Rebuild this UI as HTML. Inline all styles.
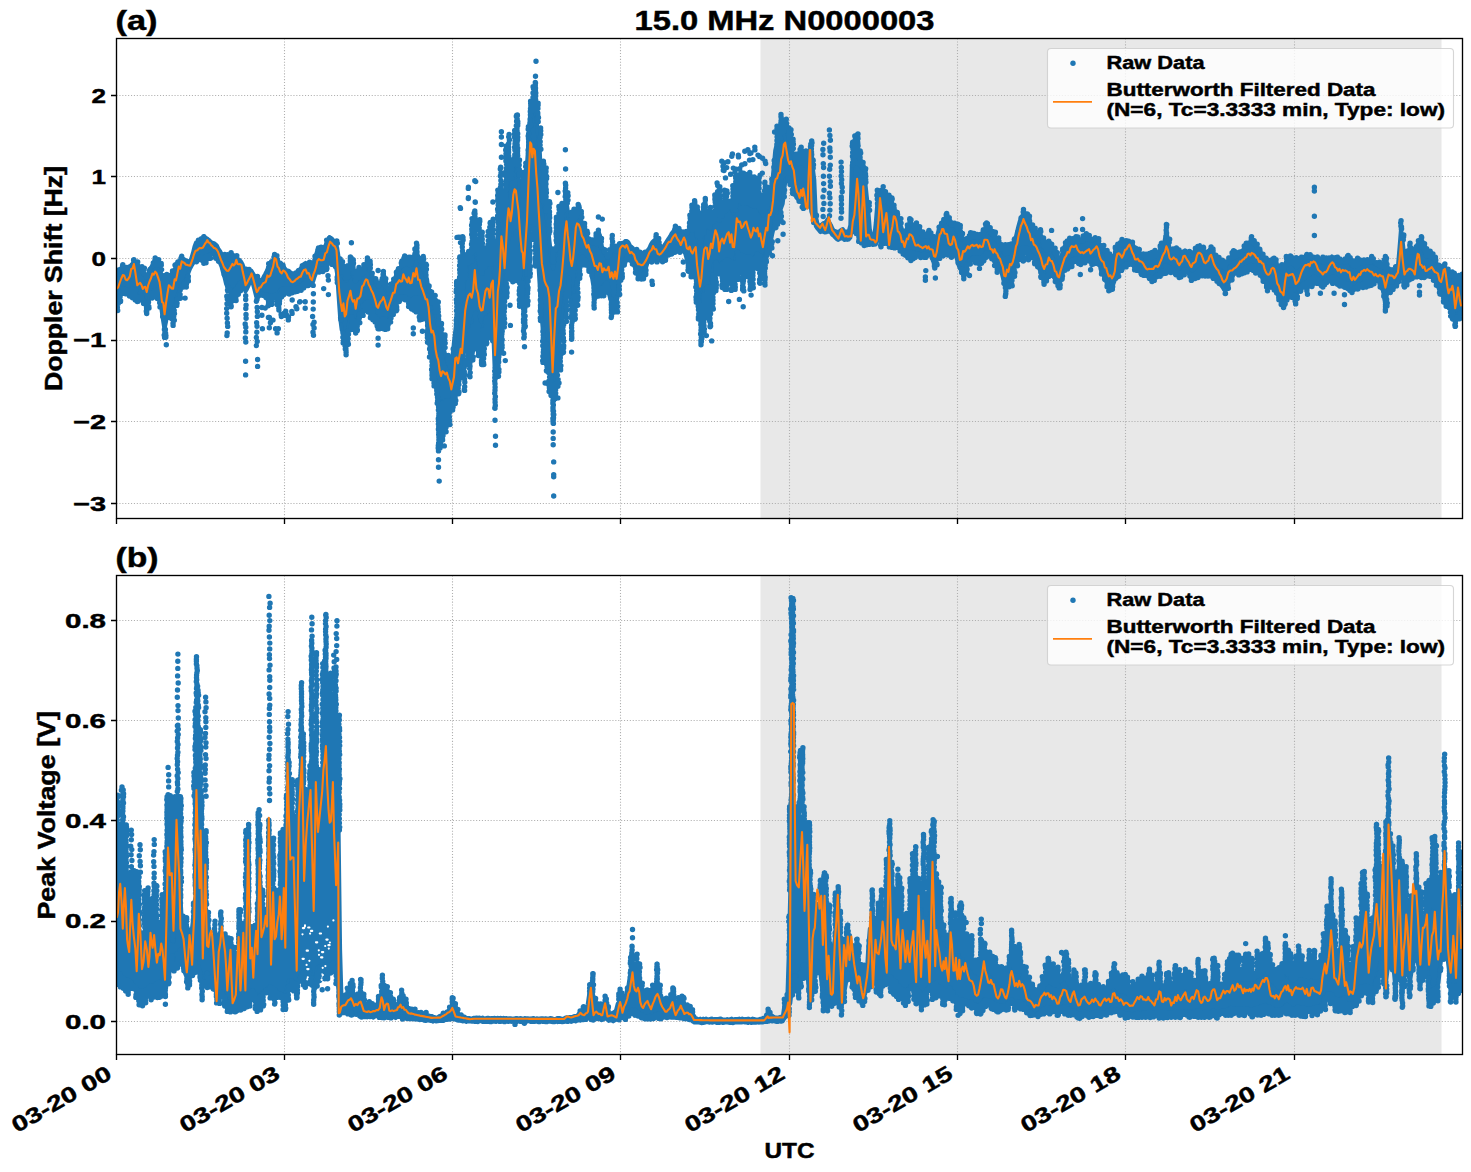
<!DOCTYPE html>
<html><head><meta charset="utf-8">
<style>
html,body{margin:0;padding:0;background:#fff;}
svg{display:block;}
text{font-family:"Liberation Sans",sans-serif;font-weight:bold;fill:#000;stroke:#000;stroke-width:0.45px;}
.g{stroke:#b0b0b0;stroke-width:1.1;stroke-dasharray:1.1 1.8;fill:none;}
.t{stroke:#000;stroke-width:1.35;}
</style></head><body>
<svg width="1471" height="1172" viewBox="0 0 1471 1172">
<rect width="1471" height="1172" fill="#fff"/>
<defs>
<clipPath id="c1"><rect x="116.5" y="38.5" width="1346" height="480"/></clipPath>
<clipPath id="c2"><rect x="116.5" y="575.5" width="1346" height="479"/></clipPath>
</defs>
<!-- TOP AXES -->
<g clip-path="url(#c1)">
<rect x="760.5" y="38.5" width="681" height="480" fill="#e8e8e8"/>
<g class="g">
<path d="M284.5 38.5V518.5M452.5 38.5V518.5M620.5 38.5V518.5M789.5 38.5V518.5M957.5 38.5V518.5M1125.5 38.5V518.5M1294.5 38.5V518.5"/>
<path d="M116.5 95.5H1462.5M116.5 176.5H1462.5M116.5 258.5H1462.5M116.5 340.5H1462.5M116.5 421.5H1462.5M116.5 503.5H1462.5"/>
</g>
<polygon points="116.5,274.4 118.0,273.5 119.5,271.2 121.0,269.0 122.5,267.7 124.0,267.9 125.5,269.6 127.0,271.9 128.5,269.8 130.0,266.9 131.5,264.6 133.0,263.3 134.5,262.4 136.0,265.2 137.5,269.4 139.0,270.1 140.5,270.6 142.0,271.5 143.5,274.0 145.0,275.7 146.5,276.9 148.0,273.8 149.5,270.7 151.0,267.2 152.5,265.5 154.0,262.5 155.5,262.5 157.0,264.5 158.5,265.3 160.0,269.6 161.5,274.9 163.0,282.0 164.5,287.1 166.0,284.1 167.5,281.4 169.0,278.4 170.5,276.0 172.0,274.5 173.5,272.5 175.0,269.1 176.5,266.5 178.0,262.8 179.5,260.8 181.0,259.7 182.5,258.3 184.0,259.0 185.5,260.2 187.0,260.4 188.5,261.2 190.0,262.6 191.5,257.7 193.0,252.6 194.5,246.4 196.0,242.6 197.5,242.8 199.0,241.3 200.5,240.9 202.0,239.4 203.5,239.3 205.0,238.1 206.5,238.1 208.0,239.2 209.5,240.4 211.0,242.0 212.5,242.6 214.0,243.1 215.5,244.3 217.0,245.7 218.5,249.1 220.0,251.0 221.5,254.0 223.0,255.2 224.5,257.3 226.0,258.7 227.5,259.8 229.0,258.3 230.5,256.7 232.0,256.7 233.5,257.9 235.0,257.5 236.5,258.5 238.0,259.2 239.5,259.9 241.0,261.6 242.5,264.2 244.0,268.5 245.5,272.2 247.0,272.7 248.5,271.6 250.0,271.7 251.6,270.9 253.1,273.6 254.6,275.8 256.1,279.8 257.6,280.9 259.1,281.0 260.6,280.9 262.1,280.1 263.6,276.8 265.1,274.1 266.6,271.1 268.1,267.7 269.6,264.2 271.1,262.5 272.6,260.7 274.1,259.9 275.6,259.5 277.1,260.8 278.6,262.0 280.1,265.7 281.6,266.8 283.1,267.5 284.6,268.0 286.1,269.9 287.6,270.5 289.1,271.0 290.6,272.4 292.1,273.3 293.6,273.9 295.1,272.4 296.6,272.1 298.1,269.9 299.6,269.6 301.1,267.8 302.6,265.8 304.1,263.8 305.6,262.8 307.1,264.4 308.6,264.9 310.1,266.7 311.6,267.8 313.1,264.9 314.6,259.7 316.1,254.4 317.6,249.6 319.1,250.1 320.6,249.1 322.1,249.2 323.6,248.7 325.1,245.8 326.6,243.6 328.1,240.8 329.6,237.1 331.1,238.0 332.6,239.3 334.1,241.5 335.6,243.2 337.1,247.4 338.6,257.0 340.1,266.3 341.6,271.8 343.1,275.7 344.6,278.1 346.1,280.9 347.6,277.1 349.1,271.6 350.6,268.9 352.1,272.6 353.6,276.8 355.1,280.6 356.6,280.2 358.1,277.6 359.6,275.8 361.1,273.9 362.6,271.8 364.1,269.8 365.6,266.9 367.1,265.0 368.6,268.0 370.1,272.0 371.6,275.2 373.1,279.3 374.6,280.8 376.1,284.1 377.6,286.0 379.1,285.6 380.6,284.2 382.1,283.1 383.6,281.7 385.1,286.4 386.6,291.1 388.1,293.2 389.6,290.3 391.1,286.2 392.6,282.7 394.1,280.2 395.6,276.5 397.1,272.9 398.6,270.4 400.1,267.8 401.6,265.6 403.1,264.6 404.6,262.7 406.1,262.9 407.6,263.7 409.1,264.6 410.6,264.2 412.1,260.7 413.6,257.5 415.1,253.8 416.6,251.7 418.1,256.0 419.6,260.6 421.1,264.6 422.6,268.8 424.1,271.6 425.6,275.0 427.1,279.2 428.6,291.0 430.1,302.8 431.6,306.1 433.1,308.8 434.6,311.5 436.1,315.8 437.6,323.5 439.1,331.3 440.6,335.8 442.1,341.9 443.6,347.6 445.1,354.2 446.6,359.0 448.1,363.3 449.6,367.1 451.1,361.5 452.6,356.5 454.1,340.5 455.6,327.7 457.1,316.7 458.6,310.4 460.1,303.2 461.6,298.7 463.1,290.6 464.6,277.8 466.1,268.4 467.6,262.9 469.1,260.5 470.6,260.7 472.1,258.0 473.6,250.2 475.1,246.5 476.6,253.3 478.1,261.4 479.6,267.3 481.1,273.3 482.6,270.7 484.1,267.2 485.6,263.5 487.1,263.9 488.6,264.4 490.1,264.3 491.6,258.7 493.1,259.2 494.6,285.7 496.1,274.6 497.6,251.0 499.1,236.1 500.6,217.5 502.1,207.0 503.6,212.8 505.1,211.0 506.6,195.4 508.1,179.1 509.6,178.6 511.1,178.1 512.6,169.5 514.1,160.7 515.6,160.9 517.1,164.6 518.6,175.1 520.1,192.1 521.7,209.6 523.2,193.5 524.7,188.5 526.2,176.5 527.7,153.1 529.2,125.5 530.7,107.4 532.2,110.5 533.7,109.0 535.2,108.8 536.7,121.7 538.2,136.0 539.7,149.2 541.2,180.6 542.7,201.0 544.2,205.6 545.7,210.8 547.2,221.1 548.7,233.5 550.2,247.5 551.7,262.2 553.2,268.5 554.7,258.9 556.2,249.5 557.7,240.5 559.2,231.6 560.7,223.8 562.2,218.2 563.7,209.5 565.2,202.3 566.7,202.9 568.2,213.8 569.7,225.0 571.2,229.0 572.7,226.8 574.2,222.1 575.7,216.8 577.2,214.7 578.7,212.8 580.2,217.3 581.7,221.5 583.2,226.7 584.7,230.1 586.2,233.2 587.7,237.2 589.2,239.7 590.7,242.4 592.2,242.8 593.7,242.7 595.2,243.6 596.7,243.6 598.2,242.5 599.7,244.9 601.2,247.1 602.7,249.3 604.2,251.8 605.7,254.9 607.2,257.0 608.7,254.8 610.2,251.8 611.7,249.4 613.2,250.1 614.7,251.0 616.2,252.5 617.7,249.6 619.2,246.6 620.7,245.1 622.2,244.3 623.7,242.9 625.2,241.1 626.7,240.9 628.2,242.0 629.7,245.0 631.2,246.7 632.7,247.8 634.2,250.3 635.7,252.2 637.2,253.2 638.7,255.6 640.2,255.4 641.7,256.4 643.2,255.5 644.7,253.9 646.2,252.2 647.7,250.3 649.2,248.3 650.7,244.8 652.2,242.1 653.7,240.7 655.2,239.4 656.7,239.9 658.2,242.4 659.7,245.4 661.2,246.1 662.7,247.4 664.2,245.4 665.7,243.0 667.2,240.7 668.7,238.3 670.2,236.1 671.7,233.3 673.2,231.4 674.7,228.7 676.2,229.0 677.7,230.4 679.2,232.1 680.7,234.1 682.2,232.6 683.7,231.3 685.2,233.2 686.7,233.9 688.2,232.2 689.7,226.6 691.2,230.0 692.7,229.2 694.2,227.0 695.7,226.0 697.2,235.2 698.7,244.6 700.2,251.3 701.7,241.5 703.2,233.2 704.7,226.3 706.2,226.1 707.7,226.3 709.2,227.8 710.7,225.4 712.2,221.9 713.7,218.7 715.2,215.9 716.7,214.4 718.2,218.9 719.7,219.9 721.2,215.7 722.7,212.8 724.2,211.2 725.7,209.4 727.2,207.9 728.7,206.4 730.2,209.2 731.7,210.3 733.2,213.2 734.7,210.3 736.2,202.1 737.7,199.3 739.2,200.8 740.7,202.6 742.2,203.4 743.7,203.0 745.2,202.6 746.7,202.8 748.2,202.8 749.7,204.6 751.2,205.9 752.7,206.2 754.2,205.8 755.7,205.4 757.2,203.8 758.7,207.4 760.2,210.7 761.7,213.5 763.2,215.9 764.7,211.2 766.2,206.9 767.7,205.0 769.2,203.3 770.7,190.3 772.2,182.1 773.7,167.1 775.2,150.5 776.7,144.1 778.2,140.4 779.7,138.1 781.2,133.1 782.7,131.4 784.2,128.0 785.7,127.7 787.2,132.4 788.7,138.0 790.3,141.5 791.8,148.4 793.3,155.7 794.8,160.3 796.3,163.3 797.8,163.6 799.3,162.7 800.8,161.4 802.3,162.7 803.8,163.5 805.3,165.4 806.8,165.9 808.3,160.9 809.8,149.7 811.3,159.8 812.8,168.0 814.3,179.7 815.8,215.7 817.3,222.8 818.8,226.4 820.3,227.6 821.8,224.6 823.3,223.0 824.8,223.5 826.3,221.1 827.8,219.0 829.3,222.2 830.8,224.9 832.3,228.4 833.8,230.9 835.3,231.1 836.8,231.8 838.3,231.8 839.8,231.1 841.3,229.8 842.8,229.0 844.3,231.3 845.8,231.4 847.3,231.4 848.8,231.0 850.3,225.2 851.8,165.3 853.3,163.0 854.8,162.8 856.3,154.7 857.8,154.2 859.3,164.5 860.8,167.0 862.3,168.2 863.8,166.6 865.3,182.3 866.8,196.4 868.3,210.2 869.8,228.9 871.3,235.2 872.8,236.0 874.3,236.5 875.8,222.3 877.3,203.4 878.8,197.2 880.3,193.3 881.8,197.7 883.3,201.7 884.8,199.0 886.3,196.8 887.8,203.5 889.3,207.3 890.8,209.9 892.3,209.0 893.8,208.3 895.3,211.3 896.8,214.6 898.3,218.1 899.8,223.1 901.3,227.1 902.8,231.8 904.3,234.6 905.8,230.9 907.3,227.8 908.8,225.3 910.3,223.7 911.8,225.5 913.3,226.4 914.8,228.1 916.3,230.0 917.8,230.8 919.3,232.3 920.8,234.2 922.3,235.4 923.8,236.1 925.3,236.2 926.8,235.2 928.3,235.2 929.8,236.0 931.3,238.7 932.8,241.4 934.3,243.7 935.8,241.0 937.3,235.1 938.8,229.2 940.3,225.7 941.8,222.8 943.3,221.2 944.8,220.2 946.3,220.2 947.8,220.9 949.3,224.3 950.8,225.1 952.3,224.0 953.8,224.5 955.3,227.7 956.8,231.0 958.3,233.8 959.8,236.6 961.3,238.9 962.8,239.7 964.3,240.8 965.8,241.8 967.3,239.6 968.8,238.1 970.3,236.9 971.8,236.8 973.3,236.6 974.8,237.4 976.3,237.5 977.8,237.3 979.3,236.5 980.8,235.3 982.3,233.3 983.8,231.0 985.3,229.4 986.8,228.2 988.3,230.2 989.8,232.5 991.3,234.6 992.8,236.3 994.3,237.5 995.8,239.1 997.3,241.3 998.8,243.5 1000.3,245.7 1001.8,248.9 1003.3,251.8 1004.8,253.6 1006.3,254.1 1007.8,253.0 1009.3,250.8 1010.8,248.8 1012.3,245.7 1013.8,241.9 1015.3,239.0 1016.8,232.7 1018.3,226.6 1019.8,221.1 1021.3,217.0 1022.8,215.0 1024.3,214.2 1025.8,215.2 1027.3,218.8 1028.8,221.0 1030.3,224.3 1031.8,227.0 1033.3,231.1 1034.8,232.5 1036.3,234.4 1037.8,235.9 1039.3,237.3 1040.8,242.4 1042.3,245.7 1043.8,250.8 1045.3,249.8 1046.8,248.7 1048.3,246.9 1049.8,247.3 1051.3,249.3 1052.8,251.1 1054.3,253.5 1055.8,256.3 1057.3,259.2 1058.9,262.1 1060.4,259.7 1061.9,255.0 1063.4,250.0 1064.9,246.1 1066.4,244.0 1067.9,242.3 1069.4,241.0 1070.9,240.2 1072.4,239.3 1073.9,239.6 1075.4,238.9 1076.9,239.5 1078.4,239.9 1079.9,240.7 1081.4,241.3 1082.9,240.7 1084.4,239.8 1085.9,238.5 1087.4,239.2 1088.9,239.3 1090.4,240.0 1091.9,240.6 1093.4,240.1 1094.9,238.9 1096.4,238.6 1097.9,241.0 1099.4,244.5 1100.9,246.7 1102.4,249.5 1103.9,251.7 1105.4,254.7 1106.9,257.5 1108.4,259.5 1109.9,259.2 1111.4,258.8 1112.9,258.2 1114.4,254.9 1115.9,250.0 1117.4,245.2 1118.9,245.2 1120.4,244.8 1121.9,244.7 1123.4,243.5 1124.9,242.6 1126.4,241.7 1127.9,240.5 1129.4,240.8 1130.9,242.3 1132.4,244.4 1133.9,246.5 1135.4,248.7 1136.9,250.8 1138.4,251.9 1139.9,253.0 1141.4,255.3 1142.9,255.6 1144.4,256.6 1145.9,258.2 1147.4,258.0 1148.9,258.4 1150.4,257.7 1151.9,257.1 1153.4,256.2 1154.9,256.1 1156.4,255.4 1157.9,253.3 1159.4,251.0 1160.9,249.3 1162.4,246.5 1163.9,244.6 1165.4,236.1 1166.9,233.6 1168.4,242.3 1169.9,249.4 1171.4,251.3 1172.9,251.7 1174.4,250.8 1175.9,250.6 1177.4,252.8 1178.9,255.8 1180.4,254.2 1181.9,253.0 1183.4,251.3 1184.9,250.3 1186.4,251.2 1187.9,252.8 1189.4,254.5 1190.9,255.5 1192.4,254.7 1193.9,252.8 1195.4,251.6 1196.9,248.8 1198.4,247.7 1199.9,245.1 1201.4,248.1 1202.9,250.3 1204.4,252.5 1205.9,253.3 1207.4,252.4 1208.9,250.6 1210.4,249.3 1211.9,250.4 1213.4,252.5 1214.9,256.1 1216.4,258.5 1217.9,261.3 1219.4,263.8 1220.9,265.5 1222.4,267.5 1223.9,268.0 1225.4,266.7 1226.9,264.1 1228.4,261.5 1229.9,259.7 1231.4,257.7 1232.9,256.7 1234.4,255.7 1235.9,255.8 1237.4,254.8 1238.9,254.8 1240.4,254.4 1241.9,251.8 1243.4,249.8 1244.9,246.9 1246.4,246.4 1247.9,244.5 1249.4,243.0 1250.9,241.9 1252.4,242.5 1253.9,243.9 1255.4,245.9 1256.9,247.5 1258.4,250.6 1259.9,251.8 1261.4,254.4 1262.9,256.1 1264.4,258.6 1265.9,261.0 1267.4,262.2 1268.9,262.6 1270.4,261.6 1271.9,261.9 1273.4,260.9 1274.9,262.5 1276.4,264.5 1277.9,267.4 1279.4,269.9 1280.9,271.4 1282.4,272.5 1283.9,272.7 1285.4,265.3 1286.9,261.7 1288.4,261.4 1289.9,262.0 1291.4,262.7 1292.9,264.2 1294.4,265.4 1295.9,266.7 1297.4,264.8 1298.9,263.1 1300.4,262.0 1301.9,260.4 1303.4,259.3 1304.9,258.9 1306.4,256.8 1307.9,257.1 1309.4,257.0 1310.9,256.9 1312.4,256.2 1313.9,256.6 1315.4,257.3 1316.9,259.2 1318.4,260.6 1319.9,260.8 1321.4,261.5 1322.9,261.8 1324.4,261.8 1325.9,261.2 1327.4,261.4 1329.0,259.5 1330.5,258.8 1332.0,256.4 1333.5,258.0 1335.0,258.7 1336.5,259.9 1338.0,261.0 1339.5,261.7 1341.0,261.8 1342.5,261.7 1344.0,262.0 1345.5,261.5 1347.0,260.7 1348.5,260.9 1350.0,263.1 1351.5,265.5 1353.0,265.8 1354.5,265.5 1356.0,264.3 1357.5,263.9 1359.0,263.6 1360.5,262.9 1362.0,262.2 1363.5,262.4 1365.0,262.5 1366.5,262.3 1368.0,261.8 1369.5,261.7 1371.0,261.2 1372.5,261.0 1374.0,262.4 1375.5,264.1 1377.0,264.6 1378.5,265.4 1380.0,266.7 1381.5,266.4 1383.0,267.5 1384.5,266.9 1386.0,267.4 1387.5,267.8 1389.0,268.2 1390.5,269.6 1392.0,269.1 1393.5,269.8 1395.0,269.3 1396.5,266.9 1398.0,265.0 1399.5,247.6 1401.0,228.7 1402.5,239.8 1404.0,254.0 1405.5,258.2 1407.0,256.0 1408.5,253.4 1410.0,251.9 1411.5,251.5 1413.0,252.8 1414.5,252.3 1416.0,250.7 1417.5,244.3 1419.0,244.1 1420.5,244.9 1422.0,246.9 1423.5,249.8 1425.0,252.8 1426.5,255.5 1428.0,256.4 1429.5,256.4 1431.0,256.3 1432.5,257.8 1434.0,260.3 1435.5,262.3 1437.0,264.1 1438.5,266.3 1440.0,268.6 1441.5,269.5 1443.0,267.5 1444.5,266.9 1446.0,268.7 1447.5,272.2 1449.0,276.1 1450.5,275.7 1452.0,274.9 1453.5,279.6 1455.0,286.4 1456.5,283.3 1458.0,279.3 1459.5,280.6 1461.0,283.9 1462.5,283.7 1462.5,313.7 1461.0,314.2 1459.5,313.4 1458.0,313.1 1456.5,316.7 1455.0,320.5 1453.5,313.0 1452.0,308.4 1450.5,308.2 1449.0,308.7 1447.5,304.0 1446.0,298.8 1444.5,296.2 1443.0,294.4 1441.5,295.0 1440.0,292.6 1438.5,288.0 1437.0,284.0 1435.5,281.9 1434.0,279.4 1432.5,277.3 1431.0,276.8 1429.5,276.9 1428.0,276.6 1426.5,276.6 1425.0,276.3 1423.5,275.2 1422.0,275.0 1420.5,273.2 1419.0,270.8 1417.5,269.3 1416.0,274.5 1414.5,275.6 1413.0,276.5 1411.5,276.4 1410.0,277.2 1408.5,278.6 1407.0,281.1 1405.5,282.4 1404.0,280.7 1402.5,272.2 1401.0,266.5 1399.5,273.7 1398.0,280.8 1396.5,284.0 1395.0,286.6 1393.5,287.9 1392.0,287.1 1390.5,287.8 1389.0,287.1 1387.5,292.1 1386.0,299.4 1384.5,298.6 1383.0,290.8 1381.5,287.8 1380.0,284.4 1378.5,281.5 1377.0,281.3 1375.5,280.9 1374.0,281.4 1372.5,281.9 1371.0,281.9 1369.5,281.2 1368.0,281.8 1366.5,282.3 1365.0,282.1 1363.5,282.1 1362.0,283.8 1360.5,284.5 1359.0,285.5 1357.5,285.5 1356.0,287.4 1354.5,287.4 1353.0,288.9 1351.5,288.8 1350.0,286.7 1348.5,285.8 1347.0,284.3 1345.5,283.6 1344.0,282.8 1342.5,282.4 1341.0,281.8 1339.5,281.6 1338.0,281.7 1336.5,279.7 1335.0,278.8 1333.5,277.3 1332.0,276.8 1330.5,277.3 1329.0,278.2 1327.4,278.3 1325.9,280.2 1324.4,282.6 1322.9,284.3 1321.4,282.8 1319.9,281.7 1318.4,280.5 1316.9,278.6 1315.4,277.8 1313.9,277.0 1312.4,277.4 1310.9,278.7 1309.4,280.3 1307.9,281.3 1306.4,282.5 1304.9,282.9 1303.4,283.3 1301.9,284.2 1300.4,286.7 1298.9,289.8 1297.4,293.3 1295.9,296.6 1294.4,295.4 1292.9,292.9 1291.4,289.9 1289.9,289.9 1288.4,289.8 1286.9,289.6 1285.4,294.3 1283.9,301.4 1282.4,302.5 1280.9,300.6 1279.4,298.7 1277.9,294.4 1276.4,290.3 1274.9,286.0 1273.4,284.6 1271.9,285.3 1270.4,285.7 1268.9,285.8 1267.4,286.0 1265.9,283.1 1264.4,280.5 1262.9,278.3 1261.4,276.1 1259.9,273.3 1258.4,271.6 1256.9,269.5 1255.4,268.2 1253.9,267.2 1252.4,265.6 1250.9,265.0 1249.4,265.5 1247.9,266.3 1246.4,267.1 1244.9,267.7 1243.4,268.5 1241.9,269.7 1240.4,270.3 1238.9,271.7 1237.4,272.2 1235.9,273.6 1234.4,274.0 1232.9,275.7 1231.4,277.3 1229.9,279.5 1228.4,283.5 1226.9,286.0 1225.4,290.1 1223.9,289.5 1222.4,287.0 1220.9,285.0 1219.4,282.6 1217.9,281.5 1216.4,278.2 1214.9,275.8 1213.4,273.3 1211.9,271.1 1210.4,269.9 1208.9,270.5 1207.4,271.8 1205.9,272.6 1204.4,271.6 1202.9,270.4 1201.4,269.6 1199.9,268.7 1198.4,269.5 1196.9,271.9 1195.4,272.9 1193.9,274.4 1192.4,276.1 1190.9,275.7 1189.4,273.9 1187.9,272.0 1186.4,270.2 1184.9,268.6 1183.4,269.8 1181.9,271.7 1180.4,273.3 1178.9,274.4 1177.4,272.5 1175.9,271.3 1174.4,271.2 1172.9,270.2 1171.4,270.5 1169.9,269.2 1168.4,267.1 1166.9,264.2 1165.4,265.6 1163.9,267.7 1162.4,269.6 1160.9,271.2 1159.4,273.1 1157.9,274.9 1156.4,275.2 1154.9,276.5 1153.4,277.8 1151.9,278.0 1150.4,277.6 1148.9,277.2 1147.4,276.4 1145.9,275.9 1144.4,274.0 1142.9,272.8 1141.4,271.3 1139.9,270.2 1138.4,269.6 1136.9,269.3 1135.4,268.9 1133.9,266.7 1132.4,264.2 1130.9,261.3 1129.4,260.5 1127.9,261.3 1126.4,262.5 1124.9,263.6 1123.4,265.7 1121.9,266.9 1120.4,267.2 1118.9,268.3 1117.4,268.8 1115.9,275.0 1114.4,281.2 1112.9,285.2 1111.4,286.6 1109.9,286.7 1108.4,286.4 1106.9,282.4 1105.4,279.9 1103.9,276.5 1102.4,272.6 1100.9,269.1 1099.4,264.9 1097.9,261.1 1096.4,258.4 1094.9,258.9 1093.4,260.5 1091.9,261.0 1090.4,260.4 1088.9,260.4 1087.4,259.5 1085.9,259.5 1084.4,260.1 1082.9,260.4 1081.4,261.7 1079.9,261.4 1078.4,259.5 1076.9,257.8 1075.4,258.3 1073.9,258.7 1072.4,259.4 1070.9,260.4 1069.4,262.6 1067.9,263.4 1066.4,264.6 1064.9,266.6 1063.4,271.0 1061.9,276.1 1060.4,281.6 1058.9,285.0 1057.3,282.7 1055.8,280.1 1054.3,278.1 1052.8,275.7 1051.3,274.2 1049.8,272.2 1048.3,271.3 1046.8,274.5 1045.3,277.6 1043.8,278.8 1042.3,275.7 1040.8,272.5 1039.3,268.7 1037.8,266.6 1036.3,262.9 1034.8,260.1 1033.3,258.1 1031.8,256.1 1030.3,252.7 1028.8,250.7 1027.3,248.9 1025.8,248.0 1024.3,248.6 1022.8,247.9 1021.3,248.9 1019.8,249.3 1018.3,254.2 1016.8,259.5 1015.3,265.1 1013.8,270.3 1012.3,275.0 1010.8,280.2 1009.3,282.6 1007.8,285.2 1006.3,287.7 1004.8,285.7 1003.3,279.4 1001.8,273.7 1000.3,268.0 998.8,266.7 997.3,266.6 995.8,264.2 994.3,261.1 992.8,259.3 991.3,257.0 989.8,254.9 988.3,254.4 986.8,253.0 985.3,253.1 983.8,255.1 982.3,256.4 980.8,258.1 979.3,258.4 977.8,258.4 976.3,258.5 974.8,257.7 973.3,257.7 971.8,258.3 970.3,259.0 968.8,261.0 967.3,263.2 965.8,265.3 964.3,269.9 962.8,270.4 961.3,269.4 959.8,268.5 958.3,264.3 956.8,258.8 955.3,254.2 953.8,252.2 952.3,253.1 950.8,253.7 949.3,252.5 947.8,250.1 946.3,249.0 944.8,248.2 943.3,247.4 941.8,247.4 940.3,248.7 938.8,252.9 937.3,257.6 935.8,263.6 934.3,263.4 932.8,260.7 931.3,256.5 929.8,253.8 928.3,254.9 926.8,254.7 925.3,255.2 923.8,254.3 922.3,254.5 920.8,254.3 919.3,255.1 917.8,254.2 916.3,255.0 914.8,254.3 913.3,254.5 911.8,252.9 910.3,252.3 908.8,252.1 907.3,251.9 905.8,252.9 904.3,252.8 902.8,251.2 901.3,249.2 899.8,247.0 898.3,244.5 896.8,242.2 895.3,240.0 893.8,238.4 892.3,240.3 890.8,243.4 889.3,242.4 887.8,242.0 886.3,235.5 884.8,239.0 883.3,241.3 881.8,237.0 880.3,232.3 878.8,235.9 877.3,240.8 875.8,244.5 874.3,244.8 872.8,244.9 871.3,244.2 869.8,244.3 868.3,242.0 866.8,239.5 865.3,237.3 863.8,226.9 862.3,231.9 860.8,232.4 859.3,231.1 857.8,222.5 856.3,222.3 854.8,229.2 853.3,229.2 851.8,229.2 850.3,237.8 848.8,239.5 847.3,239.9 845.8,239.5 844.3,240.0 842.8,238.2 841.3,238.3 839.8,238.9 838.3,239.9 836.8,239.2 835.3,237.6 833.8,235.9 832.3,234.9 830.8,232.5 829.3,231.8 827.8,231.2 826.3,232.3 824.8,232.6 823.3,231.7 821.8,231.6 820.3,232.1 818.8,230.1 817.3,228.5 815.8,226.2 814.3,218.8 812.8,216.1 811.3,211.7 809.8,193.9 808.3,203.4 806.8,204.2 805.3,204.2 803.8,203.2 802.3,202.7 800.8,200.9 799.3,200.0 797.8,199.1 796.3,197.6 794.8,192.0 793.3,187.7 791.8,185.6 790.3,182.7 788.7,178.7 787.2,178.0 785.7,178.9 784.2,190.1 782.7,203.9 781.2,207.9 779.7,212.4 778.2,213.6 776.7,216.6 775.2,221.2 773.7,227.9 772.2,234.3 770.7,241.7 769.2,240.2 767.7,245.2 766.2,251.5 764.7,258.8 763.2,263.5 761.7,263.2 760.2,259.4 758.7,255.9 757.2,254.3 755.7,256.2 754.2,258.0 752.7,258.8 751.2,259.3 749.7,258.5 748.2,256.7 746.7,256.5 745.2,257.1 743.7,256.7 742.2,256.4 740.7,255.3 739.2,254.0 737.7,252.2 736.2,255.1 734.7,263.5 733.2,265.5 731.7,263.4 730.2,261.7 728.7,259.5 727.2,260.2 725.7,260.6 724.2,261.8 722.7,261.8 721.2,263.9 719.7,267.2 718.2,265.6 716.7,261.4 715.2,262.8 713.7,264.8 712.2,274.9 710.7,283.5 709.2,286.9 707.7,288.0 706.2,287.5 704.7,289.2 703.2,295.1 701.7,305.0 700.2,310.7 698.7,302.1 697.2,289.3 695.7,273.0 694.2,268.1 692.7,268.7 691.2,265.9 689.7,267.7 688.2,264.7 686.7,259.1 685.2,253.8 683.7,250.4 682.2,250.7 680.7,252.1 679.2,249.7 677.7,247.6 676.2,247.7 674.7,246.8 673.2,248.2 671.7,249.6 670.2,251.0 668.7,253.0 667.2,254.5 665.7,256.1 664.2,257.3 662.7,259.3 661.2,259.8 659.7,260.6 658.2,259.7 656.7,259.5 655.2,258.7 653.7,257.3 652.2,258.2 650.7,259.6 649.2,261.6 647.7,262.2 646.2,267.1 644.7,270.2 643.2,274.4 641.7,275.1 640.2,275.0 638.7,274.6 637.2,273.0 635.7,269.4 634.2,266.0 632.7,262.8 631.2,261.6 629.7,260.3 628.2,257.8 626.7,256.3 625.2,258.9 623.7,263.0 622.2,267.5 620.7,269.8 619.2,281.6 617.7,297.1 616.2,302.4 614.7,301.8 613.2,302.6 611.7,302.3 610.2,298.9 608.7,292.7 607.2,287.4 605.7,283.4 604.2,284.5 602.7,287.1 601.2,288.1 599.7,290.1 598.2,290.6 596.7,292.2 595.2,291.6 593.7,288.3 592.2,279.0 590.7,270.3 589.2,264.3 587.7,263.6 586.2,261.5 584.7,260.1 583.2,258.8 581.7,257.1 580.2,254.7 578.7,259.7 577.2,279.6 575.7,286.6 574.2,296.5 572.7,306.7 571.2,305.9 569.7,292.3 568.2,278.2 566.7,275.6 565.2,290.5 563.7,307.6 562.2,321.9 560.7,334.6 559.2,346.0 557.7,357.1 556.2,367.3 554.7,383.7 553.2,400.6 551.7,394.3 550.2,378.1 548.7,361.9 547.2,352.6 545.7,343.6 544.2,338.4 542.7,329.4 541.2,310.1 539.7,286.2 538.2,261.6 536.7,236.3 535.2,228.7 533.7,228.9 532.2,229.5 530.7,226.2 529.2,236.5 527.7,254.7 526.2,278.6 524.7,300.9 523.2,308.7 521.7,283.3 520.1,269.6 518.6,253.9 517.1,243.3 515.6,232.5 514.1,230.2 512.6,238.9 511.1,246.7 509.6,247.0 508.1,247.3 506.6,264.6 505.1,284.1 503.6,289.1 502.1,286.2 500.6,295.6 499.1,314.5 497.6,329.9 496.1,357.7 494.6,368.1 493.1,327.3 491.6,317.8 490.1,318.7 488.6,315.4 487.1,317.0 485.6,318.0 484.1,324.4 482.6,330.4 481.1,334.4 479.6,329.4 478.1,325.4 476.6,319.5 475.1,313.5 473.6,318.2 472.1,326.4 470.6,330.3 469.1,330.6 467.6,332.9 466.1,338.6 464.6,347.3 463.1,360.8 461.6,368.8 460.1,372.6 458.6,377.0 457.1,378.0 455.6,382.4 454.1,388.1 452.6,393.7 451.1,406.8 449.6,401.6 448.1,401.5 446.6,401.6 445.1,400.8 443.6,400.9 442.1,403.4 440.6,405.2 439.1,404.6 437.6,397.5 436.1,385.3 434.6,374.5 433.1,365.1 431.6,357.6 430.1,349.3 428.6,336.5 427.1,321.8 425.6,317.8 424.1,312.7 422.6,307.1 421.1,303.2 419.6,298.0 418.1,301.5 416.6,297.2 415.1,297.8 413.6,298.3 412.1,299.6 410.6,300.7 409.1,299.9 407.6,299.0 406.1,297.9 404.6,296.6 403.1,296.5 401.6,296.6 400.1,296.6 398.6,298.1 397.1,301.0 395.6,303.1 394.1,306.1 392.6,308.5 391.1,313.0 389.6,318.0 388.1,321.8 386.6,321.4 385.1,320.2 383.6,318.8 382.1,319.3 380.6,319.8 379.1,321.6 377.6,321.1 376.1,318.8 374.6,316.4 373.1,313.8 371.6,310.1 370.1,307.0 368.6,303.8 367.1,301.8 365.6,303.0 364.1,303.9 362.6,305.8 361.1,309.5 359.6,314.0 358.1,317.8 356.6,323.0 355.1,323.9 353.6,321.1 352.1,318.4 350.6,316.6 349.1,322.8 347.6,330.9 346.1,339.8 344.6,336.2 343.1,333.1 341.6,329.6 340.1,317.7 338.6,296.3 337.1,274.0 335.6,264.7 334.1,262.9 332.6,260.4 331.1,258.6 329.6,257.3 328.1,260.4 326.6,262.4 325.1,266.1 323.6,268.7 322.1,268.9 320.6,269.1 319.1,269.3 317.6,270.0 316.1,273.0 314.6,276.9 313.1,281.7 311.6,283.8 310.1,283.2 308.6,282.0 307.1,281.6 305.6,280.7 304.1,282.2 302.6,284.2 301.1,285.3 299.6,285.9 298.1,286.8 296.6,288.1 295.1,289.3 293.6,289.7 292.1,289.8 290.6,289.2 289.1,288.6 287.6,289.3 286.1,289.3 284.6,288.9 283.1,288.8 281.6,288.9 280.1,289.5 278.6,297.4 277.1,296.8 275.6,296.2 274.1,295.5 272.6,295.1 271.1,295.9 269.6,295.4 268.1,297.1 266.6,295.9 265.1,294.9 263.6,294.7 262.1,294.2 260.6,295.4 259.1,296.4 257.6,297.6 256.1,296.3 254.6,290.2 253.1,284.4 251.6,278.7 250.0,282.1 248.5,285.7 247.0,289.0 245.5,291.6 244.0,287.7 242.5,283.2 241.0,281.5 239.5,283.3 238.0,286.0 236.5,287.8 235.0,289.4 233.5,291.5 232.0,293.0 230.5,291.7 229.0,289.7 227.5,287.4 226.0,283.7 224.5,277.4 223.0,272.4 221.5,266.7 220.0,263.3 218.5,260.7 217.0,258.3 215.5,257.2 214.0,254.9 212.5,253.9 211.0,253.8 209.5,255.2 208.0,255.7 206.5,256.7 205.0,256.4 203.5,258.3 202.0,258.6 200.5,258.4 199.0,257.3 197.5,258.7 196.0,258.8 194.5,261.4 193.0,263.5 191.5,266.0 190.0,268.9 188.5,272.8 187.0,276.4 185.5,280.3 184.0,281.7 182.5,284.1 181.0,286.3 179.5,289.9 178.0,294.4 176.5,299.3 175.0,304.4 173.5,310.4 172.0,310.7 170.5,308.9 169.0,307.2 167.5,313.6 166.0,321.8 164.5,329.4 163.0,320.2 161.5,309.8 160.0,299.9 158.5,295.3 157.0,292.5 155.5,290.1 154.0,290.3 152.5,292.4 151.0,293.1 149.5,297.8 148.0,302.2 146.5,306.2 145.0,303.6 143.5,300.7 142.0,296.6 140.5,296.3 139.0,296.7 137.5,297.3 136.0,293.4 134.5,290.4 133.0,289.7 131.5,289.3 130.0,289.8 128.5,290.7 127.0,290.2 125.5,290.0 124.0,288.4 122.5,288.9 121.0,292.5 119.5,296.6 118.0,300.4 116.5,303.6" fill="#1f77b4" stroke="#1f77b4" stroke-width="4" stroke-linejoin="round"/>
<path d="m117.4 307.4h0m0.3 3.1h0m0.1 -40.4h0m0.4 33.5h0m0.1 -29.2h0m1.8 22.2h0m0.4 4.8h0m-0 -32.1h0m0.1 31.5h0m0.1 -29.6h0m1.9 -5.8h0m0.1 2.3h0m0 -0h0m0.1 -2.9h0m0.7 24.1h0m0.1 3.8h0m0.1 0.6h0m2.1 -23.7h0m0 20.4h0m0.2 2.3h0m0.1 1.6h0m0.1 -26.4h0m2.9 23.2h0m0.3 -23.8h0m-0 28h0m0.1 -25.1h0m0 26.3h0m3 1.7h0m0.2 -8.5h0m0.1 6.8h0m0.2 -2.9h0m0.6 -32.9h0m0.3 -0.6h0m0 2.7h0m1 -1h0m0.3 1h0m0.1 30.8h0m-0 4.4h0m0 2.3h0m0.5 -9.5h0m1.4 -25.3h0m0 35.2h0m0.1 -3h0m-0 4.3h0m0.4 -39.7h0m0 0.2h0m0.4 7.3h0m0.1 31.8h0m0.1 -3.9h0m0.4 3.1h0m1.2 -33.5h0m-0 3.2h0m0 -2.5h0m1.6 28.7h0m0.1 2.3h0m0.3 -29.9h0m0.1 -2.1h0m0.3 4.9h0m1.2 29.2h0m0.1 2.7h0m0.4 -33.6h0m0.3 4.2h0m0.1 -5.9h0m1.9 43.2h0m0.1 -5.1h0m0.1 -29.3h0m0.1 31.6h0m0 -32.9h0m0.1 37.9h0m0 -7.3h0m0 5.5h0m0.1 -3h0m1.7 -6.5h0m0.3 4.2h0m0.2 1.7h0m0.5 -37.4h0m0.5 -1.2h0m1.8 23.6h0m0.3 4.9h0m0.4 -1.7h0m0.5 -30.8h0m0.3 -2.6h0m1.6 30h0m0 -32.4h0m0.3 -2.5h0m0.1 37.2h0m0 -36.2h0m0.3 3.5h0m0.1 27.8h0m0.1 -27.8h0m1.2 33.7h0m0.3 2.4h0m-0 0h0m0.4 -6.1h0m0.6 -27.2h0m0 -2.8h0m0.4 -2.9h0m1 43.2h0m0.3 4.1h0m0.4 -7h0m0.1 5.6h0m0.7 -42.1h0m0.1 1.7h0m0.3 4.5h0m1.1 46.8h0m0.4 -6.6h0m0 4.4h0m1.1 20.9h0m0.2 -5.7h0m0.1 -45.1h0m0.1 53.1h0m0 -59.4h0m0.1 3h0m-0 -5.6h0m0.2 11.7h0m0 45.4h0m0.5 -3.1h0m0.2 3.9h0m0.2 3.9h0m0.1 -1.6h0m0.4 9.1h0m0.2 -63.8h0m0.1 -2.4h0m0.1 -3h0m0.1 -1h0m0 9.6h0m2.2 25.4h0m0.1 -2.3h0m0.1 10.2h0m0.3 -4.9h0m0.1 4h0m0.4 -41h0m0 0.7h0m0.4 2.2h0m0.6 34.5h0m0.2 3.5h0m0 -7.5h0m0.3 9.7h0m0.8 -44.1h0m0.2 -3.5h0m0.4 45.4h0m0.1 7h0m0.1 0.4h0m0 1.6h0m0.1 -12.3h0m0 -2.7h0m0.1 10.7h0m0 -2.1h0m0.4 -2.6h0m0.3 3.8h0m0.2 -9.8h0m0.1 9.8h0m0.2 -6.6h0m0.5 -48.5h0m0.5 -0.5h0m-0 4.5h0m1.3 36.3h0m0.3 -2.1h0m0.2 -4h0m0.5 -37.1h0m0 4.3h0m0.1 -4.5h0m2.2 32.4h0m0.1 -4.5h0m0.1 8.3h0m0 -0.4h0m0.7 -39.5h0m0.3 2.5h0m0.3 -3.3h0m0.1 -1.3h0m0.2 3.5h0m1.7 27.4h0m0.2 -3h0m1.3 14h0m1 -11.5h0m0.2 0.5h0m0.1 -2.9h0m0.4 -3.9h0m1.3 -1.6h0m0.2 -2.3h0m0.1 4.5h0m7.7 -22.1h0m0.3 2.9h0m2 -21.5h0m0 2.6h0m1.5 16.8h0m0.3 -2.3h0m1.2 -18.6h0m0.3 2.2h0m0.6 17.7h0m0.4 2.2h0m1.1 -24.2h0m0 26.6h0m0.1 -26.5h0m0 2.6h0m0.1 21.7h0m0.1 -2.7h0m1.5 -1.9h0m0.1 3.5h0m0.3 2.8h0m2.4 -4.1h0m0.4 -2.9h0m1.3 2.4h0m0.1 -2.9h0m0.3 3.1h0m5.3 -0.1h0m0 -1h0m2.6 3.5h0m0.2 0.6h0m5.6 13.2h0m0.4 -2.1h0m0 -15.1h0m0.2 -2.8h0m1.9 58.8h0m0 -4.7h0m0.1 -12.3h0m0.1 39.3h0m0.1 -31.8h0m0.1 -47.5h0m0 61.9h0m0.1 14.8h0m0.1 -33.9h0m0.1 23.8h0m0.1 -32.8h0m-0 -35.3h0m0.2 3.9h0m0 67.7h0m0.1 -35.5h0m0.3 -3.5h0m2 2.3h0m0.2 -31.4h0m0.2 42.3h0m0 -46.4h0m0.2 43.9h0m0.1 -2.9h0m0 8.7h0m0.1 -11.3h0m-0 7.7h0m0.2 -47.5h0m0 53.9h0m0.1 -8.7h0m-0 8.3h0m0 -14.6h0m0.3 -35h0m-0 37.9h0m0 -40.4h0m1.5 42.7h0m0.1 -3.9h0m0.2 -36.3h0m0.1 43.7h0m0 -44.7h0m0.2 43.9h0m2.1 -10.2h0m0.1 8.7h0m0.2 2.5h0m0 -4.8h0m0.1 4.7h0m0.4 -8h0m0.2 -36.3h0m0 2.3h0m0.1 -2.9h0m1.3 33.3h0m0.2 5.4h0m0 -2.6h0m0.1 -5.7h0m1.7 3.5h0m0.1 -2.4h0m0.1 -3.8h0m0.2 7.4h0m2.9 -2.3h0m-0 -0.3h0m0.1 -4.9h0m0.2 2.7h0m1.5 38h0m0.1 14h0m0.3 23.3h0m0 13.7h0m0.1 -75.5h0m-0 -3.7h0m0.1 46.3h0m-0 -33.5h0m0 23.4h0m0 -4.7h0m0.2 -12.7h0m0.1 3.7h0m0 -13.1h0m0 -35.9h0m0.3 0.5h0m0 2.5h0m2.3 -0.6h0m0.4 -2.2h0m7.2 68.1h0m0 8.1h0m0 -44.4h0m0.3 21.5h0m0.1 -22.8h0m0.1 32.4h0m0.2 -6.1h0m0 -26.8h0m0.1 -3.1h0m-0 11.2h0m0.1 33.9h0m0.1 -29.7h0m-0 4.7h0m0 -36.6h0m0.2 -3.3h0m0.1 83h0m-0 6.9h0m2.6 -85.9h0m0.2 0.5h0m1.5 26.5h0m-0 7.7h0m0.3 -21h0m0.2 34.6h0m0.3 -33.6h0m2.5 12.9h0m0.8 -10.7h0m0.4 -2.5h0m1.5 2.2h0m0.3 2.7h0m-0 6h0m0.2 -1h0m-0 12.6h0m0.2 -49.7h0m0 34.4h0m0.1 -38.3h0m0 -0.2h0m0.6 64.2h0m0.1 -10.4h0m1 5.3h0m0.7 -2.4h0m0.5 -57.8h0m-0 37h0m0 -37.7h0m0 42.6h0m0.3 -8.5h0m0 6.2h0m1.1 18h0m1 -62.9h0m0.2 1.2h0m0.2 2.3h0m-0 37.1h0m0.1 -37.9h0m0.1 35.6h0m0 -41h0m0.3 2.7h0m0.1 -2.1h0m0.6 73.7h0m1.3 -73.1h0m0.1 48.9h0m0.1 -3.8h0m0 32.1h0m0.2 -73.4h0m0.2 36.7h0m0.8 32.6h0m0.4 -23h0m0.1 2.5h0m0.1 -5.6h0m0 7.4h0m0.1 -12.7h0m0.2 2h0m0.2 -2h0m-0 6.2h0m0.1 -2.7h0m0.4 -35.2h0m0.3 -2.4h0m0.9 51.1h0m0.1 -20.6h0m0.2 22.7h0m-0 -20.1h0m0.1 0.5h0m0.1 -7.4h0m1.4 -24.2h0m0.3 1.5h0m0.2 22h0m0.4 2.6h0m-0 3h0m0.3 18.9h0m0.8 1.6h0m0.5 0.7h0m0.2 -4.3h0m0.5 -18.5h0m0.2 21.8h0m0.2 -25.3h0m1.6 27.7h0m0.1 2.9h0m0.2 -2.6h0m0.2 -25.8h0m0.2 -2.9h0m0.3 5.4h0m2.6 17.5h0m0.3 1.9h0m0.1 -20.7h0m0 7.3h0m0.5 -10.2h0m2.6 1.9h0m0.3 -2.4h0m0.4 17.5h0m0.8 1.9h0m0.4 -18.1h0m0.3 0.6h0m0.3 -3.1h0m1.8 14h0m0.4 -0.5h0m1.1 -11.4h0m-0 -4.3h0m0 2.3h0m1.2 -22.4h0m0.2 2h0m0.9 19.4h0m0.1 -3h0m0.1 3.7h0m1.6 13.9h0m-0 6.4h0m0.2 -24.7h0m0.3 -2.8h0m0.1 5.1h0m2.1 -0.7h0m0.4 0.4h0m0.5 -3.9h0m0.6 -16.7h0m0.2 -2.5h0m-0 -0.1h0m2.5 1.1h0m0.3 1.8h0m0 2.6h0m0.2 48.7h0m0.4 8h0m0 7.8h0m0.2 -46.9h0m-0 23.7h0m0.1 -7.1h0m0.1 -8.2h0m0.1 41.4h0m0.6 -12.9h0m0 5.7h0m0.9 -71.8h0m0.1 3.5h0m3 -10.1h0m0.4 -1.6h0m0.5 24h0m0.4 0.1h0m0.4 -2.8h0m1.2 -20.2h0m0.1 -1.8h0m1.5 21.6h0m0.3 2.7h0m0.8 17h0m0.5 -41h0m0.1 1.1h0m2.2 20.8h0m0.1 -29.4h0m0 26h0m0.2 -22.5h0m0.1 24.8h0m0.1 -27.2h0m1 34.6h0m0.4 4.3h0m0 14.5h0m0.7 -31.9h0m0.1 -2.3h0m0.1 -19.6h0m0.2 -2.5h0m2.6 26.1h0m0.1 -2.1h0m0.1 -3.7h0m2.6 4.3h0m0.5 3.6h0m1.4 -25.5h0m0.4 38.5h0m0 -2.2h0m0.1 -34.1h0m0 39.4h0m0.2 0.1h0m0.5 -8.7h0m1.7 -7.7h0m0.1 -3.4h0m0.2 -3.5h0m0.2 -0.4h0m0.4 58.7h0m0.3 1.8h0m1.2 -57.2h0m0.4 9.5h0m-0 -2.4h0m-0 -7.7h0m0.4 75.5h0m0.1 -71.4h0m-0 67.3h0m0.2 9.9h0m0.2 -1.7h0m1.6 4.3h0m0 -77.8h0m0.3 81.2h0m0.1 -75.3h0m0 65.3h0m0.1 -69.6h0m-0 78.5h0m-0 -69.8h0m0.2 64.9h0m0 -6.8h0m0.1 8.9h0m0.1 3.3h0m0.1 2h0m0.1 1.8h0m-0 2.5h0m0.4 -12.6h0m-0 -2.3h0m0.8 -73.3h0m0.5 -0.8h0m0 5.3h0m0.1 6.1h0m0.1 65.6h0m0.1 -4h0m0.1 -7.8h0m0 -57.5h0m0.2 70.9h0m0.1 -10.1h0m1.8 -73.4h0m0 -2.5h0m0.1 10.6h0m-0 -11.9h0m0 5.9h0m0.2 3.3h0m0.6 -8.3h0m0 7.1h0m0.2 61.4h0m0 -83.6h0m0 18.6h0m0.1 68.1h0m0 -60.6h0m0.2 50.4h0m0.2 -2.7h0m0.1 6.4h0m1 -57.6h0m0.1 3h0m0.1 -8.6h0m0.1 0.5h0m0.2 2.9h0m0.2 9.4h0m0.1 48.5h0m0.1 3h0m1.5 -47.8h0m0.1 4.3h0m-0 50.5h0m-0 -57.4h0m-0 52.5h0m0.2 2.1h0m-0 4.7h0m0 -61.1h0m0.3 52h0m1.2 6.8h0m0 -4.5h0m0.2 3.8h0m0.2 -7h0m1.1 -53.6h0m0.3 -1.9h0m0 7.3h0m0.1 2.8h0m0.2 40.5h0m0.1 -46.1h0m0 50.1h0m0.2 -8.1h0m0.2 8.8h0m1.3 -52.4h0m0.4 -1h0m0.3 4.5h0m0.8 38.7h0m0.2 -6.8h0m0.3 9.6h0m0.3 -5h0m0.4 -41.7h0m0.1 -3.9h0m0.5 7h0m1.4 37h0m0 1.8h0m0.3 -7.6h0m0.2 2.5h0m0.9 -40.5h0m0.1 -4h0m0 0.5h0m0.1 -3.5h0m0.1 1.2h0m0.1 -0.8h0m0.2 48.7h0m-0 -42.1h0m0.2 39.6h0m0.1 6.9h0m0.1 0.6h0m0 -10.3h0m1.7 5.2h0m0.2 -44.6h0m-0 -1.1h0m0.2 6.7h0m0.1 41.9h0m-0 7.8h0m0 -53.1h0m0.2 52.2h0m0 -3.6h0m1.3 -38h0m0.3 -1.9h0m0.2 41.6h0m0.1 -2.4h0m0.3 -2.4h0m0.1 9.7h0m0.4 -1.2h0m1.6 2h0m0.1 -4.2h0m0.2 5.6h0m0.5 -43.2h0m0.5 2h0m0.9 44.8h0m0.1 -6.8h0m0 3.9h0m0.1 3.6h0m0.6 -3h0m0.1 5.1h0m0 -2.7h0m0.1 -55.2h0m-0 58.2h0m-0 9.6h0m-0 6.8h0m0.3 -24h0m0.1 -35.1h0m0.4 -2.5h0m0.5 38.1h0m0.3 7.2h0m0.1 -3.9h0m2.1 -44.8h0m0.3 3h0m0.1 -4.7h0m0.6 40.9h0m0.2 -44.8h0m0 47.3h0m0 0.6h0m0.1 5h0m0.2 -55.9h0m0 2.5h0m0 54.7h0m0 -4.1h0m0.1 -45.3h0m0.1 2.4h0m0.1 37.1h0m0.1 -42.1h0m1.2 47.9h0m0.3 4.8h0m0.1 -48h0m0.1 47.4h0m0.1 -8.6h0m-0 -36.1h0m0 2.3h0m0.2 -7.7h0m1.7 43.1h0m0.1 5.6h0m0.1 1.3h0m0.3 -4h0m0.1 0h0m0.1 -36h0m0.3 32.7h0m0.2 -33.4h0m-0 5.2h0m1.7 -6.3h0m0.2 35.2h0m0.2 -38h0m0.2 33.9h0m0.2 -27.7h0m2.1 24.1h0m0.1 -2.1h0m0 -3.8h0m0.3 -29.4h0m0.1 0.3h0m0.4 3.3h0m2.1 28.1h0m0.1 -38.6h0m0.1 30.9h0m0.2 3.9h0m-0 -32.7h0m0.1 35.5h0m0.1 -33.3h0m1.1 -6.3h0m0.5 -1.6h0m0.3 4.3h0m0.2 25.2h0m0.3 3.5h0m0.1 -0.8h0m1.9 -37.9h0m0.1 33.7h0m0.4 -31h0m-0 -4.3h0m0.1 37.6h0m0.5 -0h0m1.3 -34.3h0m0.2 -6.3h0m0.1 3h0m0.4 1.4h0m0.3 33.9h0m-0 -36.1h0m-0 -2.9h0m0 -1.7h0m0.4 43.9h0m1.2 -36.9h0m0.1 -2.2h0m1.7 38.3h0m0.5 7.6h0m0.1 -3.2h0m0.2 -38.8h0m0.3 -7.3h0m0.3 2.9h0m1.7 4h0m0.2 -6.7h0m0.1 50.9h0m0 -49.5h0m0.2 2.7h0m0 47.4h0m0.1 -8.3h0m-0 4.2h0m1.5 23.1h0m-0 5.8h0m0.5 -32.7h0m0.1 6.8h0m0.2 2.3h0m0.5 -5.1h0m-0 -6.8h0m0.2 -40.8h0m0.1 -3.5h0m0 -5.1h0m0.1 0.7h0m1 48.2h0m0.2 -46.1h0m0 60.2h0m0.1 -7.9h0m0.2 3.7h0m-0 -64.6h0m-0 4.1h0m0 53.4h0m0.1 -50.9h0m0.2 -5h0m0.1 3.3h0m0 -2.4h0m0 -0.5h0m0.1 6.6h0m2.3 46.3h0m0 19h0m0.1 -14h0m0.1 -2.5h0m0.3 19.4h0m-0 -10h0m0.1 -49.3h0m0.1 -2.2h0m0 55h0m0.1 -7.6h0m1.5 11.7h0m0.2 -14.3h0m0.1 6.7h0m0.2 3.2h0m-0 6.1h0m0.1 -13h0m0.2 25h0m0.8 -68.6h0m0.1 -6.1h0m0.3 12.3h0m0.1 -2.8h0m-0 -7h0m1 56h0m0.3 3.6h0m0.1 -5.9h0m0.6 -40.7h0m0.3 -7.7h0m0 10.7h0m0.4 -5.8h0m0.1 -4.1h0m0.5 66.4h0m0.4 3.3h0m0 2.7h0m0.1 4.8h0m0.1 -20.5h0m-0 3.8h0m0.4 14.2h0m-0 -11.4h0m0.8 -41.6h0m0.3 -0.8h0m0.3 5h0m0.1 66h0m0.1 -8h0m0.3 -12.5h0m0 4.2h0m0.1 16.4h0m0.2 -12h0m0.3 7.7h0m0.6 -50h0m0.3 -3.5h0m0.2 -7.4h0m0 77.6h0m0.1 -74.3h0m0.3 83.6h0m0 -17.4h0m0 4h0m0 9.8h0m0.1 -2.4h0m0.1 -15.2h0m1.8 25.5h0m0.1 -9.8h0m0 12.6h0m0.1 -9.4h0m0.1 -6.9h0m0.1 10h0m0.1 -14.5h0m0.2 -53.6h0m0.1 -7.5h0m0.3 -8.5h0m0.1 0.1h0m0.2 4.5h0m0.1 6.9h0m1.2 81.1h0m0.1 5.9h0m0 -3.4h0m0.4 12.6h0m0.3 -17.9h0m0 12h0m0.1 3.3h0m0.3 -93.8h0m0.1 -4.1h0m0.1 6.3h0m0.1 139h0m0 -43.4h0m0.1 -92.5h0m-0 -10.1h0m0 116.8h0m0 26.8h0m0.1 -16.4h0m0 -5.1h0m0 -14h0m0.1 10.9h0m0 29.9h0m0 8.9h0m0 7.4h0m0 -143.7h0m0.1 119.6h0m-0 -36.1h0m0 -87.6h0m0.1 115h0m0 -118.5h0m0 111.2h0m0.1 5.1h0m0 -16.3h0m0.1 21.1h0m0 2.8h0m0 -26.4h0m0.3 67.7h0m0.3 -48.4h0m0.1 13.4h0m0.1 -39h0m0 7.5h0m0.3 25.4h0m0 8h0m0.1 -43.4h0m0.1 32.6h0m-0 -11.6h0m0.1 -15.6h0m-0 32.9h0m0 -21.9h0m0.2 -3.6h0m0 11h0m0.7 -95.5h0m0.1 2.9h0m0 -11.1h0m0.2 -1.3h0m0.2 5.8h0m0.4 84.2h0m0.1 -10h0m0.2 21.1h0m0.1 14.4h0m-0 -31.9h0m0.1 33.1h0m0 -8.5h0m0.1 -13.9h0m0.1 4.2h0m0.1 5.2h0m0.1 -17.6h0m0 25.9h0m1.3 10.5h0m0.4 -105.8h0m0.2 -3.4h0m0.1 -1.8h0m0.1 12.7h0m0.1 -4.5h0m0.5 66.6h0m-0 14.1h0m0 -10.3h0m0 2.9h0m0.1 15.3h0m0 -28.6h0m0 17.1h0m0.1 -13.7h0m0.1 20.8h0m0.1 4.5h0m0.4 -31h0m1.5 -40.3h0m0.1 -3.6h0m0.2 -1.4h0m0.3 7.8h0m0.5 44.5h0m0.1 -3.4h0m0.1 8.7h0m0 -3.1h0m0.1 7h0m0.1 -15.5h0m0 23.1h0m0.1 -3.9h0m0.4 3.9h0m0.4 -65.2h0m0.1 -2h0m-0 9.7h0m0.1 -4.5h0m2 40h0m0 7.4h0m0.1 -16.3h0m0.2 2.3h0m0.2 10.9h0m-0 -7.5h0m0 -42.9h0m0.1 -7.5h0m0.2 0.1h0m0.1 3.6h0m1.6 50.1h0m0 -5.1h0m0.2 5.7h0m0.1 -8.4h0m0.1 -3.6h0m0.2 -3.3h0m0.1 12.4h0m0.4 -108.5h0m0 28.2h0m0.1 -20.6h0m0 24.6h0m0.1 -34.6h0m0.1 21.2h0m0.1 -27.6h0m-0 2.5h0m0 17.2h0m0.1 -21.5h0m0 36.2h0m0.1 -10.8h0m0.1 8h0m0.1 -77.4h0m0.1 58.9h0m0.1 31.4h0m1 60.5h0m0.1 -11.2h0m0.3 16.8h0m0.2 -156.6h0m0.1 147.4h0m-0 -3.7h0m0.1 11.4h0m0.4 -85.6h0m0 -8.5h0m0.1 -18h0m-0 22.6h0m0.1 -25.5h0m0 -11.8h0m0.1 19.3h0m0 -26.7h0m0 11.7h0m0.1 25.3h0m0 5.4h0m0 -12.1h0m0 -31.4h0m0.1 16h0m0.1 37.4h0m0.1 -49h0m0.1 -53.8h0m-0 29.8h0m-0 19.2h0m0.1 36h0m0.2 -84.2h0m-0 34.2h0m0.4 134.2h0m0.4 0.8h0m0.3 -5h0m0.7 -129.4h0m0 3.7h0m0.1 26.5h0m0.1 25.3h0m-0 -47.8h0m0 37.3h0m0 4.3h0m0.1 -55.7h0m0.1 25.6h0m0 3.3h0m0 11.6h0m0.1 -24.1h0m0 6.5h0m0 36.1h0m0.1 -15.3h0m0.1 4.5h0m-0 -47.6h0m0 32h0m0 -13.2h0m0.1 -16.2h0m1.1 127.6h0m0.1 4.1h0m0 18.1h0m0.2 -10.8h0m0.1 11.4h0m0.1 -3.6h0m0.1 -4.6h0m0.1 -7.4h0m-0 -14h0m0.1 4.4h0m0.3 -98.6h0m0.1 11.2h0m0.1 -22.9h0m0.1 7.8h0m0.1 11.5h0m0 -4h0m0.1 -13.5h0m0.2 2.5h0m1.5 86.6h0m0.1 17.2h0m-0 -15h0m0 -5.7h0m0.1 14h0m0.1 -17.7h0m0.1 20.3h0m0 -7.1h0m0.1 10.3h0m0.3 -173.7h0m-0 10.2h0m0.1 -11.5h0m-0 10.7h0m0.3 61.6h0m-0 -7.9h0m0 11.4h0m0.1 -6.1h0m0 -4.3h0m0.4 103h0m0.1 -17.6h0m0 5.5h0m0.2 -9.1h0m0.2 34.3h0m-0 -38h0m0 45.3h0m0.1 -17.9h0m0 5.8h0m0.1 -23.2h0m0.1 25.6h0m-0 10.5h0m0 -15.2h0m0.1 -9.9h0m0.1 -4.5h0m-0 25.5h0m1.3 -128.3h0m0.1 -19h0m0.1 9.1h0m0.1 13.9h0m0 -19.2h0m0.2 -10.5h0m-0 38.8h0m-0 -26.1h0m0 21.5h0m0.1 7.9h0m0 -19.3h0m0.1 111.2h0m0.1 -115.1h0m0 -15.1h0m0 120h0m0.3 -12.7h0m0.1 16.1h0m0 14.2h0m0.1 -33.6h0m0 33.5h0m0.1 -26.2h0m0.2 16.2h0m0 -11.6h0m0.1 18.6h0m0.9 -120.6h0m-0 -23.1h0m0 33h0m0.2 -22.5h0m0 3h0m0.1 -13.9h0m0 11.9h0m0 -5.1h0m0.1 23.2h0m0.1 -10.4h0m-0 14.1h0m0 -10.9h0m0 14.6h0m0.1 -12h0m-0 -4.6h0m-0 7h0m0 -11.2h0m0 -9.7h0m0.1 23.6h0m-0 -62.6h0m-0 30.2h0m0 5h0m0.1 111.9h0m0 4.1h0m0.1 -118.1h0m0 3.3h0m0.1 9.9h0m-0 120.6h0m0 -107.3h0m0.1 -18.6h0m-0 8.7h0m-0 111.1h0m0 -139.5h0m0 143h0m0.1 -142.8h0m0 114.4h0m0 31.9h0m0.1 -10.9h0m0.1 -2.4h0m0.2 -153.6h0m0 131.9h0m0.1 9.8h0m0 -3.5h0m0.7 -73.3h0m0.1 -7.5h0m0.3 4.3h0m1 102.9h0m0.3 -4.3h0m-0 -9h0m0 4.7h0m0.1 -8.2h0m0 19.4h0m0.1 6.7h0m0.2 -3h0m0.1 -27.1h0m0.1 9.8h0m0.4 -107.1h0m0 25.2h0m0 -3.8h0m0 -19h0m0.1 11.1h0m0.1 -17.4h0m0 36.1h0m0 -3h0m0.1 -18h0m0.2 -19.6h0m0 25.5h0m0.1 -10.4h0m0 -13.5h0m0.1 46h0m0.2 -2.7h0m1.1 87h0m0 -17.2h0m0.2 5.6h0m-0 15.2h0m0.1 7.8h0m0 -25.3h0m0 23.1h0m0.2 3.8h0m0 -99.9h0m0.1 -5.8h0m0.1 99.2h0m0.1 -90.6h0m0 -16.3h0m0.1 19.1h0m-0 -34.2h0m0 108.5h0m0.1 -111.9h0m-0 21.9h0m-0 93h0m-0 -115.5h0m-0 7.2h0m0.1 34h0m-0 -11.6h0m0.1 -18.5h0m0 3.7h0m1 91h0m0 -7.5h0m0.1 32.3h0m0 -20.6h0m0.1 16.4h0m0 -23.7h0m0.1 9.6h0m0.1 20.2h0m0.1 -12.5h0m0.4 2.4h0m-0 -5.7h0m0.5 -81.6h0m0 -8.3h0m0 6h0m0.2 -16.5h0m0.2 3.7h0m0.1 10.5h0m0.1 -6.3h0m0.4 64.5h0m0.3 9.6h0m0.1 2.6h0m0.1 10.9h0m0 -17.3h0m0.1 -8.6h0m0 22.3h0m0.1 -3.3h0m0.1 -13.7h0m0.2 19.8h0m1 -107.1h0m0.2 16.8h0m0 -8h0m0.2 -13.3h0m0.1 9.1h0m-0 7.7h0m-0 15.6h0m0.3 -8.7h0m0.1 4.4h0m0.4 72h0m0.4 -4.3h0m0.1 10.5h0m0 -13.1h0m0 9.5h0m0.2 -101.6h0m0 82.8h0m0 -88.2h0m0.1 91.7h0m-0 2.9h0m0 -72.1h0m0.1 -7.1h0m0.1 -19.5h0m0.1 34.3h0m0.1 -35h0m0 16.9h0m0 22.5h0m0 -25.5h0m0.1 17h0m-0 11h0m0 -34.4h0m0.3 16.5h0m1.5 76.8h0m0 10.5h0m0.5 7.1h0m-0 -115.5h0m0 25.8h0m0 69.3h0m0.1 -2.6h0m0 -73.8h0m0 -10.5h0m0.1 12.7h0m-0 -44.2h0m0 35.7h0m0 21.5h0m0.1 70.8h0m0 -108.2h0m0.2 -2.7h0m-0 107.6h0m-0 10.5h0m0.1 -107.4h0m0.1 25.3h0m0.1 -6.3h0m0.1 -8.2h0m1.1 152.6h0m-0 -12.1h0m0 -10h0m0.1 36.9h0m0 -30.4h0m0.2 6.2h0m-0 6.4h0m-0 9.1h0m0 8.9h0m0 12.1h0m0 -45.7h0m0.1 12.7h0m-0 14.9h0m0 -154.3h0m0 6.8h0m0 19.7h0m0.1 104.1h0m-0 -2.9h0m0.1 -3.3h0m-0 33.2h0m-0 -133.7h0m-0 96.3h0m-0 -87h0m0.1 115.5h0m0 -145.3h0m0.1 185h0m-0 9h0m0.1 -159.6h0m-0 -42.8h0m0 125.2h0m0.1 -106.9h0m0.1 -3.1h0m0.1 10.8h0m0.1 9.4h0m0 -13.3h0m0 -19.4h0m1.6 -29.7h0m0 -15.3h0m0 8.6h0m0.1 -13.8h0m0 22.8h0m0.1 -28.1h0m-0 44h0m0 7.3h0m0.1 -43.3h0m0.1 13.5h0m0 163.3h0m0.1 -184.6h0m-0 58.1h0m-0 117.3h0m-0 -13h0m0.1 -147.7h0m0 144.2h0m0 -156.5h0m0.1 30.4h0m0 15.7h0m0 -11.7h0m0.1 17.9h0m-0 84.9h0m0 -109.2h0m0 10.1h0m0 5.6h0m0.1 123h0m-0 -108.4h0m0 125.2h0m0.1 -40.1h0m0 -2.9h0m0.1 28.7h0m0.1 -16.7h0m0 11.5h0m0.1 -18.2h0m0 2.4h0m0 28.5h0m0 2.6h0m1.4 -203.1h0m0.1 7.1h0m0.1 11.4h0m0 22h0m0.1 -15.8h0m-0 3.9h0m-0 6.1h0m0.1 10.7h0m-0 -47.1h0m-0 50.3h0m0.1 -5.5h0m0.1 -31.5h0m0 4h0m0.1 -11.6h0m0.1 34.3h0m-0 -17.5h0m0 10.3h0m0.2 110.1h0m0.1 -9.1h0m0 -169.3h0m0 5.3h0m0 7.5h0m0 12.8h0m0.1 166.6h0m-0 26.5h0m0 -47.2h0m0.1 49.5h0m0 -15.9h0m0.1 -41.2h0m0 47.2h0m0 -36.3h0m0 46.3h0m0.1 -26.2h0m0 -6.7h0m0.1 14h0m0.1 -18.3h0m0.1 -17.6h0m-0 49.6h0m-0 -2.4h0m0 -32.9h0m0.1 18.9h0m0 8.5h0m1.4 13.5h0m0.2 -159.4h0m0.1 103.6h0m-0 -106.5h0m0.1 21.9h0m0 102.9h0m0.1 -26.6h0m0.1 -89h0m0.1 4.6h0m-0 3.6h0m0 103.3h0m0 15.3h0m0 -130.6h0m0.1 109.3h0m0.1 13.2h0m-0 -10.8h0m0.1 -6.5h0m0.2 -8.4h0m0 30h0m0.5 37.5h0m0.3 -176.1h0m0 -8.8h0m0.1 -25.8h0m0.1 44.5h0m-0 -4.2h0m0 -18.5h0m0.1 39.3h0m-0 -53.2h0m-0 3.1h0m0 21.4h0m0 4.4h0m0 11.6h0m0.1 7.1h0m0 -51.6h0m0.1 -7.8h0m0.1 62h0m0.1 75.8h0m0 -115.4h0m0.2 -4.3h0m0 -18.2h0m0.1 55.2h0m-0 -21.7h0m0 110.9h0m0 -23.3h0m0 4.5h0m0.1 -6.9h0m0 32.4h0m0.1 -0.6h0m0.3 -3.5h0m0 -17.1h0m0.1 3.4h0m-0 8.2h0m1.4 -135.2h0m-0 -2.7h0m0 -2.6h0m0.1 22.1h0m-0 -13h0m-0 -19.3h0m-0 6.7h0m0.1 35.7h0m0.2 -12.4h0m0.1 -32.2h0m0 40.7h0m0.2 -12.6h0m0.1 -22.8h0m0 19.3h0m0.1 12.3h0m0.3 95.7h0m0.1 8.5h0m0 -11.7h0m0.1 41.3h0m0.1 -44.1h0m0 -14.1h0m0 11.4h0m0.1 -4.7h0m-0 25.4h0m0.1 -23h0m0.1 69.3h0m-0 -55.5h0m0.1 2.5h0m0.1 -22.4h0m1.1 -88.1h0m0.3 7.4h0m0.2 -8.9h0m0.1 17.7h0m0.1 -12.8h0m-0 80.6h0m0 -72.1h0m0.1 94.7h0m0.1 -4.6h0m-0 -7.5h0m-0 -4.2h0m0.1 -9.9h0m0 38.7h0m0.1 0.7h0m-0 -10.4h0m0 3.6h0m0.3 3.3h0m-0 -18.5h0m0 -11.3h0m0.1 -9.5h0m1.1 -80.6h0m0.2 -24.4h0m0.1 3.4h0m0 9.9h0m0.1 -16.8h0m-0 30.3h0m0.1 -6h0m0.1 -4.6h0m0.1 -6.3h0m0.1 -3.2h0m0.7 137h0m0.1 -37.8h0m0.2 7.6h0m-0 6.7h0m0.1 -21.6h0m0 48.1h0m0 -17.1h0m0 -28.1h0m0 -89.8h0m0.1 104.3h0m-0 -133.7h0m-0 143.3h0m-0 -133.8h0m0 140.7h0m0.1 -127.7h0m-0 141.8h0m-0 -11h0m-0 -108.6h0m0.1 112.7h0m0 -122.2h0m0 105.5h0m0.1 -135.7h0m-0 122.8h0m0.1 -85.7h0m-0 -29h0m0 12h0m0 -26.1h0m0.2 16.9h0m0.1 2.3h0m-0 20.2h0m0 -35.9h0m0 9.8h0m0 36.1h0m0 -5.6h0m0.1 -10.7h0m0 -17.3h0m0 11.1h0m0.1 2.9h0m0 -25.9h0m0.2 -3.5h0m0 -0.6h0m0.1 38.6h0m0.1 -13.7h0m-0 11.2h0m0.1 -25.5h0m-0 8.1h0m0 27.8h0m0 -13.2h0m0 -11.1h0m0 18.4h0m0.1 -32h0m-0 -2h0m1.3 39.7h0m0.1 92.6h0m-0 -78.8h0m-0 -10.1h0m-0 114.8h0m0.1 10.9h0m-0 -121.3h0m-0 124.8h0m0 5.7h0m0.2 -42.5h0m-0 -97.5h0m-0 102.1h0m0.1 -89.2h0m0 133.5h0m0 -2.6h0m0.1 -20.4h0m0 4.6h0m0.1 -12.6h0m0 -9.2h0m0.2 6h0m0 -12.4h0m0.1 37.6h0m-0 -28.5h0m1.7 29.1h0m0.1 -10.2h0m0 17.2h0m0.2 -14.1h0m0.1 14.9h0m0.1 -11.6h0m0.2 7.6h0m0.1 -125.7h0m0.1 107.3h0m-0 -93.1h0m-0 -16.6h0m0.2 9.6h0m0.1 -10.7h0m0 30.5h0m0 -2.6h0m0.1 -7.2h0m0.1 16.4h0m0 -30.3h0m0.1 6.9h0m-0 19.1h0m0.1 -9.3h0m0.1 123.4h0m0 2.9h0m0 8.6h0m0 -22.2h0m0.1 5.6h0m0.2 23.6h0m0 -26h0m0.1 4.7h0m0 11.6h0m0.2 -2.4h0m0.1 11.2h0m-0 -3.1h0m0.3 12.9h0m0.2 -35.5h0m0.1 11.6h0m-0 -14.7h0m0.1 11.9h0m0 -19.2h0m0.2 15h0m0 10.9h0m0.2 -0.7h0m0.1 -21.4h0m0 -122.5h0m0.3 6.3h0m-0 -22.1h0m0.1 -3.3h0m0.1 15.2h0m0.2 -3.7h0m0.1 -3.6h0m0.1 14.8h0m0.9 111.2h0m0.1 -11.5h0m0.1 17.8h0m0.2 -9.9h0m0 11.6h0m0.2 -15h0m0.1 -11.4h0m0.1 9.1h0m-0 13.3h0m0.1 -19.7h0m0.1 -152.1h0m0 6.8h0m0 14h0m0.2 -23.2h0m0.1 12h0m0 14.3h0m0.2 -19.5h0m-0 12.2h0m0 -3.8h0m0.8 101.6h0m-0 18.4h0m0.1 -5.3h0m0.1 2.3h0m-0 -18h0m0.1 5h0m0.1 7.2h0m-0 16.6h0m0.1 6.4h0m0.2 -25.6h0m0.1 -139.1h0m-0 161.9h0m0 -154.3h0m0 4h0m0.1 -8.3h0m0 151.7h0m0.1 -30h0m0 -127.9h0m0.1 -7.3h0m0.1 2.1h0m0.1 2.3h0m0.2 19.8h0m1.6 -18.6h0m0 -6.3h0m0.4 -3.2h0m-0 -4.5h0m0.1 -6.2h0m0.1 16.9h0m0 130.4h0m0.2 -123.5h0m0 128.9h0m0 -0.8h0m0.1 -150.1h0m0 141h0m1.4 -120.7h0m0.3 -3.6h0m-0 -20.2h0m0 21.4h0m0 153.9h0m0 -158.1h0m0 155.4h0m0.1 -165.6h0m-0 136.7h0m-0 35.1h0m0 -181.3h0m0 2.8h0m0.1 5h0m0 156.4h0m0.1 -147.4h0m-0 -11.4h0m-0 0.3h0m-0 145h0m0 17.1h0m0 -174.1h0m0 6.8h0m0.1 12.7h0m-0 170.4h0m0.1 -12.5h0m-0 -153.4h0m0 -4.2h0m0.1 143.7h0m-0 -135.9h0m0 -10.8h0m0.1 150.7h0m-0 -6.9h0m-0 -128h0m0.1 -47.5h0m1.6 185.8h0m0 -8.4h0m0.1 -2.4h0m0 16.7h0m0.1 -10.4h0m-0 -127.4h0m-0 144.3h0m-0 -146.6h0m0.1 137.1h0m0 15.2h0m0 -9.7h0m0 -147.1h0m0.1 155.6h0m0.1 -158.9h0m0 -2h0m0.1 18.6h0m0.3 -4.1h0m1.6 27.5h0m-0 145.2h0m0 -153h0m0.1 4.3h0m0 169.4h0m0.1 -11h0m0 18h0m0.2 2.6h0m0 -15.1h0m0 -19.3h0m0.1 -158.2h0m-0 179.7h0m0.1 -12.1h0m0 -164.8h0m0.1 171.8h0m0 -168.2h0m0.1 158.2h0m0 -143.4h0m0 164.4h0m1.8 47.1h0m-0 -19.4h0m0.1 4.4h0m0.1 10.6h0m0 -24.7h0m0.1 -134.4h0m0 165.2h0m0.1 -195.7h0m-0 11h0m0 17h0m0 -25.5h0m0.1 165.9h0m-0 -134.1h0m0.1 137.1h0m-0 -153.3h0m0 167.4h0m0.1 -191h0m0.1 188.4h0m-0 -158.4h0m0 138.2h0m0.2 -155.8h0m0 8.6h0m0.1 -18.2h0m0.1 25h0m1.2 194h0m0.6 -208.6h0m0 12.9h0m0 -5.4h0m0.1 -13.4h0m0.1 42.3h0m0.1 -26.7h0m0 -12.6h0m0.1 31.5h0m0 -6.4h0m0 3.1h0m0.1 -31.6h0m0 -0.2h0m0 21.9h0m0.2 180.8h0m-0 -177.8h0m-0 14.3h0m0.1 136.5h0m0.1 3.8h0m0 -168.8h0m0 192.3h0m0 -194.4h0m0.1 188.1h0m0.1 -6.7h0m0 -6.6h0m0.1 10.7h0m-0 -6.8h0m0.2 11.7h0m1.5 5.7h0m0.2 8.5h0m0 3.7h0m0.3 -160.4h0m0 167h0m0 -157.9h0m0 136.5h0m0.2 -162.4h0m-0 158.9h0m0 -144.7h0m0.1 166h0m0.1 -173h0m-0 147.1h0m-0 -150.2h0m0 -9.9h0m0.1 175.1h0m0.1 -148.4h0m0 -10.8h0m0.1 13.6h0m0.1 -27.8h0m0.9 181.2h0m0 7.8h0m0.1 -2.6h0m0.1 -9.2h0m0 14.2h0m0.1 -7.6h0m0 8.3h0m0.2 -17.5h0m1.4 -128.2h0m0.1 7.1h0m0.1 145.8h0m-0 0.7h0m0 -2.9h0m0 17.9h0m0.1 -11h0m-0 0.9h0m-0 2.4h0m0 10.4h0m0 -172.2h0m0.2 165.2h0m0 9h0m0 8.8h0m0 6.4h0m0 6.4h0m0.1 -22.1h0m0 -2.9h0m0 -160.3h0m0.1 163.9h0m-0 -169.6h0m0 151.2h0m0.1 -4.4h0m-0 17.1h0m0 -6.6h0m0 -148.9h0m0.2 199.7h0m-0 12.8h0m-0 2.1h0m-0 19.2h0m0.1 -81.4h0m1.6 -27.7h0m0.1 11.7h0m0.1 -8.6h0m0.1 3.3h0m0.1 -9.6h0m0 12.9h0m0.2 -163.1h0m0.2 6.7h0m0 -16h0m0 25.3h0m0.1 -13.2h0m0 -8.6h0m0 3.5h0m0.1 -12.3h0m0 -1.6h0m0.2 4.6h0m0.1 20.7h0m0.2 3.6h0m0.6 128.9h0m-0 -4.6h0m0.2 -2.9h0m0.1 -8.2h0m0.1 26.9h0m0 -193.8h0m0 205.4h0m0.1 -14h0m0 -21.3h0m0.1 2.5h0m0 14.4h0m0.2 -22.4h0m0.1 -122.4h0m-0 3.3h0m0.1 -13.1h0m0.2 15.6h0m0 -23.1h0m0 13h0m0.2 -24h0m-0 7h0m-0 13.7h0m0 -6.3h0m0.1 162.2h0m0.2 -173.7h0m1.1 152h0m0 -15.3h0m0 11.8h0m0.2 10.9h0m0.1 1.2h0m0.3 -4.3h0m0 -16h0m0.1 4.6h0m0.6 -148.5h0m0.4 -2.3h0m0 16.8h0m0.1 3.6h0m0 -13.7h0m0.2 3.6h0m0.1 2.4h0m0.6 111h0m0.1 3.5h0m0.2 -8.7h0m-0 11.7h0m0 19h0m0.1 -14.6h0m0.1 14h0m0.1 -4.1h0m0.1 -6.7h0m-0 -16.8h0m0 21.3h0m0.9 -141.9h0m0.1 5.7h0m0.2 -2.5h0m0.3 -10.4h0m0 -5.5h0m0.2 -41.3h0m-0 33.4h0m0.2 5h0m0 -19.2h0m0 25.2h0m0.1 -9h0m0.1 14.5h0m-0 2.6h0m0.2 97.4h0m0 14.7h0m0.1 -18.4h0m0.1 11.8h0m0.2 13.6h0m0 -28.1h0m0.1 8.6h0m0.1 15.9h0m0.1 -27.3h0m0.1 15.1h0m-0 4.7h0m0.5 -107.4h0m0.1 -9.9h0m0.4 -0.4h0m0.2 7.5h0m0.1 -4.3h0m0.6 90.4h0m0 -8h0m0.4 15.7h0m0.1 2.2h0m-0 -15.4h0m0.1 9.2h0m0.2 -6.6h0m1.1 -63.6h0m0.3 -6.8h0m0 9.8h0m0.1 -10.3h0m-0 12.6h0m0.4 -9.6h0m0.1 93.7h0m0.1 6.7h0m-0 12h0m-0 4h0m-0 7.5h0m-0 12.8h0m0 -27h0m0.1 11.2h0m0 -2h0m0 -15.9h0m0.1 -5.8h0m-0 25.3h0m0.1 -6.8h0m0 -22h0m0.1 -3.2h0m0 -0h0m0.1 16.1h0m0.1 -9.3h0m1.6 -101.5h0m0.2 15.6h0m-0 -3.3h0m0 -14.2h0m0.5 6.1h0m-0 4.4h0m-0 83.3h0m0 -6.6h0m0.4 22.7h0m0.1 -12.4h0m0.1 -6.7h0m0 14.7h0m0.1 -4.5h0m0.1 8.1h0m1.3 -106.1h0m0 4.5h0m0.2 -6.3h0m0.5 93.6h0m-0 -19h0m0.2 -2.6h0m0.1 -2.9h0m0 9h0m0.1 16.6h0m0.1 -5.5h0m0.1 -6.9h0m0.2 4.4h0m0.1 -92.7h0m0 5.2h0m0.1 -3.5h0m0.2 6.6h0m0.2 -2.3h0m0.2 -4.2h0m0.3 1.4h0m0 54.5h0m0.1 -49.4h0m0.3 64h0m0 -6.1h0m0.1 7.6h0m0.1 -10.7h0m0.3 -2.9h0m0 -5h0m0.1 14.7h0m1.1 -61h0m0 -2h0m0.5 5.9h0m0.7 39.8h0m0.5 7.6h0m0 -4.8h0m0.1 4.3h0m1.5 -40.8h0m-0 3.3h0m1 33.4h0m-0 5h0m0 -1.2h0m1.5 -32.8h0m0.5 2.1h0m1.3 36.7h0m0 -2.7h0m0.1 4h0m0.5 -32.1h0m-0 24.5h0m0.4 -23.9h0m2.1 30.6h0m0.1 5.4h0m0.2 -2.5h0m0.1 -30.4h0m0.4 -2.8h0m1 54.2h0m0.2 11.3h0m0.1 -14.7h0m-0 11.6h0m-0 -14.1h0m0.1 19.7h0m0 -11.2h0m0.1 2.4h0m0.5 -7.6h0m0.2 3.7h0m0.3 2h0m0.8 -61.6h0m0 -1.9h0m0.3 9.8h0m0.1 -3.4h0m1.6 2.3h0m0.1 -7.2h0m0.2 2.2h0m-0 53.1h0m0 -57.9h0m0 -15.7h0m0 13.1h0m0.1 66h0m0.3 -55.7h0m0.1 52.8h0m0.3 -57.9h0m0.2 7.2h0m0.1 -6.3h0m0.1 3.9h0m1.4 4.6h0m0.3 -5.9h0m-0 2.7h0m0.1 46.6h0m0 6.7h0m0 1h0m0.1 -57.3h0m0.1 8.6h0m0.3 43.7h0m0.4 -71.7h0m1.1 70.9h0m0.1 3.2h0m0.3 2.5h0m0.3 -8.6h0m0.1 -35.3h0m0.5 -2.2h0m1.1 37.7h0m0.3 1.9h0m0.4 -5.8h0m0.7 -29.5h0m0.3 3.1h0m0.1 -3.4h0m0.3 33.8h0m0.3 5.2h0m0.4 -2.3h0m1.1 -40.7h0m0.2 5.2h0m0.1 -3.7h0m1.2 47.8h0m0 18.7h0m0.1 -13.1h0m0.1 5.2h0m-0 -5.3h0m0 2.9h0m0.1 -5h0m-0 13.6h0m0 -3.4h0m0.3 -9.6h0m0.2 -53.5h0m0.1 -10.8h0m0.1 8.4h0m0.1 -11.5h0m0.1 9.4h0m0.1 4.5h0m0.1 -7.8h0m0.4 5.7h0m1.4 61.6h0m-0 -2.5h0m-0 5.7h0m0.5 -9.5h0m1 -51.6h0m0.1 -4.9h0m0.4 2.7h0m0.8 61.6h0m-0 -8h0m0.3 9.5h0m0.1 -5.5h0m1.7 -16.9h0m-0 4.3h0m-0 -7.7h0m0.1 -4.5h0m0.2 -38h0m0.1 50.8h0m0.2 -47.8h0m0.6 32.5h0m0.2 -9.3h0m0 5.9h0m0.1 -2.5h0m0 7.1h0m0.9 -10.5h0m0.2 -25.5h0m0.3 33.5h0m0 -4.1h0m0.1 2.8h0m0.1 -33h0m1.9 21.5h0m0.3 -2h0m2.2 -3h0m0.4 -3.7h0m1.8 1.5h0m0 1.8h0m3.4 4.4h0m0.1 -2.4h0m3 10.8h0m0.3 0.6h0m0 -3.6h0m0.8 -17.2h0m0.1 -2.7h0m0.1 0.2h0m1.3 29h0m0.1 -5.7h0m0 4.8h0m0.1 -3.2h0m0.2 -1h0m1.2 -18h0m0.3 -3.4h0m1.4 26.8h0m0 -4h0m0.2 3.1h0m0.7 -24.6h0m0.4 2.9h0m0.4 18h0m0.4 4.3h0m0 -3h0m0.1 1.5h0m0.1 -2.8h0m1.4 -22.3h0m0 1.8h0m0.7 20.6h0m0 -1h0m0.2 -3.3h0m5.7 -8.2h0m0.3 19.2h0m0.2 -21.6h0m0.2 24.8h0m1.7 -27.1h0m0.4 1.8h0m1.5 -22.5h0m0.2 -1.9h0m0.1 5.2h0m0.4 -2.2h0m0.3 24.2h0m0 -22.5h0m0.3 20.1h0m1.4 -21h0m0.4 3.9h0m3.5 19.1h0m0 0.2h0m0.4 -2.4h0m2.4 -2h0m0.1 3h0m3.1 -5.3h0m0.1 -0.5h0m2.7 -3.5h0m0.2 3.1h0m2.9 -3.3h0m0.4 1.4h0m0.1 -5.4h0m0.1 -18.1h0m0.3 -2.5h0m0.1 0.5h0m1.4 21h0m0.1 3.3h0m0.1 -0.1h0m1.8 -22.4h0m0.5 1.9h0m0 19.3h0m0.5 2.5h0m0.8 -18.1h0m0.3 -2.3h0m2.3 30.2h0m0 12.8h0m1.8 -24.4h0m0 1.2h0m1.4 -20.1h0m0.5 1.7h0m1 37.1h0m0.3 -3h0m0 -2.6h0m0.1 6.5h0m1.1 -48.2h0m0 3.6h0m0.4 -11.3h0m0.3 2.7h0m0.2 2.5h0m0.4 47.2h0m0.1 3.6h0m0.2 5.4h0m0.1 -1.5h0m0.6 -63.9h0m0.1 15.3h0m0 -21.5h0m0.1 16.9h0m0 -14.8h0m0.1 10.4h0m0 6.7h0m0.1 -9.2h0m0.1 14.9h0m1.3 46.8h0m0.3 -8.1h0m0.1 4.2h0m0.2 -61.6h0m0.1 8h0m0 -10.4h0m0 -0.4h0m0.1 2.6h0m0.1 9.8h0m0.1 -14.8h0m0 -5.5h0m0 23.4h0m0.2 -9.8h0m-0 -10.6h0m-0 -1.7h0m0.1 2.9h0m0 22.2h0m0 -5h0m0.1 -5.7h0m0.1 7.7h0m0.1 3h0m0.1 -8.3h0m-0 -4h0m0.5 72.4h0m0.2 10h0m0 -24.1h0m0.2 26.7h0m0.1 2.6h0m0.1 -18.2h0m0.1 -3.3h0m0.1 -3.7h0m0 13.5h0m0.1 3.4h0m0.1 -75.4h0m0.1 16.6h0m0.2 -10h0m0 4.5h0m0.2 3.2h0m-0 -25.9h0m-0 14.1h0m0.2 -11.2h0m-0 2.7h0m0.1 2.3h0m0.6 91.3h0m-0 -13.7h0m0 7.1h0m0.1 -3.7h0m0.1 21.4h0m0 1.6h0m0.1 -9.2h0m0.2 -6.4h0m0 -14h0m0.1 24.7h0m1.2 -70.6h0m-0 -24.3h0m0 13.5h0m0 -10.1h0m0.1 7.1h0m0.1 8.4h0m0.2 -24.9h0m0.1 13.2h0m0.1 107.7h0m0.1 -118.2h0m0.1 92.4h0m0 -72.5h0m0 88.7h0m0 -84.1h0m0 6.6h0m0.1 71.3h0m-0 3.2h0m-0 19.2h0m-0 -89.3h0m0 66.9h0m0 2.7h0m0.1 -10.2h0m-0 1h0m0 18.6h0m0 12.8h0m0 1.7h0m0.1 -29.7h0m-0 19.6h0m0 7.9h0m0 -37.6h0m0.1 22.6h0m0.1 3.5h0m0 6.4h0m0.1 4h0m0.2 -13.6h0m0 -2.7h0m0 -10.7h0m0.2 23.9h0m1.5 -125h0m0.1 -6.2h0m0 13.1h0m0.1 -3.4h0m0.2 -7.4h0m0 -4.9h0m0.1 90.5h0m-0 -64.1h0m0 88.4h0m0 2.9h0m0.1 -16.3h0m0 -83h0m0.1 4.5h0m-0 88.9h0m-0 -4.6h0m0 13.9h0m0 -92.5h0m0.1 70h0m-0 29.2h0m0 -33.2h0m0.1 32.9h0m0.1 -23.7h0m0.1 20.7h0m0.5 -102.8h0m0.1 -23h0m0.1 20.3h0m0.1 -2.8h0m-0 -11.1h0m0 8h0m0 -4.7h0m0 -5.5h0m0.1 -9.1h0m0 6.9h0m0.1 -5.3h0m0.1 15.4h0m0.9 120.2h0m0.3 -118.8h0m0.1 2.3h0m0.3 -2.5h0m0.1 96.8h0m0 -19.1h0m0 15.6h0m0.1 -19.7h0m0 -66.7h0m0 79.2h0m0.2 -15.2h0m0.1 -61.4h0m0 91.8h0m0.2 -18.3h0m0.2 -2.4h0m-0 10h0m1.7 13.8h0m0 -11h0m0.2 -2.5h0m0 10.8h0m0.1 -17.8h0m0 -72.7h0m0 98.7h0m0 -102.4h0m0 -10.5h0m0 -2.9h0m0 93.5h0m0.1 22.5h0m0.1 -39.8h0m0.1 2.5h0m0.1 -82h0m0.1 85.4h0m-0 30.7h0m-0 -101.9h0m0 75.6h0m0.1 16.6h0m0 12.2h0m0.1 -108.2h0m1 123.1h0m0.7 -127.7h0m0.3 8.7h0m0.1 -7.6h0m-0 60.6h0m0 -56.4h0m0.1 78.8h0m0.1 10.7h0m-0 -7.8h0m0 3.4h0m0.2 -24.3h0m0.1 29.7h0m-0 -26.5h0m0 6.3h0m0.1 4.3h0m0.3 -7.8h0m0.9 -71.2h0m0.2 4.6h0m-0 -23.7h0m0.1 4.2h0m0.1 -2.4h0m0 9.5h0m0.1 4.6h0m0.1 -8.9h0m0.4 76.7h0m0.2 -11.8h0m0.1 -4.1h0m0 27.9h0m0.3 -2.8h0m0 -16.8h0m0.1 13.9h0m-0 -2.8h0m0 -7.9h0m0.8 -91.3h0m0.1 31.4h0m-0 -3.3h0m0.3 -16.4h0m0 5.9h0m0 -8.4h0m0.1 -0.5h0m0.1 -6.1h0m0.2 12.7h0m0 9.6h0m0 -4h0m1 61.7h0m0.4 -77.5h0m0.1 31.8h0m0 54h0m0.1 -75.3h0m-0 70.7h0m0.1 -60.4h0m0.2 -22.2h0m0 24.8h0m0 60.7h0m0.1 -67.5h0m-0 -13.8h0m-0 24.8h0m0 -14.8h0m0.2 -5.5h0m1.7 -34.1h0m0.1 108.1h0m0 15.9h0m0.1 -71.8h0m0.1 2.2h0m0.1 57.6h0m-0 4.1h0m0.1 10.2h0m-0 -23.7h0m0.1 -56.3h0m0.1 73.4h0m0.2 -14.5h0m0.1 -57.1h0m0.2 -43.2h0m0.3 4.1h0m0.7 0.3h0m0.2 -7.8h0m0.3 27.3h0m0.1 89.6h0m-0 -75.8h0m-0 7.3h0m-0 75.4h0m0 -21.8h0m0.1 -58h0m0 -5.8h0m0 69.5h0m0.1 -72.3h0m0.1 -3.8h0m-0 67.4h0m-0 5.9h0m0 -76.4h0m0.1 98.1h0m0 -13.5h0m0.3 -2.5h0m-0 10.4h0m0.1 5.2h0m0.1 -111.1h0m0.8 109.5h0m0 -8.9h0m0.1 -18.3h0m0 2.2h0m0.1 -58.1h0m-0 5.1h0m0 -9.1h0m0.1 74.8h0m-0 6.8h0m0 7.5h0m0 -93.1h0m0.1 -28.7h0m-0 104.7h0m0 -2.9h0m0.2 -78.4h0m-0 74.9h0m0 19.2h0m0.1 -78h0m0.3 -13.9h0m0.3 74.3h0m0.3 -105.7h0m0.1 98.4h0m-0 3.3h0m-0 6.9h0m0 10.7h0m0.1 -7.5h0m0.3 5.8h0m0.1 -2.7h0m0.2 24.8h0m1.5 -100.4h0m0.1 1.6h0m0.3 -28.5h0m0 32.2h0m0.3 59.7h0m0.2 14.2h0m0.1 -18.6h0m0.1 28.7h0m0.2 -17.5h0m0.1 10.9h0m-0 -14.3h0m0 8h0m0.1 10.9h0m0.1 -132.2h0m0.5 47.1h0m0.1 -49.3h0m0.3 46.2h0m0.1 -14.4h0m0.1 10.2h0m0 -3.5h0m0.1 17.8h0m-0 -21.3h0m0 17h0m0.3 -37.9h0m0.7 100h0m0.3 11.1h0m0.2 -2.1h0m0.1 -11.6h0m-0 8.7h0m0.1 -2.9h0m0.1 -7.8h0m-0 17.6h0m0.1 -14.7h0m0.1 -94.5h0m0.1 117.5h0m0 -4.9h0m0.2 -15.5h0m-0 -80h0m0 83.4h0m0 14.9h0m0.1 -101.7h0m-0 92.5h0m-0 -86.4h0m0 2.9h0m0 80.5h0m0.2 -64.8h0m0.1 -10.7h0m-0 -21.5h0m-0 -1.7h0m0.1 26.7h0m-0 -21.3h0m0.2 15.2h0m0.1 -27.9h0m0 36.9h0m1.4 69.5h0m0 -23.3h0m0.1 4.2h0m0.2 6h0m0 9.6h0m0.1 7.4h0m-0 -80.1h0m0.1 78.4h0m0 -93.3h0m0.2 -5h0m0 79.5h0m0 10h0m0.1 -73.5h0m-0 -4.6h0m-0 74.3h0m0 -109.8h0m0.1 25.9h0m0 6.1h0m0.1 -30.4h0m0.5 36.6h0m0 -2.5h0m0.1 -13.7h0m0.1 21.3h0m0.1 -13.2h0m0 3.4h0m0.1 -6.4h0m0 -7.4h0m0 124.4h0m0.2 -103.3h0m0.1 -27.4h0m-0 10.9h0m0 21.2h0m0.8 -0h0m-0 -6h0m0.1 1.4h0m0.2 69h0m0.1 -92.7h0m0.1 89.4h0m0.1 7.1h0m0.1 3.6h0m0.1 -17.3h0m-0 2.8h0m0.1 13.7h0m0.3 -106.8h0m0.5 20.7h0m0 81.6h0m0.1 -92h0m-0 86.5h0m0.1 3.3h0m0 13.6h0m0.1 2.4h0m0.1 -24.7h0m-0 14.1h0m0 18.9h0m0 -115.4h0m0.1 85.2h0m-0 14.4h0m-0 14.3h0m0 -2.2h0m0 -92.9h0m0.1 -3.5h0m0 -7.4h0m0 21.5h0m0 -6.9h0m0 80.2h0m0.1 -77h0m0 83.5h0m0.2 -104.5h0m0 104.3h0m0.1 23.8h0m0.1 -19.3h0m0.2 -22.8h0m-0 16.1h0m0.1 9.6h0m-0 -117.2h0m0.2 89.2h0m-0 9.1h0m-0 19.4h0m0 -15.7h0m0.1 -16.4h0m0.1 8.2h0m0 -10.6h0m0 21.3h0m0.8 -126.4h0m0 47.8h0m0.1 3.9h0m-0 -39.2h0m0.1 16.6h0m0.1 6.3h0m0 -3.8h0m0.1 -8.6h0m0 0.3h0m0.3 18.7h0m0 -16.2h0m0.2 14h0m-0 4.6h0m0.3 61.4h0m0 9.3h0m0 6.7h0m0.3 3.3h0m0 -12.3h0m0 -3.9h0m0.3 9.2h0m1 -78.3h0m0.1 9.2h0m0.1 -11.9h0m0 4.7h0m0 9.7h0m0.1 -53.1h0m-0 53.1h0m0 -27.8h0m0.1 11.2h0m0 -5.1h0m0 16.9h0m0 -2.6h0m0.1 -5.6h0m-0 -6.1h0m0 11.7h0m0.1 2.9h0m-0 -7.5h0m0 -14.9h0m0.1 2.4h0m0.1 81.6h0m0.3 3.8h0m0.4 -7h0m0.4 -96.6h0m0.2 106.5h0m-0 -8.1h0m0 15.9h0m0.1 -10.6h0m0 -91.4h0m0.1 -18.8h0m0 128h0m0.1 -21h0m0.1 28.8h0m-0 -17.7h0m0 7.5h0m0.1 -2.6h0m0.1 7.3h0m0.1 3.5h0m0 -17.9h0m0.2 -64.9h0m-0 65.7h0m-0 -3.5h0m0 -69.1h0m0.1 -14h0m0.1 17.7h0m0 62.9h0m0 -70.2h0m0 -17.6h0m0.1 -23.5h0m0.1 24.6h0m0 92.8h0m0.1 -89.5h0m0 114.2h0m0 -105.2h0m0.1 72.1h0m0.1 -74.8h0m0.1 71.3h0m1.5 11h0m0 5.9h0m0 -115.8h0m0.1 113h0m0.1 11.3h0m0 -4.6h0m0 8.5h0m0.1 -22.6h0m0.1 22.6h0m0.1 -25.2h0m0.3 -75.1h0m0 -5.2h0m0.1 76.5h0m0 -66.7h0m0.4 14.1h0m0 -26.5h0m0 -2.8h0m0.1 22.7h0m-0 3.5h0m0.2 -17.9h0m0.2 10.9h0m0.1 -49h0m0.1 113.9h0m0 -111.1h0m0.5 113.4h0m0.2 -5.3h0m0.4 -76h0m-0 8.9h0m0.1 14.5h0m0.1 -17.6h0m0.1 -9.7h0m0.3 0.5h0m0 19.7h0m0.1 -3.6h0m-0 -9.4h0m0 16.8h0m0.4 52.2h0m0.5 14.3h0m0.1 -10.8h0m0.1 3.8h0m0 6.4h0m0.2 -4.1h0m0 -108.8h0m0.7 25h0m0.2 4.9h0m-0 22.4h0m0.1 -14.4h0m0.1 -4.6h0m0.1 -10.6h0m0 -0.1h0m0.1 4.9h0m0.1 21.4h0m-0 -2.8h0m0 -44.7h0m0 41.1h0m0.2 85.1h0m-0 -3.1h0m0.1 -16.5h0m0 9.8h0m0.1 -13.8h0m-0 10.3h0m0 -13.5h0m0.2 27.4h0m0.1 -108h0m0.2 91.1h0m0.1 10.4h0m0.9 -66.1h0m0.3 -7.6h0m0 -7.8h0m0.2 4.4h0m0.1 -4.3h0m0.2 11.4h0m0.2 -33.7h0m0.3 -14.9h0m0.5 118.2h0m0.1 -3.3h0m0.4 5.3h0m0 -11.9h0m0.1 -3h0m0.2 6.7h0m0.6 -79.4h0m0.1 83.1h0m0 -2.7h0m0.1 -88h0m-0 75.6h0m0.1 -60.8h0m0.1 -4.1h0m-0 -11.6h0m-0 28.9h0m-0 71.5h0m0 -74.1h0m0.1 70.8h0m-0 5.7h0m0.1 -123.8h0m0.1 41.2h0m-0 62.5h0m-0 12.2h0m0.1 -90.2h0m0 18.7h0m0 62.4h0m0.1 -5.7h0m0.3 -98.8h0m0.5 96.3h0m0.2 1.9h0m0.5 -6.2h0m-0 -4.1h0m0 -44.6h0m0.4 -8.7h0m0.1 -11.1h0m0 16.5h0m0.1 -8.2h0m0.1 -3.2h0m0.1 8.8h0m0 -12h0m1.5 2.2h0m0 59.2h0m0.1 -55.5h0m0.1 8.4h0m0.1 49.6h0m0.1 -54h0m-0 -8.1h0m0.2 53.1h0m0 -3.7h0m0 5.9h0m1.5 -58.9h0m0.3 56.9h0m0.1 3.6h0m0.1 -68.5h0m0.1 68.8h0m0.1 -64.7h0m0.1 -2.3h0m0.2 60.7h0m-0 -51.4h0m0.2 65.4h0m1.4 -88.6h0m0.3 -6.6h0m0.3 3.1h0m0.1 -31.6h0m0.5 89.2h0m0.4 6.5h0m0 -2.5h0m0.4 2.2h0m1 -94.4h0m0.1 7.5h0m0 -14.4h0m0 18h0m0 -15.3h0m0.1 8h0m0.1 79.8h0m0.4 7.6h0m0.2 16.5h0m0.2 -20.5h0m2.3 -85.6h0m0.3 -4.5h0m-0 -0.1h0m0.2 2.2h0m-0 5.9h0m0.1 -10.6h0m0 -4.5h0m0 89.4h0m0.1 -97.9h0m-0 1.9h0m0 16.7h0m0 87.9h0m0.1 -0.6h0m0 -99.7h0m0.1 4.5h0m0 -7.6h0m0.2 98.7h0m1.7 6.3h0m0 11.7h0m0.3 -105.7h0m-0 -6.8h0m0.1 9.6h0m0.1 -10.3h0m0.2 75h0m0.2 -71.4h0m0.1 68.1h0m0.2 4h0m0.3 -6.7h0m1.7 -67.4h0m0 -3.5h0m0.2 4.4h0m0 4.1h0m1.2 53h0m-0 -2.7h0m-0 2.5h0m1.1 -42.5h0m0.1 -4.2h0m0.1 -5.9h0m-0 2.4h0m1.1 48.4h0m0 5.7h0m0.3 -2.5h0m0.1 -50.4h0m0.5 -1.7h0m0.3 4.6h0m0.1 4.5h0m0 2.6h0m1.2 48.1h0m0.1 4h0m0 -1.5h0m0.3 -6.5h0m0.1 -46.4h0m0 2.4h0m0.2 6.8h0m0.1 -4.1h0m2 12.2h0m0.1 3.8h0m0 31.7h0m0.2 2.9h0m0 -40.6h0m2.1 -0.3h0m0.1 2.5h0m0.1 7.1h0m0.2 -3.2h0m0.9 40.9h0m0.4 -2.2h0m0.3 -46.5h0m0.3 -3.1h0m0.1 13.2h0m0.1 -4.5h0m0.2 -2.3h0m0.6 -1.5h0m0.1 3.5h0m-0 -8.3h0m0 -2.3h0m0.1 14.1h0m0.2 -9.6h0m0.7 55.3h0m0.5 0h0m0.2 -44.4h0m0 40h0m0.1 3.4h0m-0 -2.9h0m0.1 -43.9h0m-0 -2.1h0m0.3 51.2h0m2.2 -1.6h0m0 -41.4h0m0.2 -14.3h0m0.1 8.1h0m0.1 47.6h0m0 -55.8h0m0.1 12.2h0m0 -8.4h0m0.3 49.4h0m1.9 -47.2h0m0 46.4h0m0.1 2.2h0m0.2 -50.2h0m0.4 5.5h0m1.5 -14.3h0m0.1 55.8h0m0.1 -52.7h0m-0 46.7h0m0.1 10.6h0m0 -62.9h0m0.1 49.8h0m0.1 11.2h0m0.2 -6.4h0m0.2 -50h0m0.1 3.2h0m0.1 -6.4h0m0 12.2h0m0.1 -3.3h0m0 -13.5h0m0.1 18.9h0m0.2 -17.1h0m1 17.2h0m0.2 0.5h0m-0 7.6h0m0.2 52.3h0m0.1 -55.6h0m0.1 51.4h0m0.1 6.3h0m2.7 -7.3h0m0.1 0.6h0m4.6 11.9h0m0.4 -2.1h0m1.4 -16.1h0m0 -59.9h0m0.1 47.4h0m-0 -42.2h0m0.2 61.8h0m0.1 -52.9h0m0.1 12.6h0m0.2 -8.7h0m-0 16.1h0m0.1 -40.4h0m0.2 60.2h0m0.1 -13.2h0m5.4 3h0m-0 -63.3h0m0 46.4h0m0.1 39.4h0m0.2 -46.5h0m0.1 -21.3h0m0.1 62.2h0m0 -74.6h0m0 62.2h0m0.2 -46.4h0m0.1 52.5h0m0.1 -46.5h0m-0 7.8h0m-0 16.5h0m0.1 4.7h0m0 -46h0m10.6 77.9h0m0.1 -56.1h0m0.1 13.9h0m0.1 20.9h0m0 -29.5h0m0.1 16h0m0 25.2h0m0 -8.9h0m0.1 4.6h0m0 -32.7h0m0.1 40.5h0m0.1 -32.3h0m0.5 7.4h0m-0 4.6h0m10 -45.7h0m0.2 83.1h0m0.1 -85.7h0m0 12.8h0m0 9h0m0.2 66.1h0m-0 -79h0m-0 -10.3h0m0 20.4h0m0.2 -14h0m0.2 10.2h0m1.6 -14.4h0m0 12h0m0 3.9h0m0.1 -24.2h0m0.2 4.2h0m0.1 13.6h0m0.1 -18h0m-0 11.6h0m0.2 15.4h0m0 -11.9h0m0.4 78.3h0m0.4 4.3h0m1.1 -81.5h0m0 -17.4h0m0.2 11.5h0m0 -5.8h0m0.1 -5.5h0m-0 -0.3h0m0 14.1h0m0.1 -6.3h0m0.1 11.9h0m0 -17.1h0m0 6.4h0m0.2 -4.9h0m0 -4.7h0m0.1 15.7h0m0 -3.9h0m0.4 8.5h0m0.2 87.2h0m0.1 -7h0m0.1 -4.3h0m-0 6.7h0m0.1 -14.3h0m0 3.1h0m0 14h0m0.8 -84.3h0m0.2 9.2h0m0.1 -7h0m0.1 -6.5h0m0 9.4h0m0.5 -7.4h0m0.3 83.8h0m0.5 6.1h0m0.1 -10.5h0m0.1 7.1h0m1.3 -73.7h0m0.1 -3.4h0m0.2 5.8h0m0.5 73.6h0m-0 -14.9h0m0.1 8.2h0m0 3.5h0m0.1 6h0m0.2 0.9h0m0.1 -1.6h0m-0 -5.3h0m-0 -11.7h0m0 2.8h0m0.1 -0h0m-0 2.3h0m0.1 0.1h0m-0 2.9h0m0.1 7.7h0m0.8 -72.6h0m0.1 3.9h0m0.2 5.6h0m0 -11h0m0 7.7h0m0.2 6h0m0.2 55h0m0.2 7.4h0m0.3 0h0m0.1 -4h0m2.4 3.6h0m0.1 -38.7h0m0.1 -3h0m0.2 41.6h0m-0 -2.2h0m0.1 -31.8h0m7.3 -15h0m0.4 -5h0m0 8.9h0m0.2 4.3h0m0.2 -11.9h0m1.9 -0.5h0m0.2 6.2h0m0.3 -6.4h0m0.3 3.7h0m0.1 44.3h0m0.1 -2.1h0m0.1 8.8h0m0.1 -13.2h0m0.2 14.5h0m0.1 -14.5h0m0 10.7h0m0 -8.1h0m0.1 2.4h0m0.1 3h0m1.5 -50.2h0m0 11.6h0m0.1 -8.2h0m0.1 5h0m0.1 -2.7h0m0 -2.9h0m0.1 -6.2h0m0.2 5.4h0m0 7h0m0.1 -3.2h0m0.1 47.5h0m0.1 -2.1h0m0.2 -39.6h0m1.3 -2.7h0m0.2 -4.4h0m0.1 -2.8h0m0.9 49.6h0m0.1 -3.6h0m0.2 -2.3h0m0.1 7.9h0m2 -43.9h0m0.2 -4.2h0m0.2 1.8h0m0 6.4h0m0.2 38.9h0m0 4.5h0m0.2 -0.1h0m1.9 -44.7h0m0.1 44.1h0m0 -36.3h0m0.3 -12h0m0.1 49.5h0m0.1 -41.6h0m0.1 -6.8h0m0.1 44.4h0m1.3 -37.9h0m0.4 -0.3h0m0.1 3.1h0m0.3 35.4h0m0 3.2h0m0.2 1h0m0.1 -7.2h0m0.1 -2.3h0m2.2 -26h0m0.3 -0h0m0.3 2.2h0m0.4 30h0m0 3h0m0.3 -0.7h0m0.1 -4.7h0m1.8 7.2h0m0 1.7h0m0.1 -4.1h0m0.3 -27.9h0m0.3 -0.5h0m0.2 4.5h0m2.1 28.1h0m0 2.9h0m1 -23h0m0.1 0.7h0m1 21h0m0.2 2.5h0m1.9 -30.4h0m0.3 2.9h0m0.2 29.9h0m0.2 -5.8h0m0.2 4.2h0m1.4 -36.9h0m0.1 -0.5h0m0.1 5h0m0.1 -2h0m0.5 35.6h0m0 -5h0m0.3 -0h0m0 7h0m0 -4.7h0m0.1 1.9h0m-0 4.1h0m0 -1.1h0m0.1 -39.7h0m0.1 3.9h0m1.7 33.9h0m0.1 -2.3h0m0.2 3.4h0m0.5 -5.8h0m0.3 -27.8h0m0.4 1.3h0m0.9 31.1h0m0.1 -0.2h0m0.2 -3h0m1 -31.3h0m0 2.5h0m0.1 4.5h0m1.7 24.9h0m0.2 -0.7h0m1 -24.7h0m0.1 2.8h0m0.1 -5.7h0m1 31h0m0 -2.5h0m1.7 -19.7h0m0.5 -3.5h0m0.8 25.1h0m0.2 0.2h0m0.2 -2.9h0m1.3 22.7h0m-0 3.2h0m0.1 -25h0m0.1 -19h0m0.2 21.2h0m-0 13.2h0m0.3 -36.2h0m1.2 21.1h0m0 -0.8h0m1.2 -19.5h0m0.2 -0h0m0.1 -2.2h0m0 -2.1h0m0.2 -0.5h0m0.3 2.2h0m1.6 0.4h0m0 3h0m0 -2.4h0m1.6 24.2h0m0.1 -1.3h0m0.7 -15.1h0m0.1 -4.9h0m0 1.8h0m1 27.8h0m0 -2.7h0m0.2 -0h0m0.1 2.7h0m0.1 2h0m0.6 9.9h0m0.4 -37.6h0m0.1 0.6h0m0.1 2.7h0m0.8 19.9h0m0.3 1.1h0m2 -37.6h0m0.2 29.3h0m0.3 -27.2h0m0.1 29.2h0m0.4 -5.5h0m1.2 -27.2h0m0.3 -2.6h0m1.3 30.4h0m0 -2.3h0m0.1 -3.8h0m0.2 8.4h0m0.6 -36.4h0m0.4 1.8h0m1.7 30h0m0.1 -3h0m0.2 -33.4h0m0 5.4h0m0.5 -5.8h0m-0 -1h0m0.1 6.8h0m0.2 -5.1h0m0 2.6h0m0.1 0.4h0m0.7 32h0m0.1 4.9h0m0.3 -2.1h0m1 -34.4h0m0.1 -0.9h0m0.4 3.3h0m1.2 1.8h0m0.3 33.5h0m0.1 -33.6h0m0.2 2.5h0m-0 32.1h0m0.1 -3.5h0m2.7 -1.5h0m0.3 2.8h0m-0 -31.9h0m-0 1.4h0m2.8 0.4h0m0.1 2.5h0m0.3 -3.1h0m0.1 6.7h0m0.2 27.8h0m0 4h0m1.8 -26.2h0m0.3 -8.8h0m0.1 -2.4h0m0.1 6h0m0.3 2.8h0m0.8 35.2h0m0.1 2.7h0m0 0.4h0m0.5 -37.7h0m0.4 -1.4h0m0.1 5.5h0m0.9 31h0m0.2 5.8h0m0.1 3h0m0 -8.3h0m0 6h0m0.1 -3.3h0m0 1.4h0m0.9 -33.7h0m0.3 -1.1h0m1.6 33.1h0m0.1 -7.5h0m0.3 -26.9h0m-0 3.4h0m0 27.4h0m0 4.4h0m2.3 -38h0m0.1 39.9h0m0.1 -37.4h0m0.2 -2.3h0m0.4 25.2h0m0.1 -24.1h0m0 27.1h0m0.3 -31.4h0m0.2 1.9h0m0.5 2.4h0m0.4 -3.9h0m1.3 25.3h0m0 1.5h0m0.7 -25.8h0m0.4 -0.6h0m0.4 3.2h0m0.8 24.5h0m0.3 1.6h0m0 -5h0m1 -23h0m0.5 -0.3h0m0.1 3.1h0m0.5 24.7h0m0.3 -3.8h0m0.2 4.8h0m1.3 5.2h0m0.7 -4.6h0m-0 -27.3h0m-0 21.6h0m0 4.5h0m0.3 -28.2h0m-0 26h0m1 2.9h0m0.2 -5.2h0m0.2 2.3h0m1.3 -29.9h0m0.2 25.9h0m0 -26.6h0m0.1 3.5h0m0.1 27.7h0m0.3 -0.6h0m1.6 -36.3h0m0.4 32.8h0m0.1 -3.8h0m-0 -23.7h0m-0 -2.5h0m0.4 30.4h0m0.1 -32.5h0m0.1 -1.8h0m0.3 5.2h0m0.4 -2.4h0m0 2.4h0m0.2 -4.4h0m1.6 31.7h0m0.4 -1.1h0m0.7 -26.2h0m0 -0.4h0m0.5 4.7h0m1.1 26.2h0m0.2 -1.7h0m0.7 -22.4h0m0.1 -3.2h0m1.8 34.1h0m0.2 0h0m0 -4.4h0m0.2 -23.6h0m0.1 -3.9h0m0.3 -1.4h0m1.8 40.1h0m0.1 -2.9h0m0.2 -2.8h0m0 2.8h0m0.4 1.1h0m0.1 -3.9h0m0.7 -28.7h0m0.2 3.4h0m2.9 3.3h0m0.1 0.5h0m0 3.8h0m2 34.3h0m0.5 -3.8h0m0.5 -32.5h0m0.4 49.5h0m0.1 -51.6h0m-0 8.8h0m0 34.1h0m0.2 -37h0m0 43.8h0m0.2 -0.9h0m0 -7.9h0m0.1 5.6h0m0.4 -3.7h0m1.6 -41.6h0m0.4 7h0m0 -8.3h0m0.2 5.8h0m0.2 34.7h0m0.4 1.5h0m2.2 -42.8h0m0 4.9h0m0.4 -4.5h0m0 39.7h0m0.3 -3.8h0m0.2 5.6h0m2 -15.5h0m0.1 -30.7h0m0.3 36.6h0m0 -37.2h0m0.4 33.7h0m0.1 -30.8h0m2 21.8h0m0.4 2h0m0.1 -6.2h0m0.3 -26.8h0m0 -0.8h0m2.2 21.5h0m0.2 6h0m0.4 -10.1h0m0.1 7.1h0m0.3 -38.5h0m0.4 3.2h0m0.1 -2.4h0m1.2 38.3h0m0.2 2.6h0m0.2 -47.5h0m0 35.8h0m0 13.2h0m0 -7.3h0m0.2 -2.8h0m0 2.6h0m0.1 -44.2h0m-0 51.3h0m-0 -12.8h0m0 9.4h0m0 2.8h0m0.1 -45.1h0m0.1 36.4h0m0.2 -36.4h0m0.2 -2.2h0m1.7 35.2h0m0.3 2.9h0m1.2 -37h0m0.3 0.4h0m-0 4.5h0m0.4 38.7h0m0.3 -8.6h0m0.1 6.2h0m0 4.7h0m0 -7.1h0m0.8 -34.6h0m0.3 -1.8h0m0.1 4.7h0m2.3 36.6h0m0.1 -1.5h0m0.6 -31.1h0m0 2h0m2 35.4h0m0.1 -4.3h0m0 -25.6h0m0 31.2h0m0.5 -35.4h0m2.3 34.6h0m0.2 3.9h0m0.2 -1.5h0m0.5 -29.4h0m0 -3.7h0m1.8 2.6h0m0.3 -5.1h0m0.3 1.8h0m0 45.3h0m0.1 -4.3h0m0.1 -35.2h0m0.1 40.1h0m2.1 -35.7h0m0 36.9h0m0.2 -39.3h0m0.2 -1.4h0m0 37.8h0m0.1 -30h0m0.2 36.6h0m0.2 1.9h0m0.1 -5.4h0m1.9 -36.4h0m0.1 35.2h0m0 -34h0m0.2 37.3h0m0.1 -34.8h0m0 34.6h0m0.1 -30.9h0m1.9 -2.9h0m0.1 -3.5h0m-0 27.9h0m0.2 -30h0m0 35.3h0m0.1 -3.1h0m0.6 -30.4h0m0.4 3.8h0m1.5 2.4h0m0.1 -3.9h0m0.1 -15h0m0.1 13.8h0m0.3 31h0m0.2 -1h0m2.9 -26h0m0 5.3h0m0.2 28h0m0.1 -30.3h0m0.1 26.9h0m0.1 3.7h0m1.5 -27.9h0m0.2 -1.3h0m0 3.7h0m0.2 26.4h0m0.5 3h0m1.1 2.2h0m0.1 -2.9h0m0.5 2.2h0m0.2 -28.2h0m0.1 28.7h0m-0 -25.6h0m0.2 -4h0m0 26.9h0m1.8 -5.8h0m0.2 -0.8h0m0.3 -2.3h0m0.2 -21.1h0m-0 -4.2h0m0 -1.8h0m2.3 21.2h0m0.4 -24.1h0m0 20.5h0m0.1 2.4h0m0 -26.4h0m1.5 22h0m0.2 3.1h0m0.1 -26.7h0m0.1 3h0m0.1 24.9h0m0.1 -28h0m1.6 24.9h0m0.2 -24.8h0m0.2 25.9h0m0.1 -28.6h0m0.2 24.3h0m1.9 -2.2h0m0.1 6.1h0m-0 -2.5h0m0.6 -24.7h0m0.3 -0.7h0m2.5 22.6h0m0.2 -2.5h0m0.1 -20.7h0m0 -8.5h0m0.4 9.4h0m-0 -2.3h0m0 2.3h0m1.2 0.6h0m0.5 -2.5h0m0.6 25.4h0m0.4 1.2h0m0.4 -4.1h0m0.6 -18.8h0m0.2 -1.1h0m0.4 34.9h0m0.4 -10h0m0.2 -2.8h0m0.2 0h0m0.3 1.9h0m1.2 -45h0m-0 10.9h0m0.3 11.2h0m0.3 -4.8h0m0.5 2h0m1.2 24.8h0m0.1 -2.6h0m1.1 -25.3h0m0.1 3.7h0m0.1 -3.4h0m0 -1.3h0m0.1 0.7h0m0.5 4h0m1 21h0m0.4 1h0m1 -25h0m0.5 3.8h0m0.8 22.4h0m-0 -1.3h0m0 9.4h0m0.6 -29.8h0m0.5 -0.9h0m0.2 21.9h0m0 3.5h0m0.3 -0.2h0m1.2 -0.3h0m0.4 -3.5h0m1.4 -22.8h0m0.2 1.2h0m0.4 22.2h0m0.3 -2.2h0m0.1 4.3h0m2.5 -24.6h0m0 2.4h0m0.2 23.2h0m0.5 -3.1h0m1.9 8h0m0.1 -22.4h0m0.1 27.2h0m0 -28.2h0m0.2 26.5h0m1.6 -25.8h0m0.1 3.1h0m0.4 -4h0m0.8 33.4h0m0.3 0.6h0m0.2 -3h0m1.6 -21.9h0m0.4 32.1h0m0 -36.3h0m0 35.3h0m0.1 -34.3h0m0.1 31h0m0.1 -24.9h0m1.2 28.9h0m0.2 4.4h0m0.4 -2.1h0m0.3 -33.7h0m0.1 4.5h0m0.1 -5.5h0m0.5 35.9h0m0 -3.2h0m1.3 -27.9h0m0.3 -2.4h0m0.6 32.8h0m0.3 -2.6h0m2.6 -39.3h0m0 0.7h0m0.3 3.9h0m0.1 3h0m0.1 22.7h0m0.1 0.6h0m0 -3.2h0m1.9 -30.7h0m0.4 0.9h0m0 23.6h0m0.4 7.5h0m0 -4.6h0m0.1 4.6h0m1.5 -31.5h0m0.5 -2.3h0m0.8 27.9h0m0.2 -3.2h0m0.1 -24.6h0m0.1 27h0m-0 -24.9h0m0.1 -5.2h0m0.3 0.7h0m1.4 27.1h0m0.2 -23.8h0m0 -2.3h0m0.1 24.5h0m2 -23.1h0m0.1 -1.8h0m0 26.1h0m0.4 -3.3h0m2.7 0.1h0m0.4 0.5h0m0.4 -3.7h0m2.2 3.8h0m0.1 -19.9h0m0.1 16.9h0m0.1 -19h0m2.1 27.3h0m0.1 0.3h0m0.3 -3.2h0m0.7 -18.5h0m0.4 0.5h0m0.8 21.7h0m0.1 -1.5h0m1.9 -17h0m-0 -2.5h0m0.2 20.2h0m0.1 1.1h0m0.1 -21.2h0m1.8 24.1h0m0.1 -2.3h0m0.4 3.2h0m1.8 -20.6h0m0.1 18.9h0m0.3 -17.2h0m0.1 19.8h0m2.2 -21.3h0m-0 0.7h0m0.1 3.4h0m3.2 -2.8h0m0.1 23.1h0m0 -25.1h0m0.1 23.8h0m0.2 -18.8h0m2 22h0m0.1 -2.4h0m0.1 3.4h0m0 -28.9h0m0.1 29.1h0m0.1 -24.5h0m0 -3h0m0.1 26.1h0m-0 -2.2h0m1.9 -0.2h0m0.1 2.6h0m0.7 -27.9h0m0 -2.1h0m0.1 5.7h0m1.7 20.7h0m0.4 -1.6h0m0.4 -19.8h0m0.3 -2.1h0m2.3 22.9h0m0 -30.2h0m0.1 27.1h0m0 -26.2h0m0.3 4.1h0m0.6 -3.8h0m0.2 -4h0m0.1 0.7h0m0.1 5.4h0m0.7 24.8h0m0.1 -2.9h0m0.4 2.5h0m0.8 -30.4h0m0.5 3.2h0m1.5 19.1h0m0.2 7.7h0m0.1 -0.4h0m0.3 -42.7h0m0 38.3h0m0 -32.4h0m0.2 -3h0m-0 0.5h0m0 -9.2h0m0.1 2.9h0m0.1 5.7h0m0.2 -8.4h0m2.1 47.2h0m0.1 -4.7h0m0.2 -24.8h0m-0 29.4h0m0.1 -32.1h0m0.4 -0.3h0m1 29.9h0m0.2 3.4h0m0.4 -1h0m1.5 -19.9h0m0.3 -2.7h0m0.7 23h0m0.4 -1.8h0m1.4 4.1h0m0.4 0.5h0m0.4 -26.9h0m0 0.2h0m0.1 2.5h0m-0 20.7h0m0 -20.7h0m1.4 21.9h0m0.3 2.1h0m0.1 -21.8h0m0.2 -3h0m0.3 24.6h0m0.2 -24.5h0m0.2 27.7h0m1.6 -0.5h0m0.3 -3.8h0m0.4 -19.1h0m0.1 -2h0m2.6 21h0m0.1 1.5h0m0 -4.9h0m2.4 0.4h0m0.1 1h0m2.7 -19.8h0m0.2 22.5h0m0.2 2.1h0m0.1 -21.5h0m1.3 23.6h0m0.1 2.3h0m0.1 -4.7h0m1.1 -22.7h0m-0 1.7h0m0.1 23.5h0m0.4 -2.1h0m1.5 1.2h0m0.1 -2.9h0m0.4 4.2h0m0.2 -27h0m0.1 -3.3h0m2.4 -1.9h0m0.1 25.5h0m0.1 5.7h0m0.2 -28.8h0m0.2 26.7h0m1.3 -4.1h0m0.3 3.3h0m0.2 0.6h0m0.3 -6.6h0m1.3 0.9h0m0.4 6.1h0m0.4 -2.7h0m0.4 -22.7h0m0.4 -3h0m0.2 0.4h0m1.2 23.9h0m0.3 4.4h0m0.2 -0.9h0m0.2 0.6h0m0 -0.1h0m0.3 -3h0m1.1 -20.4h0m0.3 1.1h0m0.7 18.5h0m0.1 4.2h0m0.1 -1.2h0m2.3 -24.6h0m0.3 0.4h0m0.2 -1.3h0m0.1 26.8h0m0.1 -29.1h0m0.1 22.9h0m-0 4.3h0m1.8 -25.3h0m0.1 1.5h0m0.1 27.3h0m0.1 -4.4h0m0.1 5.1h0m2.3 -22.3h0m0.1 -1h0m0.7 23.1h0m0.5 3h0m2 0.3h0m-0 -24h0m0.2 26.1h0m0.1 -22.3h0m0.1 -2.2h0m2.7 6.4h0m0.2 -5.3h0m0.2 2.6h0m2.7 30.8h0m0.1 -25.6h0m-0 22.1h0m0.1 -28.1h0m0.1 31.5h0m0.1 -29.6h0m2.4 22.1h0m0.4 2.2h0m0.4 -30.3h0m0.1 0.2h0m0.2 3.4h0m2.7 18.5h0m0.1 -2.7h0m0.1 2.5h0m0.1 -27.1h0m0.3 5h0m0 -2.7h0m1.1 -2.9h0m0.1 -1.4h0m0.4 6h0m0 -2.5h0m0.4 -2.9h0m0.1 5.4h0m0.2 -5.3h0m0.1 2.7h0m1.7 -0.9h0m0.5 2.6h0m1.8 19.1h0m0.2 -20.1h0m0.2 -2.5h0m0.1 19.9h0m2 -20.5h0m0.4 2.7h0m0 15.9h0m0.1 3.4h0m0.2 -0.8h0m2.2 -23.1h0m0 -3.9h0m0.3 26.9h0m0.3 -4.3h0m1 -23.9h0m0.5 -1.3h0m0.3 3.6h0m0.5 25h0m0 -2.5h0m0.2 -2.3h0m1.3 -22.6h0m0.3 -1.6h0m1.7 22.6h0m0.1 3.8h0m0 -0.7h0m0.3 -26.7h0m0.3 -4h0m0 2h0m0.2 -0.3h0m0.1 -3h0m0.3 5.3h0m1.4 28.6h0m0.3 -1.3h0m0.1 -3.6h0m0.4 -25h0m0.1 0.1h0m0.1 3.2h0m1 27.2h0m0.4 1.9h0m0.1 -4.8h0m1.2 -20.7h0m0.2 -3.2h0m0.7 26.2h0m0.2 -1h0m1.7 -20.2h0m0.2 1.3h0m0.3 24.6h0m0 -1.9h0m2.7 -19.2h0m0 2h0m0 22.2h0m0.2 2.9h0m2.9 -23.1h0m0.1 2.9h0m0.3 22.1h0m0.1 4h0m0.1 -1.3h0m0.5 0.2h0m0.3 4.8h0m0.4 -2.5h0m1.1 -2.5h0m0.1 -23.2h0m0.1 24.6h0m0 -26.8h0m2.7 24.9h0m0.2 2.1h0m0.7 -28.5h0m0.4 3h0m0.7 -1h0m0.2 -2.7h0m0.1 0.5h0m0.1 31.2h0m0 0.2h0m0.3 -2.8h0m0.1 -2.7h0m1.3 -22.1h0m0 -2.4h0m0.1 -0.5h0m0.6 30.7h0m0 2.6h0m1.8 1.5h0m0.1 -27h0m0.2 30.3h0m0.1 -31.5h0m0 33.5h0m2.3 4.5h0m-0 -3.6h0m0.1 3.9h0m0.7 -33.1h0m-0 -6.7h0m0.2 3.5h0m1.1 36.3h0m0.2 3.1h0m0.1 -0.2h0m0.2 -6h0m0.3 -36.8h0m0 8.1h0m0.2 -7.9h0m0 4.6h0m0.4 32h0m0.1 3h0m0.4 -0.6h0m1.1 -47.4h0m0.3 8.9h0m0 -6.9h0m0.1 3.3h0m0.1 32.6h0m0 2.3h0m0.1 3.4h0m-0 -41.6h0m0.1 3.8h0m0.1 36.9h0m0.1 -39.7h0m2.1 34.9h0m0.2 0.4h0m0.1 -4.9h0m0.7 -27.8h0m0.1 -6h0m0.2 2.4h0m0.1 -1.1h0m0.1 2h0m0.2 -2.9h0m0.3 37h0m0 -30.7h0m0.1 27.2h0m0.2 7.3h0m-0 -1.1h0m2.1 -35.4h0m0.2 -2.5h0m0.3 6h0m0.7 31.2h0m0.2 5.7h0m0.4 -3.3h0m0.1 4.6h0m-0 -3.4h0m0.1 4.9h0m0.3 -7.3h0m0.3 -38.9h0m0 1h0m0.3 3.7h0m0.1 4.3h0m0.6 31.9h0m0.1 -2h0m1.2 -37.9h0m0 6.1h0m0.3 -4.5h0m1.6 30.9h0m0.1 -4.5h0m0.2 3.7h0m0.7 -33.1h0m0.3 4.7h0m0.1 -2.6h0m0.9 27.8h0m0.5 -3h0m0.8 -26.8h0m0.2 1.9h0m2.1 25h0m0.3 -1.4h0m0.1 -26.1h0m0.1 -2.3h0m0 36.3h0m0.2 -34h0m-0 -0.6h0m0 26.3h0m0 2.4h0m0.1 3h0m0.3 6.3h0m1.8 -13.9h0m0.4 3.1h0m0.3 -26.4h0m0.2 -2.2h0m1.4 26.8h0m0.2 -2.9h0m0.1 7.9h0m0.4 -1.7h0m1.9 -7.9h0m0.2 -89.8h0m0 3.8h0m0 25.3h0m0 19.2h0m0.3 43.1h0m1.8 4.6h0m0.5 0.2h0m0.4 -26.5h0m0 21.7h0m0.3 -19.4h0m1.8 21.3h0m0.1 3.2h0m0.7 -22.9h0m0.1 -1.8h0m0 34.3h0m1.1 -8h0m0.1 0.8h0m0.4 -3.3h0m0.6 -23.6h0m0.1 25.1h0m0 -25h0m0.2 -2h0m-0 29.7h0m0.2 -25.2h0m0 -0.3h0m1.5 21.1h0m-0 2.2h0m1.3 -26.7h0m0.3 -0.2h0m0.1 22.3h0m0 -19h0m0.4 21.3h0m2.4 -24.6h0m0.1 1.6h0m0.2 21.3h0m0 -2.6h0m0.4 2.4h0m2.4 0.4h0m0.4 -4.2h0m0.1 6.6h0m1.4 9.9h0m0.4 -16h0m0.3 5.4h0m0.3 -2.1h0m0.3 -22.9h0m0.1 1h0m1.7 1.2h0m0.3 24.4h0m-0 -27h0m0.1 22.4h0m0.1 3.1h0m1.7 2.1h0m0.3 -25.7h0m0.1 26.9h0m0.1 -27.2h0m0.3 22.7h0m0.2 -19.9h0m1.5 22.5h0m0.1 -2.4h0m0.4 4.2h0m1.9 -3.2h0m0.2 12h0m-0 9.7h0m0.2 -17.2h0m0 -0.9h0m0.3 -24.4h0m0.1 -3.1h0m1.9 1.8h0m0.3 -3.5h0m0.2 30.7h0m-0 -31.7h0m0.3 32.4h0m0 -30.7h0m0.4 26.4h0m0 -28.9h0m0.2 5.5h0m1 28.3h0m0.3 -29.2h0m0.1 25.8h0m0.1 4.8h0m0.3 -32.9h0m0.5 5.4h0m1.2 27.8h0m0.1 1.7h0m-0 -3.8h0m0.6 -23.3h0m0.1 -3.3h0m0.1 -1.4h0m0.5 29h0m0.5 -0.9h0m1.5 -26.7h0m0.2 26.7h0m0.1 -1.5h0m-0 -26.4h0m0.2 4.5h0m1.7 -3.9h0m0.1 -3.4h0m0.1 5.7h0m0.1 -5.4h0m-0 5.4h0m0 25.1h0m0.1 -30.6h0m0.2 2.8h0m0 27.5h0m0.1 -3.2h0m2.1 0h0m0.1 1.3h0m0.2 -23.9h0m0 -2.7h0m0.1 0.2h0m2.3 27.2h0m0 -1h0m0.3 -2.8h0m0.7 -23.9h0m0.2 2.5h0m2 24.6h0m0.4 -4.9h0m0 3.1h0m0.5 -22.9h0m0.4 -2.7h0m1.5 22.2h0m0.2 4h0m0.2 -0.5h0m1.2 -25.3h0m0.4 1.7h0m0.1 23.4h0m0.2 0.1h0m0 -24h0m0.4 -4.8h0m0 25.5h0m0.2 -23h0m1 2.1h0m0.4 -2.3h0m0.7 22.7h0m0 2.4h0m2.6 -21.2h0m0.3 1.5h0m2.4 1.3h0m0.1 -3.2h0m0.8 24.8h0m0.1 -2.6h0m1.6 -18h0m0.2 -1.6h0m1.6 26h0m0.1 5.5h0m0.4 -1h0m0.1 -35.3h0m0.2 -0.4h0m0 7.3h0m0.5 -4.1h0m0.1 36.6h0m-0 -32h0m0.2 -5.3h0m-0 -2.1h0m0 4.9h0m0.1 -8.5h0m-0 53.1h0m-0 1.6h0m0 -9.6h0m0.1 3.1h0m0 2.2h0m0.2 -49.6h0m0.4 4.1h0m0.2 -2.4h0m0.2 -0.8h0m0.1 9.3h0m0.1 32h0m0.3 6.6h0m0 -41.7h0m0.3 38.8h0m3 -10.6h0m0.1 -1.1h0m0.1 -4.3h0m2.5 2.5h0m0.4 -2.5h0m2.3 -20.3h0m0.1 2.5h0m0.7 16.6h0m0.3 -1.9h0m1.8 -3.2h0m0.1 0.8h0m2 -58.8h0m0 50.9h0m0.2 4.2h0m0 -51.9h0m0.2 -5.3h0m0.1 55.7h0m0.2 -47.7h0m0.1 -1.8h0m0.1 1.8h0m1.7 11.1h0m0.3 -3h0m0.2 -1.8h0m0.1 50.5h0m0 -2.5h0m0.2 -2.3h0m0.2 3.5h0m0.1 1.5h0m-0 -5h0m0 6h0m0.1 0.3h0m2.1 -35.3h0m0.3 33.2h0m-0 -2.5h0m0.1 -31.3h0m0.2 4.9h0m2.2 22.6h0m0.1 1.2h0m0.3 -34.6h0m0.2 3.8h0m-0 2.9h0m0.1 -0h0m0 -8.7h0m0.1 4.1h0m0.1 2.1h0m1.8 29.1h0m0.3 -2.1h0m0.5 -27.2h0m0.2 2.3h0m1.5 25.3h0m0.4 -1.2h0m1.1 -24.9h0m0.2 -3.9h0m0.2 27.7h0m0.2 2.4h0m0.1 -29.1h0m1.6 -7h0m0.1 3.5h0m0.3 -2.8h0m0.3 29.3h0m0.2 5.6h0m0.2 9.4h0m0 6.5h0m0 2.8h0m0.3 -20.8h0m1.3 -27.4h0m0.1 -8.2h0m0.1 6h0m0.1 -8.1h0m0 41h0m0.1 -0.3h0m-0 -2.3h0m0.2 -33.6h0m0 35.9h0m0 -39.8h0m0.1 3.7h0m-0 3.7h0m0.1 28.3h0m2 2h0m0.3 2.3h0m0 -33.4h0m0.4 2.9h0m0 2.8h0m0 -6.1h0m1.9 11.8h0m0.2 -6.7h0m0 3.9h0m0.2 -2.9h0m3.3 1.5h0m0.1 2.3h0m0.1 2.8h0m2.6 -2.5h0m0.1 3.9h0m0.4 22.5h0m0.3 -3h0m1.6 -20h0m0.4 3h0m0.5 21.6h0m0.1 3.4h0m2.3 -19h0m0.1 -1h0m0.7 27.3h0m0.5 1.5h0m1.7 -27.7h0m0.1 3.1h0m1.7 31.8h0m0.1 0.6h0m0.1 -7.5h0m0 3.5h0m0.6 -31h0m0.3 -0h0m0.2 -2.8h0m0.1 -0.2h0m0.8 37.4h0m0.2 2.5h0m0.1 -5h0m0.2 7.5h0m1.7 -36.5h0m0.2 -0.7h0m0.1 37.7h0m0.1 -34.6h0m0.1 31.8h0m1.5 -27.9h0m0.3 -2.8h0m0.3 0.1h0m-0 38.9h0m0.2 3.6h0m0.4 -7.7h0m1.2 0.2h0m-0 -36.5h0m0.1 42h0m0 4.3h0m0.2 -43.3h0m0.1 44.1h0m0.5 -8.1h0m0.6 -35.2h0m0.5 -2.6h0m0.4 6.5h0m0.2 45.4h0m0.2 -4.5h0m0.1 5.9h0m0.1 -0.6h0m0.1 -2.5h0m0.1 -2.8h0m0 5.6h0m1 -45.3h0m0.2 -2.1h0m0.1 4.6h0m0.5 33.4h0m0.3 2.1h0m1.2 -39.5h0m0.1 -3.8h0m0.2 1.2h0m0.5 42h0m0 -1.1h0m0.3 -4.2h0m1.9 -35.4h0m0.4 -3.7h0m0 7h0m0.3 2.6h0" stroke="#1f77b4" stroke-width="5.4" stroke-linecap="round" fill="none"/>
<polyline points="116.8,288.7 118.3,287.0 119.8,282.5 121.3,278.5 122.8,275.1 124.2,275.5 125.6,279.5 127.1,280.2 128.4,278.8 129.8,276.4 131.2,269.0 132.5,268.6 133.9,264.0 135.0,270.2 136.2,278.2 137.3,285.3 138.7,283.8 140.1,282.9 141.6,285.3 142.8,289.0 144.1,287.0 145.4,286.9 146.7,292.1 148.1,285.5 149.5,281.5 150.9,278.5 152.4,273.6 153.8,274.6 155.2,271.7 156.6,273.3 158.1,277.7 159.5,281.9 160.8,290.7 162.0,302.0 163.3,302.8 164.6,314.3 166.0,303.0 167.4,293.8 168.9,285.3 170.3,286.7 171.7,288.5 173.1,288.7 174.6,279.3 176.0,280.4 177.4,273.4 178.8,266.5 180.2,268.6 181.7,261.4 183.1,262.3 184.5,263.0 185.9,264.8 187.3,264.9 188.8,265.4 190.2,265.7 191.5,262.1 192.8,258.5 194.0,254.3 195.3,251.2 196.4,250.5 197.6,250.2 198.7,248.6 200.0,247.9 201.3,248.3 202.6,247.8 203.8,246.1 205.0,243.7 206.1,242.4 207.3,240.1 208.5,242.4 209.8,242.7 211.1,245.1 212.4,246.1 213.8,247.9 215.2,248.2 216.6,249.5 218.1,252.0 219.5,255.9 220.9,259.7 222.4,263.0 223.9,267.0 225.4,269.0 226.9,270.8 228.3,270.9 229.7,268.8 231.1,266.5 232.4,263.9 233.7,265.5 235.0,264.1 236.3,259.7 237.5,263.9 238.8,264.2 240.1,264.1 241.4,264.8 242.8,272.1 244.2,278.0 245.6,285.3 247.1,282.9 248.6,279.8 250.1,277.1 251.6,273.4 252.9,277.9 254.2,282.5 255.5,287.5 256.7,292.1 258.0,290.5 259.3,287.5 260.6,287.5 261.9,285.3 263.2,283.3 264.6,282.6 265.9,281.6 267.3,275.4 268.7,276.8 270.2,275.7 271.7,270.8 273.2,266.4 274.6,258.0 276.1,259.3 277.5,266.5 278.9,268.2 280.0,271.5 281.6,273.4 283.2,270.5 284.8,271.4 286.4,273.7 288.0,277.5 289.6,279.2 291.2,281.6 292.8,282.2 294.4,281.2 296.0,279.4 297.6,278.5 299.2,276.9 300.8,276.6 302.4,272.5 304.0,269.9 305.6,269.4 307.2,273.5 308.8,273.0 310.4,278.1 312.0,280.1 313.3,274.7 314.6,271.7 316.0,267.1 317.3,260.9 318.9,259.0 320.5,260.1 322.1,260.3 323.7,259.8 325.3,253.3 326.9,252.2 328.5,246.1 330.1,241.7 331.7,243.2 333.3,245.3 334.9,246.3 336.5,250.2 337.9,272.0 339.3,292.1 340.8,303.5 342.1,311.0 343.4,303.4 344.8,316.4 346.1,314.2 347.5,300.8 348.9,296.4 350.4,290.7 351.7,298.6 353.0,301.6 354.4,300.0 355.7,308.8 357.3,298.6 358.9,298.4 360.5,295.9 362.1,286.5 363.4,285.3 364.8,281.6 366.1,279.3 367.4,280.1 368.8,284.8 370.1,287.0 371.4,290.5 372.8,292.9 374.1,296.7 375.4,300.9 376.7,306.2 378.1,307.8 379.4,303.6 380.7,301.4 382.1,300.1 383.4,297.1 384.8,301.0 386.3,307.0 387.7,309.9 389.0,305.0 390.3,301.5 391.7,297.1 393.0,292.9 394.6,292.8 396.2,284.3 397.8,282.6 399.4,280.1 400.7,281.7 402.1,281.3 403.4,274.3 404.7,277.9 406.1,279.7 407.4,282.4 408.7,277.4 410.1,283.3 411.7,282.8 413.3,273.1 414.9,276.5 416.5,268.3 418.1,279.8 419.7,279.9 421.3,286.8 422.9,290.7 424.3,295.1 425.7,299.3 427.1,299.3 428.6,307.4 430.0,323.3 431.4,332.4 432.8,330.7 434.3,336.1 435.6,349.6 436.9,356.3 438.3,360.4 439.6,370.2 441.0,376.1 442.4,371.2 443.9,372.3 445.4,374.5 446.8,372.6 448.3,378.1 449.8,381.2 451.3,389.4 452.7,382.7 454.0,377.0 455.3,358.4 456.7,357.4 458.0,363.3 459.3,356.6 460.7,348.7 462.0,353.2 463.6,331.6 465.2,310.5 466.8,301.5 468.4,295.6 470.0,293.6 471.6,297.7 473.2,290.1 474.8,270.0 476.4,288.6 478.0,293.5 479.6,306.4 481.2,310.5 482.6,310.0 484.0,300.0 485.4,291.3 486.9,288.3 488.3,289.2 489.7,297.7 491.3,284.0 492.9,280.7 494.0,319.6 495.0,355.3 496.4,327.7 497.8,291.3 498.9,283.8 499.9,270.0 501.4,236.2 503.0,248.3 504.6,268.1 505.9,247.3 507.2,221.9 508.5,208.4 509.5,211.4 510.6,221.2 511.9,212.3 513.3,194.8 514.6,189.3 515.9,190.7 517.2,201.2 518.5,210.6 520.1,233.8 521.7,251.1 522.8,252.9 523.8,268.1 525.4,244.3 527.0,221.2 528.6,179.3 530.2,142.3 531.3,144.1 532.3,157.3 533.6,148.7 534.9,150.9 536.2,173.1 537.5,188.6 538.7,210.6 540.3,236.3 541.9,263.9 543.0,270.0 544.6,280.9 546.2,284.9 547.8,287.5 549.4,297.7 551.0,332.4 552.6,372.3 554.2,337.4 555.8,308.4 557.4,306.4 559.0,291.3 560.6,285.2 562.2,270.0 563.6,253.4 565.0,232.3 566.5,221.2 567.8,235.2 569.1,245.3 570.5,260.3 571.8,266.0 573.1,258.3 574.5,244.5 575.8,227.8 577.1,223.4 578.7,224.4 580.3,228.3 581.9,235.9 583.5,238.3 585.1,243.6 586.7,247.7 588.3,244.9 589.9,251.1 591.5,254.0 593.1,259.9 594.7,266.0 596.3,266.0 597.8,270.0 599.4,263.3 600.9,263.8 602.4,272.1 603.9,268.3 605.4,270.3 607.0,270.3 608.6,266.8 610.2,277.5 611.8,272.4 613.4,278.8 615.0,271.5 616.6,278.8 618.2,266.8 619.8,249.0 621.1,246.9 622.4,245.6 623.7,246.0 625.1,247.6 626.4,245.0 627.2,245.8 628.6,249.8 630.0,253.2 631.4,252.0 632.8,253.5 634.1,254.8 635.5,259.9 636.8,261.5 638.1,264.2 639.7,264.3 641.3,265.2 642.9,264.9 644.5,262.6 646.1,260.1 647.7,256.7 649.1,253.0 650.4,251.0 651.7,249.9 653.0,246.1 654.6,249.2 656.2,249.2 657.8,253.8 659.4,254.6 661.0,253.7 662.6,251.7 664.2,249.5 665.8,247.1 667.4,243.9 669.0,241.7 670.6,241.9 672.2,238.3 673.8,235.9 675.4,234.3 676.8,237.9 678.1,240.0 679.4,241.7 680.8,245.0 682.4,240.9 684.0,237.5 685.4,240.9 686.8,248.1 688.2,249.3 689.7,246.6 691.1,251.5 692.5,253.5 694.1,249.7 695.7,247.1 697.1,265.4 698.5,275.8 700.0,286.6 701.4,278.2 702.8,260.9 704.2,249.3 705.6,247.4 706.9,247.9 708.2,259.0 709.6,253.5 711.0,243.5 712.4,248.0 713.8,238.6 715.4,230.2 717.0,234.3 718.1,239.2 719.1,251.4 720.7,241.4 722.3,238.6 723.9,243.5 725.5,238.3 727.1,234.0 728.7,232.2 730.1,242.6 731.4,234.2 732.7,247.0 734.1,247.1 735.5,233.8 736.8,218.3 738.4,222.0 740.0,221.6 741.5,227.9 743.1,226.5 744.7,222.6 746.3,221.5 747.9,227.9 749.4,232.4 750.8,237.6 752.2,234.3 753.5,227.9 754.9,230.6 756.2,231.4 757.5,227.9 758.9,236.3 760.2,233.5 761.5,240.6 762.9,247.1 764.5,236.7 766.1,227.9 767.5,230.3 768.9,214.7 770.3,215.1 771.7,210.7 773.0,200.9 774.3,184.6 775.7,178.9 777.1,178.2 778.5,173.2 779.9,172.5 781.2,159.2 782.6,155.5 783.9,144.3 785.2,142.6 786.7,151.7 788.1,160.2 789.5,164.0 790.9,161.3 792.4,167.2 793.8,170.4 795.4,184.2 797.0,191.7 798.3,193.7 799.6,197.8 801.0,190.0 802.3,195.9 803.2,188.5 804.6,196.2 806.0,206.8 807.5,208.7 808.6,176.0 809.8,150.1 810.2,150.1 811.1,189.6 811.9,221.5 812.8,219.4 814.1,218.8 815.5,223.0 816.8,224.2 818.1,225.8 819.1,226.9 820.0,227.9 821.2,225.8 822.4,223.7 823.8,226.9 825.2,230.1 826.4,226.3 827.6,221.5 828.8,217.3 830.4,223.5 832.0,230.1 833.6,232.2 835.2,234.3 836.8,236.4 838.4,238.6 840.0,233.9 841.6,229.0 843.2,232.3 844.8,236.5 846.4,236.1 848.0,236.7 849.6,236.4 851.2,236.5 852.8,221.5 854.4,215.1 855.8,198.2 857.1,178.9 858.4,192.9 859.6,214.3 860.8,240.7 862.0,212.7 863.3,186.4 864.7,208.8 866.1,236.5 867.4,234.8 868.8,234.7 870.1,238.8 871.4,239.7 872.8,239.8 874.1,240.3 875.4,242.5 876.8,240.7 878.4,222.2 880.0,198.1 881.6,210.9 883.2,232.2 884.8,222.5 886.4,213.0 887.7,225.4 889.1,245.0 890.7,233.9 892.3,226.9 893.8,216.2 895.1,217.0 896.5,221.6 897.8,231.4 899.1,232.2 900.5,235.0 901.8,241.9 903.1,241.4 904.5,247.1 905.7,242.7 906.9,238.7 908.2,239.1 909.4,234.3 910.9,234.7 912.5,236.6 914.1,241.8 915.4,245.5 916.7,245.5 918.1,244.7 919.4,246.1 921.0,247.0 922.6,248.1 924.2,246.9 925.8,246.1 927.1,248.4 928.5,246.3 929.8,249.3 931.1,249.3 932.6,249.7 934.0,256.0 935.4,256.7 936.8,251.8 938.2,242.8 939.7,234.3 940.9,233.4 942.1,229.1 943.3,229.0 944.6,233.5 945.8,233.7 947.1,234.3 948.7,243.2 950.3,245.0 951.9,244.0 953.5,236.5 955.1,240.2 956.7,247.7 958.3,250.3 959.9,259.9 961.5,259.2 963.1,251.1 964.7,251.7 966.3,249.3 967.8,246.3 969.3,248.5 970.8,245.8 972.3,244.9 973.8,246.1 975.3,245.6 976.8,244.8 978.3,247.6 979.7,245.4 981.2,247.1 982.8,246.5 984.4,239.7 985.9,239.7 987.4,240.0 988.9,244.0 990.4,249.3 991.9,249.3 993.2,252.7 994.6,249.2 995.9,252.6 997.2,253.5 998.6,257.4 1000.0,258.8 1001.4,263.3 1002.8,266.9 1004.2,275.7 1005.6,276.4 1007.0,269.6 1008.4,271.8 1009.9,264.1 1011.3,265.1 1012.8,262.0 1014.4,255.6 1016.0,246.3 1017.2,243.6 1018.5,235.9 1019.7,231.3 1021.0,225.6 1022.2,223.2 1023.5,219.1 1025.0,223.3 1026.6,226.4 1028.1,231.3 1029.6,233.5 1031.0,240.2 1032.4,238.9 1033.8,244.5 1035.2,245.3 1036.6,247.4 1038.0,251.0 1039.4,253.9 1041.0,258.3 1042.5,264.8 1044.1,268.9 1045.7,264.5 1047.2,264.3 1048.8,257.6 1050.4,260.7 1051.9,261.1 1053.5,265.1 1054.9,271.0 1056.3,271.8 1057.7,276.4 1059.1,277.3 1060.5,271.1 1061.9,266.5 1063.3,262.2 1064.7,257.6 1066.1,255.8 1067.6,252.0 1069.0,252.6 1070.4,248.2 1071.8,246.2 1073.2,246.9 1074.6,246.9 1076.0,245.4 1077.6,249.7 1079.1,251.7 1080.7,252.9 1082.1,252.1 1083.5,253.3 1084.9,252.1 1086.3,251.0 1087.7,250.1 1089.1,249.2 1090.5,253.6 1091.9,252.0 1093.5,249.7 1095.1,248.4 1096.6,246.3 1098.0,249.1 1099.5,256.2 1100.9,259.6 1102.3,261.4 1103.6,262.2 1104.9,267.6 1106.2,267.9 1107.5,272.6 1108.8,276.4 1110.4,275.4 1112.0,278.3 1113.5,275.4 1114.8,271.4 1116.0,259.5 1117.3,253.9 1118.8,253.2 1120.4,255.0 1122.0,257.6 1123.5,254.5 1125.0,250.0 1126.5,249.2 1128.0,246.4 1129.5,244.5 1130.9,248.2 1132.3,252.5 1133.7,255.1 1135.1,259.5 1136.5,259.5 1137.9,258.7 1139.3,261.1 1140.7,261.4 1142.1,262.1 1143.6,264.2 1145.0,266.9 1146.4,268.9 1147.8,269.4 1149.2,268.8 1150.6,269.0 1152.0,268.9 1153.4,268.9 1154.8,266.5 1156.2,265.9 1157.6,267.0 1158.9,265.5 1160.1,262.4 1161.4,259.5 1162.5,256.1 1163.6,253.9 1165.0,251.7 1166.4,246.3 1167.9,249.8 1169.5,257.6 1170.8,259.5 1172.2,259.1 1173.6,257.4 1175.0,258.9 1176.4,259.5 1177.8,263.1 1179.2,265.1 1180.6,262.8 1182.0,261.5 1183.4,256.2 1184.8,255.7 1186.2,258.3 1187.5,260.5 1188.8,262.2 1190.1,265.3 1191.4,267.0 1192.8,263.4 1194.2,262.8 1195.6,261.4 1197.0,255.2 1198.4,252.9 1199.8,252.9 1201.3,254.4 1202.7,258.1 1204.1,262.3 1205.5,263.2 1206.9,261.6 1208.3,260.6 1209.7,256.3 1211.1,254.8 1212.5,259.3 1213.9,264.0 1215.3,266.7 1216.7,268.9 1218.1,270.2 1219.6,274.0 1221.0,276.1 1222.4,280.1 1223.8,282.3 1225.2,281.1 1226.7,278.7 1228.3,272.5 1229.9,270.7 1231.1,270.5 1232.4,270.4 1233.6,268.9 1235.2,267.9 1236.8,266.4 1238.4,264.4 1240.0,261.4 1241.3,261.8 1242.5,259.7 1243.8,259.3 1245.0,257.6 1246.3,257.2 1247.6,254.1 1249.0,253.6 1250.3,255.5 1251.6,252.9 1253.1,253.6 1254.7,254.9 1256.3,257.6 1257.7,258.2 1259.1,262.0 1260.5,261.2 1261.9,263.2 1263.3,263.8 1264.7,269.4 1266.1,272.6 1267.5,274.5 1268.8,274.7 1270.2,272.9 1271.5,268.8 1272.8,267.8 1274.1,268.9 1275.7,274.4 1277.2,283.4 1278.8,285.8 1280.4,291.6 1281.9,292.5 1283.5,295.1 1284.9,282.3 1286.3,273.6 1287.9,275.7 1289.4,275.3 1291.0,274.5 1292.6,274.0 1294.1,277.1 1295.7,283.9 1297.1,282.7 1298.5,280.9 1299.9,277.0 1301.3,272.6 1302.7,269.5 1304.1,266.7 1305.5,265.0 1306.9,265.1 1308.3,264.0 1309.6,266.1 1310.9,262.1 1312.2,262.7 1313.5,261.4 1315.1,262.4 1316.6,265.4 1318.2,269.8 1319.8,271.2 1321.3,272.5 1322.9,274.5 1324.5,272.0 1326.0,272.1 1327.6,269.8 1329.1,266.2 1330.7,263.7 1332.3,262.3 1333.7,263.8 1335.1,267.4 1336.5,268.0 1337.9,270.7 1339.5,268.8 1341.0,272.3 1342.6,269.8 1344.0,270.8 1345.4,270.4 1346.8,271.1 1348.2,272.6 1349.5,272.2 1350.7,278.1 1352.0,280.1 1353.4,276.8 1354.8,279.8 1356.2,278.2 1357.6,276.4 1358.9,274.2 1360.2,274.8 1361.5,271.5 1362.9,271.0 1364.2,269.8 1365.7,270.9 1367.2,269.1 1368.7,270.7 1370.2,271.6 1371.7,271.7 1373.0,273.8 1374.3,275.5 1375.6,273.8 1376.9,276.1 1378.2,276.4 1379.8,274.8 1381.4,276.2 1382.9,276.4 1384.2,281.6 1385.4,287.6 1387.0,280.2 1388.6,274.5 1390.0,275.5 1391.4,275.6 1392.8,276.1 1394.2,278.2 1395.4,276.8 1396.7,274.2 1397.9,272.6 1399.5,259.4 1401.1,241.7 1402.3,256.3 1403.4,266.0 1404.5,274.5 1405.9,271.6 1407.3,270.9 1408.7,268.8 1410.1,268.9 1411.7,269.7 1413.3,271.1 1414.8,274.5 1416.2,262.6 1417.7,253.9 1418.9,254.7 1420.2,264.8 1421.4,265.1 1422.8,267.8 1424.2,266.4 1425.6,271.0 1427.0,270.7 1428.6,269.3 1430.2,268.5 1431.7,267.0 1433.3,269.6 1434.9,272.1 1436.4,272.6 1438.0,273.7 1439.5,280.4 1441.1,282.0 1442.4,276.9 1443.6,270.1 1444.9,268.9 1446.1,276.5 1447.4,287.0 1448.6,293.3 1449.9,289.4 1451.1,289.9 1452.4,285.8 1453.8,293.5 1455.2,308.3 1456.6,299.9 1458.0,287.6 1459.6,298.2 1461.2,306.4" fill="none" stroke="#ff7f0e" stroke-width="2.1" stroke-linejoin="round"/>

</g>
<rect x="116.5" y="38.5" width="1346" height="480" fill="none" stroke="#000" stroke-width="1.35"/>
<path class="t" d="M116.5 518.5v5.5M284.5 518.5v5.5M452.5 518.5v5.5M620.5 518.5v5.5M789.5 518.5v5.5M957.5 518.5v5.5M1125.5 518.5v5.5M1294.5 518.5v5.5"/>
<path class="t" d="M116.5 95.5h-5.5M116.5 176.5h-5.5M116.5 258.5h-5.5M116.5 340.5h-5.5M116.5 421.5h-5.5M116.5 503.5h-5.5"/>
<g font-size="21" text-anchor="end">
<text x="106" y="102.6" textLength="14.5" lengthAdjust="spacingAndGlyphs">2</text>
<text x="106" y="184.2" textLength="14.5" lengthAdjust="spacingAndGlyphs">1</text>
<text x="106" y="265.8" textLength="14.5" lengthAdjust="spacingAndGlyphs">0</text>
<text x="106" y="347.4" textLength="33" lengthAdjust="spacingAndGlyphs">−1</text>
<text x="106" y="429" textLength="33" lengthAdjust="spacingAndGlyphs">−2</text>
<text x="106" y="510.6" textLength="33" lengthAdjust="spacingAndGlyphs">−3</text>
</g>
<text x="115.5" y="29.5" font-size="27" textLength="42" lengthAdjust="spacingAndGlyphs">(a)</text>
<text x="784.5" y="30" font-size="27.5" text-anchor="middle" textLength="300" lengthAdjust="spacingAndGlyphs">15.0 MHz N0000003</text>
<text transform="translate(61.5,278.5) rotate(-90)" font-size="23" text-anchor="middle" textLength="225" lengthAdjust="spacingAndGlyphs">Doppler Shift [Hz]</text>
<!-- legend top -->
<g>
<rect x="1047.5" y="48.5" width="406" height="79.5" rx="3.5" fill="#fff" fill-opacity="0.8" stroke="#ccc" stroke-opacity="0.8" stroke-width="1.1"/>
<circle cx="1073" cy="63.3" r="2.7" fill="#1f77b4"/>
<path d="M1053 101.8H1092" stroke="#ff7f0e" stroke-width="1.8"/>
<g font-size="17.5">
<text x="1106.5" y="68.8" textLength="98" lengthAdjust="spacingAndGlyphs">Raw Data</text>
<text x="1106.5" y="96" textLength="269" lengthAdjust="spacingAndGlyphs">Butterworth Filtered Data</text>
<text x="1106.5" y="116" textLength="338.5" lengthAdjust="spacingAndGlyphs">(N=6, Tc=3.3333 min, Type: low)</text>
</g>
</g>
<!-- BOTTOM AXES -->
<g clip-path="url(#c2)">
<rect x="760.5" y="575.5" width="681" height="479" fill="#e8e8e8"/>
<g class="g">
<path d="M284.5 575.5V1054.5M452.5 575.5V1054.5M620.5 575.5V1054.5M789.5 575.5V1054.5M957.5 575.5V1054.5M1125.5 575.5V1054.5M1294.5 575.5V1054.5"/>
<path d="M116.5 620.5H1462.5M116.5 720.5H1462.5M116.5 820.5H1462.5M116.5 921.5H1462.5M116.5 1021.5H1462.5"/>
</g>
<polygon points="116.5,895.6 118.0,896.2 119.5,897.6 121.0,897.9 122.5,899.8 124.0,902.7 125.5,907.6 127.0,922.7 128.5,937.4 130.0,937.8 131.5,939.8 133.0,940.1 134.5,941.5 136.0,942.9 137.5,944.5 139.0,946.7 140.5,948.8 142.0,951.2 143.5,951.2 145.0,950.1 146.5,948.8 148.0,949.0 149.5,948.5 151.0,947.8 152.5,946.2 154.0,945.6 155.5,945.1 157.0,944.7 158.5,944.8 160.0,945.4 161.5,945.8 163.0,941.0 164.5,929.9 166.0,916.5 167.5,895.6 169.0,890.9 170.5,888.4 172.0,940.3 173.5,941.6 175.0,889.2 176.5,886.8 178.0,886.5 179.5,885.6 181.0,905.9 182.5,934.9 184.0,947.6 185.5,952.1 187.0,956.0 188.5,957.2 190.0,946.3 191.5,932.2 193.0,919.7 194.5,902.3 196.0,893.3 197.5,893.8 199.0,897.9 200.5,901.2 202.0,905.2 203.5,904.7 205.0,904.3 206.5,910.9 208.0,931.7 209.5,952.5 211.0,954.2 212.5,955.8 214.0,960.4 215.5,964.5 217.0,967.9 218.5,964.7 220.0,961.9 221.5,961.3 223.0,964.5 224.5,968.4 226.0,971.7 227.5,975.4 229.0,976.3 230.5,977.9 232.0,979.1 233.5,978.9 235.0,977.6 236.5,974.8 238.0,967.3 239.5,964.1 241.0,965.2 242.5,966.6 244.0,951.8 245.5,923.1 247.0,921.1 248.5,920.5 250.0,937.0 251.6,946.3 253.1,949.1 254.6,953.3 256.1,942.7 257.6,925.0 259.1,917.8 260.6,917.2 262.1,923.4 263.6,938.1 265.1,936.3 266.6,934.0 268.1,923.2 269.6,918.0 271.1,922.1 272.6,927.2 274.1,929.1 275.6,931.2 277.1,933.5 278.6,934.4 280.1,926.6 281.6,917.3 283.1,914.2 284.6,910.1 286.1,898.3 287.6,850.1 289.1,845.1 290.6,849.3 292.1,851.2 293.6,850.5 295.1,850.7 296.6,848.2 298.1,843.1 299.6,829.7 301.1,810.2 302.6,817.0 304.1,838.1 305.6,839.5 307.1,839.2 308.6,822.8 310.1,803.0 311.6,780.6 313.1,784.7 314.6,785.4 316.1,784.1 317.6,791.9 319.1,802.3 320.6,796.5 322.1,790.0 323.6,777.7 325.1,765.5 326.6,767.6 328.1,785.5 329.6,795.6 331.1,802.4 332.6,803.2 334.1,795.7 335.6,797.5 337.1,811.2 338.6,830.1 340.1,949.2 341.6,1001.0 343.1,999.6 344.6,998.1 346.1,996.4 347.6,994.3 349.1,994.2 350.6,993.8 352.1,994.2 353.6,999.2 355.1,1003.7 356.6,1001.9 358.1,999.6 359.6,996.4 361.1,996.6 362.6,1003.1 364.1,1007.7 365.6,1007.6 367.1,1007.8 368.6,1007.5 370.1,1007.6 371.6,1008.0 373.1,1009.4 374.6,1008.9 376.1,1006.0 377.6,1003.1 379.1,999.5 380.6,995.8 382.1,992.2 383.6,992.9 385.1,994.8 386.6,996.0 388.1,997.8 389.6,1000.8 391.1,1002.4 392.6,1004.3 394.1,1006.2 395.6,1007.7 397.1,1006.0 398.6,1004.6 400.1,1003.3 401.6,1001.4 403.1,1003.0 404.6,1005.9 406.1,1007.7 407.6,1009.4 409.1,1010.7 410.6,1010.7 412.1,1011.3 413.6,1011.7 415.1,1012.7 416.6,1013.5 418.1,1013.9 419.6,1013.2 421.1,1013.8 422.6,1014.4 424.1,1014.2 425.6,1015.3 427.1,1015.0 428.6,1015.6 430.1,1015.8 431.6,1015.9 433.1,1016.6 434.6,1017.0 436.1,1017.6 437.6,1017.5 439.1,1016.1 440.6,1015.6 442.1,1015.4 443.6,1015.1 445.1,1014.0 446.6,1012.7 448.1,1011.8 449.6,1010.3 451.1,1008.4 452.6,1007.2 454.1,1009.2 455.6,1012.2 457.1,1012.9 458.6,1014.1 460.1,1016.0 461.6,1015.9 463.1,1016.4 464.6,1016.6 466.1,1017.8 467.6,1018.0 469.1,1017.9 470.6,1018.5 472.1,1018.7 473.6,1017.7 475.1,1017.8 476.6,1017.6 478.1,1017.8 479.6,1017.6 481.1,1018.2 482.6,1017.6 484.1,1018.4 485.6,1018.3 487.1,1017.8 488.6,1017.7 490.1,1018.5 491.6,1017.9 493.1,1018.1 494.6,1017.7 496.1,1018.5 497.6,1017.7 499.1,1018.7 500.6,1017.7 502.1,1018.5 503.6,1017.8 505.1,1018.4 506.6,1018.0 508.1,1018.6 509.6,1018.2 511.1,1018.2 512.6,1018.9 514.1,1018.5 515.6,1018.1 517.1,1018.0 518.6,1018.8 520.1,1018.1 521.7,1018.2 523.2,1018.9 524.7,1018.1 526.2,1018.2 527.7,1018.2 529.2,1018.4 530.7,1018.6 532.2,1018.3 533.7,1018.0 535.2,1018.9 536.7,1018.3 538.2,1018.7 539.7,1018.4 541.2,1018.3 542.7,1018.2 544.2,1018.6 545.7,1018.2 547.2,1018.6 548.7,1018.8 550.2,1017.9 551.7,1018.2 553.2,1018.6 554.7,1018.9 556.2,1018.6 557.7,1017.9 559.2,1018.1 560.7,1018.3 562.2,1018.8 563.7,1018.7 565.2,1017.7 566.7,1017.3 568.2,1017.5 569.7,1017.0 571.2,1016.9 572.7,1016.8 574.2,1016.0 575.7,1016.0 577.2,1015.8 578.7,1013.7 580.2,1013.4 581.7,1012.2 583.2,1011.7 584.7,1011.5 586.2,1011.5 587.7,1004.3 589.2,993.7 590.7,993.0 592.2,991.7 593.7,996.9 595.2,1006.9 596.7,1006.8 598.2,1007.8 599.7,1009.8 601.2,1010.8 602.7,1011.7 604.2,1007.8 605.7,1006.7 607.2,1011.4 608.7,1014.1 610.2,1015.2 611.7,1015.4 613.2,1016.3 614.7,1014.8 616.2,1009.6 617.7,1003.7 619.2,1002.3 620.7,1001.1 622.2,1003.2 623.7,1004.2 625.2,999.2 626.7,995.0 628.2,987.4 629.7,976.8 631.2,975.2 632.7,975.5 634.2,976.1 635.7,978.0 637.2,980.7 638.7,984.9 640.2,992.2 641.7,997.1 643.2,999.6 644.7,1002.0 646.2,1001.1 647.7,1000.5 649.2,1000.5 650.7,1000.0 652.2,999.0 653.7,997.6 655.2,994.0 656.7,986.5 658.2,990.5 659.7,996.0 661.2,1000.7 662.7,1004.2 664.2,1004.8 665.7,1004.9 667.2,1005.0 668.7,1004.7 670.2,1003.4 671.7,1001.0 673.2,1000.8 674.7,1004.3 676.2,1006.2 677.7,1005.8 679.2,1005.7 680.7,1005.9 682.2,1005.5 683.7,1007.7 685.2,1009.3 686.7,1009.6 688.2,1011.1 689.7,1011.3 691.2,1012.1 692.7,1013.9 694.2,1016.1 695.7,1018.5 697.2,1018.6 698.7,1019.5 700.2,1018.6 701.7,1019.5 703.2,1018.6 704.7,1019.5 706.2,1018.5 707.7,1019.7 709.2,1019.1 710.7,1018.8 712.2,1018.6 713.7,1019.6 715.2,1018.9 716.7,1019.0 718.2,1019.0 719.7,1018.6 721.2,1018.6 722.7,1019.5 724.2,1019.4 725.7,1019.8 727.2,1019.1 728.7,1019.8 730.2,1019.1 731.7,1018.6 733.2,1019.7 734.7,1019.1 736.2,1019.1 737.7,1018.9 739.2,1018.6 740.7,1019.3 742.2,1018.6 743.7,1019.4 745.2,1019.0 746.7,1019.0 748.2,1018.6 749.7,1019.0 751.2,1019.3 752.7,1018.6 754.2,1018.9 755.7,1019.5 757.2,1019.4 758.7,1019.7 760.2,1018.7 761.7,1018.6 763.2,1017.7 764.7,1018.2 766.2,1015.8 767.7,1014.5 769.2,1016.6 770.7,1014.9 772.2,1015.7 773.7,1016.8 775.2,1017.7 776.7,1017.4 778.2,1018.0 779.7,1017.0 781.2,1016.7 782.7,1017.2 784.2,1006.6 785.7,1002.0 787.2,1001.7 788.7,954.5 790.3,889.9 791.8,885.1 793.3,879.4 794.8,879.8 796.3,881.1 797.8,881.6 799.3,881.9 800.8,877.7 802.3,875.3 803.8,875.7 805.3,880.6 806.8,887.5 808.3,891.9 809.8,900.4 811.3,919.1 812.8,922.9 814.3,921.4 815.8,920.1 817.3,915.6 818.8,915.6 820.3,920.4 821.8,924.6 823.3,928.2 824.8,930.0 826.3,939.1 827.8,947.2 829.3,952.4 830.8,956.7 832.3,957.5 833.8,945.6 835.3,936.0 836.8,934.0 838.3,934.4 839.8,939.8 841.3,946.5 842.8,954.5 844.3,958.1 845.8,952.5 847.3,946.5 848.8,942.9 850.3,947.2 851.8,952.8 853.3,958.2 854.8,960.0 856.3,963.4 857.8,966.7 859.3,971.6 860.8,976.4 862.3,980.4 863.8,978.6 865.3,976.5 866.8,974.3 868.3,946.2 869.8,928.7 871.3,929.4 872.8,932.3 874.3,943.0 875.8,944.2 877.3,939.4 878.8,933.2 880.3,933.7 881.8,931.6 883.3,927.9 884.8,912.0 886.3,896.0 887.8,889.6 889.3,889.0 890.8,899.6 892.3,917.3 893.8,921.5 895.3,922.3 896.8,923.1 898.3,925.0 899.8,928.6 901.3,931.5 902.8,933.9 904.3,932.5 905.8,932.3 907.3,930.2 908.8,927.8 910.3,920.1 911.8,912.3 913.3,909.3 914.8,908.0 916.3,905.9 917.8,905.5 919.3,905.8 920.8,905.0 922.3,903.8 923.8,905.1 925.3,913.8 926.8,922.7 928.3,909.2 929.8,894.3 931.3,891.8 932.8,890.7 934.3,901.4 935.8,914.8 937.3,923.0 938.8,928.7 940.3,931.9 941.8,935.5 943.3,938.6 944.8,942.7 946.3,945.5 947.8,944.7 949.3,942.4 950.8,940.4 952.3,942.5 953.8,947.4 955.3,951.2 956.8,951.5 958.3,950.8 959.8,948.8 961.3,952.0 962.8,954.8 964.3,959.4 965.8,962.3 967.3,962.9 968.8,964.0 970.3,965.8 971.8,966.8 973.3,969.6 974.8,971.9 976.3,973.8 977.8,973.8 979.3,971.1 980.8,969.6 982.3,968.2 983.8,968.1 985.3,969.4 986.8,970.2 988.3,971.2 989.8,971.7 991.3,973.6 992.8,974.0 994.3,976.2 995.8,977.9 997.3,980.2 998.8,981.9 1000.3,983.4 1001.8,984.5 1003.3,985.1 1004.8,985.1 1006.3,985.0 1007.8,977.2 1009.3,969.8 1010.8,963.6 1012.3,963.7 1013.8,968.5 1015.3,971.8 1016.8,970.6 1018.3,970.3 1019.8,970.8 1021.3,974.4 1022.8,977.5 1024.3,980.1 1025.8,985.2 1027.3,989.8 1028.8,992.5 1030.3,995.1 1031.8,996.4 1033.3,998.5 1034.8,999.3 1036.3,999.3 1037.8,998.4 1039.3,996.5 1040.8,991.5 1042.3,986.2 1043.8,983.8 1045.3,982.0 1046.8,981.4 1048.3,980.2 1049.8,981.5 1051.3,982.7 1052.8,984.3 1054.3,984.8 1055.8,985.3 1057.3,985.5 1058.9,982.9 1060.4,980.0 1061.9,977.8 1063.4,977.9 1064.9,977.3 1066.4,977.6 1067.9,982.2 1069.4,986.0 1070.9,988.8 1072.4,988.8 1073.9,988.0 1075.4,989.9 1076.9,992.6 1078.4,994.1 1079.9,992.6 1081.4,991.6 1082.9,990.4 1084.4,988.9 1085.9,990.2 1087.4,992.9 1088.9,994.5 1090.4,993.5 1091.9,992.2 1093.4,991.1 1094.9,990.1 1096.4,991.0 1097.9,993.3 1099.4,995.6 1100.9,997.5 1102.4,997.2 1103.9,996.3 1105.4,995.6 1106.9,993.8 1108.4,991.8 1109.9,988.8 1111.4,986.6 1112.9,985.3 1114.4,984.2 1115.9,986.3 1117.4,989.0 1118.9,991.2 1120.4,991.4 1121.9,990.8 1123.4,991.6 1124.9,991.6 1126.4,992.0 1127.9,993.6 1129.4,994.4 1130.9,995.3 1132.4,995.7 1133.9,995.5 1135.4,994.3 1136.9,993.6 1138.4,993.3 1139.9,992.7 1141.4,992.2 1142.9,992.7 1144.4,993.3 1145.9,993.7 1147.4,991.4 1148.9,989.0 1150.4,989.3 1151.9,991.5 1153.4,994.1 1154.9,995.0 1156.4,991.3 1157.9,987.8 1159.4,984.2 1160.9,986.3 1162.4,988.7 1163.9,990.4 1165.4,990.1 1166.9,989.6 1168.4,989.7 1169.9,990.7 1171.4,991.8 1172.9,988.9 1174.4,987.0 1175.9,986.1 1177.4,988.0 1178.9,988.5 1180.4,988.5 1181.9,988.2 1183.4,987.8 1184.9,987.0 1186.4,987.5 1187.9,989.2 1189.4,990.2 1190.9,990.2 1192.4,989.4 1193.9,990.1 1195.4,989.1 1196.9,985.7 1198.4,982.6 1199.9,986.3 1201.4,990.1 1202.9,989.9 1204.4,989.0 1205.9,989.2 1207.4,990.1 1208.9,990.6 1210.4,987.7 1211.9,984.8 1213.4,981.7 1214.9,984.3 1216.4,986.4 1217.9,987.9 1219.4,988.5 1220.9,988.8 1222.4,989.0 1223.9,986.9 1225.4,984.9 1226.9,983.4 1228.4,980.8 1229.9,979.0 1231.4,977.6 1232.9,977.8 1234.4,978.1 1235.9,979.2 1237.4,978.8 1238.9,980.1 1240.4,979.2 1241.9,979.0 1243.4,978.7 1244.9,978.3 1246.4,978.3 1247.9,978.7 1249.4,979.0 1250.9,979.1 1252.4,979.7 1253.9,978.9 1255.4,978.1 1256.9,976.0 1258.4,975.1 1259.9,974.3 1261.4,972.8 1262.9,970.2 1264.4,968.9 1265.9,968.6 1267.4,971.5 1268.9,974.9 1270.4,978.1 1271.9,980.5 1273.4,982.9 1274.9,984.0 1276.4,984.9 1277.9,986.5 1279.4,985.8 1280.9,981.9 1282.4,978.0 1283.9,975.0 1285.4,971.4 1286.9,973.7 1288.4,975.6 1289.9,977.6 1291.4,980.8 1292.9,979.7 1294.4,977.8 1295.9,977.0 1297.4,974.9 1298.9,973.5 1300.4,974.1 1301.9,974.7 1303.4,975.4 1304.9,977.3 1306.4,976.5 1307.9,976.7 1309.4,977.1 1310.9,976.1 1312.4,976.3 1313.9,976.7 1315.4,976.2 1316.9,976.8 1318.4,976.9 1319.9,976.0 1321.4,968.3 1322.9,960.7 1324.4,953.8 1325.9,947.9 1327.4,941.6 1329.0,936.1 1330.5,931.9 1332.0,934.5 1333.5,945.1 1335.0,952.5 1336.5,957.8 1338.0,963.1 1339.5,954.1 1341.0,941.9 1342.5,944.8 1344.0,954.7 1345.5,962.4 1347.0,965.9 1348.5,969.6 1350.0,973.1 1351.5,967.3 1353.0,960.1 1354.5,952.7 1356.0,946.3 1357.5,939.9 1359.0,935.5 1360.5,930.2 1362.0,925.2 1363.5,923.1 1365.0,925.4 1366.5,928.3 1368.0,932.6 1369.5,934.1 1371.0,933.3 1372.5,932.0 1374.0,917.9 1375.5,903.1 1377.0,893.3 1378.5,901.3 1380.0,911.4 1381.5,902.8 1383.0,891.9 1384.5,890.9 1386.0,890.6 1387.5,886.3 1389.0,884.2 1390.5,889.9 1392.0,894.2 1393.5,906.2 1395.0,919.9 1396.5,910.5 1398.0,898.7 1399.5,894.9 1401.0,911.8 1402.5,925.9 1404.0,920.0 1405.5,913.5 1407.0,915.2 1408.5,924.1 1410.0,930.2 1411.5,921.0 1413.0,912.5 1414.5,905.8 1416.0,899.8 1417.5,907.9 1419.0,919.0 1420.5,928.9 1422.0,929.7 1423.5,927.2 1425.0,919.1 1426.5,910.0 1428.0,908.1 1429.5,907.7 1431.0,906.0 1432.5,904.2 1434.0,902.4 1435.5,906.8 1437.0,915.9 1438.5,920.6 1440.0,915.9 1441.5,908.8 1443.0,898.4 1444.5,889.1 1446.0,896.0 1447.5,903.9 1449.0,918.9 1450.5,938.1 1452.0,937.0 1453.5,933.6 1455.0,938.6 1456.5,933.1 1458.0,911.5 1459.5,907.7 1461.0,919.0 1462.5,920.7 1462.5,978.2 1461.0,978.0 1459.5,978.5 1458.0,980.4 1456.5,986.9 1455.0,986.5 1453.5,980.8 1452.0,984.2 1450.5,988.3 1449.0,971.1 1447.5,957.9 1446.0,947.3 1444.5,937.4 1443.0,947.0 1441.5,957.2 1440.0,968.2 1438.5,982.9 1437.0,987.0 1435.5,988.7 1434.0,989.0 1432.5,989.5 1431.0,990.6 1429.5,992.4 1428.0,978.0 1426.5,962.2 1425.0,964.8 1423.5,966.2 1422.0,970.9 1420.5,975.7 1419.0,969.9 1417.5,960.9 1416.0,954.6 1414.5,959.1 1413.0,963.7 1411.5,972.2 1410.0,981.7 1408.5,975.9 1407.0,966.9 1405.5,968.1 1404.0,980.2 1402.5,992.4 1401.0,978.5 1399.5,961.6 1398.0,964.9 1396.5,976.6 1395.0,983.7 1393.5,968.1 1392.0,957.2 1390.5,960.0 1389.0,961.9 1387.5,970.3 1386.0,982.3 1384.5,980.8 1383.0,977.0 1381.5,969.5 1380.0,963.1 1378.5,969.7 1377.0,976.0 1375.5,981.3 1374.0,985.3 1372.5,988.8 1371.0,988.5 1369.5,987.9 1368.0,987.8 1366.5,986.8 1365.0,985.9 1363.5,986.1 1362.0,986.7 1360.5,986.9 1359.0,987.7 1357.5,991.0 1356.0,993.8 1354.5,997.5 1353.0,1000.2 1351.5,1003.6 1350.0,1005.7 1348.5,1004.5 1347.0,1004.0 1345.5,1002.7 1344.0,1000.9 1342.5,998.2 1341.0,998.2 1339.5,1000.0 1338.0,1002.3 1336.5,1000.1 1335.0,999.1 1333.5,996.2 1332.0,994.6 1330.5,994.1 1329.0,993.3 1327.4,993.7 1325.9,996.3 1324.4,997.8 1322.9,1000.5 1321.4,1004.0 1319.9,1006.9 1318.4,1007.0 1316.9,1007.3 1315.4,1008.1 1313.9,1008.3 1312.4,1008.1 1310.9,1008.7 1309.4,1008.2 1307.9,1009.0 1306.4,1008.8 1304.9,1009.2 1303.4,1009.1 1301.9,1008.3 1300.4,1008.2 1298.9,1007.0 1297.4,1007.2 1295.9,1007.9 1294.4,1008.7 1292.9,1009.5 1291.4,1009.5 1289.9,1008.4 1288.4,1007.0 1286.9,1006.5 1285.4,1005.5 1283.9,1007.2 1282.4,1008.4 1280.9,1009.4 1279.4,1009.9 1277.9,1010.6 1276.4,1010.0 1274.9,1010.1 1273.4,1010.0 1271.9,1008.7 1270.4,1008.4 1268.9,1007.1 1267.4,1006.3 1265.9,1004.9 1264.4,1006.0 1262.9,1006.1 1261.4,1006.3 1259.9,1006.9 1258.4,1007.6 1256.9,1008.1 1255.4,1009.5 1253.9,1009.3 1252.4,1010.2 1250.9,1009.9 1249.4,1009.9 1247.9,1008.7 1246.4,1008.8 1244.9,1009.0 1243.4,1008.7 1241.9,1009.2 1240.4,1009.3 1238.9,1009.2 1237.4,1008.9 1235.9,1008.9 1234.4,1008.3 1232.9,1008.9 1231.4,1008.4 1229.9,1009.3 1228.4,1008.7 1226.9,1010.0 1225.4,1010.6 1223.9,1010.5 1222.4,1010.7 1220.9,1011.4 1219.4,1011.9 1217.9,1012.0 1216.4,1011.9 1214.9,1011.9 1213.4,1010.4 1211.9,1011.3 1210.4,1012.4 1208.9,1013.3 1207.4,1012.3 1205.9,1012.4 1204.4,1012.0 1202.9,1013.0 1201.4,1012.9 1199.9,1011.8 1198.4,1011.0 1196.9,1011.2 1195.4,1012.2 1193.9,1012.3 1192.4,1012.0 1190.9,1013.2 1189.4,1012.2 1187.9,1011.9 1186.4,1012.2 1184.9,1011.5 1183.4,1012.4 1181.9,1012.0 1180.4,1012.1 1178.9,1012.1 1177.4,1012.7 1175.9,1011.4 1174.4,1012.2 1172.9,1012.6 1171.4,1013.5 1169.9,1013.3 1168.4,1012.4 1166.9,1013.1 1165.4,1013.0 1163.9,1013.3 1162.4,1013.8 1160.9,1012.5 1159.4,1011.6 1157.9,1013.1 1156.4,1013.5 1154.9,1014.0 1153.4,1013.2 1151.9,1013.2 1150.4,1012.1 1148.9,1011.9 1147.4,1012.8 1145.9,1013.0 1144.4,1014.0 1142.9,1013.2 1141.4,1013.7 1139.9,1013.5 1138.4,1013.5 1136.9,1013.5 1135.4,1014.1 1133.9,1013.7 1132.4,1014.6 1130.9,1014.4 1129.4,1014.4 1127.9,1014.5 1126.4,1013.5 1124.9,1013.9 1123.4,1012.6 1121.9,1012.7 1120.4,1012.4 1118.9,1011.2 1117.4,1010.7 1115.9,1009.8 1114.4,1009.9 1112.9,1009.8 1111.4,1009.0 1109.9,1009.4 1108.4,1010.6 1106.9,1011.3 1105.4,1012.5 1103.9,1012.6 1102.4,1013.0 1100.9,1013.1 1099.4,1012.8 1097.9,1012.2 1096.4,1012.2 1094.9,1011.9 1093.4,1012.5 1091.9,1012.9 1090.4,1013.6 1088.9,1014.0 1087.4,1013.4 1085.9,1012.6 1084.4,1011.9 1082.9,1013.2 1081.4,1013.7 1079.9,1013.6 1078.4,1014.2 1076.9,1013.1 1075.4,1012.2 1073.9,1010.6 1072.4,1011.5 1070.9,1010.8 1069.4,1010.6 1067.9,1009.0 1066.4,1008.1 1064.9,1008.1 1063.4,1006.9 1061.9,1006.8 1060.4,1007.8 1058.9,1009.9 1057.3,1010.9 1055.8,1009.5 1054.3,1009.1 1052.8,1009.2 1051.3,1008.5 1049.8,1007.7 1048.3,1008.3 1046.8,1007.5 1045.3,1008.0 1043.8,1008.8 1042.3,1009.5 1040.8,1011.0 1039.3,1012.8 1037.8,1014.2 1036.3,1014.7 1034.8,1015.5 1033.3,1014.0 1031.8,1013.8 1030.3,1012.6 1028.8,1012.2 1027.3,1010.7 1025.8,1007.9 1024.3,1006.1 1022.8,1004.4 1021.3,1002.6 1019.8,1001.8 1018.3,1002.1 1016.8,1001.8 1015.3,1003.1 1013.8,1002.1 1012.3,1000.1 1010.8,1000.1 1009.3,1001.9 1007.8,1003.6 1006.3,1006.6 1004.8,1006.3 1003.3,1006.1 1001.8,1006.0 1000.3,1006.8 998.8,1006.3 997.3,1006.4 995.8,1005.0 994.3,1003.9 992.8,1003.8 991.3,1002.4 989.8,1000.8 988.3,1000.9 986.8,999.7 985.3,999.7 983.8,999.3 982.3,1003.0 980.8,1004.9 979.3,1005.2 977.8,1005.8 976.3,1006.3 974.8,1005.4 973.3,1004.6 971.8,1004.1 970.3,1002.3 968.8,1001.9 967.3,1002.1 965.8,1001.3 964.3,1001.0 962.8,1000.7 961.3,1000.5 959.8,999.9 958.3,1000.0 956.8,999.1 955.3,997.1 953.8,995.5 952.3,992.4 950.8,989.6 949.3,988.2 947.8,989.8 946.3,990.9 944.8,990.9 943.3,990.4 941.8,990.1 940.3,988.4 938.8,987.2 937.3,984.9 935.8,983.5 934.3,982.5 932.8,983.6 931.3,984.8 929.8,987.2 928.3,987.9 926.8,990.0 925.3,991.9 923.8,993.0 922.3,995.4 920.8,995.9 919.3,993.9 917.8,991.7 916.3,988.6 914.8,987.5 913.3,985.2 911.8,985.5 910.3,986.5 908.8,987.9 907.3,990.2 905.8,991.1 904.3,991.2 902.8,990.2 901.3,989.1 899.8,988.7 898.3,986.3 896.8,984.7 895.3,981.9 893.8,980.6 892.3,979.5 890.8,978.7 889.3,977.4 887.8,976.0 886.3,976.8 884.8,978.1 883.3,979.6 881.8,981.7 880.3,982.3 878.8,982.3 877.3,982.7 875.8,983.0 874.3,981.9 872.8,978.0 871.3,976.5 869.8,975.1 868.3,978.1 866.8,987.8 865.3,993.3 863.8,998.4 862.3,1000.9 860.8,999.0 859.3,997.1 857.8,994.5 856.3,992.3 854.8,991.3 853.3,989.4 851.8,980.5 850.3,972.0 848.8,964.5 847.3,974.3 845.8,984.1 844.3,993.0 842.8,997.8 841.3,1001.6 839.8,996.3 838.3,993.2 836.8,989.0 835.3,987.7 833.8,992.2 832.3,996.9 830.8,997.5 829.3,997.6 827.8,997.6 826.3,997.5 824.8,996.9 823.3,996.6 821.8,985.1 820.3,972.9 818.8,963.2 817.3,961.4 815.8,968.5 814.3,976.4 812.8,983.7 811.3,988.1 809.8,993.2 808.3,983.5 806.8,970.2 805.3,965.5 803.8,965.3 802.3,965.3 800.8,973.0 799.3,981.5 797.8,982.5 796.3,979.5 794.8,976.3 793.3,975.9 791.8,990.1 790.3,1003.4 788.7,1004.5 787.2,1016.2 785.7,1016.9 784.2,1018.6 782.7,1021.4 781.2,1021.8 779.7,1021.3 778.2,1021.9 776.7,1022.1 775.2,1021.6 773.7,1021.1 772.2,1021.5 770.7,1020.5 769.2,1021.5 767.7,1021.9 766.2,1021.9 764.7,1021.9 763.2,1022.4 761.7,1022.2 760.2,1022.4 758.7,1022.7 757.2,1022.2 755.7,1022.8 754.2,1022.8 752.7,1022.8 751.2,1023.0 749.7,1022.2 748.2,1023.0 746.7,1022.6 745.2,1022.6 743.7,1022.1 742.2,1022.4 740.7,1022.6 739.2,1022.3 737.7,1022.4 736.2,1022.6 734.7,1022.6 733.2,1023.2 731.7,1022.8 730.2,1023.0 728.7,1022.7 727.2,1022.6 725.7,1022.3 724.2,1022.7 722.7,1023.1 721.2,1022.2 719.7,1022.9 718.2,1023.1 716.7,1023.0 715.2,1022.1 713.7,1022.3 712.2,1022.7 710.7,1022.4 709.2,1022.7 707.7,1022.1 706.2,1022.1 704.7,1022.8 703.2,1022.9 701.7,1023.2 700.2,1022.9 698.7,1022.6 697.2,1022.5 695.7,1022.2 694.2,1022.4 692.7,1021.6 691.2,1020.0 689.7,1020.3 688.2,1019.9 686.7,1019.1 685.2,1019.3 683.7,1019.2 682.2,1018.3 680.7,1018.6 679.2,1018.4 677.7,1018.1 676.2,1017.9 674.7,1017.8 673.2,1017.5 671.7,1017.8 670.2,1017.5 668.7,1017.6 667.2,1018.3 665.7,1017.9 664.2,1017.4 662.7,1017.8 661.2,1016.9 659.7,1016.0 658.2,1013.8 656.7,1013.9 655.2,1015.0 653.7,1016.1 652.2,1016.5 650.7,1016.7 649.2,1016.5 647.7,1017.0 646.2,1016.7 644.7,1016.7 643.2,1016.9 641.7,1015.9 640.2,1014.6 638.7,1012.5 637.2,1012.5 635.7,1010.8 634.2,1010.4 632.7,1010.9 631.2,1010.4 629.7,1011.8 628.2,1013.7 626.7,1015.4 625.2,1017.0 623.7,1018.4 622.2,1018.0 620.7,1018.1 619.2,1017.3 617.7,1018.0 616.2,1019.7 614.7,1020.4 613.2,1021.4 611.7,1020.4 610.2,1020.4 608.7,1020.9 607.2,1019.4 605.7,1018.3 604.2,1018.9 602.7,1019.9 601.2,1020.2 599.7,1019.2 598.2,1018.9 596.7,1019.2 595.2,1018.2 593.7,1016.2 592.2,1014.7 590.7,1014.9 589.2,1015.6 587.7,1018.3 586.2,1020.1 584.7,1020.0 583.2,1020.2 581.7,1019.9 580.2,1020.7 578.7,1020.1 577.2,1020.8 575.7,1021.5 574.2,1020.6 572.7,1021.3 571.2,1021.9 569.7,1021.3 568.2,1022.0 566.7,1021.9 565.2,1021.5 563.7,1022.0 562.2,1022.3 560.7,1021.9 559.2,1021.7 557.7,1022.2 556.2,1021.4 554.7,1022.2 553.2,1022.3 551.7,1022.0 550.2,1021.8 548.7,1021.4 547.2,1022.2 545.7,1022.3 544.2,1022.1 542.7,1022.0 541.2,1021.2 539.7,1022.3 538.2,1022.2 536.7,1021.5 535.2,1021.9 533.7,1021.7 532.2,1022.0 530.7,1022.1 529.2,1021.2 527.7,1021.3 526.2,1021.9 524.7,1022.2 523.2,1022.4 521.7,1022.0 520.1,1022.0 518.6,1021.2 517.1,1022.1 515.6,1021.3 514.1,1022.3 512.6,1021.2 511.1,1021.9 509.6,1021.6 508.1,1022.0 506.6,1021.3 505.1,1022.2 503.6,1022.2 502.1,1021.1 500.6,1022.1 499.1,1021.9 497.6,1021.1 496.1,1021.9 494.6,1021.8 493.1,1021.5 491.6,1022.2 490.1,1022.2 488.6,1022.1 487.1,1022.1 485.6,1021.9 484.1,1022.0 482.6,1022.1 481.1,1021.3 479.6,1021.1 478.1,1022.2 476.6,1021.9 475.1,1022.1 473.6,1021.6 472.1,1021.8 470.6,1021.6 469.1,1021.5 467.6,1021.1 466.1,1022.0 464.6,1020.9 463.1,1021.5 461.6,1021.1 460.1,1020.7 458.6,1020.7 457.1,1020.5 455.6,1019.8 454.1,1019.2 452.6,1019.3 451.1,1019.2 449.6,1019.8 448.1,1019.6 446.6,1020.1 445.1,1020.1 443.6,1020.9 442.1,1020.7 440.6,1021.1 439.1,1020.8 437.6,1021.3 436.1,1021.4 434.6,1020.6 433.1,1021.7 431.6,1021.0 430.1,1020.9 428.6,1020.5 427.1,1020.5 425.6,1021.0 424.1,1020.8 422.6,1020.0 421.1,1019.9 419.6,1020.2 418.1,1019.7 416.6,1019.5 415.1,1019.6 413.6,1019.2 412.1,1019.3 410.6,1019.1 409.1,1019.3 407.6,1019.1 406.1,1018.9 404.6,1017.5 403.1,1016.8 401.6,1016.6 400.1,1017.1 398.6,1017.0 397.1,1017.0 395.6,1018.1 394.1,1017.2 392.6,1016.6 391.1,1016.0 389.6,1015.8 388.1,1015.6 386.6,1014.8 385.1,1014.8 383.6,1013.8 382.1,1013.3 380.6,1014.5 379.1,1015.2 377.6,1016.0 376.1,1016.1 374.6,1016.8 373.1,1017.7 371.6,1016.5 370.1,1017.3 368.6,1016.8 367.1,1017.4 365.6,1017.1 364.1,1017.2 362.6,1015.2 361.1,1014.3 359.6,1013.7 358.1,1014.4 356.6,1014.9 355.1,1014.8 353.6,1014.1 352.1,1012.1 350.6,1012.1 349.1,1012.0 347.6,1011.6 346.1,1012.0 344.6,1013.2 343.1,1013.3 341.6,1013.5 340.1,1001.5 338.6,992.5 337.1,975.7 335.6,969.0 334.1,963.3 332.6,963.1 331.1,964.1 329.6,965.1 328.1,965.3 326.6,965.0 325.1,964.7 323.6,965.5 322.1,965.5 320.6,966.2 319.1,966.9 317.6,966.8 316.1,973.8 314.6,984.2 313.1,986.4 311.6,977.6 310.1,969.2 308.6,966.9 307.1,969.5 305.6,972.6 304.1,973.5 302.6,972.5 301.1,974.4 299.6,977.4 298.1,981.2 296.6,984.1 295.1,983.0 293.6,982.6 292.1,981.9 290.6,981.2 289.1,980.1 287.6,986.5 286.1,991.2 284.6,996.1 283.1,995.6 281.6,994.8 280.1,994.2 278.6,993.5 277.1,993.1 275.6,991.6 274.1,989.7 272.6,988.6 271.1,987.9 269.6,987.3 268.1,988.1 266.6,989.0 265.1,990.4 263.6,991.3 262.1,993.4 260.6,994.9 259.1,995.9 257.6,997.7 256.1,996.3 254.6,994.5 253.1,992.6 251.6,991.0 250.0,989.9 248.5,991.9 247.0,993.3 245.5,994.0 244.0,996.2 242.5,999.2 241.0,998.2 239.5,998.4 238.0,999.4 236.5,1002.1 235.0,1003.1 233.5,1003.4 232.0,1003.4 230.5,1003.7 229.0,1002.2 227.5,1002.1 226.0,1000.1 224.5,996.7 223.0,993.6 221.5,991.8 220.0,992.6 218.5,993.6 217.0,994.2 215.5,991.2 214.0,985.7 212.5,980.5 211.0,979.3 209.5,977.9 208.0,973.0 206.5,973.3 205.0,977.6 203.5,982.4 202.0,985.3 200.5,978.9 199.0,972.9 197.5,966.8 196.0,964.6 194.5,962.0 193.0,960.4 191.5,964.3 190.0,972.3 188.5,978.5 187.0,978.3 185.5,974.6 184.0,970.4 182.5,962.0 181.0,952.0 179.5,950.4 178.0,951.6 176.5,954.5 175.0,956.5 173.5,964.1 172.0,962.4 170.5,956.2 169.0,960.0 167.5,969.4 166.0,978.9 164.5,982.7 163.0,983.2 161.5,983.4 160.0,982.7 158.5,982.5 157.0,983.4 155.5,983.3 154.0,984.7 152.5,985.7 151.0,986.0 149.5,987.4 148.0,987.5 146.5,989.1 145.0,990.3 143.5,991.1 142.0,991.5 140.5,990.8 139.0,990.6 137.5,989.4 136.0,989.3 134.5,987.4 133.0,985.4 131.5,983.4 130.0,982.4 128.5,980.7 127.0,980.5 125.5,979.6 124.0,979.2 122.5,977.7 121.0,975.7 119.5,974.2 118.0,972.3 116.5,969.8" fill="#1f77b4" stroke="#1f77b4" stroke-width="4" stroke-linejoin="round"/>
<path d="m116.5 983.9h0m0 -7.1h0m0.4 -4.5h0m0.1 12.1h0m0.1 -14.6h0m0 10.1h0m0.2 -120.6h0m-0 -14.2h0m0 -47.4h0m0 73.9h0m0 -51.5h0m0.1 5.5h0m0 49.4h0m0.1 -51.6h0m0.1 -28.1h0m-0 88.2h0m0.1 -42h0m-0 11.1h0m0 34.7h0m0 -32h0m0.1 -59.1h0m-0 32.1h0m0 36.6h0m0 -62.7h0m0.1 13.6h0m-0 45.8h0m0 -51.3h0m0 58.4h0m0 -19.5h0m0.1 -17.7h0m-0 64.1h0m-0 -60.8h0m0.1 -21.8h0m-0 -6.9h0m0 73.2h0m0 10.8h0m0 2.4h0m0 -54h0m2.1 135.7h0m0 -120.9h0m0 44.3h0m0.1 -6.6h0m0 -3.2h0m0 91.4h0m0.1 -142.7h0m0 -4.2h0m0.1 29h0m-0 125.6h0m-0 -101.3h0m-0 -35.6h0m0 -2.7h0m0 9.8h0m0 25.9h0m0.1 -15.5h0m-0 -23.9h0m0 27.9h0m0.1 -40.4h0m-0 33.6h0m0.1 14h0m0 -39.5h0m0 144.2h0m0.1 -6.4h0m0.1 -82.7h0m0.2 -19.2h0m0.1 -79.1h0m0.1 -5.8h0m0.6 -3.3h0m0.4 70.3h0m0 -21.7h0m0 -24.3h0m0 49.4h0m0 -30.2h0m0.1 -16.5h0m-0 18.6h0m-0 -7.6h0m-0 24.2h0m0 15h0m0 5.7h0m0.1 25.4h0m-0 -7.8h0m-0 -59.9h0m0 -13.3h0m0.1 8h0m-0 -17.3h0m0 14.9h0m0 71.1h0m0.1 4.9h0m-0 81.9h0m-0 -177h0m-0 -6.1h0m0 84.8h0m0 -39.3h0m0 32.7h0m0 -49.4h0m0.1 -23.4h0m-0 60.8h0m-0 21.3h0m0 -71h0m0 78.6h0m0 7.7h0m0 -90.7h0m0 1.5h0m0 8h0m0.1 68.1h0m-0 -81.8h0m-0 35.1h0m0 29.9h0m0 -71.1h0m0.1 55.1h0m-0 24.9h0m0 16.6h0m0 -99.3h0m0 25.6h0m0 21.9h0m0 2.2h0m0.1 10.2h0m-0 -7.8h0m-0 54h0m0 -0h0m0 -54.2h0m0 34.6h0m0 -90.2h0m0.1 198.2h0m-0 -6.6h0m-0 -113.9h0m-0 24.6h0m0 -20.4h0m0.1 4.2h0m-0 -22.1h0m-0 131.4h0m-0 -159.3h0m0 4.5h0m0.1 28h0m-0 -20.8h0m-0 26.7h0m-0 -14.5h0m0 33h0m0 -66.3h0m0 -19.9h0m0 6.2h0m0.1 -9.3h0m-0 40h0m-0 51.7h0m1.7 94.2h0m0.3 5.7h0m0.1 5.7h0m0.1 -150.8h0m0.1 147.5h0m-0 -107.3h0m0 102h0m0.1 -122.4h0m-0 47.6h0m0 -65.1h0m0 48h0m0 -41.3h0m0 53.2h0m0.1 -49.9h0m0 17.4h0m0.2 35h0m0 -80h0m0.1 31.6h0m-0 26.3h0m0 -20h0m0.1 31.4h0m-0 -67h0m-0 18.2h0m0.1 -9.7h0m0 62.6h0m0.1 -11.9h0m-0 -54h0m-0 34.2h0m0 7.7h0m0.1 3.1h0m0 -47.5h0m1.4 162.1h0m0 2.3h0m0 -6.1h0m0.1 -7.7h0m0.3 3.8h0m0.2 -91.2h0m0 -6.7h0m0 22.2h0m0.1 3.6h0m-0 14.5h0m-0 2.3h0m0 -29.2h0m0.2 3.6h0m0 -8h0m0.1 -22.5h0m-0 33.1h0m0 -15.6h0m0.1 33.4h0m-0 9.7h0m-0 -17.9h0m0.1 4h0m-0 -40.4h0m0.1 4.2h0m0.1 -8h0m0 62h0m1 50.9h0m0.1 -142.1h0m0.3 136.2h0m-0 3.6h0m0.1 -99.5h0m-0 43.3h0m0 -75.1h0m0.1 39.3h0m-0 5.5h0m-0 17.7h0m0 20.6h0m0.1 -48.1h0m0 -59.6h0m0 9.6h0m0 66.7h0m0.1 2.9h0m0 -37.5h0m0 -5.2h0m0.1 18.9h0m-0 38h0m0 -27.1h0m0.1 6.2h0m0 10.5h0m0 14.5h0m0 -93.1h0m0.1 99.1h0m0.1 -84h0m0.1 71.2h0m-0 -60.3h0m1.3 128h0m0 -97.5h0m0 -8.2h0m0.1 5.6h0m0 97h0m0 -55.9h0m0.1 -18.2h0m0.1 2.9h0m0 -19.5h0m0.1 41.8h0m0 -35.9h0m0 -23.9h0m0.1 8.8h0m0 54.6h0m0 -42.4h0m0 -25.2h0m0 32.4h0m0.1 15.9h0m-0 -46.8h0m0.1 51.2h0m0.2 -54.6h0m0 63.1h0m0 -15.6h0m0.1 -38.9h0m0 28.9h0m1 -24.5h0m0 33.9h0m0.1 -14.6h0m-0 -13.9h0m-0 -3h0m-0 13.5h0m0 12.5h0m0 -15.7h0m0.1 -16.1h0m0.1 107.2h0m0 -93.2h0m0.1 20h0m-0 15.5h0m-0 -56.2h0m-0 50.3h0m-0 8.3h0m0 -40.3h0m0 42.7h0m0.1 -13.8h0m0 -14.3h0m0 2.3h0m0 28.2h0m0.1 3.5h0m-0 2.5h0m-0 54.4h0m0 -70.1h0m0.1 -49.1h0m0 119.3h0m0.1 -122h0m-0 1.9h0m0 117.6h0m0.1 -105h0m-0 13.4h0m0 -11h0m0.1 36h0m0 14.6h0m0.1 48.2h0m0 -94.3h0m0.1 9.8h0m0.1 -33h0m-0 51.5h0m-0 -8.4h0m0 4.4h0m0 18.1h0m0.1 -57.4h0m0 4.3h0m0.1 -11.4h0m0 -3h0m0.1 28.3h0m0 14.4h0m0.1 17.8h0m0 -21.5h0m0 25.6h0m1.5 -3.5h0m0.1 -15.9h0m0.1 27.6h0m0 -60.5h0m0 17.4h0m0.1 91.8h0m0 -111.7h0m0.1 17.4h0m0 101.9h0m0 -10.2h0m0.1 -83.6h0m-0 -29.4h0m0 52.3h0m0.1 11.7h0m0 -18.1h0m0.1 -3.4h0m-0 -43h0m-0 127.7h0m-0 -112.6h0m0.1 -2.8h0m0 47.7h0m0 60.5h0m0.1 -102.9h0m-0 -8.1h0m-0 17.8h0m0 -48.7h0m0 55.8h0m0 14.3h0m0.1 -11.7h0m0.1 88.9h0m0.5 -158.2h0m0.1 16.7h0m0.2 -11.7h0m0.1 16h0m0 6.4h0m0.7 64.5h0m0 3.9h0m0.4 -7.6h0m0.1 13.2h0m0 50.7h0m0.2 -53.8h0m-0 -9.3h0m0.1 60.3h0m0 -45.3h0m0.1 56.2h0m0 -5.4h0m0.1 -8.1h0m0.1 4.1h0m-0 7.4h0m0 0.1h0m0.3 2.6h0m0.3 -14.2h0m0.1 7.5h0m1.4 -80h0m0.1 -2.8h0m-0 -3.4h0m0 -16.1h0m0.1 24.5h0m0 -18.2h0m0 48.2h0m0 -6.4h0m0 -44.8h0m0 38.1h0m0 -28.6h0m0.1 14.6h0m0 -30h0m0.1 12.9h0m0 -16.4h0m0.1 36.7h0m0.2 19.9h0m-0 -56.1h0m0.1 40.1h0m0.1 10.1h0m0 -7.7h0m0.1 56.7h0m0.1 10h0m0.3 2.5h0m0.1 -9.3h0m0.2 3.4h0m1.6 -65.4h0m0 -20.6h0m0.1 -7.1h0m0 -9.3h0m0.1 18.7h0m0.1 26.3h0m-0 -47.9h0m-0 15h0m0 42.4h0m0.1 -5.5h0m0.1 -55.5h0m0 0.3h0m0 58.1h0m0.1 -48h0m-0 2.7h0m0 26.6h0m0 62.8h0m0.1 -67h0m0.1 -5.9h0m0.1 18.3h0m-0 -14.8h0m0.1 74.5h0m0 -0.9h0m0.3 -7.2h0m1.8 -43.1h0m0.1 -27.7h0m0.1 -8h0m0.1 81.7h0m-0 -49.9h0m0.1 -18.1h0m-0 -18.2h0m0 43.6h0m0 50.7h0m0 1.2h0m0 -100.8h0m0.1 37h0m0 50.1h0m0 -57.1h0m0.1 -27.4h0m0.1 12.8h0m0.1 4.7h0m0.1 -7.4h0m-0 82.4h0m0 -60.6h0m0 -6.7h0m2 64h0m0 -135.6h0m0.1 6.7h0m0 44.8h0m0 9.8h0m0.2 29.2h0m-0 -48.5h0m-0 45.8h0m-0 -52.2h0m0 31.8h0m0 -12.3h0m0 77.9h0m0.1 -49.4h0m-0 -55.6h0m-0 -16.7h0m-0 -14.8h0m0 84.7h0m0 60.7h0m0 -76.8h0m0.1 -19.9h0m-0 -22.6h0m-0 108h0m0 -91h0m0.1 -21.4h0m-0 12.6h0m0 -46.3h0m0 64.5h0m0.1 21.7h0m-0 3.4h0m0 -84.8h0m0.1 88.8h0m0 60.7h0m0.1 -107.1h0m0.2 26.6h0m0.8 -22.4h0m0 49.4h0m0 -24.8h0m0.1 -18.3h0m0 10.4h0m0.1 24.5h0m-0 -29.5h0m-0 17.5h0m0.1 3.1h0m-0 14.2h0m-0 -3h0m0 -21.7h0m0 -26.5h0m0.1 1.1h0m-0 18.1h0m-0 -5.1h0m-0 44.7h0m0 -34.6h0m0 -16.2h0m0.1 43.8h0m0.1 -8.4h0m-0 -3.2h0m-0 -13.2h0m0.1 4.6h0m-0 23.9h0m0 -47.8h0m0 48.7h0m0.1 -42.4h0m0.1 32.1h0m-0 -11.1h0m0 -25.1h0m0 32h0m0 -42.8h0m0.1 32.7h0m0.1 -9.1h0m0 -4.5h0m0 40.6h0m0.1 -9.7h0m0.1 -44.7h0m0.1 34.1h0m0 -38.5h0m0 29.3h0m0.1 77.5h0m0 -6h0m0.1 8.8h0m0.3 -12.5h0m0 14.1h0m0.1 -7.7h0m1.4 -63.3h0m0 18.3h0m0.1 46.3h0m-0 -52.3h0m0.1 43.7h0m0.1 14h0m0.1 -72.5h0m0.1 -1.3h0m0 12.7h0m0 51.2h0m0 7.6h0m0.1 -52.4h0m-0 55.4h0m0.3 -66.2h0m1.7 55.1h0m0.1 -51.2h0m0.1 -36.1h0m-0 24.1h0m0.1 70.1h0m-0 -9.6h0m0 -68.2h0m0 -5.3h0m0 19.5h0m0 3.1h0m0.1 57.2h0m0 6.3h0m0 -54.7h0m0.1 -39.4h0m0.1 36.7h0m-0 -44h0m0 11.6h0m0.1 13.1h0m0 -7.1h0m0.1 13.5h0m-0 69.9h0m0.2 -49.8h0m2.6 41h0m-0 -69.1h0m0 -33.8h0m0 108.4h0m0.1 -140.7h0m-0 19.2h0m0.1 119.3h0m0 -131.9h0m0.1 136.2h0m-0 -94.9h0m-0 -38.4h0m0 65.7h0m0 55.9h0m0 13.8h0m0 7.8h0m0.1 -16.8h0m0 -99h0m0 25.1h0m0 -59.7h0m0.1 76h0m-0 55.2h0m-0 -60.9h0m0 -31.5h0m0 -25.2h0m0.1 53.3h0m0 -43.7h0m0.1 101.8h0m-0 -99.4h0m-0 30.4h0m0 -55.9h0m0 130.6h0m0 -2.9h0m0 -108.4h0m0 23.6h0m0.1 6h0m0.1 4h0m-0 -42.5h0m0.8 6.7h0m-0 -52.9h0m0 -18.6h0m0.1 83.5h0m-0 -70.9h0m-0 22.2h0m0 54.9h0m0 -84.3h0m0 41.3h0m0.1 -22.1h0m-0 -9.2h0m-0 53.2h0m0 -16.3h0m0 25.7h0m0.1 -68h0m0 33.4h0m0 -12.8h0m0 -32.9h0m0 -0.5h0m0.1 10.7h0m-0 29.9h0m-0 -16.2h0m0 19.8h0m0 17h0m0 -9.4h0m0.1 25.9h0m0 -14.1h0m0.1 -58.7h0m0 60.8h0m0 -8h0m0 -27.7h0m0 68.8h0m0.1 -2.8h0m-0 -6.8h0m-0 -20.7h0m0 -33h0m0 47.8h0m0.2 -45.4h0m0 -35.4h0m0 89.8h0m0.1 -30.2h0m0 -30.1h0m0 -26.6h0m0.1 7.8h0m-0 7.6h0m0.1 20.8h0m0.1 6.1h0m-0 -49.9h0m0 -27.2h0m0 96.7h0m0 -50.3h0m0.1 81.8h0m-0 -4.2h0m-0 -95.6h0m0.1 45.8h0m-0 36.6h0m0.1 -53.3h0m-0 155.4h0m-0 -99.2h0m0 -19.6h0m0.1 -30.2h0m0 -35.9h0m0 56h0m0.1 4.1h0m-0 -8.5h0m-0 -66.1h0m-0 40.8h0m0 162h0m0 -107.8h0m0 8.9h0m0 -78.5h0m0 66h0m0.1 101.4h0m-0 -198.9h0m-0 93.7h0m-0 -81.6h0m0.2 182.5h0m0.1 13.2h0m0 -5.6h0m0.8 -124.8h0m0 -53.9h0m0 60.1h0m0.1 -22.1h0m0 -40.5h0m0 65.6h0m0.1 26.2h0m0 -48.4h0m0.1 36.1h0m-0 -20.7h0m-0 -41.6h0m0 13h0m0 54.1h0m0.1 -31.6h0m-0 -28.8h0m-0 32.9h0m0 -7.7h0m0 20.5h0m0.1 18h0m-0 -87.6h0m-0 33.1h0m0 13.6h0m0 -14.7h0m0 7.6h0m0 55.5h0m0.1 -6.3h0m-0 -74.4h0m-0 62.7h0m-0 -4.5h0m0 6.9h0m0 -42.8h0m0 -17.1h0m0 52.4h0m0.1 -51h0m-0 48.4h0m0 12.6h0m0 0.7h0m0 -70.8h0m0 -2.5h0m0.1 -8.4h0m-0 62.8h0m-0 20.9h0m-0 -48.3h0m-0 53.7h0m-0 2.5h0m-0 -63.7h0m0 -2.5h0m0 -21.4h0m0.1 70.1h0m-0 -26.8h0m-0 -35.2h0m-0 4.5h0m0 28.3h0m0 -11.8h0m0 17.3h0m0 -25.4h0m0 -19.8h0m0 60.1h0m0.1 -42.4h0m-0 36.4h0m-0 -5.6h0m0 20h0m0 -65.3h0m0.1 -6.7h0m-0 19h0m0 21h0m0.6 125.6h0m0.1 -4.2h0m0.2 8.4h0m0.1 1.6h0m0.2 -13.7h0m0.7 -44.8h0m0 7.6h0m0.1 8.3h0m-0 13h0m0.2 -31.3h0m0 -2.4h0m0.1 16.4h0m0 -7.7h0m0.1 20.5h0m0.2 -3.9h0m0.3 37.6h0m-0 -5.4h0m0.2 6.8h0m0.2 -3.6h0m0.4 -3.2h0m0.1 -118.8h0m-0 -11.4h0m0.1 18.9h0m-0 27.3h0m-0 -32.5h0m0 26.9h0m0 -24.8h0m0 -31h0m0 -10.9h0m0 34h0m0 14.4h0m0.1 15.5h0m-0 -9.9h0m-0 -36.8h0m-0 39.8h0m0 -64.5h0m0 167h0m0.1 -139.8h0m-0 -16.7h0m0 20.2h0m0 -34.2h0m0.1 92.4h0m-0 -91.5h0m-0 15.7h0m0 45.4h0m0 -42.5h0m0.1 -14h0m-0 83.8h0m0 -8.3h0m0.1 -39.2h0m0 -16.5h0m0 46h0m0.1 15.2h0m-0 2h0m-0 -49.1h0m0 -31.2h0m0.1 77.6h0m0.1 -11.1h0m0.1 17.7h0m0.2 -11.1h0m-0 -5.1h0m0.1 2.5h0m1.1 79h0m0.1 12.8h0m0 -208.8h0m0 -27.4h0m0 44.6h0m0.1 -78.4h0m-0 142.2h0m0 -98.1h0m0 121.7h0m0 -71.7h0m0 173.2h0m0 -199.9h0m0.1 17.5h0m-0 -56.4h0m0 116.4h0m0 125.8h0m0 -166.5h0m0.1 75.4h0m-0 -129h0m-0 78.6h0m0 -71.3h0m0 -65.2h0m0.1 94.6h0m-0 -108.7h0m-0 195.4h0m-0 -102.1h0m0 49.6h0m0 -80.8h0m0 23.7h0m0.1 42h0m0 6.4h0m0 47.2h0m0.1 23.9h0m-0 -81.3h0m-0 -138.6h0m0 7.1h0m0 182.7h0m0 -14.4h0m0.1 -47.7h0m-0 -36.7h0m-0 208.8h0m-0 -307h0m0 302.9h0m0 -178.6h0m0 17.7h0m0 -70.8h0m0.1 121.4h0m0 -141.1h0m0 38.9h0m0 139.7h0m0 -173.6h0m0.1 150h0m0 -53.5h0m0 60h0m0.1 -36.7h0m-0 -147.4h0m0 131.2h0m0 39.7h0m0 -81.3h0m0 -38.2h0m0 152.4h0m0 -12.8h0m0 -40.1h0m0 -11.1h0m0.1 -93.7h0m-0 -11.1h0m1.7 157.4h0m-0 -38.5h0m-0 30h0m0 -41.4h0m0 -12.5h0m0 74.5h0m0.1 -2.9h0m-0 -55.8h0m0 128.7h0m0 -57.2h0m0 -69.1h0m0.1 22.3h0m-0 -35.5h0m0 -3h0m0 54.8h0m0.1 -22.7h0m-0 45.6h0m-0 -37h0m0 25.6h0m0 -30.9h0m0 -44h0m0.1 -9.6h0m0 157.6h0m0 -48.5h0m0.1 -20.3h0m-0 64.8h0m-0 -91.9h0m0 105.5h0m0 -139.9h0m0 54.8h0m0 24h0m0 -63.9h0m0.1 -41.1h0m-0 15.6h0m-0 59.9h0m0 -12.7h0m0 9.8h0m0 -7h0m0 -29.7h0m0.1 32.1h0m-0 -64.9h0m-0 41h0m-0 55.3h0m-0 -53.3h0m-0 28.2h0m-0 -69h0m-0 86.5h0m0 -66.3h0m0 7.6h0m0 -9.7h0m0 139h0m0 -158.9h0m0 93.4h0m0 -60.2h0m0 -24.8h0m0.1 43.8h0m0 -44.7h0m0.1 32.5h0m-0 -13.8h0m-0 34.7h0m-0 -17.9h0m0 -45.9h0m0.1 38.4h0m0.1 21.3h0m0 -10.6h0m0 -26.4h0m0.2 28.6h0m0 -32h0m0 -12.2h0m0.1 76.2h0m-0 -4.2h0m1.3 57.3h0m0.4 -13.2h0m0 -5.4h0m0.1 9.3h0m0.3 42.4h0m-0 -39.7h0m0 -10.5h0m0 13.2h0m0 34.3h0m0.4 -3.3h0m0 8.8h0m2.4 -38h0m0.1 14.7h0m0 -22.6h0m0.1 -3.6h0m-0 30.8h0m0 -15.6h0m0 4.2h0m0.1 4.3h0m-0 -27.3h0m-0 64h0m0 -51.4h0m0.1 -11.4h0m0.1 8.6h0m0.1 22.2h0m0 29.4h0m0.1 -4.5h0m0.7 9.3h0m0.1 4h0m0 -6.8h0m0.2 -2.6h0m0 7.6h0m1.2 -7.6h0m0.3 6.4h0m0 -1.3h0m0.1 -2.6h0m0 -34.7h0m0.3 -2.5h0m0.1 -13.3h0m0 6.6h0m0.1 -6.8h0m0.2 10.2h0m0.2 -7.6h0m1.8 31.4h0m0.2 11.3h0m0.1 -8.8h0m0.1 4.2h0m0 3.5h0m0.7 -54.8h0m-0 -8h0m0.1 -8.5h0m0 2h0m0.2 10.9h0m-0 -130.1h0m0.2 123h0m-0 -136.6h0m0.1 3.5h0m0 5.7h0m0 7h0m0.1 7.1h0m0.3 -17.1h0m0.4 14.2h0m0.1 176h0m0 -103.7h0m0 -40.3h0m0.1 52.4h0m-0 95.3h0m-0 -226.1h0m-0 30.9h0m-0 61.7h0m0 36h0m0 -125.4h0m0 -38.4h0m0 138.2h0m0 -16.2h0m0 -2.8h0m0.1 -104h0m-0 77.4h0m-0 -5.7h0m0 -78.5h0m0.1 93.1h0m-0 -23.2h0m0 29.1h0m0 143.4h0m0 -76.8h0m0.1 -33.2h0m-0 10.5h0m-0 -65.7h0m-0 71.9h0m0 -67.9h0m0 78.7h0m0 -111.2h0m0 197.2h0m0 6.8h0m0 -89.5h0m0.1 -22.6h0m-0 -18.9h0m-0 -117.5h0m0 112.9h0m0 -14.6h0m0 -83.6h0m0 17h0m0 27.2h0m0 -2.6h0m0.1 29.7h0m-0 44.9h0m-0 3h0m-0 35.6h0m0 -87h0m0 -92.1h0m0 56.5h0m0.1 117h0m-0 -15.8h0m0 -136.5h0m0 8.3h0m0 84.2h0m0 15.6h0m0 46.5h0m0.1 -103.9h0m-0 29.5h0m-0 -23.7h0m-0 54.3h0m-0 -87.2h0m0.1 3.3h0m-0 32.7h0m0 -87.6h0m0.1 46.5h0m-0 -22.4h0m0.1 -14.5h0m0 57.9h0m0.1 -33.1h0m-0 24h0m-0 -36.3h0m-0 130.5h0m0 -10.6h0m0.1 -50.6h0m-0 83.4h0m0 -150h0m0 40.5h0m0 -61.7h0m0 101.5h0m0 -49.3h0m0 -35.5h0m0 -34.8h0m0 66.3h0m0 -33.8h0m0 121.1h0m0.1 -9.8h0m-0 -134.2h0m-0 85.6h0m-0 -106.5h0m0 99.8h0m0.1 3.1h0m-0 42h0m-0 -162.4h0m0 106.3h0m0 -27.1h0m0 47.5h0m0 -68.6h0m0 -62.9h0m0 1.9h0m0 217.4h0m0.1 6.6h0m-0 -65.3h0m-0 9.7h0m-0 -19.9h0m-0 -13.4h0m-0 -0.5h0m0 -30.2h0m0 -108.8h0m0 31.7h0m0 -10.9h0m0 17.3h0m0 172.3h0m0.1 -192.3h0m0 72.6h0m0 7.1h0m0 77.9h0m0 8.8h0m0 -141.2h0m0 38.5h0m0 67.2h0m0.1 -92.3h0m-0 20.6h0m0 45.2h0m0 7.1h0m0 -106.6h0m0 123.4h0m0 -53.5h0m0 107.1h0m0 -147.6h0m0 47.3h0m0 -15.4h0m0.1 83.2h0m-0 28.7h0m0 -37.5h0m0 -47.6h0m0 -81.2h0m0 157.3h0m0.1 49.3h0m-0 -209.3h0m-0 191.4h0m-0 -202.8h0m-0 79.5h0m-0 136.9h0m0 -113.6h0m0 -109.8h0m0.1 197.3h0m-0 8.5h0m0 -153.5h0m0 77.3h0m0 -126.9h0m0.1 93.2h0m0.1 32h0m-0 -48.6h0m-0 -40.6h0m-0 72.5h0m0 -85.9h0m0.1 -20.4h0m-0 50h0m0 -14h0m0 9.8h0m0 13.3h0m0 -32.1h0m0 39.1h0m0.2 -23.2h0m-0 21.8h0m-0 -24.4h0m-0 75.5h0m0.1 -8.5h0m0 -18.4h0m0 -60h0m0 46.9h0m0 -60.1h0m0.1 106.4h0m-0 -69.1h0m0 20.9h0m0.1 -12.9h0m-0 -30.4h0m-0 82.1h0m0.1 5.4h0m-0 -59.4h0m0 50.9h0m0 15.2h0m0.1 -38.6h0m0 -36.5h0m0 -30h0m0 51.3h0m0.1 29.7h0m-0 -6.2h0m0.1 -72.2h0m0.1 23.3h0m-0 253.9h0m-0 -3.2h0m-0 -199.3h0m0 7.3h0m0 -48.2h0m0 -21.3h0m0 48.1h0m0 9.1h0m0.1 -24.2h0m0.2 -30.7h0m0 -12.3h0m0 55.3h0m0.1 219h0m0.3 -146.3h0m-0 49.4h0m0.1 7.4h0m-0 -28.8h0m0 -33.2h0m0 26.2h0m0.1 53.6h0m0 -60.1h0m0 10.6h0m0.1 -7.2h0m0 -43.2h0m0 12h0m0.1 73.9h0m-0 -25.4h0m-0 4.5h0m-0 2.3h0m0 -39.1h0m0 3h0m0 -8.5h0m0.1 -24.9h0m-0 18.7h0m0 54.8h0m0.1 23.1h0m-0 -87.8h0m0 2.4h0m0 48.8h0m0 -54h0m0.1 74.8h0m0.1 -42.9h0m0.1 -80.1h0m-0 18.3h0m0 116.3h0m0 7.4h0m0 -138.9h0m0.1 -22h0m0 242.6h0m0.1 -232.4h0m0 -6.5h0m0 24.1h0m0.1 210.4h0m0 -183h0m0 -4h0m0.1 9.6h0m0 -36.6h0m0.1 -29.2h0m-0 250.5h0m0 -214.5h0m0.1 13.9h0m0.1 -5.4h0m0 -42.1h0m0.1 45.5h0m0.1 -36.9h0m0.1 42.8h0m-0 -15.9h0m-0 -20.4h0m-0 3.3h0m0.1 42.4h0m0.2 93.7h0m-0 -6.7h0m0 17.2h0m0.1 -13.4h0m-0 -23.2h0m-0 -38.6h0m0 18h0m0.1 28.5h0m-0 20.8h0m-0 -1.5h0m-0 14.5h0m0 -29.6h0m0 -61.6h0m0 17h0m0.1 54.7h0m-0 -7.5h0m-0 -17.2h0m0 -8.4h0m0 40.8h0m0 -10.4h0m0 -2.6h0m0 -25h0m0 -38.6h0m0.1 44.5h0m-0 17.6h0m0 -51.5h0m0.1 22h0m-0 -38h0m-0 77.1h0m-0 -14h0m-0 -74.7h0m0 2.6h0m0 100.2h0m0 88.3h0m0 -91.1h0m0.1 -60h0m-0 148.5h0m-0 -168.6h0m-0 44.8h0m0 5.6h0m0 -70.1h0m0.1 97h0m-0 -91.9h0m-0 61.9h0m-0 130.5h0m-0 -175.6h0m0 12h0m0.1 32.6h0m-0 -8.3h0m-0 -49.8h0m0 27.9h0m0 60.5h0m0.1 -24.6h0m-0 32h0m-0 -58.1h0m-0 62.1h0m0 94.5h0m0.1 -3h0m0 2.6h0m0.1 -8.1h0m0.8 -90.5h0m0 -16.2h0m0.1 -36.9h0m0 27.3h0m0.1 -14h0m0.1 43.8h0m0.1 -26.6h0m0.1 -13.2h0m-0 -18.1h0m0.1 23.9h0m0 115.1h0m0 -3.4h0m0.1 -114.9h0m-0 29.6h0m0 87.6h0m0.1 -134.3h0m-0 37h0m-0 -32.9h0m0.1 37.1h0m0 3.1h0m0 -13.7h0m0 -23.1h0m1 -120.4h0m0 -25.7h0m0.1 78.2h0m-0 -16.7h0m-0 6.6h0m0.2 -15h0m0 4.5h0m0.2 -35.9h0m-0 21.1h0m0.1 118.3h0m0 -24h0m0 -12.2h0m0 -139.4h0m0.1 186.9h0m-0 -31.8h0m-0 3.4h0m0 -16.8h0m0.1 -91.9h0m-0 140h0m-0 -169.4h0m-0 128.3h0m-0 -118.6h0m0 153.2h0m0.1 -95.1h0m0 -83.6h0m0 19.9h0m0.1 36.7h0m0 -15.8h0m0.1 53.5h0m-0 34.5h0m-0 60.6h0m0 -183.5h0m0 194.2h0m0.1 -69.7h0m-0 65.1h0m0.1 -31.4h0m0 2.5h0m0.1 -25.9h0m-0 17.1h0m-0 17.5h0m0 17.4h0m0.1 -32h0m0.1 41.7h0m0.1 77.3h0m0.3 -8.3h0m0.1 11.7h0m0.1 2.6h0m0.2 -10.1h0m0.7 -51.5h0m0 -3.3h0m0.1 -6.7h0m0.1 15.7h0m0.2 -19.3h0m0.1 16.3h0m0.3 -8.5h0m0.5 60.4h0m0.4 6.1h0m0.1 -2.4h0m0.2 -6.4h0m0.9 -39.9h0m0.2 10.2h0m0 3.6h0m0.1 -10.3h0m0.2 -3.7h0m0.3 7.6h0m0.1 8.8h0m1.1 32.9h0m0.4 1.9h0m0.2 -6.3h0m0 -2.2h0m0.9 -26.9h0m0.1 -24.9h0m-0 16h0m0 15.7h0m0.1 -28.7h0m0.1 9.7h0m0.1 -16.7h0m0 13.2h0m0.1 -16.8h0m-0 26.7h0m0.1 2.2h0m0.3 -14.5h0m0 22.4h0m1 38.5h0m0 -2.2h0m0.1 -3h0m0.1 11.7h0m0.1 -6.1h0m0.2 2.7h0m-0 -4.9h0m0.1 8h0m0.1 -66.1h0m0 31.4h0m0 -21.2h0m0.1 -6.5h0m0.1 2.5h0m0.1 11h0m0 5.8h0m0.1 -24.4h0m0.3 20.9h0m0 -5.1h0m0 11.1h0m0.2 2.9h0m1.1 28.7h0m0 6.7h0m0.4 -2.6h0m-0 5.7h0m0.1 -46.2h0m0.1 7.5h0m0 -3h0m0.2 -2.5h0m0.7 -35.2h0m-0 -10.6h0m-0 34.9h0m0 -12.8h0m0.1 -19.5h0m-0 42h0m0 -25.5h0m0.1 7.9h0m0.1 -11.5h0m-0 -17h0m-0 26.4h0m-0 16.8h0m0 -9.3h0m0.1 -24.4h0m0.1 4.7h0m-0 25.7h0m0.1 -8.5h0m0.1 18h0m-0 -42.8h0m0.3 24.5h0m0.1 11.9h0m0 2.9h0m0 -12h0m0.1 6.7h0m-0 39.3h0m0.2 -56.9h0m0.1 4.1h0m0.1 22.3h0m-0 33.5h0m0 2.1h0m0.1 -47.5h0m2.1 52.4h0m-0 -5.1h0m0.1 8.3h0m0.2 -5.9h0m0 -41.9h0m0.1 11.2h0m-0 -8.2h0m-0 45.9h0m0.1 -67.4h0m0.2 10.4h0m-0 -3.2h0m0 -11.9h0m0.1 19.6h0m-0 9.5h0m-0 -27.6h0m0 30.6h0m0.3 -23.6h0m1.5 59.6h0m0.1 3.3h0m0.2 6h0m0.1 -0h0m0.2 -7h0m0 4.6h0m0.1 -6.9h0m0.5 -47.7h0m0.1 8.6h0m0 10h0m0.1 -6.7h0m0.1 -8.7h0m0.1 -19.7h0m0.2 4.3h0m0 33.2h0m0 -6h0m0 -18.4h0m0.1 -6.3h0m0.1 -4.7h0m0 20h0m0.1 -12.5h0m1.3 64.4h0m0.1 -9.7h0m0.2 4.5h0m-0 -66.6h0m0.1 69.2h0m-0 -55.9h0m0 15.8h0m0.1 -26.1h0m0.1 13.4h0m-0 8.7h0m0.1 -26.4h0m0 39.1h0m0.2 -15h0m0.1 -17.2h0m0.2 27.7h0m0 -23.3h0m0 9.6h0m0.7 49.8h0m0.3 1.4h0m0 -7.5h0m0.2 3.8h0m1.4 -43.7h0m0 15.4h0m0.1 -22.5h0m-0 -8.1h0m0 4.5h0m0 6.6h0m0.2 12.8h0m0.1 -24.8h0m0.1 18.7h0m0.2 2.2h0m0 43.5h0m0.2 -36.9h0m0.3 36.9h0m0 -6.6h0m0.3 -2.1h0m0 -1h0m0.1 3.9h0m-0 3h0m-0 2.4h0m0.1 -3.4h0m0.2 3.2h0m0.4 -42.9h0m0 -2.4h0m0.4 -2.6h0m0.1 11.5h0m0.2 -4.3h0m0.4 35.1h0m0.2 2.5h0m0.1 -6h0m0 8.2h0m0.8 -76.1h0m0 8.2h0m0 -3.1h0m0 -2.7h0m0.1 25.5h0m0 -3.1h0m0.1 -44.4h0m-0 11.2h0m-0 -14.2h0m-0 5.9h0m0 10.7h0m0 27.7h0m0.1 -7.4h0m-0 -2.9h0m-0 -35.8h0m0 13.4h0m0 29.9h0m0.2 11h0m0.1 -43.2h0m0 29.8h0m0.1 -19.1h0m0.1 4.3h0m-0 -7.2h0m0 -9.1h0m0.1 23.4h0m-0 -26.9h0m-0 22.6h0m-0 -13.2h0m0 21.9h0m0 -24.9h0m0.1 30.6h0m0.1 -21.6h0m0.2 -21.4h0m-0 40.4h0m0.2 13.6h0m-0 41.2h0m0.2 -93h0m-0 -2.5h0m-0 46.6h0m0 44.6h0m0 -40.3h0m0.3 49.4h0m0.2 -11.7h0m0 10.3h0m1.2 -67.2h0m-0 20.3h0m0 -31.8h0m0.2 28.2h0m0.1 -34.8h0m0.1 3.5h0m-0 21h0m0.1 -3h0m-0 7.4h0m-0 -15.3h0m0 2.3h0m0 25.9h0m0.1 -9.4h0m0.2 -21.7h0m0.8 62.1h0m0.2 7.7h0m0.1 3.1h0m0.1 1.5h0m0.3 -8.4h0m1 -102.1h0m0.1 -20.9h0m0 4.5h0m0.1 -19.8h0m0 32.5h0m0 -9.6h0m0.1 -51.9h0m-0 7.2h0m-0 66.7h0m0 -48.1h0m0.1 41.8h0m-0 -26.8h0m-0 -27.5h0m0.1 4.4h0m-0 72.6h0m0 -79.5h0m0 -13.1h0m0 78.8h0m0.1 6.5h0m-0 4.6h0m-0 -33.5h0m-0 -32.6h0m0.1 59h0m0.1 -10.3h0m0.1 -66.1h0m0.1 53.2h0m0 -25.7h0m0 4.6h0m0.8 128.4h0m0 9.3h0m0.2 -3.4h0m0.3 -10h0m0 7.2h0m0 -79.4h0m0.1 -2.8h0m0.1 -27.5h0m0 9.3h0m0.1 6.8h0m0.2 3.7h0m-0 -57h0m0 26.3h0m0.1 34.7h0m-0 0.6h0m-0 -84.5h0m0 29h0m0 57.9h0m0 -35.6h0m0.1 -6.6h0m-0 -18.6h0m-0 49.3h0m-0 -12h0m-0 -23.7h0m0 30.4h0m0 -4.5h0m0.1 -2.3h0m0 -12.7h0m0 -30h0m0 69.2h0m0 -17.3h0m0 -57.8h0m0.1 38.8h0m-0 3.1h0m-0 -48h0m-0 8.6h0m-0 20h0m-0 -43.4h0m-0 80h0m-0 -42h0m0 -34.6h0m0 69.4h0m0.1 -13.3h0m-0 -48h0m-0 -11.3h0m0 8.6h0m0.1 54.2h0m0.1 -22.7h0m-0 13.8h0m-0 12.4h0m0 20.8h0m0 -39.1h0m0 35.6h0m0.1 -65.8h0m0.5 163.5h0m0.1 -2.8h0m-0 -9h0m0 2.9h0m0.2 -5.2h0m0.1 14.1h0m0.4 -5.5h0m0.9 -56.9h0m0.1 -7.9h0m0.1 -7.8h0m0.1 4.3h0m0.2 -5.4h0m0 12.2h0m0.1 54.4h0m0.1 -52.1h0m0 5h0m0.1 50.2h0m0.2 0.9h0m0.5 -6.4h0m2 -43h0m0 -19.3h0m0.2 6.8h0m0 59h0m0 -63.2h0m0.1 10.2h0m0.1 3.2h0m0 -19.5h0m0.2 83.2h0m-0 -9.6h0m0 -72.3h0m0 26.8h0m0.1 -14.1h0m0 62.3h0m0.2 -50.9h0m-0 57.7h0m0.1 -2.8h0m1.2 3.7h0m-0 -66.5h0m0.1 58.3h0m0 2.3h0m0.1 -5.6h0m0 13.7h0m0 -87.1h0m0.2 11h0m-0 -27h0m-0 -4.5h0m0 24.4h0m0 -8.5h0m0.1 -3.4h0m0.1 -12.3h0m0 102.1h0m0.1 -95.2h0m0.1 20.7h0m0.1 8h0m-0 -26.2h0m-0 -52.9h0m0 -20.7h0m0.1 -15.1h0m0 38.5h0m0.1 -41.3h0m-0 21h0m-0 49.3h0m0 -44h0m0 64.4h0m0 -28h0m0.1 -69.8h0m0 100.6h0m0.1 -13.2h0m-0 -68.6h0m-0 -16.4h0m-0 48.4h0m-0 -52.8h0m-0 187.9h0m0 -126.8h0m0 -5h0m0 -18.6h0m0.1 60.1h0m-0 -83h0m-0 49.6h0m-0 -23.2h0m0 -8.6h0m0 152.5h0m0 -166.9h0m0 51h0m0 25h0m0.1 -49.5h0m-0 -37.6h0m-0 80.2h0m0 -20.6h0m0 25.4h0m0 -33.3h0m0.1 16.2h0m-0 119.1h0m0 -116.6h0m0 4.5h0m0 -57.6h0m0 84.9h0m0.1 -3.3h0m-0 -21h0m-0 27.4h0m0 79.7h0m0.5 -194.9h0m0.1 104.3h0m0 -79.5h0m0.1 -3.7h0m0.1 25.3h0m-0 9.8h0m0 2.6h0m0 4.3h0m0 34.1h0m0.1 -17.6h0m0 -43.1h0m0.1 16.6h0m0 -47.4h0m0 64h0m0 13.8h0m0 24.5h0m0 -89.4h0m0 8.8h0m0.1 61.8h0m-0 -74.7h0m0.1 72.3h0m0.1 -71.4h0m0 34.9h0m0.1 22.1h0m0 -32.5h0m0 53.4h0m0 -63.7h0m0.1 12.6h0m-0 24.2h0m-0 10h0m0 119.4h0m0 -94.2h0m0.1 -69.5h0m-0 157.1h0m0.3 10.9h0m0.2 -1.2h0m0 -12.8h0m0 6.7h0m1.6 -95.7h0m0.1 -7.1h0m0 13.5h0m0.2 -9.4h0m0.1 12.6h0m0 -26.2h0m0.1 33.1h0m0.1 -30.7h0m0.1 3.1h0m0 13.4h0m0.1 87.7h0m0 -76.3h0m0.1 79.9h0m0.1 5.4h0m0.3 -12.5h0m0.1 11h0m1.9 -80.8h0m0 12.7h0m0.2 -15.8h0m0.1 -3.4h0m0.1 -7.9h0m0.1 81.2h0m-0 -76h0m0 -4.4h0m0.1 22.3h0m0.1 -4.4h0m0.2 64.8h0m1.7 -117h0m-0 -6.2h0m-0 12.8h0m-0 3.7h0m-0 10.5h0m0 16.4h0m0.1 -34.6h0m0.1 25.2h0m0 -37.4h0m0.1 39.7h0m-0 -9.7h0m-0 7.2h0m0 15.8h0m0 -73.5h0m0 69.4h0m0.1 -78.3h0m-0 54.8h0m-0 -17.9h0m-0 -2.1h0m-0 38.7h0m-0 -77.5h0m-0 53.6h0m-0 -26.4h0m0 49h0m0 -15.1h0m0.1 -27.6h0m0 34.6h0m0 -73.2h0m0 15.4h0m0 20.1h0m0 -42.5h0m0 69.5h0m0.1 -48.9h0m-0 -2.6h0m-0 15.1h0m-0 -21.2h0m-0 90.7h0m0 -103h0m0 91.8h0m0.1 -23.2h0m-0 3.9h0m-0 -29.3h0m-0 -27h0m-0 9.8h0m-0 -5.4h0m-0 -2h0m-0 79.2h0m-0 -39.5h0m-0 -26.1h0m0 -256h0m0 162.7h0m0.1 96.4h0m-0 50.6h0m-0 -150.9h0m-0 105h0m-0 13.2h0m-0 25.1h0m-0 17.1h0m-0 -66h0m-0 7.5h0m0 -86.4h0m0 -140.4h0m0 203.2h0m0 -10.4h0m0.1 77.7h0m-0 -75.5h0m-0 -43.3h0m-0 -112.1h0m0 199h0m0 -17.5h0m0 -157.4h0m0.1 -78.8h0m-0 268.1h0m-0 -257h0m-0 222h0m-0 -111h0m-0 93h0m-0 45.4h0m0 5.5h0m0.1 -166.8h0m0.1 63.8h0m-0 -69.8h0m0 -53.7h0m0 133.8h0m0 -151.5h0m0.1 163.5h0m0 -141.9h0m0 63.1h0m0.1 27.6h0m0 16.4h0m0 -38.5h0m0 -119.8h0m0.1 91h0m-0 -21.8h0m0 -27.7h0m0 38.6h0m0.1 17.6h0m-0 -84.5h0m-0 173.2h0m0 197.4h0m0 -259.9h0m0 -88.2h0m0 37.1h0m0.1 63.3h0m0.1 249.9h0m-0 -328.2h0m0.1 -61.9h0m0 394.6h0m0.1 -10.6h0m0.1 10.3h0m0.6 -85.5h0m0.3 3.3h0m0.1 -26.5h0m0.1 16.9h0m-0 16.3h0m0.1 -31.8h0m-0 29.6h0m-0 -22.7h0m0.1 12.2h0m0 -15.2h0m0.1 7.3h0m0.3 90.2h0m0.2 -3.8h0m0.2 4.5h0m0.4 -108.8h0m0.1 16.4h0m0 27.2h0m0 -79.2h0m0 55.7h0m0.1 9.4h0m0 10.2h0m0.1 -56.2h0m-0 -16.8h0m-0 68.3h0m0.1 -21.7h0m-0 -42.8h0m0 -13.4h0m0.1 -1.1h0m0 21.3h0m0.1 49.4h0m0.1 5.2h0m0 -35.7h0m0.1 -41.6h0m0 52.6h0m0 -45.9h0m0.1 28.7h0m0 2.6h0m0 -19.2h0m0 6.5h0m0 30.7h0m0.1 11.7h0m-0 15h0m-0 -50.7h0m0 17.7h0m0.4 108.7h0m0.1 3h0m0.2 -5.6h0m0.1 10.1h0m0.2 -14.4h0m0.1 13.1h0m1.6 -111.9h0m0.1 40.3h0m-0 -31h0m0 21.5h0m0.1 -14.4h0m-0 11.4h0m0.2 -28.3h0m0.1 7.1h0m-0 12.8h0m0 15.5h0m0.1 -30.7h0m0 9.6h0m0.2 8.2h0m-0 2.6h0m-0 13.1h0m0.3 64.5h0m0.2 2.5h0m-0 1.6h0m2.1 -142h0m0.1 16.3h0m-0 42h0m-0 -3.2h0m0 -51.6h0m0 6.3h0m0.2 28.4h0m0 -32h0m0.1 27.6h0m0 -4.5h0m0 38.2h0m0 -80.8h0m0.1 -9h0m-0 43.9h0m-0 39.9h0m-0 -82.4h0m-0 159.9h0m-0 -120.1h0m-0 -35.6h0m-0 88.1h0m0.1 -44.5h0m-0 38.3h0m-0 -20.2h0m0 -54.2h0m0 57.2h0m0.1 93.9h0m-0 -99.9h0m0 8.8h0m0 -37.2h0m0.1 -16.5h0m0.1 27.3h0m-0 -30.7h0m0 148.6h0m1.9 -157.6h0m0 67.8h0m0 -17.2h0m0 -21.7h0m0.1 10h0m0 -17.5h0m0 23.1h0m0 10.3h0m0.1 19.5h0m0 -61.4h0m0.1 46.4h0m0 -63.2h0m0 21.1h0m0 -23.7h0m0.1 31.7h0m0 -35.7h0m0 172.4h0m0 -157.7h0m0 165.4h0m0.1 -4.2h0m-0 -95.3h0m0 -34.4h0m0.1 -3.9h0m0.1 10h0m0 116.6h0m0 10.8h0m0 -179.5h0m0.1 166h0m0 -107.9h0m0.1 -39.3h0m0 55.1h0m0.8 92.6h0m0 10.8h0m0.1 -8.4h0m0.2 4.9h0m0.1 5.8h0m0.1 -8.7h0m0.2 -4.4h0m0 6.8h0m0.2 -3.7h0m0.1 6h0m0 4.2h0m0.3 -1.1h0m0.3 -164.7h0m0 -27.6h0m0 59.6h0m0 4.3h0m0 -54.9h0m0 65.5h0m0.1 -70h0m0 15.8h0m0.1 62h0m0 -3.9h0m0 -36.5h0m0.1 -25h0m-0 -34.6h0m-0 51.5h0m0 12.4h0m0.1 7.1h0m0 18.7h0m0 -3.8h0m0 -28.9h0m0 17.1h0m0.1 -26.3h0m-0 -50.7h0m-0 13.8h0m0 55.9h0m0.1 -12.1h0m0.2 -23.6h0m0 -27.2h0m0 3.1h0m0.1 7.6h0m0.1 26.5h0m0.6 -105.7h0m0.1 110h0m0 -11.3h0m0 -61.7h0m0 5.6h0m0 28.8h0m0.1 -42.7h0m-0 -5.2h0m-0 78.7h0m-0 -48.9h0m0 2.7h0m0 6.4h0m0 -79.6h0m0 100h0m0.1 3.2h0m-0 18.2h0m-0 -27.4h0m-0 -63.7h0m-0 52.6h0m-0 13.5h0m-0 -73.7h0m0 83.4h0m0 -43.9h0m0 -13.6h0m0.1 3h0m-0 -38.6h0m-0 117.3h0m0 -91.9h0m0.1 85.7h0m0 -98.2h0m0 1.9h0m0 -32.7h0m0 62.6h0m0.1 54.9h0m0 -47.9h0m0 3.5h0m0 8.3h0m0 32.7h0m0.1 -75.5h0m0 244.7h0m0 -235.4h0m0 238.6h0m0 -245.5h0m0.1 50h0m-0 47.5h0m-0 -41.6h0m0.1 -84.3h0m0 266.2h0m0 -179.1h0m0.1 -35.1h0m-0 -7.2h0m-0 18.2h0m-0 27.7h0m0.1 -24.4h0m-0 196h0m0 -193h0m0 7.2h0m0 199.3h0m0 -165.7h0m0.1 -7.9h0m0.1 -41.4h0m-0 -4.2h0m0 50.1h0m0.1 -68.5h0m0.1 87.7h0m-0 -87.6h0m-0 3.5h0m-0 52.9h0m0 23h0m0.1 -4h0m-0 -34h0m0.1 -6.3h0m-0 9.7h0m0 16.1h0m0.1 22.5h0m0 -72.5h0m2.1 215.6h0m0.3 -148.2h0m0 3.9h0m0 6.5h0m0.1 135.7h0m0 -5.7h0m0 -170.1h0m0.1 -3.7h0m-0 176.1h0m-0 -161.1h0m0 11.4h0m0.1 2.8h0m0 -11.3h0m0 -36.1h0m0.1 5.6h0m0 -15.1h0m0 12.5h0m0.1 27.4h0m0 -16.7h0m0.2 26.6h0m-0 -30.6h0m-0 -13.6h0m0 28.9h0m0 33.4h0m0.1 -66.3h0m0 35.5h0m0.6 172.2h0m0.1 -6.4h0m0.2 4.1h0m0.2 4.2h0m1.5 -157.8h0m0 2.9h0m0 -17.1h0m0.1 26.1h0m0.1 -19.6h0m0.1 -8.8h0m0 31.6h0m0.1 -18.2h0m0.1 -8.5h0m0 29.2h0m0.1 -10.3h0m0.5 151.7h0m0.2 2.9h0m0.2 2.9h0m0 -11.3h0m0.2 -2.5h0m0.1 13.4h0m0 -8.7h0m0.1 5.4h0m0.1 -146h0m0.1 135.9h0m-0 -198.7h0m0 26.1h0m0.1 178.6h0m-0 2.7h0m0.1 -209.9h0m0.1 60.8h0m0 142.7h0m0 -155.2h0m0.1 -31.3h0m0 -19.8h0m0.1 24.2h0m0 14.1h0m0.1 -29.3h0m-0 6.4h0m-0 25.7h0m0 -12.1h0m0.1 30.6h0m0.1 -46.8h0m0 -12.8h0m0.1 55.6h0m-0 -10.6h0m-0 -9.5h0m0 -8.9h0m0 22.1h0m2.3 0.9h0m0.1 151.4h0m-0 -187.8h0m-0 -6.1h0m0 190.2h0m0 -173.5h0m0.1 -46.8h0m-0 -20h0m0 10.3h0m0 43.4h0m0.1 -13.2h0m0 37.4h0m0 -39.6h0m0 -45.1h0m0.1 14.6h0m0 76.5h0m0 -20.7h0m0 -46.5h0m0 30.5h0m0.1 -60.1h0m-0 16.8h0m-0 69.1h0m0 6.7h0m0 -44.4h0m0.1 9.1h0m-0 -11.6h0m-0 26.3h0m0.1 -45h0m-0 50.1h0m-0 -76.1h0m-0 38.8h0m-0 42.4h0m-0 -87.3h0m0 85.6h0m0.1 -49.6h0m-0 12.6h0m-0 -82.7h0m-0 37.1h0m-0 85.6h0m-0 -73.3h0m0 -8.5h0m0 -37.8h0m0 84.2h0m0 -63.2h0m0.1 54.1h0m-0 35.1h0m0 -14.4h0m0 41.6h0m0 -32.8h0m0.1 -80.3h0m-0 47.9h0m-0 -63.5h0m0 52.6h0m0 -21.8h0m0 -36.4h0m0 8.9h0m0 -6.3h0m0.1 -11.5h0m-0 75.8h0m-0 -14.5h0m-0 46.2h0m-0 -11.6h0m0 -31.5h0m0 19.8h0m0 -35.9h0m0 45h0m0 -23.1h0m0.1 57.3h0m-0 -106.7h0m-0 12.5h0m0 23.1h0m0 42.9h0m0 13.7h0m0 -34.9h0m0.1 -24.2h0m0 4.6h0m0 -7.9h0m0.1 54.3h0m-0 -81h0m0 63.5h0m1.2 37.6h0m0 173.7h0m0 -177.1h0m0 -9.7h0m0.1 -35.8h0m-0 28.7h0m-0 185h0m-0 -205.5h0m0 -30.5h0m0 2.5h0m0.1 52.9h0m0 8.8h0m0.1 176.2h0m0 -212.4h0m0 19.2h0m0 -49.8h0m0 251.1h0m0.1 -168h0m0 -6.5h0m0.1 -58h0m0.1 28.3h0m-0 -24.7h0m-0 56.6h0m0 -63.2h0m0 12.2h0m0 -19.1h0m0.1 34.4h0m-0 -7h0m-0 -23.9h0m0.1 51h0m0 -24.3h0m0.9 204.6h0m0 2.2h0m0.3 5.6h0m0 -12.6h0m0 2.2h0m0.1 12.5h0m0.1 -0.1h0m0.2 -5.2h0m0.5 -5.8h0m0.1 -3.6h0m0 4.1h0m0.1 -165h0m0 -21.6h0m0.1 43.4h0m0.1 2.6h0m-0 -30.6h0m0.1 21.8h0m0 3.4h0m0.1 -6.9h0m-0 -34h0m-0 19.3h0m0.1 -8h0m0 -7.5h0m0 45.9h0m0 -42.4h0m0.1 23.2h0m0.1 -3h0m0.1 -2.8h0m1.2 165.4h0m0 3.6h0m0.2 -0.5h0m0.1 -13.5h0m0.1 7.1h0m0.1 -3.1h0m0.8 -184.2h0m0.1 -10.4h0m0.1 33.8h0m0 10.1h0m0 -49.1h0m0.1 43.5h0m-0 -16.1h0m0 3.9h0m0 -28.7h0m0.1 -10.5h0m-0 33h0m0 -27.8h0m0.1 14.6h0m-0 23h0m-0 12h0m0.1 -54.1h0m0.1 15.5h0m0 12.3h0m0.1 -2.5h0m0.9 -135.5h0m0 68h0m0 -37h0m0.1 85.7h0m-0 -24.5h0m-0 -4.6h0m0 -14.2h0m0 -19.2h0m0 -19.8h0m0 289.4h0m0 -229.3h0m0 -90.9h0m0 86.5h0m0.1 -26.5h0m0 -73.8h0m0 115.9h0m0 -57.1h0m0 -35.2h0m0 307.9h0m0 -297h0m0.1 41.7h0m0 -92.4h0m0.1 68.9h0m-0 36.3h0m-0 -95h0m0 140.5h0m0 -116.1h0m0 -23.7h0m0 126.5h0m0 -59.7h0m0 -35.1h0m0.1 -5.3h0m-0 15.5h0m0 -8.1h0m0.1 -20.9h0m-0 106h0m-0 225.4h0m-0 -291.4h0m-0 8h0m-0 24.9h0m-0 256.2h0m-0 -265.6h0m-0 39.2h0m-0 -78.2h0m-0 -61h0m0 26.1h0m0 109.9h0m0 -57h0m0 74.1h0m0.1 -122.2h0m-0 130.1h0m-0 -37.4h0m-0 34.3h0m0 -90.2h0m0 29h0m0 -63.4h0m0 114.6h0m0 -32.3h0m0 -70.3h0m0.1 75.4h0m0.1 -114.1h0m0 12.3h0m0.8 105.5h0m0.1 4.5h0m0.1 8h0m0.1 -18.1h0m0 48.7h0m0.1 -49.4h0m0 29.2h0m0.1 -3.5h0m-0 -21.7h0m0 41.9h0m0.1 -9.9h0m0.1 6.4h0m0 225h0m0.1 -234.9h0m0 223.6h0m0 12.9h0m0 -228.9h0m0 -18.9h0m0 243.5h0m0.1 -250.3h0m0.1 245h0m0 -8.3h0m0.1 2.8h0m0.1 7.8h0m0.3 -9.5h0m0.3 -3.3h0m0.1 3.5h0m1.2 -329.6h0m-0 123.2h0m-0 -6.9h0m-0 -15.1h0m0 -14.8h0m0 -43.3h0m0.1 -40.6h0m0 44.6h0m0.1 49.7h0m-0 -79.7h0m-0 41.5h0m-0 61h0m-0 -15.5h0m0 -14.2h0m0 -12.3h0m0.1 -15.8h0m0 -22.8h0m0 -26h0m0.1 113h0m0 -94h0m0 75.8h0m0.1 -113.2h0m-0 99.1h0m-0 -87.6h0m-0 74.7h0m-0 -83.8h0m0 12.1h0m0.1 55.2h0m0.1 -38.2h0m0 28.2h0m0 17.9h0m0 -36.2h0m0.1 47.6h0m-0 -14.9h0m0.1 -47.1h0m-0 7.6h0m0 45.9h0m0 37.2h0m0 -61.5h0m0 276.8h0m0.1 -2.9h0m0.2 3.2h0m0.1 -12.2h0m0 2.6h0m0.3 4.2h0m1.5 -186.2h0m0 4.4h0m0.1 -10.1h0m-0 13.6h0m-0 170h0m0 3.6h0m0 4.1h0m0 -199h0m0.1 10.3h0m0 -12.9h0m0 6.8h0m0.1 -9.9h0m0 -5.7h0m0.1 2.9h0m0.1 208h0m0.1 -13.6h0m0.1 2.7h0m2.4 -1.9h0m-0 -241.6h0m-0 -46.6h0m-0 98.1h0m0 12.4h0m0 -85.8h0m0 285.6h0m0 -219.6h0m0.1 -47.9h0m-0 61.5h0m-0 -48.6h0m0 -22h0m0.1 -38.9h0m0 65h0m0 231.1h0m0 -182.6h0m0.1 -42.4h0m0 220.1h0m0 -272.7h0m0.1 55.8h0m0.1 -85h0m-0 66.7h0m-0 32.3h0m-0 -80.1h0m-0 12.7h0m0 46.6h0m0.1 -51.9h0m-0 18.2h0m0 24.6h0m0.1 22.4h0m-0 -78.4h0m0 74.5h0m0 -83.7h0m0 90.7h0m0.1 -38.7h0m-0 -8.9h0m-0 70h0m-0 -94.3h0m-0 87.3h0m0 -110h0m0 36.2h0m0 -27.9h0m0.1 94.4h0m0 -50.4h0m1.5 -54.9h0m0.1 90h0m-0 -83.5h0m0 24.2h0m0 -2.4h0m0 78.2h0m0 -10.8h0m0.1 222h0m-0 -273h0m0 59.2h0m0 -35.7h0m0 -17.2h0m0 11.3h0m0.1 48.2h0m-0 -71.9h0m-0 43.9h0m0 -27.3h0m0 261.7h0m0 -258.8h0m0 13.8h0m0.1 236.9h0m0 -298.7h0m0 104.3h0m0.1 -125.1h0m0 323.7h0m0 -248.1h0m0 22.7h0m0.1 -9.2h0m-0 -2.3h0m-0 228.4h0m0 -187.8h0m0 -95.3h0m0 63.6h0m0 13.2h0m0.1 -105.1h0m-0 108h0m-0 -83.2h0m0 -14.1h0m0.1 21.2h0m-0 -11.2h0m-0 79.1h0m0 -58.3h0m0 -44.7h0m0 58.8h0m0.1 36.5h0m-0 -88.7h0m-0 -33.9h0m-0 130.3h0m0 -53.8h0m0.1 -49.7h0m-0 51.8h0m-0 -5h0m-0 -24h0m0 -52.6h0m0 8.7h0m0 2.3h0m0.1 116.7h0m0 -113.5h0m0 -19.7h0m0 46.1h0m0 63.7h0m0 11h0m0 -24.7h0m0.1 7.7h0m-0 -54.7h0m-0 14.1h0m-0 -9.7h0m-0 2.5h0m0 17.5h0m0 2.4h0m0 41.9h0m0.1 -118.4h0m-0 24.6h0m-0 69.3h0m-0 54.4h0m-0 -82h0m-0 62h0m0.1 -76.4h0m-0 -24.8h0m-0 14h0m-0 -2.1h0m-0 30h0m0 72.7h0m0 -97.9h0m0 17.1h0m0.1 89.9h0m-0 -43.7h0m-0 37.9h0m-0 -112.2h0m-0 92.1h0m0 -112.9h0m0.1 78.4h0m-0 -10.7h0m-0 19.2h0m-0 38.3h0m-0 -23.6h0m-0 -41.6h0m0 -49.5h0m0 130.6h0m0 -37.2h0m0 -86.5h0m0 72.7h0m0 -99.1h0m0.1 85.1h0m0.6 9.9h0m0.1 49.1h0m0 -56.6h0m0 -4.9h0m0.1 28.1h0m-0 -38.2h0m-0 61.9h0m-0 -29.9h0m0 27.7h0m0.1 215.3h0m0 -200.2h0m0 -46.2h0m0 -35.6h0m0.1 288.4h0m-0 2.5h0m0 -228h0m0 228.7h0m0.1 -272h0m-0 -22.7h0m0 17.1h0m0 19.2h0m0.1 251.4h0m0.1 11.1h0m-0 10h0m-0 -257.8h0m-0 27h0m-0 219h0m-0 -5.1h0m0 -233.1h0m0.1 -45.4h0m-0 49.7h0m-0 -18.2h0m0 240.5h0m0.1 -230.8h0m-0 -48.1h0m0 21.8h0m0 59.4h0m0.1 -12h0m-0 213.1h0m2.4 -233.3h0m-0 48.3h0m-0 -31.9h0m0 -72.2h0m0.1 9.4h0m-0 -13.4h0m0 110.9h0m0.1 -22.5h0m-0 -59.8h0m-0 25.2h0m-0 17.9h0m0 24.6h0m0 197.6h0m0 -260.9h0m0.1 67.3h0m-0 -82.6h0m-0 19.4h0m0 260.3h0m0.1 -204.6h0m-0 196.7h0m0 -290.8h0m0.1 297.8h0m-0 -298.9h0m0 117h0m0 -74.2h0m0.1 -34.2h0m-0 73.7h0m0 -23.3h0m0 63.4h0m0 -75.7h0m0.1 -35.4h0m0 12.2h0m0 3.7h0m0.1 43.3h0m-0 -17.6h0m-0 13.2h0m0 20.3h0m0.1 20.6h0m-0 12.8h0m0 -69.4h0m1.7 246.1h0m0 -177.8h0m0.1 9.1h0m0 -42.4h0m0.1 40h0m-0 -33h0m-0 37.6h0m-0 168.3h0m0 -192.5h0m0 15.1h0m0.1 -39.9h0m0 208.9h0m0.1 2.2h0m0 -218.2h0m0.1 27.3h0m0 -30.4h0m0.2 38.2h0m0.1 2.8h0m0 -40.1h0m0 -89.8h0m0 108h0m0 25.5h0m0.1 -37.9h0m0 19.3h0m0.2 -102h0m0.2 -6.2h0m0.4 89.3h0m0 -2.4h0m0.1 45.6h0m-0 -70.7h0m-0 -27.5h0m-0 13.4h0m0 -39.1h0m0 56.1h0m0 37.4h0m0 -79.8h0m0 103.1h0m0.1 -14.7h0m-0 -6.6h0m0 -34.3h0m0.1 30h0m0 20.4h0m0 -35.9h0m0 -73h0m0 70.1h0m0.1 -35.8h0m-0 -32.2h0m-0 65.1h0m-0 -62.6h0m-0 81.6h0m-0 -60.2h0m-0 35h0m-0 -40.4h0m-0 7.7h0m0 78.4h0m0 -112h0m0 69.5h0m0 -49.7h0m0.1 104.5h0m-0 -2.7h0m-0 8.1h0m0 -68h0m0.1 26.3h0m-0 -41.6h0m0 -23.8h0m0 13.8h0m0.1 70.4h0m0.1 -93.3h0m-0 3.7h0m-0 92.7h0m-0 -12.8h0m-0 -51.6h0m-0 40.3h0m-0 -42.1h0m-0 81.5h0m-0 -72.8h0m-0 -3.1h0m-0 -0.1h0m0 52.1h0m0 16h0m0.1 12.4h0m-0 -43.9h0m-0 -58.4h0m0.1 76.3h0m0 -41.5h0m0 49.7h0m0 4h0m0.1 -107.2h0m-0 21.1h0m-0 34.6h0m0.1 54h0m0 -49.5h0m0 -36.8h0m0 74.2h0m0 -66.5h0m0 16.6h0m0.1 -50.7h0m0 54h0m0 41.5h0m0 -58.3h0m0 50.1h0m0 -10.4h0m0 233.2h0m0.1 -302.8h0m-0 -9.9h0m0 -4h0m0.1 123.8h0m-0 181.7h0m-0 -3.4h0m0 -317.4h0m0 39.5h0m0 54.9h0m0 -57.9h0m0.1 33.2h0m-0 18.5h0m0 -65.6h0m0 68.1h0m0 233.5h0m0 -342.2h0m0.1 122.7h0m-0 20.7h0m-0 -72.8h0m-0 276h0m0.4 -320.8h0m0 -13.8h0m0 -7.1h0m0.2 -12.4h0m0.1 -5.4h0m1.8 374.8h0m0 0.9h0m0.1 -272.3h0m0.1 -6.5h0m-0 286.1h0m0 -238.1h0m0 -6.8h0m0 -24.4h0m0.1 37.1h0m0 -23.1h0m0 44.1h0m0 213.6h0m0.1 -191.6h0m-0 184.2h0m-0 -224h0m-0 22.3h0m0 195.5h0m0 -229.8h0m0.1 246.4h0m-0 -16.6h0m-0 22.5h0m-0 -196.2h0m-0 -98.8h0m0 31.3h0m0 32.8h0m0 227.7h0m0.1 -230.3h0m-0 -12.4h0m-0 53.8h0m-0 -107.7h0m0 114.9h0m0 171.2h0m0.1 -273.3h0m-0 268h0m-0 -207.6h0m0 -50.9h0m0.1 -7h0m0 69.8h0m0.1 -58.7h0m-0 65.2h0m-0 20.3h0m0 -72.5h0m0 -9h0m0.1 58.7h0m0 5.7h0m0.1 -31.2h0m2.6 220h0m0.4 2.2h0m2 -5.6h0m0.4 -0.4h0m0.2 3.1h0m1.8 -10h0m0.1 8.3h0m0.4 -7.1h0m-0 3.4h0m-0 21.2h0m0.1 -2.3h0m1.9 -19.8h0m0.1 -4.2h0m0.4 -4.1h0m0.2 10.7h0m0.1 -9.4h0m0.7 27.3h0m0 2.9h0m0.4 -0h0m0.1 -23.2h0m0.2 -10.2h0m0.1 -1.1h0m0 7.8h0m0.3 5.9h0m0 -9h0m0.1 5.2h0m0.4 -6h0m0.2 2.3h0m0.2 7.5h0m2 9.5h0m0.3 -6.1h0m0.2 3.4h0m1.8 0.9h0m0.3 -8h0m0.2 0.1h0m0.3 3.6h0m1.4 18.3h0m-0 -2.2h0m0.6 -19.4h0m0 2.3h0m0 -8.8h0m0.1 3.4h0m0.1 5.2h0m0 -16.9h0m0.2 5h0m0.2 -2.2h0m-0 -2.6h0m-0 13.4h0m0.3 0.1h0m0.1 23.7h0m0.3 0.2h0m0 -2.8h0m0.2 -0h0m0 2.2h0m1.8 -20.1h0m0.1 -2.1h0m0.2 8.8h0m0.3 -3.5h0m2.8 6.7h0m0.3 1.5h0m1.7 -5.7h0m-0 5.4h0m0 -5.6h0m0.1 1.9h0m0.1 -2h0m0.1 2.3h0m0.3 3.4h0m2.2 0.5h0m0.4 -4.3h0m-0 1.4h0m2.5 3.8h0m0.2 -3.2h0m0.1 -0.1h0m3.3 -2.5h0m0.1 -6.6h0m-0 2.8h0m0.7 15.9h0m0.1 2.2h0m1.9 -21.6h0m0 -10.3h0m0.1 1.6h0m0.4 4.3h0m0.1 26.2h0m0.3 -3.1h0m0.1 -27.3h0m0.1 -8.9h0m0.1 -3.1h0m-0 14.2h0m0.2 2.8h0m0.1 -10.8h0m-0 3h0m1.3 8.5h0m0.1 24.9h0m0.2 -29.5h0m0.1 -2.8h0m-0 28.3h0m2.6 -23.5h0m0.3 5.7h0m0 -9.3h0m0 28.1h0m0.4 2.4h0m0 -24.1h0m2.4 0h0m0.3 -0.4h0m0.2 4h0m0.3 4.1h0m-0 17.1h0m0.1 -2.1h0m2.3 -16.6h0m0.1 5.1h0m0.1 -3.7h0m2.4 7.1h0m0.2 -2.9h0m3.1 -4.2h0m0.4 -2.8h0m0.1 6.8h0m1.5 -8.3h0m0.4 -6.2h0m0.1 11.3h0m0 -2.7h0m0.1 -5.6h0m0.7 25.9h0m0.3 -20h0m0 17.6h0m0.3 -20.9h0m0.1 5.7h0m2.4 -2.1h0m0.4 -0.1h0m0.3 3.8h0m0.1 2.9h0m2.8 2.8h0m0.3 2h0m2.2 0h0m0.1 -1.4h0m3.2 -0.2h0m0.2 2.6h0m3.4 0.9h0m0.1 1.3h0m2.3 -0.7h0m0 -0.8h0m2.4 2h0m-0 -0.5h0m2.7 -1.4h0m0.3 2.8h0m16.9 -2h0m0.2 2.1h0m1.7 -1.4h0m0.1 -0.9h0m1.6 -0.4h0m0.4 -0.7h0m2.3 -4.7h0m0.1 4.5h0m0.3 -2.4h0m2.2 -10.6h0m-0 3.2h0m0.1 -4.4h0m0.3 2.6h0m0.1 4h0m-0 3h0m0.4 -3.7h0m-0 -5.2h0m0.1 8.9h0m1.9 2h0m0.1 -3.6h0m0.2 -1.8h0m2 9.1h0m0.5 -3.5h0m2.7 6.6h0m0.5 -1.1h0m53.9 9.5h0m0.5 -2.1h0m8.7 0.1h0m0.2 0.8h0m55.7 -12.2h0m0.4 2.7h0m2.6 -2h0m0.2 -4.5h0m0.3 -0.5h0m2.6 4.8h0m0.1 -1.5h0m3.3 -21.9h0m0 3.1h0m0.1 -6.4h0m0.3 8.9h0m0.7 21.2h0m0.4 3.3h0m0.1 1.4h0m1.2 -36.5h0m0 8.6h0m0.1 -2.9h0m-0 -7.8h0m0.2 -0.5h0m-0 5.7h0m0 -8.3h0m0 13.8h0m0.1 -18h0m0 5.2h0m0.1 -3.1h0m-0 38.9h0m0 -25.5h0m0.1 -15.5h0m0 44.7h0m0.1 -44.6h0m0.1 46.2h0m0.3 -35.3h0m1.7 22.2h0m0.2 -7.4h0m0.2 -1h0m0.4 5h0m2.6 0.5h0m0.1 1.6h0m0.2 2.2h0m1.4 2h0m0.4 -5.9h0m0.3 2.1h0m2.6 5.7h0m0.4 -5.3h0m0.3 2.1h0m0.8 -8h0m0 3h0m0 -7.2h0m0.4 1.6h0m-0 8.8h0m0.6 -6h0m0.2 -1.7h0m0 7.7h0m0.4 -3.6h0m1.5 8.3h0m0 -3.3h0m0.2 -1.3h0m2 7.7h0m0.3 0.7h0m2.4 0.2h0m0.1 -2.1h0m2.4 1.5h0m0.1 -2.5h0m0.1 -0.7h0m3 6.4h0m0 -18.7h0m0 -5.3h0m0 2.3h0m0.2 23.5h0m0.3 -16.1h0m0.6 -2.6h0m0.2 -10.3h0m0 -1.7h0m0 8.5h0m0.1 -4.7h0m0.2 2.5h0m1.7 5.7h0m0 -7.9h0m0 5.5h0m0.3 -4.1h0m1.7 7.3h0m0.1 -3.4h0m0.2 -1.4h0m0.2 7.1h0m0.7 12.8h0m0.1 2.4h0m2 -28.2h0m-0 -3h0m0.2 -0.3h0m0.1 7.1h0m0.7 18.7h0m0.4 2.3h0m1.5 -52.7h0m0 9.6h0m0.1 3.9h0m0.1 -15.8h0m0.1 -3.6h0m0.1 13h0m0.4 -4.4h0m-0 -8.3h0m0.4 55.5h0m0.1 -57.6h0m0.1 54.8h0m0.1 -46.2h0m0 -11.2h0m0.1 20.4h0m0.1 -15.3h0m0 -11.8h0m0.1 3.6h0m0 -3.4h0m0.1 23.8h0m0 -9h0m0.2 5.6h0m0 8.6h0m0.1 -46h0m-0 8.3h0m1.3 30.1h0m0.1 -4h0m0.3 8.6h0m0.2 3h0m0.3 39h0m0.3 0.7h0m0.3 -4.8h0m1.3 -55.2h0m0.1 13.3h0m-0 3.1h0m0.1 -12.9h0m0.2 19.3h0m0.1 -23.8h0m0 11.2h0m0.1 9.5h0m0.1 -11.7h0m0.4 49.3h0m0.4 3.6h0m1.1 -41.3h0m0.2 -3h0m0.1 13.1h0m0.1 -7h0m-0 -13.9h0m0.2 17.1h0m0.2 -13.7h0m1.5 47.2h0m-0 3.1h0m0.6 -20.6h0m0 -11.7h0m0.1 4.2h0m0.1 -6.5h0m0.3 11.1h0m2.1 7.8h0m0.1 16.8h0m-0 -2.1h0m0 -22h0m0.3 -1.7h0m0.3 5.4h0m1.6 0.3h0m0.2 -8.7h0m0.2 0.8h0m-0 28.1h0m0 -24.3h0m0 6.5h0m0.2 15.6h0m1.7 -16.2h0m0 -3.2h0m0.3 -6.5h0m0.1 2.9h0m0.3 22.8h0m0.5 2.5h0m1.7 -26.5h0m0.4 -7.4h0m0.3 3.3h0m0.1 10.6h0m0 -4.2h0m0.6 23.7h0m0.1 -2h0m1.2 -22.7h0m0.1 -3.3h0m0.4 7.1h0m0.1 17.4h0m0.1 1.1h0m1 -46.3h0m0.1 12h0m0.1 -2.9h0m0 7.6h0m0.1 0h0m-0 -19.8h0m0.1 17.3h0m-0 -19.9h0m0 12.3h0m0 -8.9h0m0.1 5.7h0m-0 -9h0m0.1 12.5h0m-0 5.4h0m0 -15.2h0m0.1 12h0m0.2 -5.9h0m0.2 -3.3h0m0.8 47.6h0m0.1 -3.5h0m0.1 4.6h0m1.1 -25.9h0m0.1 -3.2h0m0.4 -4.1h0m0.1 30.8h0m0.2 -20h0m0.3 22.8h0m0.2 -0.5h0m1.8 -14.1h0m0.3 -5.2h0m0.1 2.8h0m2.6 3.1h0m0.4 -6.7h0m0.1 2.4h0m2.3 -1.7h0m0 1.8h0m0.1 4h0m2 -10h0m0.2 8.7h0m0.1 -2.6h0m0 -2.4h0m1.5 -5h0m0.1 2.2h0m0.1 -7.1h0m0.1 2.6h0m0 -3.2h0m0.1 12.9h0m0.1 -2.3h0m0.3 -9.9h0m0.1 0.4h0m0.1 2.5h0m0.1 3.2h0m0 3.7h0m0.1 2.4h0m1.6 3.5h0m0.1 -1.9h0m2.9 -4.7h0m0.1 4.1h0m0.1 -3.9h0m0.2 7.9h0m2.1 0.1h0m0.4 -4.5h0m0.1 -0.7h0m0.2 4.8h0m0.4 -9.2h0m0.1 7h0m0.2 -3.1h0m0.1 -3.3h0m0.9 5.6h0m0.3 3h0m0 -8h0m0.4 1h0m2.9 7.2h0m0.3 -0.8h0m0 4.7h0m3 -3.2h0m0.3 4.9h0m-0 -2.4h0m2 0.7h0m0.1 2.5h0m74.1 3.2h0m0.1 0.5h0m1.3 -1.3h0m0 -5.2h0m0.1 2.7h0m0 -2.3h0m1.6 5.2h0m0.2 -2.4h0m14.3 -13.2h0m0.2 3.7h0m0.3 3.6h0m1.9 -4.6h0m0.4 -3.1h0m0 -4.1h0m1.7 -73.3h0m-0 23.3h0m0 59.7h0m0 -87.4h0m0.2 98.3h0m0.1 -64.4h0m0.1 3.5h0m-0 57.5h0m-0 -3.2h0m0 -92.9h0m0.1 -79h0m0 111.4h0m0 -96.1h0m0 29.1h0m0 48.4h0m0.1 -108.4h0m-0 22.1h0m-0 98h0m0.1 -8.3h0m-0 -77.7h0m-0 -40.3h0m-0 3h0m-0 52.1h0m-0 55.6h0m0 -116.6h0m0 31h0m0.1 6.3h0m-0 90.5h0m0 -47.1h0m0 -78.4h0m0 -4.7h0m0.2 80.6h0m-0 -20.1h0m0 -40.8h0m0 35.1h0m0 17.4h0m0 5.4h0m0 -55.8h0m0 -4.5h0m0.1 7.3h0m0 44.5h0m0 -17.7h0m0.1 -23.8h0m-0 15.6h0m0 22.5h0m0 -7.8h0m0.7 -113.1h0m0.1 -142.6h0m-0 88.3h0m-0 -56.3h0m-0 96.1h0m-0 6.6h0m-0 -48.4h0m0 71.3h0m0 -56.8h0m0 -29.4h0m0.1 8.6h0m0 31.7h0m0 51.3h0m0 -94.1h0m0 90.8h0m0.1 37.8h0m-0 -193.6h0m-0 93.9h0m-0 117.9h0m-0 -21h0m0 -69.3h0m0 6.3h0m0.1 42h0m-0 -58.9h0m-0 76.2h0m-0 -54.2h0m0 -111.1h0m0 -36.9h0m0 281.8h0m0.1 -230.6h0m-0 3.5h0m-0 -37.9h0m-0 256.6h0m-0 -201.5h0m-0 168.5h0m-0 -163.1h0m0 -20.7h0m0 131.1h0m0 35h0m0 46.4h0m0.1 -103.5h0m0 -31h0m0 -40.3h0m0.1 85.6h0m-0 -73.7h0m-0 148.6h0m-0 -234.6h0m-0 224.3h0m0 -198.2h0m0 153.5h0m0 22.4h0m0.1 -161.6h0m-0 -58h0m-0 282.5h0m-0 -154h0m0 116.2h0m0 -84.1h0m0 -94.6h0m0.1 183.6h0m-0 -211.4h0m-0 209.2h0m-0 -53.4h0m-0 -29.3h0m0 -37.1h0m0 29.6h0m0 -111h0m0 71.5h0m0 7.7h0m0 -119.7h0m0.1 80.6h0m-0 -63.3h0m-0 156.4h0m-0 95.7h0m-0 -101.3h0m-0 -61.7h0m-0 76.8h0m-0 -88.1h0m-0 -74.1h0m-0 201.8h0m0 -224.9h0m0 17.5h0m0 233.7h0m0 -56h0m0 32.3h0m0.1 -76.3h0m-0 132.2h0m-0 -24h0m-0 -70.8h0m-0 -43.4h0m0 -6.7h0m0 -82h0m0 72.2h0m0 2.9h0m0 56.2h0m0 -128.8h0m0 9.1h0m0 83.7h0m0.1 -41h0m-0 121.1h0m-0 -153h0m-0 176.8h0m-0 -78.3h0m-0 12.7h0m-0 196h0m-0 -245.9h0m-0 -111.4h0m0 -2.9h0m0 128h0m0 132h0m0.1 -106.5h0m-0 211.3h0m-0 -241h0m0 43.2h0m0.1 4.4h0m-0 -13.7h0m-0 -40.9h0m0 -34h0m0.1 63.5h0m-0 -65.9h0m0 63.8h0m0.1 -51.9h0m-0 38.7h0m-0 -41.2h0m0 70.3h0m0.1 -66.2h0m-0 80.2h0m-0 -73.1h0m-0 264.1h0m0 -223.4h0m0 -2h0m0.1 -142.8h0m-0 179h0m-0 -114.4h0m0 35.2h0m0 65.3h0m0 -36.6h0m0 -15.4h0m0.1 -127.3h0m-0 104.4h0m-0 69h0m-0 -17.3h0m0 -61h0m0 64.7h0m0 -58.1h0m0 53.2h0m0 -149.1h0m0 76.3h0m0.1 -90.7h0m-0 174.5h0m-0 -29.6h0m0 -87.8h0m0 141.5h0m0 -39.6h0m0 -25.7h0m0 11.5h0m0 -98.9h0m0 101.7h0m0.1 8.9h0m-0 -139.9h0m-0 186.1h0m-0 -140.2h0m-0 -11.7h0m0 131h0m0.1 -88.3h0m-0 -99.1h0m-0 201.6h0m-0 -130.3h0m0.1 104.6h0m-0 -56.5h0m-0 70.9h0m-0 -59.3h0m0 -57.5h0m0 51.5h0m0 74h0m0.1 -90.7h0m0 -65.4h0m0 101.5h0m0 -33.3h0m0 73.3h0m0.1 -175.8h0m-0 39.3h0m-0 119.6h0m-0 11.9h0m0 -99.8h0m0 85.5h0m0 -127.7h0m0.1 27.6h0m-0 116.3h0m-0 -141.3h0m-0 65.8h0m0 -17.5h0m0.1 50.7h0m-0 -25.3h0m-0 14.3h0m-0 14.5h0m0 -82.4h0m0 -49.4h0m0 71.3h0m0 3.7h0m0 189.1h0m0 -250h0m0 203.8h0m0 -70h0m0.1 38h0m-0 -163.2h0m-0 -1.7h0m-0 22.3h0m0 62.8h0m0 36.5h0m0 -108.5h0m0 -27.4h0m0 235.5h0m0 -250.8h0m0.1 133.8h0m-0 11.5h0m-0 94.3h0m-0 -107.6h0m-0 -42.9h0m0 30.3h0m0 -19.7h0m0 -24.6h0m0 136.6h0m0 42.8h0m0 -36.1h0m0.1 48h0m0 -5.8h0m0.2 -51.6h0m-0 48.3h0m-0 17.8h0m0 -38.8h0m0.1 -4.1h0m-0 37.9h0m0 -47.2h0m0 41h0m0 -48.6h0m0.1 28.1h0m0.1 -13.6h0m0.1 49.1h0m0 -31.2h0m0.4 133.9h0m0.2 -5.8h0m0.1 8.5h0m0.1 4h0m0 -9.1h0m0.1 11.2h0m1.1 -125.7h0m0.1 -54.3h0m0 -2.7h0m0 32.6h0m0 40.3h0m0.2 -34.3h0m-0 -13.7h0m0 -2.9h0m0 20.9h0m0.1 -35.7h0m0 39.3h0m0.1 -47.9h0m0 55.7h0m0 -43.1h0m0.2 17.9h0m0.1 -11.6h0m0.1 43.7h0m0 -10.2h0m0 -36.9h0m0.1 21.4h0m-0 29.7h0m-0 3.1h0m0.8 110.2h0m0.3 -4.2h0m0 -152.6h0m0.1 166h0m-0 -163.7h0m0 18.4h0m0 140h0m0 -123.4h0m0.1 120.7h0m0 -143.1h0m0.1 -26h0m-0 51.4h0m0 -9.5h0m0 -13.5h0m0 -19.7h0m0 165.5h0m0.1 -170.1h0m-0 175h0m0.1 -13.4h0m-0 -126.8h0m0 -51.9h0m0 181.4h0m0.1 -175.2h0m0 65.2h0m0 -39.1h0m0 143.4h0m0.1 -139.9h0m0 -39h0m0 32h0m0.1 18.5h0m0 10.5h0m0.1 10.7h0m-0 -65.7h0m0.1 73h0m-0 -76.2h0m0 10.9h0m0.3 -58.7h0m0 43.8h0m0.1 2.5h0m-0 -23.2h0m0 -25h0m0.1 15.9h0m0.1 4h0m0.1 -10.8h0m-0 27h0m0 -39.1h0m0 37.3h0m0 -3h0m0 12.2h0m0.2 -25.1h0m0 22.6h0m0 183.3h0m0.1 -220.4h0m-0 7.1h0m-0 2.2h0m-0 9.7h0m-0 194.4h0m0.1 -167.3h0m-0 -55.2h0m0 43.5h0m0.1 -11h0m0 -21.1h0m0.1 221.4h0m0.1 -198.4h0m-0 1.1h0m0 201.1h0m0 -194.5h0m0.1 4.4h0m0.1 -16.3h0m0 13.7h0m0 9.2h0m0.1 2.3h0m0.1 -29.4h0m0.1 1.7h0m-0 198.3h0m0 9.7h0m0.1 -212.5h0m-0 9.1h0m0.1 19h0m0 -3.1h0m0.1 -10.8h0m0.1 1.7h0m0 -17.3h0m0.1 15.5h0m0 -13.8h0m0.1 7.2h0m0 22.5h0m0.1 -35.7h0m0 79.4h0m0 -64.3h0m0.1 18.9h0m-0 73.3h0m-0 -51.4h0m0 -58.7h0m0 11.7h0m0.1 -6.9h0m0 90.5h0m0 -75.3h0m0 58.5h0m0.1 -53.2h0m-0 46.9h0m-0 -43.2h0m0 33.2h0m0 44.5h0m0 -38.8h0m0.1 -13.4h0m-0 38.2h0m0 -40.8h0m0.1 51.2h0m-0 -116.4h0m0 101.5h0m0.1 -92.1h0m-0 68.4h0m-0 -66.8h0m-0 87.8h0m-0 -53.5h0m0 -42.8h0m0 1.7h0m0.1 99.5h0m-0 8.8h0m0 -115.1h0m0.1 9.3h0m-0 47.4h0m-0 -27h0m0 61.6h0m0 -68h0m0.1 26.7h0m-0 -51.6h0m0 45.2h0m0.5 172.4h0m0.2 3.8h0m0.1 9.1h0m0.1 -117.9h0m0 -24.5h0m0 -25.7h0m0.1 23.7h0m0 11h0m0.1 131.6h0m0.1 -110h0m-0 -38.2h0m0 143.9h0m0 -165.3h0m0.1 46.7h0m-0 -31.3h0m-0 51.3h0m0 -42.2h0m0 38.6h0m0.1 -50.8h0m-0 22.2h0m-0 -28.4h0m0 12.9h0m0 49.9h0m0 -60h0m0.1 22.7h0m-0 25.4h0m0 -12.8h0m0 -2.9h0m0.1 8.7h0m0.9 10.7h0m-0 -18.2h0m0.1 4.1h0m0.1 115.6h0m0.1 -3.5h0m0.1 -91h0m-0 -34.2h0m0 134.2h0m0.1 -113.5h0m-0 111.4h0m-0 -130.7h0m0 36.3h0m0 -13.1h0m0.3 -6.9h0m0 -11.9h0m0 34.5h0m0.1 -9.9h0m1.3 6.6h0m0 3.8h0m0 -21.2h0m0.1 -20.3h0m-0 -6.8h0m-0 31.1h0m-0 -17.8h0m-0 2.2h0m0 4.3h0m0.1 21.9h0m0.1 -30.9h0m0.1 -20.3h0m0 -0.6h0m0.1 4.2h0m0.1 60.6h0m-0 -19.4h0m0.2 -38.1h0m-0 53.7h0m0 -28.3h0m0 -19.6h0m0.1 35.7h0m0.2 117.5h0m0.1 2.1h0m0.3 -133.9h0m-0 -23.2h0m-0 47.1h0m0.1 105.3h0m-0 -122h0m-0 32.5h0m-0 86.6h0m-0 -122.7h0m0 31.1h0m0.1 -17.3h0m-0 3.3h0m0 -10.1h0m0 19h0m0 -33h0m0 46.6h0m0.1 -61.2h0m0 165.6h0m0 -182h0m0 184.7h0m0.1 -122.8h0m0 -39.7h0m0 -3.1h0m0 9.4h0m0 150.6h0m0.1 -130.8h0m-0 125.2h0m-0 -159.9h0m0 -7.8h0m0 -3.4h0m0.1 168h0m0 -145.3h0m0 151.6h0m0 -109.8h0m0.1 -58h0m-0 62.5h0m0.2 -10.7h0m0.1 -3.9h0m-0 -3.7h0m0 19.1h0m0.1 5.4h0m0.2 -29.8h0m-0 21.1h0m0 -5.5h0m0 11.2h0m0.2 -24.3h0m0.2 15.9h0m0.5 99.1h0m0.1 4.5h0m0.2 6.5h0m0.1 0.8h0m0.1 -4.9h0m1.5 -90h0m0.1 9.5h0m0 2.3h0m0.1 -14.1h0m0 8.6h0m0.1 11.6h0m0.1 -28.1h0m-0 -0.4h0m0.1 12.9h0m0 12.6h0m0.1 -21.3h0m0.9 77.8h0m0.4 4.5h0m0.1 10.3h0m0.1 -6.4h0m0.4 2.7h0m0.9 -82.8h0m0 10.6h0m0.3 46.1h0m0.1 -52.2h0m-0 8.5h0m0 46h0m0 -59h0m0.1 8.2h0m-0 7.2h0m-0 47.6h0m0.1 5.1h0m0.4 -1.1h0m2 -4.5h0m0.2 0.5h0m0.2 -80.1h0m0.1 32.8h0m-0 -2.3h0m0.1 45.1h0m-0 -78.3h0m0 -4.2h0m0.1 33.6h0m0 -14.3h0m0 5.6h0m0.1 -2.7h0m0 -22.6h0m0.1 29.8h0m0.3 -14.2h0m0 -4.4h0m1.4 93.6h0m0 11.6h0m0.2 -2.7h0m0.1 2.6h0m-0 -6.4h0m0.1 -2.5h0m0.4 8.9h0m0 5.8h0m0.1 -3.2h0m0.1 10.2h0m0 1.3h0m0.2 -93.1h0m0.1 -26.8h0m-0 4.3h0m-0 2.3h0m-0 108.4h0m0.2 -96.4h0m0 -32.7h0m0.1 44.3h0m0 4.4h0m0.1 -47.1h0m-0 9.7h0m0 -11.8h0m0 3.8h0m0 -4.5h0m0 44.4h0m0.1 8.3h0m-0 -16.6h0m-0 3h0m-0 -26h0m0 41.4h0m0.1 -44.2h0m-0 13.7h0m0 28.4h0m0 -35.3h0m0.1 -2.1h0m-0 -6.7h0m-0 28.2h0m-0 -15.9h0m-0 6.6h0m0 -21h0m0 2.9h0m0 20.3h0m0.1 -32h0m0 36.7h0m0 7.3h0m0.1 -15.2h0m0 21.3h0m0.1 -8.5h0m-0 11h0m0 -52.6h0m0.1 33.3h0m0.9 97.3h0m0.1 -6.6h0m0 -116.1h0m0.1 4.3h0m0.1 121.9h0m-0 -86.3h0m0.1 -8.3h0m0 88.6h0m0.1 -75.2h0m-0 -34.5h0m0 31.8h0m0.1 -47.3h0m0 23.4h0m0.1 -10.8h0m0.1 -10.9h0m-0 52.5h0m-0 -35h0m0.2 7.1h0m0 16.1h0m0 -3.2h0m0 -6.1h0m0 -2.5h0m0.7 98.1h0m-0 3.6h0m0.1 -7h0m0.2 9.6h0m0.2 -13.1h0m1 -60.6h0m0.1 65.7h0m0 -78h0m0 8.9h0m0.1 5.9h0m0 -21.1h0m0.1 -2.9h0m-0 5.7h0m0 26h0m0.1 -42.2h0m0.1 22h0m0 70.6h0m0 3.4h0m0.3 -95.5h0m-0 23.9h0m0 -21.5h0m0 35.3h0m0.1 -31.1h0m2 94.1h0m0.1 -5.9h0m0 4.3h0m0.3 -7.1h0m0.2 -40h0m0 -4.4h0m0.2 -3.7h0m0.2 -2h0m1.2 44.8h0m0.4 10.2h0m0.1 0.9h0m0.4 -4.9h0m0.1 -2.5h0m0.2 -83h0m-0 11.3h0m-0 11.8h0m0 -3.1h0m0 -34.5h0m0 17.6h0m0 -14.5h0m0.1 -6.9h0m0 10.8h0m0.2 14.6h0m0 -27h0m0.3 34.2h0m0.1 -17.3h0m0.1 77.8h0m-0 -57.1h0m0.1 68.5h0m0.2 -2.2h0m0 -5.1h0m0.2 9.9h0m0.4 -7.4h0m0.8 -60.3h0m0.2 -23.5h0m0 -9.6h0m0.1 7.8h0m0 13.6h0m0.1 8.7h0m0 -26.7h0m0 23.6h0m0.1 -8.6h0m0 -12.8h0m0 10.4h0m0 -19.4h0m0.1 24.1h0m-0 6.5h0m0 -14.3h0m0 4.4h0m0 -31.5h0m0.1 38.9h0m-0 -14.3h0m0 19.8h0m0 -42.4h0m0 5.3h0m0.1 31.8h0m0.2 -11.9h0m0 20.5h0m0 -42.6h0m0.2 104.1h0m0.4 9.3h0m0 1.9h0m0.2 -5.4h0m0.1 -8.5h0m0.1 5.4h0m0.5 -81.1h0m0.2 12.6h0m0 -6.2h0m0.1 8.9h0m0 -21.6h0m0 28.6h0m0.1 -12.7h0m0 -14.1h0m0.1 24.4h0m-0 -17.5h0m0.3 81.7h0m0.4 5.5h0m-0 -3.1h0m0.1 0.4h0m0 -2.8h0m0 13.4h0m0.1 -0.8h0m0.3 -3.6h0m1.9 -69.4h0m0 2.7h0m0.1 10.6h0m0.1 -15.1h0m0.1 12.1h0m0.1 49h0m0.2 -52.3h0m0 44.8h0m0.1 4.2h0m0.1 4.3h0m1.9 -52.2h0m0 -17h0m0.3 -3.9h0m0 6.4h0m0 11.7h0m0.1 -18.9h0m0.1 24.9h0m0.1 -10.4h0m0.2 -3.3h0m0.1 35.5h0m0.1 -27.8h0m0.2 33.3h0m0 -54.5h0m0 2.3h0m0.1 8.7h0m0 40.6h0m0 -38.4h0m0.1 -13.4h0m0.2 18.9h0m0.1 -10h0m0.1 7.7h0m0 -10.6h0m1.2 4.7h0m0 28.7h0m0.1 -25.7h0m0.1 28h0m0.1 2.1h0m0.1 -26h0m2.3 44h0m0.2 -40.4h0m0 34h0m0.2 6.5h0m0.2 -41.3h0m0 38.8h0m0.3 -34.9h0m0.2 3.2h0m1.2 5.4h0m0.2 -4.5h0m0.1 -0h0m0.4 40.6h0m0.4 3.1h0m0.1 -6.1h0m0.6 -38.7h0m0.4 -7.5h0m0 13.9h0m0.1 -10.8h0m0 -8.7h0m0.1 23.9h0m0 -8.1h0m0.2 -12.7h0m0.1 -3.3h0m1.1 16.8h0m0.2 3.6h0m0 7h0m0.2 32.1h0m0.1 -53.3h0m0.1 17.9h0m-0 -14.7h0m0.2 52.2h0m0.2 -54.9h0m-0 6.8h0m0.1 41.7h0m1.7 -20.8h0m0.5 -9h0m0 1.5h0m0.1 10.2h0m0.2 -6.8h0m0.1 31.6h0m0.1 -2.2h0m0.1 4.4h0m0.3 -2.5h0m0.3 2.6h0m0.1 1.9h0m1 -26.8h0m0.1 -11.1h0m0.2 3.4h0m0.1 -5.7h0m0.2 10.1h0m0.2 26.1h0m0.3 -3h0m1.4 -29.9h0m0.3 -1.5h0m0.1 5.6h0m0.1 3.9h0m1.2 13.7h0m0.2 -2.4h0m0.9 -47.3h0m0.1 5.7h0m0.4 -3.7h0m0.7 42h0m0.1 -3.5h0m0.3 -5.9h0m0.1 11.7h0m0.2 -8.6h0m0.6 -56.8h0m0.1 -3.7h0m0.2 -7.6h0m-0 15.7h0m0.1 -35.1h0m0 33.9h0m0.1 -21.3h0m-0 18h0m-0 -16h0m0.1 -7h0m-0 15.4h0m0 15.7h0m0.1 -13.5h0m-0 -22.2h0m0 25.1h0m0 -5.4h0m0 -23.5h0m0 39.7h0m0.2 -33.7h0m0.1 15.2h0m0 -2.3h0m0.1 23.5h0m0 -5.2h0m0 -26.4h0m0.6 77.3h0m0.3 4.8h0m0 -0.4h0m1.1 -55.5h0m0.2 16.1h0m0 -5.9h0m0.1 -14.3h0m0.2 -4.4h0m0.1 0.5h0m0.2 15.8h0m0 -3.3h0m0.2 8.2h0m0.4 49.8h0m0.2 2.6h0m0.3 -9h0m0.2 2.3h0m1 -60.6h0m0.1 8.7h0m0.1 -3.3h0m0 6.3h0m0 3h0m0.1 -11.5h0m0.1 -22.8h0m0 -1.9h0m0 10.8h0m0.1 -3.2h0m0 7.1h0m0.3 -10.5h0m0 13.8h0m0.7 64.6h0m0.1 -3.5h0m0.1 11.6h0m0.3 -5.3h0m0 3.2h0m0.7 3.1h0m0.1 -3h0m0.1 -5.4h0m0.1 3.1h0m0.1 6.2h0m-0 -11.5h0m0.3 -2h0m0 -82.9h0m0.1 5.2h0m-0 13.6h0m0 12h0m0.1 -7.7h0m0 -26.2h0m0 -6.3h0m0.1 1.6h0m0 23.3h0m0.1 -12.9h0m0.1 10h0m0.1 21.7h0m0 -25.2h0m0.1 18.3h0m0.1 -33.3h0m0.3 91.8h0m0.3 0.9h0m0.4 -4.5h0m1 -53.8h0m0.2 -4.1h0m0.1 -4.3h0m0 1.8h0m1.1 56.8h0m0.4 6.5h0m0.2 -91.2h0m-0 -12.4h0m0 4.5h0m0.1 4.2h0m0.1 91.5h0m0.1 -121.7h0m0 17.3h0m0.1 -8.2h0m0.1 -6.9h0m0 2.7h0m0.1 31.6h0m0.2 -23.2h0m0.8 103.2h0m0.5 2.4h0m0.8 -95.1h0m0.1 -33.4h0m-0 9.6h0m-0 -28.2h0m0.1 35.4h0m0 -39h0m0 5.9h0m0 28.9h0m0.1 23.7h0m0.1 -6.4h0m0 -4.3h0m0.1 -49.3h0m0 -0.2h0m0.1 10.2h0m-0 38.7h0m-0 5.7h0m0 -22.8h0m0 -15.8h0m0 5.7h0m0.1 13.2h0m-0 28.1h0m-0 -47h0m0 29.3h0m0.1 17.7h0m-0 -35.7h0m0 12.4h0m0 -27.2h0m0 7.1h0m0.1 23h0m-0 3.4h0m-0 -48.3h0m0 31.4h0m0 -34.5h0m0 16.9h0m0 14.9h0m0.1 -1.3h0m0 35.1h0m0.1 -57.9h0m0.1 2.1h0m0 53.7h0m0 -39.5h0m0 -10.7h0m0.1 29.6h0m-0 -8.1h0m-0 22.8h0m0 105.7h0m0.1 4.2h0m0.4 3.4h0m0.2 -10.7h0m0.1 -3.4h0m0.1 13.3h0m0.3 -120.1h0m0.2 -4.2h0m0.1 26.4h0m0 -10.5h0m0.1 3.4h0m0 -5.8h0m0 -17.7h0m0.1 32.8h0m-0 -5h0m0.1 -16.6h0m0 2.4h0m0.2 23.8h0m0.1 -35.5h0m1.1 129.2h0m0.4 -8.4h0m0.1 9.4h0m0 -13.7h0m0.2 -89.9h0m0.1 98.8h0m0 -96.2h0m0.1 28.2h0m0.2 -32.4h0m0 21.6h0m0 2.2h0m0.1 -10.3h0m-0 3.6h0m0.1 11.2h0m0.1 -21.5h0m0.2 4h0m1.1 82h0m0 12.1h0m0.2 -4h0m0.1 -78.1h0m0.1 84.7h0m0.1 -88.2h0m0.1 11.8h0m0.1 -26.9h0m0 7.5h0m0.1 15.5h0m0 69.5h0m0.1 -87.3h0m0 24.6h0m0.1 -28.6h0m0.1 10.6h0m0.3 11.2h0m0.1 -2.6h0m0.1 11.3h0m-0 -22.9h0m0.1 -25.4h0m-0 3.1h0m-0 19.9h0m0.1 22.6h0m-0 -38.1h0m0 -14.9h0m0 5.7h0m0.1 13.9h0m-0 -6.9h0m-0 26.8h0m0 -4.2h0m0 -10h0m0 -2.3h0m0.1 19.2h0m0 78.9h0m0.1 -83.6h0m0 -9.9h0m0 22.9h0m0.1 -33.5h0m0.3 113.1h0m0.2 -13.1h0m0.2 9.4h0m0.1 -2.9h0m0.2 -103.3h0m0.1 -9.8h0m0.1 24.6h0m-0 20.7h0m0 -2.8h0m0.2 -36.9h0m-0 22h0m0.1 -29.5h0m-0 18.8h0m-0 23.1h0m0.1 -9h0m0 2.4h0m0.1 2.9h0m0 -33.1h0m0.1 17.2h0m0.1 -6.9h0m0.6 99.3h0m0.2 -3.8h0m0.1 8.9h0m0.2 -103.4h0m0 18.6h0m0.1 -22.3h0m0.1 105.8h0m0 -67.4h0m0 -10.3h0m0.1 -9.7h0m0.1 -3.8h0m0.1 -4h0m-0 21.1h0m0 -33.9h0m0.1 8.4h0m0.1 19.3h0m0.1 10h0m0 5.5h0m1.2 67.8h0m0.2 -2.4h0m0 6.1h0m0.2 -76.8h0m-0 64h0m0.1 -60.7h0m0.2 63.4h0m0 -59h0m0.1 -11.9h0m0.4 1.4h0m0.8 80.3h0m0.1 1.7h0m0 -14.3h0m0 -0h0m0.1 2.4h0m0 3.6h0m0.1 -0.4h0m-0 4.6h0m0.2 -2.2h0m-0 -5.8h0m0.1 6.1h0m0.5 -73h0m0 -7.2h0m0 -2.9h0m0.1 12.8h0m0.1 -6h0m0 9.2h0m0 -18.8h0m1.3 76.7h0m0 9.6h0m0.2 -6h0m0.1 7.7h0m0.4 -5.4h0m1 -72.8h0m0.2 -32.8h0m0 37.3h0m0 -19h0m0.2 -4.4h0m0 -21.7h0m0 10.1h0m0 -14h0m0 21.7h0m0.1 18.9h0m0 -39.7h0m0.1 17.2h0m0.3 14.6h0m0 4.5h0m0 -29.7h0m0.6 100.2h0m0.2 2.3h0m1.1 -86.2h0m0 -37.5h0m0.1 5.4h0m-0 -16.9h0m0.1 44.5h0m-0 -4.4h0m0 -35.3h0m0.1 -3.6h0m0.2 6h0m-0 51.5h0m-0 -30.6h0m-0 -7.2h0m0 34.7h0m0.1 -23.6h0m0.1 20.7h0m-0 -17.2h0m0 -10.5h0m0 -22.5h0m0.1 12h0m0.4 120.2h0m0.3 3.7h0m0 3.6h0m0 3.7h0m0.1 -14.1h0m1.2 -80.8h0m0 -47.1h0m0.1 15.8h0m0.2 20.3h0m0 -24.2h0m0 -18.8h0m0 57.6h0m0.1 -48.4h0m0.1 -13h0m0 29.5h0m0 -21.9h0m0.1 27.2h0m-0 15.7h0m-0 3.9h0m-0 -22.3h0m0 8.8h0m0 -21.9h0m0.1 -18.5h0m0 43.3h0m0.1 113h0m0 -140.3h0m0.1 20.7h0m0.2 119.9h0m0.1 -6.5h0m0.1 -8.6h0m0 11.1h0m0.3 -6.9h0m1.7 8.9h0m0.1 -122.6h0m0.1 119h0m0.1 -106.3h0m0.1 110.2h0m0.1 -7.2h0m0 -92.8h0m0 -23.2h0m0.2 26.7h0m0.1 86.2h0m0 -97.7h0m0.2 3.6h0m-0 -10h0m0 -4.1h0m1.7 120.4h0m0.1 -0.3h0m-0 -7.7h0m0 2.8h0m0.1 11h0m0 -2.9h0m0.3 -6.7h0m0.1 -4.2h0m-0 5.7h0m0.3 -105.4h0m0.2 7.6h0m-0 -3.7h0m0.1 -9.8h0m0.4 1.8h0m0.3 -0.9h0m0 -49h0m0.1 22h0m0 -2.7h0m0.1 35.1h0m0 5.8h0m0 -55.1h0m0 11.8h0m0.1 25.7h0m0 -2.4h0m0 -37.2h0m0.1 -10.7h0m0 22.3h0m0.1 -20.4h0m-0 3h0m-0 37.2h0m0.1 11.5h0m-0 11.2h0m-0 -6h0m0 -13.8h0m0 25.6h0m0 -32h0m0.1 -19.4h0m-0 16h0m0 -2.2h0m0.1 -17.4h0m0.3 149.4h0m0.1 4.4h0m0.1 1h0m0.2 -8.5h0m0.3 -3.4h0m0.6 -85.7h0m0 -4.6h0m0.2 -4.6h0m0.4 15.7h0m0.1 -3h0m0 -10.8h0m0.2 103h0m0.2 -9.1h0m-0 3.8h0m0.2 -7.7h0m0.1 14h0m0.3 -3.3h0m0.7 -142.9h0m0 37.8h0m0.1 13.6h0m0.1 -5.7h0m0.1 -50h0m-0 26.7h0m0 5.2h0m0 -2.7h0m0.1 5.9h0m-0 4.3h0m-0 12.9h0m0.1 -58.3h0m0.2 18h0m0.1 -4.5h0m0 8.6h0m0.1 30.1h0m-0 -50.7h0m0 27.8h0m0.1 -3.5h0m1 113.9h0m0.3 3h0m0.9 -134h0m0 4.2h0m0.1 -15.6h0m0.1 19.7h0m-0 -32.7h0m0.2 41.9h0m-0 -35h0m0 44.4h0m0 -41.2h0m0 -11.5h0m0.1 41h0m-0 -23.7h0m0.1 4.5h0m0.1 35h0m0 -18.3h0m0 9.7h0m0.1 13.2h0m0.1 -15.8h0m0 -41.8h0m0.2 153.5h0m0.1 11.7h0m0.1 -7.3h0m0.1 2.5h0m0.1 3.3h0m0.1 -13.1h0m0 -132.9h0m0.1 24.6h0m0 -51.7h0m0 38.3h0m0.1 -24.2h0m-0 18.6h0m0 -12h0m0 19.7h0m0.1 -30.7h0m0 34.3h0m0 4.8h0m0.1 -36.9h0m0 -17.1h0m0 59.4h0m0 -36.6h0m0.1 13h0m-0 -23.9h0m0.1 -9.2h0m-0 59.8h0m-0 -33.6h0m0 39.4h0m0 -59.8h0m0 31.5h0m0.1 31.1h0m0.1 -19.4h0m0 13.5h0m0.3 -34h0m0.1 -25.3h0m0 3.8h0m0 46.3h0m0.1 -5.9h0m-0 10h0m0 -33.2h0m0.1 -24h0m-0 68.2h0m0 -37.2h0m0.1 9.3h0m0 -5.5h0m0.1 2.6h0m-0 -38.4h0m0 17h0m0 -6.7h0m0.1 51.2h0m-0 -9.8h0m-0 -31.3h0m0 25.2h0m0.2 19.4h0m0 -50.9h0m0.7 154.5h0m0.5 -6.6h0m0 10.2h0m0 4h0m0.1 -1.2h0m0.1 -113.9h0m0.2 103.6h0m0 -79.2h0m0.1 -13.7h0m-0 7.3h0m0.1 -26.8h0m-0 41h0m0.1 -4.3h0m0 -31.6h0m0.1 -4.5h0m0 22.8h0m0 -8h0m0.2 14.9h0m0.1 -18.4h0m0.5 -29.2h0m1 26.6h0m0.1 4.2h0m0 35.7h0m0.1 -31.5h0m0.1 -9.6h0m0.1 21.7h0m0 -9.2h0m0.1 14.7h0m0 -2.8h0m0 -6h0m0 19.9h0m0 -7.3h0m0.1 -15.7h0m0.1 18.5h0m0.1 80h0m0 -1.2h0m0.4 -3.5h0m0.1 -3.8h0m0.6 -55.3h0m0.1 -17.8h0m0.1 -9.3h0m-0 -7.3h0m0 -6.9h0m0.1 10.4h0m0.1 28h0m0.1 -4h0m0 -38.1h0m0 20.3h0m0.1 10.4h0m0.2 3.4h0m0 -27.8h0m0.2 -5.6h0m-0 23.2h0m0.2 82.8h0m0.1 -5.2h0m0.3 4.4h0m0.6 -2.4h0m-0 2.4h0m0.2 11.5h0m0.1 -8.2h0m-0 2.5h0m0 3.5h0m0.7 -75.1h0m0 11.6h0m0.3 -13.6h0m0.2 6.4h0m0 2.8h0m0 59.8h0m0.1 2.3h0m0.2 7.6h0m0 -13.5h0m0.2 14.3h0m0.3 -4.3h0m1.6 -6.6h0m0.3 -2.9h0m0.2 7.1h0m0.4 -60.8h0m0.1 -1.9h0m0.3 10.2h0m-0 -3.8h0m1.7 55.7h0m0.2 -6.5h0m0 4.2h0m0.1 3.3h0m0.2 -10.2h0m0.5 -65h0m0.1 -20.5h0m-0 14h0m0.2 20.9h0m0.1 -23.6h0m0 -4.2h0m0.1 11.4h0m-0 10.6h0m0 -12.4h0m0 -20.7h0m0.1 1.1h0m0.1 19.3h0m-0 -19.6h0m0.1 40.9h0m-0 -35.4h0m0 26.1h0m0 -4.1h0m0 -20.9h0m0 27.5h0m0 -35.2h0m0.1 42h0m-0 -2.1h0m-0 -3h0m-0 -21.4h0m-0 9.9h0m-0 -7.9h0m-0 -13.5h0m0 6h0m0.1 20.5h0m0.2 -3h0m0 -15.1h0m1.1 19h0m0.1 6.3h0m0.1 64.6h0m0.1 -67.8h0m0.1 67.8h0m0.1 -4h0m0 -74h0m0.1 2.8h0m-0 66.9h0m0 -69.1h0m0 19.2h0m0.2 -3.2h0m1.6 -14.8h0m0.3 12.7h0m-0 -21.5h0m0.1 26.9h0m0.1 -29.6h0m0 35.6h0m0 -28.3h0m0 19.6h0m0.1 -5.4h0m0.2 -3.5h0m-0 -2.9h0m0 23.1h0m0.1 -4.9h0m0.3 50.8h0m0 12.3h0m0.1 -6.6h0m-0 3.9h0m0.3 -6.7h0m1.4 15.4h0m0.5 -15.4h0m0.1 -51.5h0m0.1 -10.6h0m-0 7.5h0m0.1 -23.2h0m0.2 80.7h0m0 -81.6h0m0.1 9.9h0m0.1 -4.6h0m0.2 15.7h0m0.1 8.5h0m-0 -17.2h0m0 -27.2h0m0 102.8h0m0.1 -88.8h0m0.1 -10.6h0m-0 36.5h0m0.1 2.5h0m-0 -33.2h0m-0 22.8h0m-0 5.7h0m0 55.8h0m0.1 -94.4h0m-0 108.1h0m0.1 -95.2h0m0 22.9h0m0 -12.6h0m0.1 3.3h0m0.1 -19.4h0m0 98.6h0m0 -85.5h0m0 77.2h0m0 -67.5h0m0.1 -12.9h0m-0 83.8h0m0.3 -95.2h0m0.1 10.5h0m0.1 -18.6h0m0 15.7h0m0 30.1h0m0 -17.3h0m0.1 -6.2h0m0.1 9.8h0m0.1 -30.1h0m0.2 40.2h0m0 -36.8h0m0.1 33h0m0 -13.9h0m0.1 -22h0m0.1 9.7h0m0 22.9h0m0.6 65.5h0m0.1 6.7h0m0.1 -2.4h0m0.1 2.8h0m0 -10.2h0m0.7 -45.7h0m0 -9.4h0m0.1 -19.3h0m0 24.3h0m0 -17.5h0m0.1 -11.3h0m0 13.6h0m0 2.7h0m0.2 -20.2h0m0 10.9h0m0.3 -9.8h0m0.1 29.2h0m0.1 -6.8h0m1.3 62.7h0m0.2 -2.9h0m0.5 -78.5h0m0.1 32.5h0m0 -3.9h0m0.1 -14.8h0m0.1 26h0m0.2 -28.3h0m0.2 10.7h0m0.2 13.6h0m0.1 -18h0m0 7.3h0m1.5 54.5h0m0.1 3.7h0m-0 -57.7h0m0 11.8h0m0 -19.3h0m0.2 -2.7h0m-0 67.7h0m-0 -41.6h0m0 -12h0m0.2 -7.1h0m0.2 11.4h0m1.9 46h0m0.2 -43.6h0m0 7.1h0m0.1 -16.9h0m0.1 2.5h0m0 56.7h0m0 -46.1h0m0 43.8h0m0 -50.9h0m0.1 -12.2h0m-0 -7.1h0m0.2 10.6h0m0.1 -6.8h0m1.8 67.8h0m0.3 -2.6h0m0.8 -35.1h0m0 -4.3h0m0.2 -4.9h0m0.2 0.6h0m0.1 11h0m1 40.8h0m0 -6.4h0m0.2 3.1h0m0.1 4.2h0m0.2 -5.1h0m0.1 -2.2h0m1.2 -41.8h0m0.2 -2.9h0m0.1 9.7h0m0.1 -11.8h0m0.4 8.4h0m-0 5.9h0m1 37.8h0m-0 -3.8h0m0.1 -2.6h0m0.1 -71.5h0m0.1 -4.3h0m0.1 84.7h0m0.1 -52h0m0 7.5h0m0.1 -17.3h0m0 -13h0m0 15.4h0m0.1 52.6h0m-0 -65.5h0m0 23.1h0m0.1 -24h0m-0 72.7h0m-0 -64.9h0m-0 56.2h0m0 -58.3h0m0 62.8h0m0 -65.2h0m0.1 23.3h0m0.1 -10.4h0m0 -12.7h0m0.1 15.6h0m0 52.5h0m0.1 -93.4h0m0 44.4h0m0.1 2.7h0m0 -42.6h0m0.1 23.8h0m0 -6.4h0m0 -0.6h0m0.2 20h0m0.1 -5.7h0m0.1 -3.2h0m0.1 6.5h0m-0 11.6h0m0.9 41h0m0.1 -0.9h0m0.2 -3.4h0m0.2 -3.3h0m1 -56.3h0m0 19.2h0m0.1 2.2h0m0 -11.4h0m0 -13.6h0m0.1 9.6h0m0.2 -2.3h0m-0 12h0m0.1 -2.7h0m0.1 -15.8h0m0.4 62h0m0.1 -6.2h0m0.1 6.7h0m0.2 -3.9h0m0.5 -46.6h0m0.1 10.7h0m0 2.8h0m0.2 -7.8h0m0.1 -9.5h0m0.3 0.5h0m0.2 6.1h0m-0 5.1h0m1.5 40.9h0m0.3 -3.8h0m0.2 -35.6h0m0.2 3.7h0m0.3 -16.8h0m0 19h0m0 -8.2h0m0.2 -4.4h0m0.3 -3.5h0m1 52.9h0m0.5 0.7h0m-0 -3.1h0m0.2 -3.2h0m0.6 -41.9h0m0.1 2.6h0m-0 10.5h0m0.1 -17.2h0m0 0.6h0m0.1 13.6h0m0.1 -3.6h0m0.8 36.8h0m0 5.6h0m0.4 -1.2h0m0.9 -32h0m0.3 -18.4h0m0.1 12.7h0m0 -7.9h0m0.3 4.4h0m-0 6.2h0m0 -14h0m0.6 50h0m0.4 2h0m0 -6.2h0m0.9 1.4h0m0.4 -39.8h0m-0 45.3h0m0 -44.8h0m0 3.2h0m0 9.9h0m0.2 29.3h0m0 -34.3h0m0.1 -2.4h0m0.1 4.9h0m0.7 32h0m0.1 -3.4h0m0.4 4.7h0m1.8 -34.5h0m0.1 -9.8h0m0.1 16.7h0m0.1 -9.3h0m0.1 -7.2h0m0.1 13.2h0m0 -8.9h0m0.2 38.4h0m0.4 -0.7h0m0 -2.9h0m1.4 -24.9h0m0.2 -8.5h0m0.1 12.5h0m0 -10.2h0m0.1 -5.2h0m0.1 -0.9h0m0.4 9.7h0m0.4 27.8h0m0.1 3h0m0.2 -0.8h0m0.8 -1.9h0m0 3.5h0m0.1 -40.4h0m0.1 38.9h0m-0 -23.6h0m0.1 -17h0m0.1 13.1h0m0.1 -3h0m0.2 -4.3h0m0.9 29.8h0m0.3 5.9h0m0.2 -1.9h0m0.7 -30.4h0m0 -6.3h0m0 -7.7h0m0.1 3.7h0m0.1 -10.4h0m0.2 2.9h0m0.1 14.3h0m1.6 29.4h0m0.1 -42.5h0m0.1 -10.3h0m0.1 2.8h0m0 50.3h0m0.1 -56.2h0m-0 1.8h0m0 -18.7h0m0 14.2h0m0 -8.8h0m0.1 24.9h0m0 -18.6h0m0 -9.3h0m0.1 25.6h0m0 41.8h0m0 -36.4h0m0.1 -25.9h0m-0 1h0m0 16.6h0m0.1 -2.6h0m-0 -13.6h0m0 5.7h0m0.1 12.7h0m0.1 6h0m0 -22h0m1.9 24.4h0m0 -17.3h0m0.1 14.3h0m0.1 39.1h0m0.2 -49.9h0m0 -5.7h0m0.1 61.8h0m0.1 -48.2h0m-0 47.3h0m-0 -51.2h0m0 12.3h0m0 34.6h0m0.1 7h0m0.2 -3.8h0m0.1 -0.6h0m1.7 -46.7h0m0.1 -6.1h0m0 8.8h0m0 8.9h0m0.2 -23.5h0m0 1.6h0m0.1 7.6h0m0.1 45.5h0m0.3 -35.6h0m0.2 41.4h0m0.1 -2h0m0.9 -53h0m0.2 15h0m0.1 -12.5h0m0 6.6h0m0 3.5h0m0.1 5.6h0m0 -26.4h0m0.2 5h0m0.1 9.2h0m0.1 -11.4h0m0.5 10.8h0m0.3 46.4h0m-0 -36.8h0m0 40h0m0.1 -5.8h0m0 -37h0m0 -12.5h0m0 1.6h0m0.2 55h0m-0 -47.7h0m0.3 9.6h0m2.4 6.7h0m0.2 31.9h0m0.1 -42.9h0m-0 4.4h0m0.2 33.5h0m0 3.4h0m0.2 -33.4h0m1.6 4h0m0.1 -10.6h0m-0 6.9h0m0.4 -2.6h0m-0 -5h0m0 18.1h0m0.4 22.7h0m0 -25.5h0m0.1 29.5h0m-0 0.9h0m2.3 -31.2h0m0.1 5.8h0m0.1 -2.7h0m0.2 -7.4h0m-0 12.5h0m0.1 -12.3h0m0.2 15h0m0.2 22.6h0m0.2 0.4h0m0 -3.3h0m1.7 1.6h0m0.2 -21.1h0m0.1 -4.6h0m0.1 27.1h0m0.2 -31.1h0m0.1 1.7h0m0.3 10.6h0m2.1 2.9h0m0.3 -9.6h0m0.2 2.3h0m0.1 4h0m1.8 -0.5h0m0.2 3.8h0m0.1 -6.2h0m0.2 -0.9h0m0.2 24.3h0m0.2 -2.3h0m1.4 -26.3h0m0.1 8.6h0m0.1 -2.3h0m0.1 -8.3h0m0.4 5.8h0m0.6 22.6h0m0.3 -3.3h0m1.1 -34.3h0m0.3 10.7h0m-0 -3.4h0m0 7.5h0m0.1 -14.3h0m0.1 2.8h0m0.9 33.9h0m0.3 -0.6h0m0.1 -3.8h0m1.1 -44.2h0m-0 10.8h0m0.2 4.8h0m0.1 2.9h0m0.1 -16h0m-0 4.4h0m0 6.4h0m1.4 33.8h0m0.2 -4.9h0m0.2 2.7h0m0.7 -51.7h0m0.1 2.4h0m-0 10.7h0m0 -2.7h0m0 8.1h0m0.2 -18.5h0m-0 -0.1h0m-0 18.8h0m0 -3.2h0m0.1 6.2h0m0.1 -0h0m0.1 -14.9h0m0 1.1h0m0.1 -2.4h0m-0 8.8h0m0 -3.4h0m0 -8.3h0m0.9 52.8h0m0.3 -2.5h0m0.1 -3.1h0m0.3 -26.8h0m0.1 -3.3h0m0.3 -1.9h0m0.9 32.2h0m0.2 2.7h0m0 0.8h0m1 -47.3h0m0.3 12.8h0m0.1 -13.5h0m0 3.3h0m0.2 17h0m-0 -9.5h0m0.1 -4h0m0.1 9.8h0m1 28.5h0m0.1 2.3h0m0.5 -26.6h0m-0 -5.4h0m0.1 -2.2h0m0.1 4.4h0m1.6 29.3h0m0.1 4.5h0m0.1 -2.2h0m0.2 -35.7h0m0 33.4h0m0.1 -28.8h0m0.2 3.4h0m0.1 -11.4h0m0.1 -6.8h0m-0 48h0m0.2 -45.1h0m0.2 44.3h0m2.1 -38.3h0m0.2 3.8h0m0.6 31.2h0m0.1 -3.4h0m0.2 -55.3h0m2.1 9.1h0m0 11.8h0m0.2 4.5h0m0 -23.6h0m0.1 15.7h0m0.1 -16.3h0m0.2 12h0m0.1 41.2h0m0.2 -48.4h0m0.2 55.4h0m0.4 -3.5h0m0.5 -48.4h0m0.2 4.5h0m0.1 3.9h0m0 -18.2h0m0 25.4h0m0.1 -21.7h0m0.1 -2.5h0m0.1 23.9h0m-0 -10.6h0m-0 -7.5h0m0 2.8h0m0 -2.3h0m0.1 4.9h0m-0 -10.5h0m0 20.8h0m0.1 -17.5h0m0.1 -3.3h0m-0 19.7h0m0.1 -2h0m0 -2.4h0m1.3 12.8h0m0.3 -4.2h0m0 37.2h0m0 -55.1h0m0.1 53.4h0m0.1 -42.8h0m-0 -10.5h0m-0 14.8h0m0.1 -11.8h0m0 4.3h0m0.2 41.5h0m1.3 1.8h0m0.3 -31.9h0m0.1 36.5h0m-0 -1.8h0m0 -30.4h0m0.2 27.6h0m0.2 -24.8h0m0.2 27.3h0m2.3 -25.3h0m0.2 -7.7h0m0.2 -4.3h0m0 -1.9h0m0 2.4h0m0.1 -6.5h0m-0 14.2h0m-0 30.5h0m0 -36.6h0m0 -5.4h0m0.1 -1.8h0m0 14h0m0.1 -14.4h0m0.1 17.5h0m0 22.6h0m0 -29.1h0m1.5 -8.2h0m0 16.6h0m0.2 -17h0m0.2 7.8h0m0.2 5.2h0m0 -9.1h0m0.1 6.2h0m0.5 30.1h0m0.1 4h0m0.4 0.1h0m1 0.9h0m0.3 -3.9h0m0.1 2.5h0m0 -22.6h0m0.1 -2.6h0m0.1 -5.7h0m0.5 32.4h0m0 -30.1h0m0.3 30.1h0m0.2 -4h0m1.8 -0.5h0m0.2 -28.7h0m0.1 6.6h0m0.1 -3h0m0 28h0m2 -4.7h0m0 -31.3h0m0.2 2.9h0m0.2 5.4h0m0 -18.9h0m0 44.8h0m0.1 -29.2h0m0.1 -5.1h0m0.1 -3.4h0m-0 -6.3h0m0 2.7h0m0.2 10h0m0.1 -13.5h0m0.1 16h0m0.1 -9.2h0m0.1 -3.5h0m0.1 15.6h0m1.9 27.1h0m-0 -2.6h0m0.2 -24.3h0m0.2 -2.8h0m0.3 6.6h0m0.8 24.3h0m0 -0.7h0m0.1 -2.5h0m1 2.6h0m0.2 -30.6h0m0.1 28h0m0.3 -30.5h0m-0 6.8h0m-0 3.2h0m2.5 23h0m0.1 -25.4h0m0.1 -2.7h0m0 24.5h0m1.4 -37.3h0m0.1 14.5h0m0.1 -2.8h0m0.2 -6.6h0m0 -8h0m0 0.7h0m0.2 10.9h0m0.1 -6.6h0m0.2 5.5h0m0.2 2.5h0m0 -5.8h0m0 32h0m0.1 -36.3h0m0.1 -1.4h0m0.2 41h0m0.2 -25.1h0m1.6 25.1h0m0 -21.9h0m0.3 -8.9h0m0 1.6h0m0 29.6h0m0.2 -3.4h0m0 -22.1h0m1.5 5.5h0m0.2 -4.4h0m0.2 24.8h0m0 0.3h0m0.1 -29.1h0m0.1 25.9h0m0.1 3.3h0m0.3 -3.6h0m0.1 3.2h0m1.6 -28.8h0m0.1 3.1h0m0.2 23.3h0m0.1 -0.6h0m0.1 -26.4h0m0.2 8.1h0m0.2 2.5h0m2.5 17.9h0m0.1 -19.5h0m0.1 -3.7h0m0 -2.4h0m0.2 25.6h0m0.1 -2.6h0m1.1 -1.2h0m0.4 -22.1h0m0.1 23.6h0m0.1 -25.8h0m0 4.8h0m0.1 -10.3h0m0.1 2.8h0m2.6 2.3h0m-0 22.8h0m0.1 3.3h0m0.1 -39.6h0m0.2 2.7h0m-0 2.9h0m0.2 4.1h0m1.5 -3h0m0.2 -8.3h0m0.1 11.4h0m0.1 -7.6h0m0.1 -8.4h0m0.1 0.7h0m0.1 17.7h0m0.1 -6.4h0m0 -10.4h0m0.2 -4.7h0m-0 9.4h0m0.1 -3.1h0m0 6.2h0m0 7.9h0m0 -2h0m0 29.5h0m0.3 -47.6h0m0 45.8h0m1.7 -23.6h0m0.1 -8.4h0m0.1 33.5h0m0.2 -1.6h0m0.1 -37.1h0m0.3 9.4h0m0.1 -8.1h0m2.1 12.8h0m0.2 -5.5h0m0.2 32.9h0m0 -35.3h0m0.1 5.2h0m0 -7.9h0m0.2 39h0m0.3 -24h0m0 20h0m2 -31.5h0m0.1 3.5h0m0.2 29.5h0m-0 -36.9h0m0.1 -0.8h0m0.1 39h0m0.1 -23.2h0m0.2 -3.2h0m1.4 26.3h0m0 -26.3h0m0.1 -8.2h0m0 4.2h0m0.2 0.3h0m0 32.6h0m0.1 -24.9h0m0.1 -17h0m-0 42.5h0m0 -28.2h0m0.1 25h0m-0 -37.1h0m0 0.8h0m0.1 -3.1h0m-0 43.6h0m0.1 -26.5h0m0.1 -5.3h0m0.1 -5.5h0m1.6 8.4h0m0.2 -11.1h0m0.1 -1h0m0.1 14.9h0m0.1 25.2h0m0 -2.7h0m0.2 2.9h0m0.1 -32.3h0m-0 -3.9h0m1.4 13.2h0m0.5 -7.3h0m0.4 27.3h0m0 -24.4h0m0.2 25.7h0m2 -20h0m0.1 -4.8h0m0.1 23.7h0m0.1 2.4h0m0 -23.8h0m0.1 23.8h0m-0 -35.3h0m0.1 6.8h0m0.2 -5.9h0m0 2.8h0m1.5 6.4h0m0.4 -5.8h0m0.2 9.5h0m0.3 -8.1h0m0.3 29.8h0m-0 -0.7h0m-0 -2.4h0m0.1 -0h0m0.3 3h0m0.4 -0.7h0m1.3 -26h0m0 -6.9h0m0.1 30h0m0.1 -34.2h0m0.3 38.1h0m0.1 -36.5h0m-0 12.7h0m0 -7.3h0m2.7 2.1h0m0.1 27.8h0m0.2 -24h0m0 21.5h0m0.1 -28.5h0m0.1 -7.2h0m-0 38.1h0m-0 -31.8h0m-0 -3.4h0m0.2 11.3h0m0 -5.9h0m0 -10.1h0m0 41h0m0.1 -3.5h0m-0 -24.3h0m0.1 -3.8h0m0.9 27.6h0m0.2 -31.2h0m0.3 32.7h0m0.2 -33.4h0m0.2 11.4h0m0.2 -4.2h0m0.1 -2.5h0m1.2 29.5h0m0.1 1.7h0m0.3 -26.6h0m0 22.4h0m0.1 -33.2h0m0.2 2.4h0m-0 -4.3h0m0.1 8.5h0m0.1 26.6h0m0.1 -19.3h0m0.1 23.2h0m1.8 -40.1h0m0.1 -2.7h0m0.2 11.6h0m0.1 -11.7h0m0.3 17.4h0m0.1 -2.5h0m0 0.1h0m0 -6.9h0m0 29.8h0m0.1 -32.3h0m0.1 -8.8h0m0 45.5h0m0 -36.5h0m0.1 -10.7h0m-0 48.1h0m-0 -2.9h0m0.1 -37.2h0m0.2 -3.5h0m-0 9.6h0m-0 3.5h0m0.1 25.2h0m0.2 5.6h0m0.3 -1.9h0m1.4 -37.5h0m-0 10.4h0m0.1 -6.7h0m0.3 3h0m0 -9.6h0m0.1 16.3h0m0.8 25.1h0m0.2 -3.4h0m0.1 3.7h0m0.4 -22.8h0m0.3 -4h0m0.2 -1.6h0m2.3 25h0m0.1 -30.1h0m0.1 3.3h0m0 29.1h0m0.1 -24.5h0m0.3 -17.7h0m0.2 2.8h0m0 2.5h0m1.5 -14.5h0m0 8.2h0m0 3h0m0.2 5.2h0m0.1 33.7h0m-0 -52.4h0m-0 56h0m0 -48.4h0m0.1 14.5h0m0 -17.5h0m0.1 46h0m0.1 -35h0m0 33.9h0m0 6h0m0.1 -6h0m0.6 -33.4h0m0 -3h0m0.1 9h0m0 -2.8h0m0.2 -8.1h0m1.7 43.5h0m0.2 -4.3h0m-0 2.8h0m0.6 0.9h0m0.3 1.9h0m0 -29.4h0m0.3 24.6h0m0.2 -27.6h0m0.6 30.3h0m0.1 -2.7h0m0.3 4h0m1.4 -35.4h0m0.4 8.2h0m0 -4.9h0m0 2.6h0m0 -12.3h0m0.1 -2.1h0m0.3 6.1h0m0.5 38.1h0m0.4 -4.5h0m0.4 -23.4h0m0.2 -11.1h0m0.1 -5.9h0m0.1 9.5h0m0 4.6h0m0.1 -2h0m0.1 -9.1h0m0.4 4.6h0m0.1 -2.3h0m0.1 8.6h0m0.1 3.1h0m0.2 -7.1h0m0.1 30.7h0m0.5 1.7h0m0.5 1.6h0m0.3 0.6h0m0 -3.7h0m0.3 -24.8h0m0.5 3.1h0m1.1 20.8h0m0.2 2.6h0m0.3 1.1h0m0.4 -30.3h0m0.3 2.9h0m0 -15.5h0m0.2 4.6h0m0 -3.8h0m0.2 8.2h0m0.2 -14h0m0.1 17.7h0m-0 28.2h0m0.1 -30.4h0m0 -6.2h0m0 3h0m0.1 30.7h0m0.1 -45.8h0m-0 51.6h0m-0 -41.6h0m0 -5.1h0m0.1 2.4h0m0.2 43.8h0m0 -50.9h0m0.1 51h0m0.2 -4.6h0m0.1 4.1h0m1 -39.1h0m0.2 8.3h0m0.2 2.5h0m0 -14.4h0m0.3 42.4h0m0.1 -34.8h0m0 35.4h0m0.3 -3.9h0m0.9 4.2h0m0.2 0.3h0m-0 -2.7h0m0.1 -36.4h0m0.1 -7.9h0m0.1 4.3h0m-0 -4.8h0m-0 42.4h0m0 -30.4h0m0.2 6.8h0m0.1 -2.4h0m0.4 28.4h0m0 3h0m0.1 -5.4h0m0.2 4.8h0m1.6 -28.7h0m0.1 -12.6h0m0.4 -0.1h0m0.2 6.6h0m0 -2.6h0m0.2 5h0m0.6 27.9h0m0 1.8h0m1.4 -39.5h0m0.1 8.1h0m-0 4.2h0m0 -6.7h0m0.1 -2.9h0m0.1 -8.3h0m0.1 8.3h0m0.2 6.3h0m-0 3.3h0m0.1 -15.4h0m0 7.4h0m1 33.2h0m0.3 2.7h0m-0 0.3h0m1.6 -32h0m0.2 6h0m0 -15.9h0m0.1 -1.2h0m0.1 44.9h0m0.2 -30.9h0m0.1 -5.6h0m0.1 35.2h0m-0 -39.3h0m0 35.5h0m0.1 3h0m0.2 -2.7h0m0.1 5h0m1.2 -40.6h0m0 2.4h0m0.2 8.4h0m-0 -14.3h0m0.3 10h0m-0 32.9h0m0 -2.8h0m0.2 -23h0m2.5 -0.1h0m-0 22.2h0m0.1 4.1h0m-0 -29.3h0m0 29.2h0m0.3 -35.8h0m0.3 2.1h0m1.5 6.5h0m0.1 -4.1h0m0.2 -0.6h0m0.4 26.8h0m0.3 3.8h0m0.1 1.5h0m0.4 -53h0m0.1 -2.4h0m0.1 12.9h0m0 37h0m0 -31.2h0m0.1 -20.4h0m0 57.8h0m0.1 -50.5h0m0.1 2.9h0m0 2.4h0m0 10.6h0m0.2 -5.3h0m-0 37.3h0m0.6 -32h0m0.2 -4h0m0.1 35.1h0m0 -42.7h0m0 40h0m0.1 -40.1h0m0.2 43.5h0m0.1 -39.5h0m1.4 42.3h0m0.1 -1.4h0m0.2 -2.9h0m0.4 3.6h0m0.1 0.4h0m0.4 -4h0m0.3 -28.3h0m0.1 5.3h0m0.1 -9.9h0m0 7.4h0m0.1 -16.2h0m0.2 3.1h0m0.2 3.3h0m0.5 38.8h0m0.2 0.9h0m0.2 -4.3h0m0.1 -24h0m0.2 -15.9h0m0.1 -2.2h0m-0 46.3h0m0 -41.7h0m0 36.5h0m0 2.2h0m0.1 2.7h0m0.1 -30.8h0m0.1 -15.1h0m-0 7.6h0m0 5.1h0m0.1 -2.6h0m0.3 -1.1h0m0.1 -2.1h0m0.4 6.6h0m0.1 4.5h0m0.8 25.8h0m0.4 -2.4h0m0.1 -25.7h0m0.3 3.4h0m0.2 -6.5h0m1.3 32.1h0m0 1.5h0m0.3 -3.9h0m0.1 -0h0m0.5 3.7h0m0.1 -0.1h0m0.3 -31.5h0m0.3 2.3h0m0.1 -4.4h0m1.8 -23.7h0m0.1 9.7h0m-0 12.4h0m0 -15.6h0m0.1 49.2h0m0.1 -35.7h0m0.1 31.7h0m-0 -52.8h0m0.1 18.2h0m0.1 37.6h0m0.1 -39.7h0m-0 -2.3h0m0 -9.4h0m0.4 8.7h0m0 -3.1h0m0.1 13.2h0m0.1 -4.1h0m0.2 -13h0m0 -6.4h0m0.3 15.9h0m0.2 -12.8h0m1.2 55.1h0m0.3 -4.5h0m0.2 5.5h0m0.4 -5.5h0m0.1 3.6h0m0.3 2.6h0m0.2 -47.5h0m-0 15.8h0m0.3 -7.2h0m-0 -13.7h0m0 17.2h0m0.1 -16.5h0m0.1 6.7h0m0.1 3.8h0m0.7 38.2h0m0.2 -2.9h0m0.1 2.9h0m1.7 -29.1h0m0.4 3h0m-0 -4.5h0m0.9 27.1h0m0.4 1.8h0m2 -29.8h0m0.1 -4.6h0m0.1 -4.4h0m0 12.5h0m0.1 -12.5h0m0.9 40.5h0m0.1 0.5h0m0.1 -4.8h0m1.3 -30.8h0m0.2 -15.3h0m0.1 6.5h0m0.1 4.3h0m-0 -13.7h0m0 6.6h0m0.3 41.8h0m0 -32.5h0m0.1 37h0m0 -31.1h0m0.3 31.8h0m1.1 -38.5h0m0.2 -3.8h0m0.1 7.9h0m-0 -22.1h0m0.1 11.3h0m0.1 -4.2h0m0.1 -6.3h0m0.1 3.7h0m0.5 48.8h0m0.3 -45h0m-0 10.6h0m0.1 31.7h0m-0 -36.8h0m-0 -16.1h0m0.1 58.1h0m-0 -39.7h0m0 -10.2h0m0.1 43.8h0m0 -46.4h0m0.1 -7.9h0m-0 61.1h0m0.1 -55.6h0m0.1 9.4h0m0 44.7h0m0.1 -2.6h0m0.8 -53h0m0.1 16.2h0m0.1 -21.1h0m0 11.7h0m0.1 -9.1h0m-0 21.8h0m0.2 -16h0m-0 9h0m0.1 -2.7h0m1 45.1h0m0.1 0.5h0m0.2 -4.6h0m1.3 -43.5h0m0.1 9.4h0m0.2 -6.2h0m0.2 -13.3h0m0.1 6h0m0 -3.7h0m0.3 13.3h0m0 8.3h0m0.6 32.3h0m0.3 1.4h0m0.5 -4h0m0.3 -30.1h0m0 -13.7h0m0 7.7h0m0.1 -13.3h0m0.2 9.8h0m0.1 -14.1h0m-0 7.4h0m0.3 13.4h0m0 33.2h0m0 -53.3h0m0.3 59.3h0m0.3 -3.3h0m0.2 0.3h0m0.1 1.9h0m0.5 -4.9h0m0 -38.5h0m0.2 5.7h0m0.2 -6.7h0m0.1 3.2h0m0.3 6.3h0m1.2 32.7h0m0.2 2.3h0m0 0.5h0m0.4 -5.5h0m0.2 -32.8h0m0.2 -4h0m0 -11.8h0m0 -2.4h0m0.2 -0.1h0m0.3 10h0m0 10.9h0m0.1 -13.9h0m0.2 43.6h0m0.5 6.8h0m0.3 -2.4h0m0.6 -34.8h0m0.1 -16.1h0m0.1 13.2h0m0 -19.2h0m0 16.8h0m0.1 -3.3h0m0 -26.1h0m0 10.5h0m0 13.5h0m0.1 -9.3h0m0.1 13.9h0m-0 -13.2h0m-0 5.4h0m0 -4.4h0m0 18.3h0m0.1 -16.1h0m0 13h0m0 -10h0m0.1 5.5h0m0 -2.8h0m1.1 40.9h0m0.1 3.2h0m0.9 -33.3h0m0.2 -10h0m-0 -14.2h0m0.3 -0.5h0m0.2 3h0m-0 15.4h0m0 3.2h0m0.1 -14.5h0m0 4h0m0.7 47h0m0.5 1.8h0m0.2 -4h0m1.2 -37.8h0m0.2 -2.6h0m0.2 -11.1h0m-0 58h0m0.1 -53.7h0m0 54.1h0m0 -6.6h0m0.1 -31.1h0m0.1 -19.7h0m0 6.6h0m0 50.5h0m0.1 -41.1h0m0.1 41.4h0m0.2 -6.6h0m-0 3.3h0m0.2 -0.7h0m0.8 -36.7h0m0 2.8h0m0.4 -5.6h0m1 36h0m0.3 3.1h0m0 0.8h0m1.5 -37.2h0m0.2 -24.3h0m0 -0.5h0m0.1 4.3h0m0.1 7.3h0m0.1 3.2h0m0.1 3.9h0m0 -11.3h0m0 56.4h0m0.1 -6.9h0m-0 -35.2h0m0.1 39.4h0m2 -45.4h0m0.3 -8.3h0m0 3.1h0m0 -6.1h0m0.4 18.7h0m0.1 -3.2h0m-0 -6.9h0m0.6 51.2h0m0.2 -5.8h0m0.1 4.4h0m0.1 -7.1h0m0.3 -52.7h0m0.2 11.3h0m0.3 -11.8h0m0 19.1h0m0 -14.2h0m0.2 11.3h0m0.2 -8.6h0m0.7 51.2h0m-0 -6.4h0m0.2 8.3h0m0.1 -5.9h0m1.4 -54.3h0m0.1 -7.1h0m0.1 12.1h0m0 -12.6h0m0 22h0m0.1 -28.2h0m0.1 68h0m-0 -49.7h0m0 -7.7h0m0 -12.8h0m0.1 1.5h0m0 73.6h0m0 -7.3h0m0 -62.6h0m0.1 -2.8h0m0 14.6h0m0 13.7h0m0.1 -25.9h0m0 7h0m0 3.1h0m0.1 8.9h0m0 0.7h0m0 -5.5h0m0 8.3h0m0.1 45.9h0m0 -46.5h0m1.4 -5.3h0m0.4 -7.4h0m0.1 -8.9h0m-0 11.1h0m0 17.1h0m0 -14.6h0m0.1 6.9h0m0 -17.9h0m0.3 21.8h0m0 -19.4h0m0.7 65h0m0.1 -3.9h0m0.1 4.5h0m0.1 -6.8h0m0.8 -47.4h0m-0 2.9h0m0.1 -7.3h0m0 14.7h0m0.1 -15.6h0m0.2 11.8h0m0.2 6.4h0m0.1 2.3h0m0.8 37.8h0m0 -4.3h0m0.2 5.9h0m0.2 -2.5h0m0.1 2.8h0m0.1 0.6h0m-0 -44.4h0m0 9.7h0m0.1 28.2h0m-0 -41.3h0m0.2 10.6h0m0 -4.6h0m0.1 -8.8h0m2.1 48h0m0.2 2.6h0m0.3 -5.2h0m0.5 -32.3h0m0.1 6.3h0m0.1 -14.6h0m0.1 4.3h0m0.2 7h0m0.1 -11h0m1.3 42.9h0m0.2 2h0m0.3 -4.6h0m0.4 -23.5h0m0.1 -15.5h0m0.2 8.7h0m-0 35.5h0m0.1 -47.1h0m-0 41.8h0m0 2.3h0m0 -37h0m0 8.5h0m0.1 -15.9h0m1.9 46.9h0m0.1 -4.8h0m0.1 3.9h0m0.7 -48.4h0m0.3 7.1h0m-0 2.7h0m-0 -7.2h0m0 -4.2h0m0.2 18.1h0m0.3 -4.3h0m0.8 33.1h0m0.2 -2.3h0m0.2 3.1h0m1.3 -45.6h0m-0 5.5h0m-0 -7.8h0m-0 -18h0m0.1 13.4h0m0 -10.2h0m0 4.3h0m0.1 3.5h0m-0 -8.5h0m0 15.7h0m0.1 -28.1h0m-0 7.8h0m-0 17.6h0m-0 0.5h0m0.1 -9.8h0m-0 7.3h0m0 10.3h0m0.1 -19h0m0.1 -5.1h0m0.1 9.3h0m0.1 12.9h0m0.2 3.9h0m0.1 37.2h0m0.1 3h0m0.1 2.1h0m0.2 -8.2h0m1.4 -31.8h0m0.2 -18.7h0m0.1 9.3h0m0 -14.2h0m0.2 17.5h0m0.1 -16.8h0m0 9.6h0m0.1 -2.3h0m0 12.7h0m0.1 36.2h0m0.4 3.4h0m0 3.4h0m1.1 -44.8h0m0.2 -4h0m0.1 -10.2h0m0 -1.1h0m0.1 17.8h0m0 2.7h0m0.1 3.4h0m0.1 -15.4h0m0.1 -4h0m0.9 56.8h0m0.1 -5.5h0m-0 5.7h0m0.1 -1.2h0m0.1 -4.5h0m0.1 2.5h0m0.1 1.6h0m0.8 -41.1h0m0 2.8h0m0.2 -7.9h0m0 12.3h0m0.2 -15h0m0.2 5.4h0m1 38.6h0m0.2 3.8h0m0.1 2.9h0m0 -0.3h0m0.3 -43.6h0m0.1 -5.5h0m0.1 3.3h0m0.2 -7.6h0m0.1 -5.5h0m0.1 21.6h0m-0 -19.7h0m0.2 16h0m1.7 33.1h0m0.3 -33.7h0m0.1 41.2h0m0 -44.4h0m0 -4.5h0m0 -0.8h0m0.1 -18.8h0m0.1 25.5h0m0 40h0m0.1 -65.6h0m0.2 4.6h0m-0 17.3h0m-0 -13.8h0m-0 2.7h0m0.1 2.8h0m-0 -10.1h0m-0 2.4h0m0 7h0m0 4h0m0.1 -7.9h0m0 -2.5h0m0 22.3h0m0.1 -5.9h0m0.1 -7.2h0m1.3 46.4h0m-0 3.7h0m0.2 4.1h0m0.4 -1.8h0m0.5 -46.9h0m0.2 -4.6h0m0.1 12h0m0 -15.7h0m0 11.7h0m0.2 -14.7h0m0.2 0.5h0m0.6 59.8h0m0 -2.9h0m0.4 -5.1h0m0.1 2.8h0m1.3 -41.7h0m-0 -5.2h0m0.1 8.9h0m0.1 2.3h0m0.1 -9.9h0m0.2 51h0m0.2 -4.4h0m0.1 -0.2h0m-0 4.5h0m0 -7.2h0m0 5.2h0m0.1 -5.2h0m1.6 -39.8h0m0.2 3.1h0m0.2 4h0m0.1 -6.6h0m1 39.1h0m0 -32.3h0m0.1 -7.6h0m0.1 -6.8h0m0 -4.2h0m0.1 53.1h0m0 -37.1h0m0.1 -2.5h0m0.1 -5.7h0m0 -15.2h0m0 -0.3h0m0.1 4.4h0m2.7 17.4h0m-0 43.3h0m0 -3.7h0m0.1 3.7h0m0.1 -50h0m-0 43.2h0m0.1 -52.3h0m0.2 1.8h0m0.2 17.9h0m0 -6.2h0m0 -8.8h0m1.2 12.4h0m0 -2.4h0m0.1 41.2h0m0.1 -51.2h0m0 47.2h0m0 -31.6h0m0 -3.5h0m0.1 -14.6h0m0 5.8h0m0.1 -12.1h0m0 8.1h0m0 4.1h0m0 -14.1h0m0 5.2h0m0.1 1.9h0m-0 19.2h0m0 -9.5h0m0 45.9h0m0.1 -59.5h0m-0 -2.2h0m0 18.7h0m0.2 -3.5h0m0 -15.6h0m2.3 56.3h0m0.1 6.7h0m0.2 -37.2h0m0.1 37.9h0m0 -4h0m0.2 -47.9h0m0.1 7.1h0m0.1 2.6h0m0 -9.2h0m0.2 4h0m2.5 42.3h0m0 1.5h0m0.2 -4.2h0m0.1 -46.5h0m0.1 -4.4h0m0.2 -0.8h0m0.1 17.7h0m0.1 3.1h0m0.2 -11.3h0m0 4.2h0m1.7 -13.6h0m-0 49.8h0m0 -56.7h0m0.1 -14.4h0m0 7.4h0m0.1 10.4h0m0.1 54.8h0m-0 -72.7h0m0.2 26.8h0m0.1 39.8h0m0 -42.9h0m0.1 -20.8h0m0 8.5h0m1.1 56.7h0m0.1 -4.2h0m0.1 7.6h0m0.1 3.6h0m0.2 0.5h0m1.1 -84.8h0m0.1 -4.8h0m-0 20.2h0m0.1 -12.2h0m0 -5.7h0m0 10.1h0m0.2 -25.8h0m0.1 6.2h0m0.1 -6.5h0m0.1 3.7h0m0 34.5h0m0.1 -8.2h0m0 -18.9h0m0.1 30.6h0m0.3 48.5h0m0 -2.7h0m0.3 5.3h0m0.5 -0.2h0m0.6 -72.1h0m0.1 -4.3h0m0.2 13.7h0m0.2 -14.6h0m0.3 9h0m0.1 2.6h0m0.2 61h0m0.1 6.8h0m0.1 -4.3h0m-0 6.9h0m0.3 -106.9h0m-0 24.1h0m0 -33.4h0m0.1 11.4h0m0.1 33.2h0m0 -2h0m0 -11.3h0m0.1 -39.7h0m0 5.2h0m0 -5.4h0m0 37.2h0m0.1 -22.2h0m0 -12h0m0 22.4h0m0.1 -2.7h0m0.1 -11.2h0m-0 33.5h0m0 -16.2h0m0 2.7h0m0.1 2.8h0m0 13.7h0m0.7 67.9h0m0.1 -75.3h0m0.2 11.1h0m0 66.9h0m0.1 1.5h0m0.1 -84h0m0.1 8.1h0m0.2 -6.9h0m-0 10.3h0m0 8.2h0m1.7 6.2h0m0.2 8.7h0m0 -22.1h0m0.1 79h0m0.1 3.4h0m-0 -6.5h0m0 -82.3h0m0 78.2h0m0.2 -75.6h0m0 21.9h0m0.1 -8.3h0m-0 73.7h0m-0 -67.9h0m0 9.6h0m0 -22.4h0m0.1 4.3h0m1.5 68h0m0.2 -2.3h0m0.3 2.5h0m0.4 8.4h0m0.1 -47.9h0m0 39.2h0m0.2 2.5h0m0 3h0m0.1 3.4h0m0 -54.1h0m0.2 -6.4h0m0.3 8.9h0m0.1 -6.7h0m1.4 47.1h0m0.5 10.7h0m-0 -8.3h0m0 3.2h0m0.3 -80.1h0m-0 -2.8h0m-0 -15h0m0 34.2h0m0 67.7h0m0 -93.3h0m0 22.6h0m0.1 -41h0m0.1 12.8h0m0 22.9h0m0.1 -13.8h0m-0 15.9h0m0 -46.4h0m0.1 40.9h0m0 -29h0m0.1 -0.4h0m-0 3.3h0m0 2.8h0m0 35h0m0.1 -13.8h0m-0 -29.8h0m-0 20.2h0m-0 -14.6h0m0 -12.3h0m0.1 41.8h0m0 -39h0m0 19h0m0.2 -15.8h0m0.1 18.1h0m0 -2.3h0m0 24.1h0m0.1 -12.6h0m0.2 -3.3h0m0.1 7.9h0m0 -19.9h0m1.1 96.4h0m0.1 0.1h0m0.4 -4.1h0m0.1 -3.8h0m0.6 -50.8h0m0 7.3h0m0.1 57.9h0m0.1 -73.2h0m-0 69.1h0m0 -5.8h0m0.1 3h0m0.1 -75.2h0m0 81h0m0.2 -60h0m-0 51.2h0m0 -71.8h0m0.2 76.3h0m-0 -72.3h0m-0 8.8h0m0.2 68.6h0m-0 -1.9h0m1.3 -67.8h0m0.3 -2.7h0m0 23.5h0m0 2.5h0m0.1 -10.6h0m0 -17.7h0m0.3 15.1h0m0.2 -6.8h0m0 13.3h0m0 -9.2h0m0.7 54.5h0m0.3 3.4h0m0.1 1.4h0m1 1.2h0m0.1 2.1h0m-0 -4.9h0m0 -2h0m0.1 -40.4h0m0.1 -0.6h0m-0 5.1h0m0.1 3.3h0m1.8 30.5h0m0.1 2.3h0m0.1 0.6h0m0.4 -46.4h0m0.1 -2.3h0m0 -11h0m0.2 4.1h0m0.1 4h0m2.4 -8.6h0m0.1 53.2h0m0 -59.6h0m0 53.9h0m0.1 3h0m0 -60.4h0m0.1 -6.8h0m0.1 75.9h0m0 -87.5h0m0.1 84.2h0m0.1 -58.2h0m-0 -21.2h0m0.1 9.3h0m0 72.6h0m0 -85.9h0m0.1 6.8h0m1.7 6.3h0m0.1 -11h0m0.1 -1.8h0m0.2 16.5h0m0 61.3h0m0 -69.1h0m0 63.2h0m0.1 3.2h0m0.1 -54.3h0m-0 61.1h0m-0 -75.7h0m0.3 75.7h0m1.9 -102.5h0m0.1 -4.9h0m-0 -2.4h0m-0 14.2h0m-0 -21.7h0m0 44.3h0m0.1 -39.8h0m-0 29.1h0m0 2.6h0m0.1 4.4h0m-0 62.6h0m0 -56.7h0m0.1 65.5h0m0.1 -2.1h0m0 -110.5h0m0 107.5h0m0.2 -77.6h0m-0 -4.4h0m0 -12.4h0m0.1 5.8h0m0.7 -2.3h0m0 20.1h0m0 -41.1h0m0 -6.1h0m0.1 44.1h0m0.1 -2.4h0m-0 -17.7h0m0 -3.4h0m0.1 -17.7h0m0.1 14.9h0m-0 18h0m-0 -36.3h0m-0 39h0m0.1 -28.2h0m-0 5.2h0m0.1 35h0m0 -38.1h0m0 18.2h0m0.1 -22.5h0m0.1 24.8h0m0.6 17.6h0m0 -47.6h0m0.1 26.3h0m0.1 12.8h0m0.1 -19.4h0m0.1 -12h0m0 25.5h0m0 8.5h0m0 -44.6h0m0 -1.2h0m0.1 49.4h0m0.2 -16.3h0m0 -17.3h0m0.1 24h0m-0 -32.6h0m0 12.2h0m0 7.4h0m0.3 94.5h0m0.1 -0.9h0m0.1 -5.7h0m0.1 2.7h0m1.6 -64.8h0m0.1 -22.9h0m0.1 27.2h0m-0 -13.7h0m0.1 -3.7h0m0 -5.7h0m0 3h0m0.1 -14h0m0.1 23.8h0m0.1 -21.3h0m0.1 23.7h0m0 66.4h0m0.2 3.7h0m0.1 3.2h0m0 -0.3h0m0.4 -5.6h0m0.2 13.2h0m0.1 -10.4h0m0 8h0m0.1 3.4h0m0.3 -9.1h0m0.1 3.5h0m0.1 -68h0m0.1 5.7h0m0.2 -9.2h0m0.4 6.3h0m0.2 62.6h0m0 -2.5h0m0.1 5.7h0m0.2 -9.1h0m1.9 12.3h0m0 -6.1h0m0 -5.3h0m0 8.8h0m0.2 1h0m-0 -74.3h0m0.1 -6.3h0m0 72.9h0m0 -2.1h0m0 -56.8h0m0.1 70h0m-0 0.5h0m0 -81.8h0m0.3 71.5h0m-0 -64.6h0m0.1 66.9h0m2 -117.5h0m0 -6.9h0m0.3 25h0m0.1 -26.1h0m-0 37h0m0 -25.6h0m0.1 29.6h0m0.1 -22.8h0m-0 30.7h0m0 -44.6h0m0.1 40.9h0m0 -22.9h0m0.1 -7.4h0m0 19.5h0m0.1 -4h0m0.1 92.2h0m0.1 -4.3h0m0 -132.2h0m0 128.4h0m0 -133.4h0m0.1 17h0m-0 26.2h0m0 -9h0m0 -8.7h0m0 -48.4h0m0.1 51.3h0m-0 111.2h0m-0 -143.2h0m0 -3.2h0m0.1 47.3h0m-0 90.7h0m-0 -156.8h0m-0 44.7h0m-0 18.2h0m0 -22.6h0m0.1 -34.8h0m-0 22.6h0m0 -28.1h0m0 35.4h0m0.2 -19.6h0m0 32.2h0m0 -39h0m0.1 24.4h0m-0 24h0m0 -19.6h0m0.1 -25.5h0m0.9 141.6h0m0.2 -130h0m-0 29h0m0 -43.8h0m0.1 147.2h0m0 -107.4h0m0 -32.5h0m0 27.3h0m0.1 25.1h0m0 -13.1h0m0.1 103.5h0m-0 -92.9h0m-0 -39.7h0m-0 136.2h0m0 -157.8h0m0 8.2h0m0 149.6h0m0.1 -98.9h0m0 -34.5h0m0 10.8h0m0.1 19.6h0m0 -39.9h0m0.2 26.5h0m0 -12.9h0m0 4.2h0m0 113.8h0m0 -144.9h0m1.5 141h0m0.1 -3.5h0m0.3 5.5h0m0.3 -11h0m0.1 -72.7h0m0.1 -13.1h0m-0 17.5h0m-0 70.9h0m0.1 -81.8h0m-0 2.7h0m-0 -20.2h0m0 6.5h0m0 35.5h0m0 3h0m0.1 -42h0m0 -2.1h0m0 38.8h0m0.1 -8.6h0m0.1 -17.9h0m0.3 22.2h0m1.7 79.1h0m0.1 2.3h0m0.4 0.8h0m0.2 -7h0m0.2 -115.3h0m0 6.7h0m0.1 7.3h0m-0 8.1h0m0 -3.1h0m0.1 -16.4h0m0.2 14h0m0.1 -16.7h0m0 10.4h0m0.1 15.7h0m0.3 3.2h0m0.1 -37.8h0m0 27.5h0m0.1 113h0m0 -11.3h0m0 -131.7h0m0 17.7h0m0.1 119.6h0m0.1 -161h0m-0 38.9h0m0 -9.8h0m0 -22.6h0m0.1 -11.6h0m-0 174.9h0m0 -134.3h0m0 -26.3h0m0 49.1h0m0 97.1h0m0.1 -138.1h0m0 146.5h0m0 -166.9h0m0 59.3h0m0 -12.7h0m0 115h0m0.1 -146.2h0m-0 2.8h0m-0 17.1h0m-0 14.9h0m0 14h0m0.1 -10.8h0m-0 119.2h0m-0 -149.1h0m0 -17.1h0m0 60.4h0m0.2 102.3h0m0.3 -3.7h0m0.1 -3.6h0m0 7.2h0m0.2 -109.1h0m0.1 -26h0m0.1 -31.8h0m0 23h0m0 -12.2h0m0.1 25h0m0.1 -22.2h0m0.1 26.4h0m-0 3.8h0m0 -48.9h0m0.1 55.4h0m-0 -29.8h0m-0 -14h0m0 -12.6h0m0.2 66.5h0m0 -63.3h0m0 57.7h0m0.1 -50.6h0m0 41.9h0m0.1 -18.5h0m0 -10.5h0m0 -47.3h0m0.1 -30.8h0m0.1 106h0m-0 -79.3h0m-0 35.4h0m-0 52.2h0m-0 -47.9h0m0 -51.2h0m0.1 101.9h0m-0 -16.3h0m-0 -98.6h0m-0 117.1h0m-0 -24.7h0m0 -39.4h0m0 -4.5h0m0 52.5h0m0 -61.1h0m0 69.8h0m0.1 -22.5h0m0 -8.4h0m0.1 -6.5h0m0 9.6h0m0 -50.5h0m0 14.5h0m0 8.8h0m0 -48.1h0m0.1 11.8h0m0 48.9h0m0 39.7h0m0 -12h0m0 -33.1h0m0.1 -46.8h0m-0 -24.2h0m-0 45.5h0m-0 53.4h0m0 -4.8h0m0 -75.6h0m0.1 60.6h0m-0 -12.3h0m0 -62.8h0m0 47.8h0m0.1 32.8h0m-0 -71.5h0m-0 51.3h0m0.2 -21.5h0m-0 -12h0m0.1 173h0m0.1 4.8h0m0.4 -2.4h0m0.3 -125.3h0m0.2 48.2h0m-0 -4.7h0m0 -30h0m0 -17.9h0m0 25.2h0m0.1 11.6h0m-0 2.2h0m0.1 -18.3h0m-0 8.7h0m0.1 -30.2h0m0.1 50.9h0m0.1 -17.6h0m0 -20.7h0m0.1 -4h0m-0 37.8h0m0 -30.1h0m0.1 39.8h0m-0 -12.4h0m1.2 87.5h0m0.1 3.5h0m0.2 -11.3h0m0.1 12.5h0m0.1 -97.3h0m-0 17.3h0m0 -2.9h0m0 74.7h0m0.2 -94.7h0m-0 -16.9h0m0 29.2h0m0.1 -26.5h0m0.1 31.8h0m0 -38.5h0m0 35.4h0m0.1 -11.7h0m0.1 -10.4h0m0 16.6h0m0.2 -12.7h0m0 -8.1h0m0.1 39.2h0m1.1 -5.2h0m0.1 19.1h0m0 -25.6h0m0.1 115.9h0m0 -100.5h0m0.1 85.8h0m0.1 12.7h0m0.1 -84.8h0m-0 -39.2h0m0 126.9h0m0.2 -112.6h0m0 101.1h0m0 -108.2h0m0.1 21h0m-0 -5.4h0m-0 97.8h0m0 -3.1h0m0 -98.6h0m0 28.6h0m0.1 -44.2h0m-0 28.4h0m0 93.4h0m0 -10.4h0m0 -73.2h0m0 2.2h0m0.2 75.3h0m0.1 4.2h0m0 -11.9h0m0.8 -102.1h0m0 -3.8h0m0.2 6.1h0m0.1 11.3h0m0.1 -7.3h0m0.1 -10.9h0m-0 23.7h0m0 -9.7h0m0.1 13h0m0 2.2h0m0.1 4.3h0m0.1 -12.6h0m0.5 78.2h0m0.4 -3.3h0m0 6.5h0m0.1 -10h0m0.1 -4.4h0m0.2 -92.7h0m0 7.4h0m0.1 12.3h0m-0 -21.8h0m-0 7.2h0m0 -26.3h0m0 41.2h0m0.1 -10.1h0m-0 -21.4h0m0 13.8h0m0 20.1h0m0.1 -5.5h0m0 -34.6h0m0 -6.8h0m0 37.6h0m0.1 -47.6h0m0 7.7h0m0 37.7h0m0.1 1.1h0m0.1 10.7h0m0 -8.7h0m0 -43.2h0m0.1 23.8h0m0 -3.6h0m0 -23h0m0 48.6h0m0.1 9.9h0m-0 -40.9h0m1.8 123.1h0m0.4 12.2h0m-0 -122h0m0.1 114h0m0 -73.3h0m0 -3.6h0m0 -22h0m0 104.3h0m0.1 -86.5h0m-0 -9.4h0m0 103.2h0m0 -121.2h0m0.1 111.1h0m0 7.5h0m0.1 -16.7h0m-0 21.5h0m0 -116.7h0m0 -22h0m0.1 39.6h0m-0 91.5h0m0 -95.3h0m0.1 110.2h0m0 -117.1h0m0.1 -15.9h0m-0 -10.6h0m0.2 139.2h0m0 -135.1h0m0 11.5h0m0.1 126.7h0m1.9 -19.6h0m0.1 -6.2h0m0.2 -93.8h0m0 25.6h0m0.1 72.5h0m-0 -104.9h0m0 13.1h0m0.1 7.1h0m0.1 -17h0m0.1 7.3h0m0 17.8h0m0 -37.6h0m0.1 46h0m0.1 -11.4h0m0.1 -8h0m0.1 5.2h0m0 17.9h0m0 -48.3h0m0.1 4.6h0m0 13.2h0m0.1 7.1h0m-0 18.6h0m0.1 -23.4h0m0 -17.2h0m0 37.4h0m0 -40.5h0m0.1 -3.2h0m0 36.6h0m0.1 -25.6h0m0 23.2h0m0 -35.7h0m0.1 16.9h0m-0 26.1h0m0 -28.1h0m0 25.7h0m0.2 -13.3h0m-0 -17.4h0m0 10.2h0m0.1 13.2h0m0.7 5.2h0m0.1 6.9h0m0.1 57h0m0.1 4h0m0.1 -6.3h0m0 -57.5h0m0.1 64.8h0m0 -74h0m0.2 15h0m0.1 -13.6h0m1.2 90.8h0m-0 -3h0m0.4 7.3h0m0.1 -12h0m0.1 -3h0m0.1 5.1h0m0 8.5h0m0.2 -13.6h0m0.1 6.8h0m0.3 -2.6h0m0.1 -64h0m0 8.3h0m0.1 -23.8h0m0.4 4.3h0m-0 -14.7h0m0 21.9h0m0.2 -3.9h0m0.2 12.4h0m0 -27.5h0m0 3.8h0m1.1 61h0m0.2 -57.2h0m0.2 63.5h0m0.1 -2.2h0m0 -66.7h0m0.1 -5.3h0m0.3 13.3h0m0 -5.1h0m0.1 8.5h0m0 -13.7h0m2.2 -28.9h0m0 25.2h0m0 -28.2h0m0.1 11.6h0m0.1 13.5h0m-0 -5.4h0m0 -2.4h0m0.1 9.2h0m-0 -4h0m0 -30.1h0m0.1 -5.7h0m-0 29.4h0m0 -7.2h0m0.1 84.2h0m0.1 -86.8h0m-0 -17.2h0m0 43.8h0m0 -22.4h0m0 19.7h0m0.1 -0.1h0m-0 63.1h0m-0 -73.4h0m-0 -5.8h0m0 8.2h0m0 -27.7h0m0.1 3.3h0m0 14h0m0.2 21.1h0m0 57.8h0m0.1 -3h0m1.4 -51.1h0m0.3 -15.8h0m-0 12.1h0m0.1 8.1h0m0.1 65.1h0m0 -85.8h0m0.1 6.3h0m0.1 76.4h0m-0 9.5h0m0.1 -2.8h0m0.1 -85.5h0m0 89.5h0m0.1 -83.8h0m0.5 91.7h0m0 -12.8h0m0 5.1h0m0.1 4.7h0m0.2 -2.1h0m0.1 5.4h0m0.4 -10.7h0m0.4 -59.1h0m0 3h0m0.1 -12.8h0m-0 16.9h0m0 -28.3h0m0 2.8h0m0.2 16h0m0.1 -24.6h0m0 1.5h0m0.1 19.2h0m0.1 -9.6h0m0.2 25.8h0m0.1 -23.5h0m0.8 65.5h0m0 9.3h0m0.1 -5.3h0m0.1 3.8h0m1 -51.5h0m0.2 -7.3h0m-0 4h0m0.1 -2.4h0m0.6 47.2h0m0.2 7.6h0m0.2 -1.6h0m0.2 -9.9h0m0 7.6h0m0.4 -88.6h0m0 17.3h0m0.1 18h0m-0 -2.9h0m0.1 -18.5h0m0 -6.2h0m0.1 13.8h0m-0 -10.8h0m0 -11h0m0.3 25.7h0m0.1 2.7h0m0.1 -24.2h0m1.4 94.1h0m0.2 7.1h0m0.1 2h0m0.1 -5.3h0m0.1 9.2h0m0.1 3.4h0m0 -111.4h0m0.1 17.5h0m0 73.7h0m0.2 22.4h0m-0 5.5h0m0 -105.8h0m0.1 -9.3h0m0 -10.3h0m0 27.6h0m0.1 95.1h0m-0 -105.6h0m0.2 94.8h0m0.1 -109.6h0m-0 11h0m1.1 105.3h0m0.2 -2.7h0m0 10h0m0.1 -0.5h0m0.1 -2.7h0m0.1 -10.8h0m0.9 -116h0m0 20.1h0m0 -31.7h0m0.1 20.2h0m0.1 -47.3h0m0.1 66.5h0m-0 -35.9h0m-0 -9.4h0m0 12.1h0m0 18.3h0m0.1 -49.2h0m0 59.8h0m0.1 -37.6h0m-0 -24.3h0m0.1 43h0m-0 -26h0m0.1 -7.2h0m0 25.6h0m0 19.1h0m0 -48.9h0m0.1 7.8h0m0.5 151.7h0m0.3 -13.6h0m0.1 3h0m-0 7.3h0m0 -4.1h0m0.8 -141.2h0m0.1 -15.4h0m-0 21.9h0m-0 5.9h0m-0 28.7h0m-0 11.2h0m0 -37.8h0m0.1 -24.8h0m-0 48.1h0m-0 -51.2h0m0 31.4h0m0 30h0m0 -26.5h0m0.1 -23.8h0m-0 11.9h0m-0 22.6h0m-0 -39.5h0m0 -10.8h0m0 62.6h0m0 -17.4h0m0.1 -32.4h0m0 144h0m0 -4.2h0m0.1 -110.5h0m-0 26.2h0m0.1 -20.3h0m-0 5.6h0m-0 -31.9h0m0.3 137.8h0m0.2 -121.3h0m-0 13.3h0m0 -34.8h0m0.1 47.5h0m-0 -50.2h0m0.1 7.7h0m0 23.5h0m0 15.8h0m0.1 -7h0m0 -35.1h0m0 5.1h0m0.1 10.9h0m-0 -26h0m0.1 17.9h0m-0 43.6h0m0 -39h0m0.2 17h0m-0 -6.4h0m0.1 14.5h0m0.1 -46.9h0m-0 57.9h0m1.2 83.1h0m0.2 13.7h0m0 -9.3h0m0 2.7h0m0.1 -81.1h0m0 -4.5h0m0.1 -20.9h0m0 109h0m0 -115.9h0m0.3 39.9h0m0 -19.1h0m0.1 -17.9h0m-0 -4.8h0m0 26h0m0.1 -13.3h0m-0 2.2h0m0.1 3.4h0m0.2 20h0m1.5 -8.5h0m0.1 -32h0m0 93.9h0m0 -68h0m0.1 3.2h0m-0 5.9h0m0.1 -23.8h0m0 -2.4h0m0.1 13.5h0m0 -7h0m0 76.3h0m0.1 -95.7h0m0.1 43.4h0m0.2 -21.3h0m0.1 -20.8h0m0 8.6h0m0.1 -3.2h0m2.4 80h0m0.1 -12.2h0m0.1 2.8h0m-0 5.3h0m0 -126.5h0m0 124h0m0 -107.2h0m0 -20.8h0m0.1 73.8h0m0 -55.5h0m0.1 45.7h0m-0 69.1h0m0 -71.5h0m0 -13.6h0m0 -111.1h0m0 88.9h0m0 28.3h0m0.1 -13.8h0m0 -93.2h0m0 35.6h0m0 79.9h0m0.1 -12h0m-0 20.5h0m-0 -73.9h0m0 -63.8h0m0 131.1h0m0 -78.2h0m0 -14.1h0m0.1 -31.1h0m-0 35.3h0m-0 90.4h0m0 -55.5h0m0.1 25.6h0m-0 -68.8h0m-0 74.4h0m-0 -18.8h0m0 -44.7h0m0 80.4h0m0.1 -129.8h0m-0 83.8h0m0.1 -6.3h0m0 -42.1h0m0 66.6h0m0 13.1h0m0.1 -15.5h0m-0 4.9h0m-0 22.7h0m0 -67.7h0m0 -38.5h0m0.1 -7.3h0m0 18.4h0m0 -7.2h0m0.1 38.7h0m0 -35.2h0m0.7 158.7h0m0.2 0h0m0.3 -3.9h0m0.4 -49.9h0m0.2 8.5h0m0 -7.1h0m0.3 3.4h0m1.3 8h0m0.1 -8.7h0m0.1 -12.9h0m0 18.4h0m0.1 -15h0m0 -9.3h0m0.2 -2.2h0m0.1 111.5h0m-0 -78.2h0m0.1 -16.8h0m-0 -2.2h0m-0 9.1h0m0.2 85.5h0m-0 -103.3h0m0 99.5h0m0.1 -4.6h0m-0 2.4h0m-0 12.4h0m0.3 -0.7h0m0.6 16.1h0m0.1 -7.7h0m0.2 8.4h0m0.2 -13.7h0m0 9.8h0m0.1 -6.8h0m0 4.4h0m0.4 -69.1h0m0 -9.1h0m0.1 -5.9h0m0 76.7h0m0 7.2h0m0 -87h0m0.1 21.9h0m0.1 7.7h0m0.1 -35.2h0m0.1 12.4h0m0.1 -11h0m-0 88.5h0m0 -57.8h0m0.2 -11.9h0m0 -2.4h0m0.7 -19.9h0m0.1 30.4h0m-0 -4.7h0m0 -16.1h0m0 10.9h0m0.1 12.3h0m0.2 -10h0m0 -27.7h0m0.1 1.4h0m0.1 9.9h0m-0 78.2h0m-0 -81.2h0m0 11.1h0m0.1 3.4h0m-0 -6.2h0m0 16.1h0m0.3 60.9h0m0.1 1.1h0m0.3 -9.8h0m0.1 -68.2h0m0.2 5.4h0m0.2 -13.8h0m0 -9h0m0.1 -0.6h0m0.1 13.9h0m0 16h0m0.1 3.2h0m0 -26.8h0m0.1 32.7h0m0 -11.7h0m0.1 -6.9h0m0 -17.9h0m0 33.3h0m0.4 64.3h0m0.2 -1h0m-0 5.9h0m0 -13.1h0m0.1 15.5h0m-0 -4.8h0m0 -7.6h0m0.1 7.2h0m0.1 -5.2h0m0.1 -1.7h0m0 -3h0m0.5 -69.1h0m-0 4.1h0m0.1 7.5h0m0.1 -18.4h0m0.2 -16.2h0m-0 20.5h0m-0 -19.1h0m-0 11.8h0m0 17.1h0m0.2 -21.1h0m0.1 -3.6h0m0.1 32.7h0m0.4 58.9h0m0.2 -3.7h0m0.1 -90.5h0m0 -25.5h0m0.1 -16.4h0m0 46.6h0m0 2h0m0.1 2.2h0m-0 -56.8h0m-0 143.6h0m0.1 -107.3h0m-0 -27.1h0m0 49.7h0m0 2.7h0m0 -68.5h0m0 36.6h0m0 10h0m0 -43.2h0m0.1 31h0m-0 -10.8h0m-0 118.1h0m0 -92.4h0m0.1 -40h0m-0 48.1h0m0 -31.3h0m0 13.6h0m0.1 97.7h0m0.1 -86h0m-0 -32.6h0m0 2.2h0m0 10.8h0m0.4 -10.5h0m0.1 22.8h0m-0 -15.2h0m0 -3.8h0m0 14.6h0m0.2 20.4h0m0 -12.2h0m0.1 3.3h0m0 -39.1h0m0.1 -2.4h0m0 5.3h0m0.3 16.8h0m0.1 3.6h0m-0 18.6h0m-0 2.2h0m0 -38.3h0m0 46.8h0m0 -55.8h0m1.4 132.6h0m0.2 5.9h0m0.1 -9.1h0m0.4 -3.3h0m-0 8.9h0" stroke="#1f77b4" stroke-width="5.4" stroke-linecap="round" fill="none"/>
<path d="M309.4 927.5h-1.2M328.8 948.6h0.0M327.9 926.6h0.0M307.2 979.3h0.0M311.0 930.9h1.2M304.9 926.4h0.0M302.9 928.1h1.2M309.4 960.8h0.0M307.8 977.3h0.0M321.6 979.8h0.0M310.1 933.6h0.0M306.6 964.9h0.0M326.4 939.6h1.2M318.8 950.3h0.0M333.4 920.4h0.0M325.4 966.1h0.0M321.1 957.4h1.2M325.2 946.0h0.0M302.6 958.8h1.2M329.5 945.1h0.0M316.0 942.3h1.2M321.0 933.5h-1.2M308.5 969.1h-1.2M305.0 925.4h0.0M319.0 954.8h0.0M328.4 945.2h1.2M329.9 942.5h0.0M322.9 975.0h0.0M322.0 952.1h1.2M322.7 967.8h0.0M302.5 934.3h0.0M306.7 950.7h1.2" stroke="#fff" stroke-width="2.2" stroke-linecap="round" fill="none"/>
<polyline points="116.8,917.9 118.0,912.2 119.1,892.1 120.2,883.8 121.5,901.0 122.8,928.6 123.9,904.5 124.9,888.1 126.0,907.9 127.1,939.3 128.1,946.5 129.2,952.0 130.3,922.3 131.3,899.8 132.6,923.6 133.9,937.1 135.3,948.0 136.7,971.2 137.7,947.7 138.8,913.7 140.4,934.4 142.0,969.1 143.6,961.5 145.2,941.4 146.8,949.2 148.4,967.0 149.4,956.8 150.5,932.9 151.6,942.5 152.6,947.8 154.1,935.0 155.5,950.6 156.9,962.7 158.3,953.7 159.8,955.2 161.2,943.5 162.5,949.8 163.7,962.2 165.0,979.8 166.5,919.9 168.0,847.6 168.8,860.2 169.7,875.3 170.8,873.8 171.8,873.2 172.7,906.7 173.5,930.7 175.0,881.2 176.5,819.9 177.9,851.1 179.3,875.3 180.4,928.6 182.0,933.1 183.6,939.3 185.2,956.9 186.8,972.3 188.1,957.7 189.5,935.0 190.8,946.9 192.1,964.8 193.2,934.7 194.2,917.9 195.3,855.6 196.4,790.0 197.4,827.2 198.5,854.0 199.6,888.1 200.6,830.5 201.7,895.7 202.8,958.4 204.0,917.0 205.3,864.6 206.2,911.9 207.0,945.7 208.4,947.0 209.9,934.2 211.3,930.7 212.3,936.5 213.4,952.0 215.0,977.3 216.6,1001.1 217.7,977.9 218.7,952.0 220.3,943.1 221.9,926.5 223.5,940.0 225.1,952.0 226.2,967.9 227.3,990.4 228.9,969.3 230.5,949.9 231.5,979.0 232.6,1003.2 234.2,999.7 235.8,994.7 237.2,962.8 238.6,937.1 239.5,968.2 240.5,990.4 241.9,966.8 243.3,932.9 244.3,968.1 245.4,990.4 246.8,919.6 248.2,840.1 249.2,904.9 250.3,958.4 251.8,947.8 253.3,977.6 254.7,949.6 256.1,930.7 257.5,954.2 258.6,908.6 259.7,858.2 260.5,892.8 261.4,937.1 262.8,932.4 264.2,926.9 265.7,915.8 267.1,926.5 268.0,871.3 268.8,817.7 269.9,886.3 271.0,964.8 272.0,933.6 273.1,892.3 274.6,939.3 276.0,936.5 277.4,922.2 278.7,914.4 279.9,896.6 280.8,915.5 281.6,939.3 282.4,927.9 283.8,888.1 285.3,947.8 286.4,857.4 287.5,763.1 288.9,816.2 290.3,859.7 291.9,857.4 293.5,857.6 295.1,912.3 296.7,970.6 297.7,894.9 298.8,817.1 300.4,786.3 302.0,757.4 303.0,814.2 304.1,881.0 305.7,844.8 307.3,821.3 308.9,805.9 310.5,790.0 312.1,850.8 313.7,910.9 314.8,852.6 315.8,782.1 316.9,808.7 318.0,832.0 319.4,818.7 320.8,805.0 322.2,791.5 323.4,769.8 324.7,759.3 325.9,746.1 327.2,784.1 328.6,810.7 329.7,822.6 330.8,821.3 331.8,806.9 332.9,782.1 334.0,832.0 335.0,856.5 336.1,885.3 337.2,869.3 338.2,842.6 338.7,1013.2 339.9,1012.6 341.2,1006.9 342.5,1005.8 343.9,1005.2 345.3,1005.1 346.8,1002.6 348.2,1000.3 349.6,999.7 351.0,998.3 352.6,1001.5 354.2,1005.8 355.8,1003.9 357.4,1005.2 359.0,1002.6 360.6,1001.5 362.2,1006.1 363.8,1011.1 365.4,1011.6 367.0,1012.0 368.6,1011.2 370.2,1012.2 371.8,1011.7 373.4,1011.1 375.0,1011.1 376.6,1010.0 378.2,1010.2 379.8,1007.9 380.7,1001.4 381.5,997.2 382.8,1001.1 384.1,1010.0 385.5,1005.2 386.8,1003.6 388.1,1004.0 389.3,1010.5 390.5,1011.1 392.1,1010.4 393.7,1011.1 395.3,1010.4 396.9,1010.0 398.1,1007.3 399.3,1007.0 400.5,1004.7 401.8,1007.8 403.2,1007.1 404.5,1009.8 405.9,1009.7 407.2,1011.7 408.6,1013.2 410.1,1013.6 411.6,1013.4 413.2,1013.9 414.7,1014.6 416.2,1014.7 417.7,1015.2 419.3,1015.4 420.9,1015.9 422.5,1016.1 424.1,1016.4 425.7,1016.7 427.2,1017.0 428.8,1017.3 430.4,1017.6 432.0,1017.9 433.5,1017.8 434.9,1017.8 436.3,1017.7 437.7,1017.6 439.2,1017.6 440.6,1017.5 442.0,1016.5 443.4,1015.8 444.8,1014.9 446.3,1014.1 447.7,1012.8 449.1,1012.2 450.7,1010.7 452.3,1007.9 453.9,1011.9 455.5,1016.4 456.8,1016.7 458.2,1017.0 459.5,1017.2 460.8,1017.5 462.4,1017.8 463.9,1018.1 465.4,1018.3 466.9,1018.6 468.5,1018.9 470.0,1019.2 471.3,1019.0 472.5,1018.9 473.8,1018.7 475.4,1018.7 477.0,1018.7 478.6,1018.7 480.1,1018.7 481.7,1018.7 483.3,1018.7 484.9,1018.7 486.5,1018.7 488.1,1018.7 489.7,1018.7 491.2,1018.7 492.8,1018.7 494.4,1018.7 496.0,1018.7 497.6,1018.7 499.2,1018.7 500.8,1018.8 502.3,1018.8 503.9,1018.8 505.5,1018.8 507.1,1018.8 508.7,1018.8 510.3,1018.8 511.9,1018.8 513.4,1018.8 515.0,1018.8 516.6,1018.8 518.2,1018.8 519.8,1018.8 521.4,1018.8 523.0,1018.8 524.5,1018.8 526.1,1018.8 527.7,1018.8 529.3,1018.9 530.9,1018.9 532.5,1018.9 534.1,1018.9 535.7,1018.9 537.2,1018.9 538.8,1018.9 540.4,1018.9 542.0,1018.9 543.6,1018.9 545.2,1018.9 546.8,1018.9 548.3,1018.9 549.9,1018.9 551.5,1018.9 553.1,1018.9 554.7,1018.9 556.3,1018.9 557.9,1019.0 559.4,1019.0 561.0,1019.0 562.6,1019.0 564.2,1019.0 565.6,1017.7 567.1,1016.4 568.5,1016.8 569.9,1017.2 571.3,1017.5 572.8,1017.1 574.2,1016.6 575.6,1016.1 577.1,1015.7 578.5,1015.2 579.4,1014.2 580.4,1012.8 581.7,1014.2 583.1,1014.9 584.4,1015.2 585.6,1013.5 586.8,1013.1 588.0,1011.6 589.4,998.5 590.9,987.8 592.2,1002.9 593.5,1015.2 594.9,1012.8 596.3,1011.6 597.5,1012.9 598.7,1014.0 599.9,1013.7 601.1,1015.2 602.3,1015.2 603.7,1008.7 605.1,1003.3 606.3,1009.3 607.5,1016.4 608.9,1016.1 610.4,1015.5 611.8,1015.2 613.4,1015.9 615.0,1016.7 616.5,1017.5 617.7,1011.9 618.9,1006.2 620.1,1002.1 621.3,1006.6 622.5,1012.8 624.1,1006.6 625.7,1003.4 627.3,998.5 628.4,993.3 629.6,991.4 631.1,981.1 632.5,972.3 633.8,985.7 635.1,990.2 636.5,991.5 638.0,987.8 639.2,992.1 640.3,1002.1 641.8,1006.6 643.2,1008.0 644.6,1004.3 646.1,1002.4 647.5,1000.9 648.7,1004.4 649.9,1006.5 651.0,1009.2 652.6,1004.3 654.1,1000.9 655.3,997.3 656.4,995.3 657.5,993.8 659.0,997.5 660.6,1003.3 662.2,1006.7 663.7,1009.0 665.3,1011.6 666.5,1011.8 667.7,1010.3 668.9,1009.2 670.1,1008.0 671.3,1004.6 672.5,1002.1 674.0,1010.0 675.6,1015.2 676.7,1013.1 677.9,1010.4 679.4,1008.9 680.8,1005.7 682.0,1008.8 683.2,1011.0 684.4,1014.0 685.5,1013.1 686.7,1012.6 687.9,1012.8 689.1,1014.2 690.3,1014.0 691.5,1015.2 692.7,1017.4 693.9,1019.9 695.4,1020.0 696.8,1020.0 698.3,1020.0 699.8,1020.1 701.3,1020.1 702.8,1020.2 704.3,1020.2 705.8,1020.2 707.3,1020.3 708.7,1020.3 710.2,1020.4 711.7,1020.4 713.3,1020.4 714.9,1020.4 716.5,1020.4 718.1,1020.4 719.6,1020.4 721.2,1020.4 722.8,1020.4 724.4,1020.4 726.0,1020.4 727.6,1020.4 729.2,1020.4 730.8,1020.4 732.3,1020.4 733.9,1020.4 735.5,1020.4 737.1,1020.4 738.7,1020.4 740.3,1020.4 741.9,1020.4 743.4,1020.4 745.0,1020.4 746.6,1020.4 748.2,1020.4 749.8,1020.4 751.4,1020.4 753.0,1020.4 754.5,1020.4 756.1,1020.4 757.7,1020.4 759.3,1020.4 760.9,1020.4 762.5,1020.4 764.1,1020.4 765.3,1019.1 766.4,1017.8 767.6,1016.4 768.8,1018.0 770.0,1017.5 771.6,1017.6 773.2,1017.5 774.8,1017.5 776.4,1017.5 778.0,1017.5 779.6,1017.5 781.2,1017.5 782.8,1017.5 784.4,1013.9 786.0,1011.1 787.1,1008.2 788.1,1002.6 789.6,1032.4 790.5,863.2 791.3,704.1 792.6,702.9 793.9,704.1 794.7,796.3 795.6,881.0 797.2,885.3 798.8,887.4 800.4,858.5 802.0,832.0 803.3,867.2 804.5,910.9 805.9,878.7 807.3,844.8 808.9,926.4 810.5,1001.5 811.6,971.4 812.6,938.6 813.7,930.8 814.8,927.9 816.1,907.8 817.3,889.6 818.4,894.7 819.5,908.7 820.3,900.7 821.2,895.9 822.0,915.7 822.9,945.0 823.7,918.8 824.6,895.9 825.9,942.3 827.1,979.1 828.6,955.7 829.7,974.5 830.8,994.0 831.8,994.8 832.9,993.0 834.0,962.8 835.0,938.6 836.4,920.5 837.8,894.9 838.8,930.7 839.7,953.5 840.8,971.4 841.9,1002.6 842.9,975.2 844.0,945.0 845.1,951.1 846.1,966.3 847.0,951.9 847.8,936.5 848.7,947.9 849.5,959.9 850.5,950.1 851.4,936.5 852.8,952.4 854.2,964.2 855.8,973.7 857.4,983.4 858.5,976.2 859.6,977.0 860.8,985.7 862.0,992.9 863.2,998.3 864.5,992.9 865.7,985.1 867.0,977.0 868.5,962.0 869.6,931.0 870.6,911.9 871.8,953.4 873.0,987.6 874.3,959.8 875.5,939.7 876.6,952.1 877.7,953.5 878.7,954.2 879.8,947.1 881.2,938.0 882.6,921.5 884.0,933.0 885.4,958.4 886.8,972.7 887.9,905.4 889.0,846.9 890.3,899.4 891.5,940.7 893.0,945.3 894.4,945.8 895.8,949.3 896.9,928.2 897.9,919.4 899.2,943.7 900.5,968.4 901.6,943.4 902.6,930.1 904.0,943.0 905.4,962.0 906.5,951.8 907.5,940.7 908.6,956.3 909.7,962.0 910.9,947.8 912.1,940.7 913.3,931.1 914.7,962.5 916.1,982.3 917.3,937.7 918.6,895.9 919.8,941.5 921.0,977.0 922.0,954.3 923.1,920.5 924.4,943.8 925.7,957.8 926.5,946.1 927.4,940.7 928.4,960.9 929.5,982.3 931.0,926.8 932.5,861.8 933.9,910.1 935.2,966.3 936.3,930.1 937.9,944.3 939.5,953.5 940.9,966.2 942.3,970.6 943.5,961.3 944.7,969.0 945.9,957.8 947.2,972.2 948.5,981.2 949.5,960.8 950.6,932.2 952.0,945.1 953.4,970.6 954.6,970.5 955.9,957.8 956.8,972.9 957.6,979.1 958.5,972.0 959.3,959.9 960.0,979.0 961.3,969.8 962.7,966.7 964.0,971.5 965.3,963.1 966.6,969.3 968.0,975.2 969.3,979.7 970.6,980.8 972.2,981.5 973.7,985.5 975.2,994.2 976.8,995.8 978.1,994.7 979.5,988.4 980.9,980.8 982.4,972.1 983.9,961.3 985.3,970.7 986.8,975.9 988.3,982.6 989.6,983.1 990.9,979.9 992.3,983.9 993.6,984.3 995.1,991.1 996.5,996.7 998.0,998.5 999.5,995.6 1000.9,989.4 1002.4,989.6 1003.7,993.7 1005.0,997.2 1006.3,998.5 1007.9,992.5 1009.5,984.3 1010.5,974.7 1011.6,971.1 1013.2,977.5 1014.8,986.1 1016.3,983.2 1017.7,986.8 1019.2,980.8 1020.7,986.4 1022.2,984.2 1023.6,986.1 1025.1,991.1 1026.6,998.2 1028.0,1000.2 1029.6,1000.5 1031.1,1001.8 1032.7,1004.3 1034.2,1007.3 1035.7,1004.9 1037.2,1005.5 1038.6,1005.5 1040.1,999.4 1041.6,996.3 1043.1,994.9 1044.4,992.7 1045.7,995.1 1047.0,993.4 1048.4,993.2 1049.7,996.8 1051.0,995.0 1052.3,999.2 1053.7,996.7 1054.9,998.3 1056.0,999.9 1057.2,1003.8 1058.7,1003.4 1060.2,997.1 1061.6,994.9 1063.2,989.8 1064.8,990.0 1066.4,991.4 1067.8,996.9 1069.1,1000.3 1070.5,1002.0 1071.6,997.2 1072.8,993.4 1074.0,991.4 1075.5,997.8 1076.9,1001.6 1078.4,1005.5 1080.0,1004.7 1081.5,999.4 1083.1,998.1 1084.6,996.7 1086.1,1000.2 1087.5,1002.2 1089.0,1003.8 1090.6,1002.6 1092.1,999.5 1093.7,1001.8 1095.2,998.5 1096.5,1000.7 1097.9,1002.0 1099.2,1005.0 1100.5,1005.5 1102.0,1002.5 1103.5,1000.0 1104.9,998.5 1106.3,1000.9 1107.6,999.6 1108.9,998.6 1110.2,1002.0 1111.6,1001.7 1112.9,993.8 1114.3,993.2 1115.9,997.9 1117.5,997.4 1119.1,1001.1 1120.6,999.3 1122.2,1001.2 1123.7,1004.9 1125.3,1002.9 1126.8,1002.7 1128.3,1004.3 1129.9,1005.9 1131.4,1005.5 1132.9,1005.6 1134.4,1002.6 1135.9,1000.2 1137.4,997.0 1139.0,999.2 1140.5,996.1 1142.0,996.7 1143.2,999.6 1144.4,999.3 1145.6,1000.2 1146.9,999.9 1148.2,997.0 1149.5,1000.2 1150.7,1000.7 1151.9,1002.2 1153.2,1003.7 1154.4,1005.5 1156.0,999.6 1157.6,999.0 1159.2,991.4 1160.5,992.2 1161.9,1001.6 1163.3,1002.0 1164.6,998.1 1165.9,1000.4 1167.2,998.6 1168.6,998.5 1169.9,999.8 1171.2,1005.5 1172.6,1002.5 1173.9,1003.0 1175.3,996.7 1176.6,1000.9 1177.9,995.0 1179.2,998.5 1180.7,1000.2 1182.3,997.2 1183.8,994.5 1185.3,992.3 1186.8,998.8 1188.3,1000.9 1189.8,1002.0 1191.1,998.0 1192.4,996.8 1193.7,999.1 1195.1,994.9 1196.7,990.2 1198.2,991.4 1199.7,1000.4 1201.3,1002.9 1202.4,1002.1 1203.6,997.4 1204.8,996.7 1206.3,998.9 1207.7,1001.0 1209.2,1000.2 1210.5,998.1 1211.8,991.3 1213.1,989.6 1214.4,989.3 1215.8,994.3 1217.2,1000.2 1218.7,998.2 1220.3,998.1 1221.9,993.9 1223.4,990.5 1225.0,993.4 1226.5,991.0 1228.1,991.1 1229.6,992.7 1231.2,988.6 1232.7,985.2 1234.3,990.8 1235.9,989.2 1237.5,983.7 1239.1,987.3 1240.4,985.6 1241.7,989.2 1243.1,993.2 1244.4,988.6 1245.7,991.3 1247.0,989.8 1248.3,991.1 1249.7,988.9 1251.0,991.9 1252.3,988.6 1253.6,990.6 1255.0,984.7 1256.3,985.6 1257.6,988.4 1258.9,988.6 1260.3,985.6 1261.6,982.3 1262.9,979.9 1264.2,982.0 1265.5,978.0 1266.9,978.1 1268.2,981.4 1269.5,989.4 1270.8,995.4 1272.2,996.5 1273.5,995.8 1274.8,998.3 1276.1,995.1 1277.4,996.0 1278.8,999.2 1280.1,995.5 1281.4,992.0 1282.7,991.2 1284.1,987.6 1285.4,986.0 1286.7,990.1 1288.0,985.4 1289.3,991.2 1290.7,989.8 1292.0,995.2 1293.3,991.5 1294.6,989.0 1296.0,987.2 1297.3,988.8 1298.6,988.6 1299.9,989.0 1301.2,989.1 1302.6,987.6 1303.9,990.7 1305.2,993.9 1306.8,988.9 1308.3,995.7 1309.8,995.5 1311.4,988.0 1312.9,987.5 1314.5,991.3 1315.8,991.4 1317.1,992.3 1318.4,992.8 1319.8,993.9 1321.1,990.2 1322.4,977.7 1323.7,970.1 1325.0,963.5 1326.4,973.5 1327.7,964.8 1328.8,957.4 1330.0,945.9 1331.1,930.4 1332.7,949.2 1334.3,978.0 1335.6,978.4 1337.0,981.6 1338.3,984.6 1339.9,971.8 1341.4,946.3 1342.6,957.2 1343.7,973.7 1344.9,986.0 1346.2,982.2 1347.5,987.2 1348.9,994.6 1350.2,991.3 1351.5,992.2 1352.8,993.9 1354.1,988.6 1355.5,972.1 1356.8,957.8 1358.1,951.6 1359.7,942.6 1361.3,947.6 1362.9,943.6 1364.5,925.9 1366.0,911.9 1367.4,945.8 1368.7,972.7 1370.0,957.9 1371.3,948.0 1372.7,941.0 1374.0,935.6 1375.3,916.6 1376.6,904.0 1377.8,921.1 1378.9,931.7 1380.1,946.3 1381.6,896.2 1383.2,853.7 1384.6,926.3 1385.9,988.6 1387.2,904.3 1388.5,824.6 1389.8,848.6 1391.2,868.2 1392.5,898.7 1393.8,929.1 1395.1,972.7 1396.5,945.3 1397.8,914.0 1399.1,880.2 1400.7,930.4 1402.3,975.4 1403.6,950.5 1404.9,939.5 1406.2,914.6 1407.4,927.3 1408.5,948.1 1409.7,970.1 1410.8,937.5 1412.0,909.5 1413.1,884.1 1414.7,893.7 1416.3,890.8 1417.6,912.2 1418.9,936.4 1420.3,964.8 1421.6,944.3 1422.9,927.8 1424.2,927.6 1425.6,923.6 1426.9,914.6 1427.9,941.6 1429.0,964.8 1430.4,954.1 1431.9,935.9 1433.4,931.3 1434.8,911.9 1436.4,940.6 1438.0,959.5 1439.3,950.6 1440.6,951.6 1441.9,913.1 1443.3,890.4 1444.6,851.1 1445.7,884.1 1446.9,915.1 1448.0,948.9 1449.4,963.3 1450.7,972.7 1452.0,958.0 1453.3,935.7 1454.6,953.8 1456.0,978.0 1457.3,936.4 1458.6,889.4 1459.9,912.9 1461.3,948.9" fill="none" stroke="#ff7f0e" stroke-width="2.1" stroke-linejoin="round"/>

</g>
<rect x="116.5" y="575.5" width="1346" height="479" fill="none" stroke="#000" stroke-width="1.35"/>
<path class="t" d="M116.5 1054.5v5.5M284.5 1054.5v5.5M452.5 1054.5v5.5M620.5 1054.5v5.5M789.5 1054.5v5.5M957.5 1054.5v5.5M1125.5 1054.5v5.5M1294.5 1054.5v5.5"/>
<path class="t" d="M116.5 620.5h-5.5M116.5 720.5h-5.5M116.5 820.5h-5.5M116.5 921.5h-5.5M116.5 1021.5h-5.5"/>
<g font-size="21" text-anchor="end">
<text x="106" y="628" textLength="41" lengthAdjust="spacingAndGlyphs">0.8</text>
<text x="106" y="728.1" textLength="41" lengthAdjust="spacingAndGlyphs">0.6</text>
<text x="106" y="828.3" textLength="41" lengthAdjust="spacingAndGlyphs">0.4</text>
<text x="106" y="928.4" textLength="41" lengthAdjust="spacingAndGlyphs">0.2</text>
<text x="106" y="1028.5" textLength="41" lengthAdjust="spacingAndGlyphs">0.0</text>
</g>
<text x="115.5" y="566.5" font-size="27" textLength="43" lengthAdjust="spacingAndGlyphs">(b)</text>
<text transform="translate(55.2,815.3) rotate(-90)" font-size="23" text-anchor="middle" textLength="208.5" lengthAdjust="spacingAndGlyphs">Peak Voltage [V]</text>
<g transform="translate(0,537)">
<rect x="1047.5" y="48.5" width="406" height="79.5" rx="3.5" fill="#fff" fill-opacity="0.8" stroke="#ccc" stroke-opacity="0.8" stroke-width="1.1"/>
<circle cx="1073" cy="63.3" r="2.7" fill="#1f77b4"/>
<path d="M1053 101.8H1092" stroke="#ff7f0e" stroke-width="1.8"/>
<g font-size="17.5">
<text x="1106.5" y="68.8" textLength="98" lengthAdjust="spacingAndGlyphs">Raw Data</text>
<text x="1106.5" y="96" textLength="269" lengthAdjust="spacingAndGlyphs">Butterworth Filtered Data</text>
<text x="1106.5" y="116" textLength="338.5" lengthAdjust="spacingAndGlyphs">(N=6, Tc=3.3333 min, Type: low)</text>
</g>
</g>
<g font-size="21.6" text-anchor="end">
<text transform="translate(113.2,1077.8) rotate(-30)" textLength="111" lengthAdjust="spacingAndGlyphs">03-20 00</text>
<text transform="translate(281.2,1077.8) rotate(-30)" textLength="111" lengthAdjust="spacingAndGlyphs">03-20 03</text>
<text transform="translate(449.2,1077.8) rotate(-30)" textLength="111" lengthAdjust="spacingAndGlyphs">03-20 06</text>
<text transform="translate(617.2,1077.8) rotate(-30)" textLength="111" lengthAdjust="spacingAndGlyphs">03-20 09</text>
<text transform="translate(786.2,1077.8) rotate(-30)" textLength="111" lengthAdjust="spacingAndGlyphs">03-20 12</text>
<text transform="translate(954.2,1077.8) rotate(-30)" textLength="111" lengthAdjust="spacingAndGlyphs">03-20 15</text>
<text transform="translate(1122.2,1077.8) rotate(-30)" textLength="111" lengthAdjust="spacingAndGlyphs">03-20 18</text>
<text transform="translate(1291.2,1077.8) rotate(-30)" textLength="111" lengthAdjust="spacingAndGlyphs">03-20 21</text>
</g>
<text x="789.5" y="1157.5" font-size="22" text-anchor="middle" textLength="50" lengthAdjust="spacingAndGlyphs">UTC</text>
</svg>
</body></html>
